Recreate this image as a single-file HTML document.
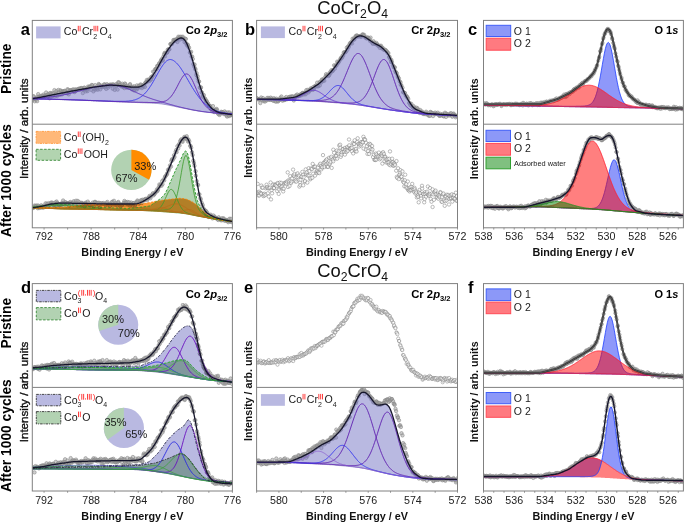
<!DOCTYPE html><html><head><meta charset="utf-8"><style>html,body{margin:0;padding:0;background:#fff;} svg{display:block;will-change:transform;} text{font-family:"Liberation Sans", sans-serif;}</style></head><body>
<svg width="685" height="522" viewBox="0 0 685 522">
<rect width="685" height="522" fill="#fff"/>
<defs>
<clipPath id="c00t"><rect x="32.3" y="20.4" width="200.10" height="103.80"/></clipPath>
<clipPath id="c00b"><rect x="32.3" y="124.2" width="200.10" height="103.60"/></clipPath>
<clipPath id="c01t"><rect x="256.6" y="20.4" width="200.90" height="103.80"/></clipPath>
<clipPath id="c01b"><rect x="256.6" y="124.2" width="200.90" height="103.60"/></clipPath>
<clipPath id="c02t"><rect x="483.5" y="20.4" width="199.90" height="103.80"/></clipPath>
<clipPath id="c02b"><rect x="483.5" y="124.2" width="199.90" height="103.60"/></clipPath>
<clipPath id="c10t"><rect x="32.3" y="283.6" width="200.10" height="103.80"/></clipPath>
<clipPath id="c10b"><rect x="32.3" y="387.4" width="200.10" height="103.60"/></clipPath>
<clipPath id="c11t"><rect x="256.6" y="283.6" width="200.90" height="103.80"/></clipPath>
<clipPath id="c11b"><rect x="256.6" y="387.4" width="200.90" height="103.60"/></clipPath>
<clipPath id="c12t"><rect x="483.5" y="283.6" width="199.90" height="103.80"/></clipPath>
<clipPath id="c12b"><rect x="483.5" y="387.4" width="199.90" height="103.60"/></clipPath>
</defs>
<g clip-path="url(#c00t)">
<defs><marker id="m0" markerWidth="5.4" markerHeight="5.4" refX="2.7" refY="2.7" markerUnits="userSpaceOnUse" overflow="visible"><circle cx="2.7" cy="2.7" r="1.7" fill="#a0a0a0" fill-opacity="0.5" stroke="#8a8a8a" stroke-width="0.6" stroke-opacity="1.0"/></marker></defs>
<polyline points="32.4,100.3 33,96.4 33.8,96.3 34.5,99.1 34.7,101.3 35.5,98.8 36.3,99.8 36.8,98 37.1,101.2 37.6,96.7 38.2,94.1 39,96.6 39.5,97.1 40.1,97.5 40.8,96.1 41.3,97.2 41.8,95.7 42.3,97.3 43.4,94.6 43.6,95.9 44.7,97 44.9,95.8 45.7,95.3 46.1,92.5 46.9,95.4 47.4,94.7 48.1,96.8 48.5,94.1 48.8,95.8 49.6,98.3 50.1,93 50.9,94.4 51.4,93.3 52.2,95.7 52.6,93.4 52.9,96 53.5,93.4 54.4,90.1 54.9,95.3 55.8,95.9 56.3,91.1 56.6,93.3 57.3,95.9 57.9,93.2 58.4,89.9 58.8,92.5 59.8,94.9 60.4,90.3 61,91.2 61.4,92.9 61.8,94.5 62.4,91.4 63.2,91.3 63.7,92.8 64.4,91 64.9,90.9 65.3,92.5 66.2,93.2 66.9,92.9 67.5,89.2 67.8,93.2 68.2,89.8 68.8,94.4 69.5,91.8 70,90.4 70.6,90.3 71.2,90.3 71.9,90.9 72.7,89.6 73.2,91.2 73.5,89.5 74.2,91.8 74.7,92.1 75.4,89.3 76.2,90.4 76.4,90 77.1,90 78,89 78.6,88.8 79.4,89.4 79.9,88.5 80.4,89.4 80.8,88.2 81.5,88.7 81.8,88 82.8,93.1 83.1,89.9 84.1,87.8 84.5,87.7 84.7,89.4 85.8,91.4 86.4,89.1 86.8,89.9 87.6,91.1 88,86.6 88.4,88 88.9,87.2 89.5,86.4 90,87.1 90.9,86.5 91.3,89.9 91.7,85 92.4,85.2 93.4,91.4 93.7,87.7 94.6,89.4 95.2,85.1 95.7,89.6 96.1,88 96.9,86.6 97.1,88.4 97.7,89.7 98.7,84 99,84.7 99.6,85.6 100.3,89.4 101.1,86.9 101.5,85.6 101.8,86.7 102.8,86.1 103.4,86.6 103.9,84.6 104.6,84.3 104.8,87.2 105.3,85.3 106.2,88.9 107,84.2 107.5,85.7 108.1,87.7 108.3,85.5 108.9,85.6 109.5,84.9 110.6,84.5 110.7,85.6 111.3,85.2 112.3,84.5 112.6,88.7 113.1,84.6 113.7,84.6 114.5,85.4 114.7,89.9 115.5,85.7 116.2,84.1 116.5,85.9 117.6,89.6 117.7,84.7 118.3,82.2 119.1,82.6 119.8,85 120.3,84.6 120.8,85.8 121.3,86.5 122.3,83.7 122.7,86.7 123.5,85 123.7,87 124.3,88.1 124.9,83.5 125.5,84.3 126.2,85.9 126.6,87.7 127.1,86.7 128,87.3 128.6,87.1 129,87.3 129.9,85.1 130.1,84.1 130.6,87 131.7,88.4 132.3,89.6 132.8,86.8 133.2,87.9 134.1,86.3 134.2,90.5 135.2,88.6 135.8,87.5 136.4,89.7 136.9,85.4 137.5,87.8 137.7,88.6 138.7,86.3 138.9,85.8 140,87.3 140.3,84.6 141.1,84.7 141.4,86.6 141.9,88.1 142.6,85.8 143.3,86.5 143.6,85.4 144.2,84.3 144.9,86.9 145.5,82.5 145.9,82.3 146.8,80 147.3,81.8 148.1,80.9 148.5,79.4 149.1,80.2 149.7,80.9 150.5,79.5 151,77.2 151.2,79.3 152.3,76.9 152.4,76.2 153.1,71.6 153.9,74.6 154.5,71.5 155.2,69.2 155.8,69 156.5,68.8 156.6,68.9 157.2,65.9 157.7,66.3 158.6,65.3 159.1,63.3 159.5,64 160.6,61.6 161.1,60.3 161.7,59.1 162.3,60.8 162.9,60.2 163.3,56.7 164.1,54.3 164.7,52.8 165,56.4 165.4,53.3 166.4,52.8 167.1,52.6 167.3,52.1 167.7,49.7 168.7,49.8 168.8,49.1 169.4,49.3 170.4,44.1 170.7,44.1 171.4,43.9 172.1,43.9 172.5,42.6 173.4,40 174.1,40.1 174.6,40.9 175.2,39.6 175.5,40.1 176,40.7 176.9,39 177.4,42 178.2,38.3 178.3,36.7 179,38.4 179.7,36.9 180,39.6 180.9,36.7 181.4,38.4 182.3,37.4 182.8,36.7 183.2,38.7 183.7,39.2 184.5,42.1 185,38.5 185.9,39 186.1,43.1 186.9,45.2 187.2,44.3 188,45 188.3,46.8 189.1,47.8 189.9,52.5 190.4,52.7 191.1,51.8 191.5,56.6 192.2,56.6 192.8,59 193.3,64.2 194.1,66.4 194.6,64.5 195.2,68.5 195.5,69.7 196.3,75.1 196.6,73.1 197.6,76.3 197.7,78.6 198.6,81.4 199.1,81.5 199.8,87.5 200.6,88.2 201,87.3 201.6,92.2 201.9,92.6 202.5,96.7 203,95.7 203.8,95 204.5,98.2 205.1,98.7 205.7,101.3 206.3,100.5 206.6,101.3 207.6,103.1 208.2,103.7 208.8,106.1 209.3,105.8 210,106.1 210.4,106.3 211.1,109.3 211.7,109.2 211.9,110.6 213,106.1 213.4,110.9 213.9,109.8 214.2,112.1 214.8,110.1 215.8,109.5 216.1,110.6 216.7,108.9 217.2,110.2 217.7,113.1 218.4,114.2 219.4,113.3 219.6,115 220.5,113.4 221.2,111.8 221.7,112.1 221.9,112.8 222.6,112.5 223.3,112.6 223.7,114 224.6,111.4 224.9,114 225.8,112.6 226.5,115.6 227.1,116.6 227.6,114.7 227.9,112.4 228.8,115.5 229.1,116.1 229.5,112.4 230.6,115.3 231,114.5 231.3,113.8 232.1,115.1" fill="none" stroke="none" marker-start="url(#m0)" marker-mid="url(#m0)" marker-end="url(#m0)"/>
<path d="M32.3,98.7 33.3,98.6 34.3,98.4 35.3,98.2 36.3,98.1 37.3,97.9 38.3,97.7 39.3,97.5 40.3,97.3 41.3,97.1 42.3,96.9 43.3,96.7 44.3,96.5 45.3,96.3 46.3,96.1 47.3,95.9 48.3,95.7 49.3,95.5 50.3,95.3 51.3,95.1 52.3,94.9 53.3,94.7 54.3,94.5 55.3,94.3 56.3,94.1 57.3,93.9 58.3,93.7 59.3,93.6 60.3,93.4 61.3,93.2 62.3,93 63.3,92.8 64.3,92.6 65.3,92.4 66.3,92.2 67.3,92 68.3,91.8 69.3,91.6 70.3,91.4 71.3,91.2 72.3,91 73.3,90.8 74.3,90.6 75.3,90.5 76.3,90.3 77.3,90.1 78.3,89.9 79.3,89.7 80.3,89.6 81.3,89.4 82.3,89.2 83.3,89 84.3,88.8 85.3,88.6 86.3,88.5 87.3,88.3 88.3,88.1 89.3,87.9 90.3,87.7 91.3,87.6 92.3,87.4 93.3,87.2 94.3,87.1 95.3,86.9 96.3,86.8 97.3,86.7 98.3,86.6 99.3,86.4 100.3,86.3 101.3,86.2 102.3,86 103.3,85.9 104.3,85.8 105.3,85.7 106.3,85.5 107.3,85.4 108.3,85.3 109.3,85.2 110.3,85.2 111.3,85.2 112.3,85.2 113.3,85.3 114.3,85.3 115.3,85.4 116.3,85.4 117.3,85.5 118.3,85.5 119.3,85.6 120.3,85.7 121.3,85.8 122.3,85.9 123.3,86.1 124.3,86.2 125.3,86.3 126.3,86.5 127.3,86.6 128.3,86.8 129.3,86.9 130.3,87 131.3,87.1 132.4,87.1 133.4,87.2 134.4,87.2 135.4,87.2 136.4,87.2 137.4,87.1 138.4,87 139.4,86.8 140.4,86.5 141.4,86.1 142.4,85.6 143.4,85 144.4,84.3 145.4,83.6 146.4,82.7 147.4,81.7 148.4,80.7 149.4,79.7 150.4,78.6 151.4,77.3 152.4,76 153.4,74.5 154.4,73 155.4,71.5 156.4,69.8 157.4,68 158.4,66.2 159.4,64.3 160.4,62.5 161.4,60.7 162.4,58.9 163.4,57.2 164.4,55.5 165.4,53.8 166.4,52.1 167.4,50.6 168.4,49.1 169.4,47.8 170.4,46.5 171.4,45.2 172.4,43.9 173.4,42.7 174.4,41.7 175.4,40.8 176.4,40.1 177.4,39.4 178.4,38.8 179.4,38.3 180.4,38 181.4,38 182.4,38.2 183.4,38.8 184.4,39.7 185.4,41.1 186.4,42.8 187.4,44.9 188.4,47.4 189.4,50.2 190.4,53.1 191.4,56.2 192.4,59.6 193.4,63.1 194.4,66.7 195.4,70.3 196.4,73.8 197.4,77.4 198.4,80.9 199.4,84.2 200.4,87.4 201.4,90.3 202.4,93 203.4,95.7 204.4,98.1 205.4,100.2 206.4,101.8 207.4,103.2 208.4,104.5 209.4,105.7 210.4,106.9 211.4,108 212.4,109 213.4,109.7 214.4,110.2 215.4,110.8 216.4,111.3 217.4,111.8 218.4,112.2 219.4,112.6 220.4,112.8 221.4,113 222.4,113.1 223.4,113.3 224.4,113.4 225.4,113.6 226.4,113.7 227.4,113.9 228.4,114.1 229.4,114.2 230.4,114.3 231.4,114.5 232.4,114.6 232.4,114.4 231.4,114.3 230.4,114.3 229.4,114.2 228.4,114.2 227.4,114.1 226.4,114.1 225.4,114 224.4,113.9 223.4,113.9 222.4,113.8 221.4,113.7 220.4,113.6 219.4,113.5 218.4,113.4 217.4,113.4 216.4,113.3 215.4,113.2 214.4,113.1 213.4,113 212.4,112.9 211.4,112.7 210.4,112.6 209.4,112.5 208.4,112.4 207.4,112.3 206.4,112.2 205.4,112 204.4,111.9 203.4,111.8 202.4,111.7 201.4,111.5 200.4,111.4 199.4,111.2 198.4,111.1 197.4,110.9 196.4,110.7 195.4,110.5 194.4,110.4 193.4,110.2 192.4,110 191.4,109.8 190.4,109.6 189.4,109.4 188.4,109.2 187.4,109 186.4,108.8 185.4,108.6 184.4,108.4 183.4,108.2 182.4,108 181.4,107.8 180.4,107.6 179.4,107.4 178.4,107.2 177.4,107 176.4,106.8 175.4,106.5 174.4,106.3 173.4,106.1 172.4,105.9 171.4,105.7 170.4,105.5 169.4,105.3 168.4,105.1 167.4,104.9 166.4,104.7 165.4,104.5 164.4,104.4 163.4,104.2 162.4,104.1 161.4,103.9 160.4,103.8 159.4,103.7 158.4,103.6 157.4,103.5 156.4,103.4 155.4,103.4 154.4,103.3 153.4,103.2 152.4,103.2 151.4,103.1 150.4,103.1 149.4,103 148.4,103 147.4,103 146.4,102.9 145.4,102.9 144.4,102.8 143.4,102.8 142.4,102.8 141.4,102.7 140.4,102.7 139.4,102.6 138.4,102.6 137.4,102.6 136.4,102.5 135.4,102.5 134.4,102.4 133.4,102.4 132.4,102.4 131.3,102.3 130.3,102.3 129.3,102.3 128.3,102.2 127.3,102.2 126.3,102.1 125.3,102.1 124.3,102.1 123.3,102 122.3,102 121.3,101.9 120.3,101.9 119.3,101.9 118.3,101.8 117.3,101.8 116.3,101.7 115.3,101.7 114.3,101.7 113.3,101.6 112.3,101.6 111.3,101.5 110.3,101.5 109.3,101.4 108.3,101.4 107.3,101.4 106.3,101.3 105.3,101.3 104.3,101.2 103.3,101.2 102.3,101.1 101.3,101.1 100.3,101.1 99.3,101 98.3,101 97.3,100.9 96.3,100.9 95.3,100.8 94.3,100.8 93.3,100.8 92.3,100.7 91.3,100.7 90.3,100.6 89.3,100.6 88.3,100.6 87.3,100.5 86.3,100.5 85.3,100.4 84.3,100.4 83.3,100.3 82.3,100.3 81.3,100.3 80.3,100.2 79.3,100.2 78.3,100.1 77.3,100.1 76.3,100.1 75.3,100 74.3,100 73.3,100 72.3,99.9 71.3,99.9 70.3,99.8 69.3,99.8 68.3,99.8 67.3,99.8 66.3,99.7 65.3,99.7 64.3,99.7 63.3,99.6 62.3,99.6 61.3,99.6 60.3,99.6 59.3,99.5 58.3,99.5 57.3,99.5 56.3,99.5 55.3,99.4 54.3,99.4 53.3,99.4 52.3,99.3 51.3,99.3 50.3,99.3 49.3,99.3 48.3,99.2 47.3,99.2 46.3,99.2 45.3,99.2 44.3,99.1 43.3,99.1 42.3,99.1 41.3,99 40.3,99 39.3,99 38.3,99 37.3,99 36.3,98.9 35.3,98.9 34.3,98.9 33.3,98.9 32.3,98.9Z" fill="#7373c3" fill-opacity="0.5" stroke="none"/>
<path d="M32.3,98.9 33.3,98.9 34.3,98.9 35.3,98.9 36.3,98.9 37.3,99 38.3,99 39.3,99 40.3,99 41.3,99 42.3,99.1 43.3,99.1 44.3,99.1 45.3,99.2 46.3,99.2 47.3,99.2 48.3,99.2 49.3,99.3 50.3,99.3 51.3,99.3 52.3,99.3 53.3,99.4 54.3,99.4 55.3,99.4 56.3,99.5 57.3,99.5 58.3,99.5 59.3,99.5 60.3,99.6 61.3,99.6 62.3,99.6 63.3,99.6 64.3,99.7 65.3,99.7 66.3,99.7 67.3,99.8 68.3,99.8 69.3,99.8 70.3,99.8 71.3,99.9 72.3,99.9 73.3,100 74.3,100 75.3,100 76.3,100.1 77.3,100.1 78.3,100.1 79.3,100.2 80.3,100.2 81.3,100.3 82.3,100.3 83.3,100.3 84.3,100.4 85.3,100.4 86.3,100.5 87.3,100.5 88.3,100.6 89.3,100.6 90.3,100.6 91.3,100.7 92.3,100.7 93.3,100.8 94.3,100.8 95.3,100.8 96.3,100.9 97.3,100.9 98.3,101 99.3,101 100.3,101.1 101.3,101.1 102.3,101.1 103.3,101.2 104.3,101.2 105.3,101.3 106.3,101.3 107.3,101.4 108.3,101.4 109.3,101.4 110.3,101.5 111.3,101.5 112.3,101.6 113.3,101.6 114.3,101.7 115.3,101.7 116.3,101.7 117.3,101.8 118.3,101.8 119.3,101.9 120.3,101.9 121.3,101.9 122.3,102 123.3,102 124.3,102.1 125.3,102.1 126.3,102.1 127.3,102.2 128.3,102.2 129.3,102.3 130.3,102.3 131.3,102.3 132.4,102.4 133.4,102.4 134.4,102.4 135.4,102.5 136.4,102.5 137.4,102.6 138.4,102.6 139.4,102.6 140.4,102.7 141.4,102.7 142.4,102.8 143.4,102.8 144.4,102.8 145.4,102.9 146.4,102.9 147.4,103 148.4,103 149.4,103 150.4,103.1 151.4,103.1 152.4,103.2 153.4,103.2 154.4,103.3 155.4,103.4 156.4,103.4 157.4,103.5 158.4,103.6 159.4,103.7 160.4,103.8 161.4,103.9 162.4,104.1 163.4,104.2 164.4,104.4 165.4,104.5 166.4,104.7 167.4,104.9 168.4,105.1 169.4,105.3 170.4,105.5 171.4,105.7 172.4,105.9 173.4,106.1 174.4,106.3 175.4,106.5 176.4,106.8 177.4,107 178.4,107.2 179.4,107.4 180.4,107.6 181.4,107.8 182.4,108 183.4,108.2 184.4,108.4 185.4,108.6 186.4,108.8 187.4,109 188.4,109.2 189.4,109.4 190.4,109.6 191.4,109.8 192.4,110 193.4,110.2 194.4,110.4 195.4,110.5 196.4,110.7 197.4,110.9 198.4,111.1 199.4,111.2 200.4,111.4 201.4,111.5 202.4,111.7 203.4,111.8 204.4,111.9 205.4,112 206.4,112.2 207.4,112.3 208.4,112.4 209.4,112.5 210.4,112.6 211.4,112.7 212.4,112.9 213.4,113 214.4,113.1 215.4,113.2 216.4,113.3 217.4,113.4 218.4,113.4 219.4,113.5 220.4,113.6 221.4,113.7 222.4,113.8 223.4,113.9 224.4,113.9 225.4,114 226.4,114.1 227.4,114.1 228.4,114.2 229.4,114.2 230.4,114.3 231.4,114.3 232.4,114.4" fill="none" stroke="#6a5ab0" stroke-width="0.6" stroke-opacity="1.0" stroke-linejoin="round"/>
<path d="M32.3,98.1 33.3,98 34.3,98 35.3,98 36.3,97.9 37.3,97.9 38.3,97.8 39.3,97.8 40.3,97.7 41.3,97.7 42.3,97.6 43.3,97.6 44.3,97.5 45.3,97.4 46.3,97.3 47.3,97.2 48.3,97.2 49.3,97.1 50.3,96.9 51.3,96.8 52.3,96.7 53.3,96.6 54.3,96.5 55.3,96.3 56.3,96.2 57.3,96 58.3,95.9 59.3,95.7 60.3,95.5 61.3,95.3 62.3,95.1 63.3,95 64.3,94.7 65.3,94.5 66.3,94.3 67.3,94.1 68.3,93.9 69.3,93.6 70.3,93.4 71.3,93.2 72.3,92.9 73.3,92.6 74.3,92.4 75.3,92.1 76.3,91.9 77.3,91.6 78.3,91.3 79.3,91.1 80.3,90.8 81.3,90.5 82.3,90.2 83.3,90 84.3,89.7 85.3,89.4 86.3,89.1 87.3,88.9 88.3,88.6 89.3,88.3 90.3,88.1 91.3,87.8 92.3,87.6 93.3,87.3 94.3,87.1 95.3,86.9 96.3,86.7 97.3,86.5 98.3,86.3 99.3,86.1 100.3,85.9 101.3,85.8 102.3,85.6 103.3,85.5 104.3,85.4 105.3,85.3 106.3,85.2 107.3,85.1 108.3,85.1 109.3,85.1 110.3,85 111.3,85 112.3,85.1 113.3,85.1 114.3,85.2 115.3,85.3 116.3,85.4 117.3,85.6 118.3,85.8 119.3,86 120.3,86.2 121.3,86.5 122.3,86.8 123.3,87.1 124.3,87.4 125.3,87.8 126.3,88.2 127.3,88.6 128.3,89 129.3,89.4 130.3,89.8 131.3,90.3 132.4,90.7 133.4,91.2 134.4,91.6 135.4,92.1 136.4,92.6 137.4,93 138.4,93.5 139.4,93.9 140.4,94.4 141.4,94.8 142.4,95.2 143.4,95.7 144.4,96.1 145.4,96.5 146.4,96.9 147.4,97.3 148.4,97.7 149.4,98 150.4,98.4 151.4,98.7 152.4,99.1 153.4,99.4 154.4,99.7 155.4,100 156.4,100.3 157.4,100.6 158.4,100.9 159.4,101.2 160.4,101.5 161.4,101.8 162.4,102.1 163.4,102.4 164.4,102.7 165.4,103 166.4,103.3 167.4,103.6 168.4,103.9 169.4,104.2 170.4,104.5 171.4,104.7 172.4,105 173.4,105.3 174.4,105.6 175.4,105.9 176.4,106.1 177.4,106.4 178.4,106.6 179.4,106.9 180.4,107.1 181.4,107.4 182.4,107.6 183.4,107.8 184.4,108.1 185.4,108.3 186.4,108.5 187.4,108.7 188.4,109 189.4,109.2 190.4,109.4 191.4,109.6 192.4,109.8 193.4,110 194.4,110.2 195.4,110.3 196.4,110.5 197.4,110.7 198.4,110.9 199.4,111 200.4,111.2 201.4,111.4 202.4,111.5 203.4,111.6 204.4,111.8 205.4,111.9 206.4,112 207.4,112.2 208.4,112.3 209.4,112.4 210.4,112.5 211.4,112.6 212.4,112.7 213.4,112.8 214.4,112.9 215.4,113.1 216.4,113.2 217.4,113.2 218.4,113.3 219.4,113.4 220.4,113.5 221.4,113.6 222.4,113.7 223.4,113.8 224.4,113.8 225.4,113.9 226.4,114 227.4,114 228.4,114.1 229.4,114.2 230.4,114.2 231.4,114.3 232.4,114.3" fill="none" stroke="#5a2ab8" stroke-width="0.9" stroke-opacity="1.0" stroke-linejoin="round"/>
<path d="M32.3,98.8 33.3,98.8 34.3,98.8 35.3,98.8 36.3,98.9 37.3,98.9 38.3,98.9 39.3,98.9 40.3,98.9 41.3,99 42.3,99 43.3,99 44.3,99 45.3,99.1 46.3,99.1 47.3,99.1 48.3,99.1 49.3,99.2 50.3,99.2 51.3,99.2 52.3,99.2 53.3,99.3 54.3,99.3 55.3,99.3 56.3,99.4 57.3,99.4 58.3,99.4 59.3,99.4 60.3,99.5 61.3,99.5 62.3,99.5 63.3,99.5 64.3,99.6 65.3,99.6 66.3,99.6 67.3,99.6 68.3,99.7 69.3,99.7 70.3,99.7 71.3,99.8 72.3,99.8 73.3,99.8 74.3,99.8 75.3,99.9 76.3,99.9 77.3,100 78.3,100 79.3,100 80.3,100.1 81.3,100.1 82.3,100.1 83.3,100.2 84.3,100.2 85.3,100.3 86.3,100.3 87.3,100.3 88.3,100.4 89.3,100.4 90.3,100.4 91.3,100.5 92.3,100.5 93.3,100.6 94.3,100.6 95.3,100.6 96.3,100.7 97.3,100.7 98.3,100.7 99.3,100.8 100.3,100.8 101.3,100.8 102.3,100.9 103.3,100.9 104.3,100.9 105.3,101 106.3,101 107.3,101 108.3,101.1 109.3,101.1 110.3,101.1 111.3,101.2 112.3,101.2 113.3,101.2 114.3,101.3 115.3,101.3 116.3,101.3 117.3,101.3 118.3,101.3 119.3,101.3 120.3,101.3 121.3,101.3 122.3,101.3 123.3,101.3 124.3,101.3 125.3,101.3 126.3,101.2 127.3,101.1 128.3,101.1 129.3,100.9 130.3,100.8 131.3,100.7 132.4,100.5 133.4,100.2 134.4,100 135.4,99.7 136.4,99.3 137.4,98.9 138.4,98.4 139.4,97.9 140.4,97.2 141.4,96.6 142.4,95.8 143.4,94.9 144.4,94 145.4,92.9 146.4,91.8 147.4,90.6 148.4,89.2 149.4,87.8 150.4,86.3 151.4,84.8 152.4,83.1 153.4,81.4 154.4,79.6 155.4,77.8 156.4,76 157.4,74.2 158.4,72.4 159.4,70.7 160.4,68.9 161.4,67.3 162.4,65.8 163.4,64.4 164.4,63.1 165.4,62 166.4,61.1 167.4,60.4 168.4,59.9 169.4,59.6 170.4,59.5 171.4,59.7 172.4,60 173.4,60.5 174.4,61.2 175.4,62 176.4,62.9 177.4,63.9 178.4,65.1 179.4,66.3 180.4,67.7 181.4,69.2 182.4,70.7 183.4,72.3 184.4,73.9 185.4,75.6 186.4,77.3 187.4,79 188.4,80.7 189.4,82.5 190.4,84.2 191.4,85.9 192.4,87.6 193.4,89.2 194.4,90.8 195.4,92.3 196.4,93.8 197.4,95.2 198.4,96.6 199.4,97.9 200.4,99.2 201.4,100.3 202.4,101.4 203.4,102.5 204.4,103.4 205.4,104.3 206.4,105.2 207.4,106 208.4,106.7 209.4,107.4 210.4,108 211.4,108.6 212.4,109.1 213.4,109.6 214.4,110 215.4,110.5 216.4,110.8 217.4,111.2 218.4,111.5 219.4,111.8 220.4,112 221.4,112.3 222.4,112.5 223.4,112.7 224.4,112.8 225.4,113 226.4,113.2 227.4,113.3 228.4,113.4 229.4,113.5 230.4,113.6 231.4,113.7 232.4,113.8" fill="none" stroke="#3535ee" stroke-width="0.9" stroke-opacity="1.0" stroke-linejoin="round"/>
<path d="M32.3,98.8 33.3,98.8 34.3,98.9 35.3,98.9 36.3,98.9 37.3,98.9 38.3,98.9 39.3,99 40.3,99 41.3,99 42.3,99 43.3,99.1 44.3,99.1 45.3,99.1 46.3,99.1 47.3,99.2 48.3,99.2 49.3,99.2 50.3,99.2 51.3,99.3 52.3,99.3 53.3,99.3 54.3,99.3 55.3,99.4 56.3,99.4 57.3,99.4 58.3,99.5 59.3,99.5 60.3,99.5 61.3,99.5 62.3,99.6 63.3,99.6 64.3,99.6 65.3,99.6 66.3,99.7 67.3,99.7 68.3,99.7 69.3,99.8 70.3,99.8 71.3,99.8 72.3,99.9 73.3,99.9 74.3,99.9 75.3,100 76.3,100 77.3,100 78.3,100.1 79.3,100.1 80.3,100.1 81.3,100.2 82.3,100.2 83.3,100.3 84.3,100.3 85.3,100.3 86.3,100.4 87.3,100.4 88.3,100.5 89.3,100.5 90.3,100.5 91.3,100.6 92.3,100.6 93.3,100.7 94.3,100.7 95.3,100.7 96.3,100.8 97.3,100.8 98.3,100.9 99.3,100.9 100.3,100.9 101.3,101 102.3,101 103.3,101.1 104.3,101.1 105.3,101.1 106.3,101.2 107.3,101.2 108.3,101.3 109.3,101.3 110.3,101.3 111.3,101.4 112.3,101.4 113.3,101.5 114.3,101.5 115.3,101.5 116.3,101.6 117.3,101.6 118.3,101.6 119.3,101.7 120.3,101.7 121.3,101.7 122.3,101.8 123.3,101.8 124.3,101.8 125.3,101.9 126.3,101.9 127.3,101.9 128.3,102 129.3,102 130.3,102 131.3,102.1 132.4,102.1 133.4,102.1 134.4,102.1 135.4,102.2 136.4,102.2 137.4,102.2 138.4,102.3 139.4,102.3 140.4,102.3 141.4,102.3 142.4,102.3 143.4,102.4 144.4,102.4 145.4,102.4 146.4,102.4 147.4,102.4 148.4,102.5 149.4,102.5 150.4,102.5 151.4,102.5 152.4,102.5 153.4,102.5 154.4,102.5 155.4,102.5 156.4,102.5 157.4,102.4 158.4,102.4 159.4,102.3 160.4,102.2 161.4,102.1 162.4,101.9 163.4,101.7 164.4,101.3 165.4,101 166.4,100.5 167.4,99.9 168.4,99.1 169.4,98.3 170.4,97.2 171.4,96.1 172.4,94.7 173.4,93.3 174.4,91.6 175.4,89.9 176.4,88.1 177.4,86.2 178.4,84.2 179.4,82.3 180.4,80.4 181.4,78.7 182.4,77.2 183.4,75.8 184.4,74.8 185.4,74.2 186.4,73.9 187.4,74.1 188.4,74.6 189.4,75.6 190.4,76.9 191.4,78.6 192.4,80.4 193.4,82.5 194.4,84.8 195.4,87.1 196.4,89.4 197.4,91.7 198.4,93.9 199.4,96.1 200.4,98.1 201.4,99.9 202.4,101.7 203.4,103.2 204.4,104.6 205.4,105.8 206.4,106.9 207.4,107.9 208.4,108.7 209.4,109.4 210.4,110 211.4,110.5 212.4,110.9 213.4,111.3 214.4,111.6 215.4,111.9 216.4,112.1 217.4,112.3 218.4,112.5 219.4,112.7 220.4,112.9 221.4,113 222.4,113.1 223.4,113.2 224.4,113.3 225.4,113.4 226.4,113.5 227.4,113.6 228.4,113.7 229.4,113.8 230.4,113.9 231.4,113.9 232.4,114" fill="none" stroke="#6020b0" stroke-width="0.9" stroke-opacity="1.0" stroke-linejoin="round"/>
<path d="M32.3,98.7 33.3,98.6 34.3,98.4 35.3,98.2 36.3,98.1 37.3,97.9 38.3,97.7 39.3,97.5 40.3,97.3 41.3,97.1 42.3,96.9 43.3,96.7 44.3,96.5 45.3,96.3 46.3,96.1 47.3,95.9 48.3,95.7 49.3,95.5 50.3,95.3 51.3,95.1 52.3,94.9 53.3,94.7 54.3,94.5 55.3,94.3 56.3,94.1 57.3,93.9 58.3,93.7 59.3,93.6 60.3,93.4 61.3,93.2 62.3,93 63.3,92.8 64.3,92.6 65.3,92.4 66.3,92.2 67.3,92 68.3,91.8 69.3,91.6 70.3,91.4 71.3,91.2 72.3,91 73.3,90.8 74.3,90.6 75.3,90.5 76.3,90.3 77.3,90.1 78.3,89.9 79.3,89.7 80.3,89.6 81.3,89.4 82.3,89.2 83.3,89 84.3,88.8 85.3,88.6 86.3,88.5 87.3,88.3 88.3,88.1 89.3,87.9 90.3,87.7 91.3,87.6 92.3,87.4 93.3,87.2 94.3,87.1 95.3,86.9 96.3,86.8 97.3,86.7 98.3,86.6 99.3,86.4 100.3,86.3 101.3,86.2 102.3,86 103.3,85.9 104.3,85.8 105.3,85.7 106.3,85.5 107.3,85.4 108.3,85.3 109.3,85.2 110.3,85.2 111.3,85.2 112.3,85.2 113.3,85.3 114.3,85.3 115.3,85.4 116.3,85.4 117.3,85.5 118.3,85.5 119.3,85.6 120.3,85.7 121.3,85.8 122.3,85.9 123.3,86.1 124.3,86.2 125.3,86.3 126.3,86.5 127.3,86.6 128.3,86.8 129.3,86.9 130.3,87 131.3,87.1 132.4,87.1 133.4,87.2 134.4,87.2 135.4,87.2 136.4,87.2 137.4,87.1 138.4,87 139.4,86.8 140.4,86.5 141.4,86.1 142.4,85.6 143.4,85 144.4,84.3 145.4,83.6 146.4,82.7 147.4,81.7 148.4,80.7 149.4,79.7 150.4,78.6 151.4,77.3 152.4,76 153.4,74.5 154.4,73 155.4,71.5 156.4,69.8 157.4,68 158.4,66.2 159.4,64.3 160.4,62.5 161.4,60.7 162.4,58.9 163.4,57.2 164.4,55.5 165.4,53.8 166.4,52.1 167.4,50.6 168.4,49.1 169.4,47.8 170.4,46.5 171.4,45.2 172.4,43.9 173.4,42.7 174.4,41.7 175.4,40.8 176.4,40.1 177.4,39.4 178.4,38.8 179.4,38.3 180.4,38 181.4,38 182.4,38.2 183.4,38.8 184.4,39.7 185.4,41.1 186.4,42.8 187.4,44.9 188.4,47.4 189.4,50.2 190.4,53.1 191.4,56.2 192.4,59.6 193.4,63.1 194.4,66.7 195.4,70.3 196.4,73.8 197.4,77.4 198.4,80.9 199.4,84.2 200.4,87.4 201.4,90.3 202.4,93 203.4,95.7 204.4,98.1 205.4,100.2 206.4,101.8 207.4,103.2 208.4,104.5 209.4,105.7 210.4,106.9 211.4,108 212.4,109 213.4,109.7 214.4,110.2 215.4,110.8 216.4,111.3 217.4,111.8 218.4,112.2 219.4,112.6 220.4,112.8 221.4,113 222.4,113.1 223.4,113.3 224.4,113.4 225.4,113.6 226.4,113.7 227.4,113.9 228.4,114.1 229.4,114.2 230.4,114.3 231.4,114.5 232.4,114.6" fill="none" stroke="#15152a" stroke-width="1.3" stroke-opacity="1.0" stroke-linejoin="round"/>
</g>
<rect x="36.1" y="26.4" width="24.5" height="12" fill="#7373c3" fill-opacity="0.5"/>
<text x="63.80" y="35.10" font-size="10.6" fill="#1a1a1a">Co</text>
<rect x="77.80" y="25.80" width="0.9" height="5.50" fill="#ff2a2a"/>
<rect x="79.65" y="25.80" width="0.9" height="5.50" fill="#ff2a2a"/>
<text x="81.95" y="35.10" font-size="10.6" fill="#1a1a1a">Cr</text>
<text x="93.14" y="38.90" font-size="7" fill="#1a1a1a">2</text>
<rect x="93.59" y="25.80" width="0.9" height="5.50" fill="#ff2a2a"/>
<rect x="95.44" y="25.80" width="0.9" height="5.50" fill="#ff2a2a"/>
<rect x="97.29" y="25.80" width="0.9" height="5.50" fill="#ff2a2a"/>
<text x="99.59" y="35.10" font-size="10.6" fill="#1a1a1a">O</text>
<text x="107.83" y="38.90" font-size="7" fill="#1a1a1a">4</text>
<g clip-path="url(#c00b)">
<polyline points="32.9,208.1 33.1,207.5 34.2,207.3 34.5,205.5 35.4,206 35.8,206.2 36.6,205.5 37.6,208.2 38.2,205.5 38.5,206.4 39,208.1 39.9,206.8 40.6,207.7 41.3,205.3 41.8,207.3 42.4,206.2 43.3,207.8 43.8,205.7 44.9,206.1 45.6,203.3 46.1,205.5 46.9,203.8 47.6,206 48.1,206.6 48.6,203.1 49.6,204.1 50,204.9 50.9,203 51.5,202.4 52.2,204.3 52.8,202.9 53.2,203.9 54.1,205.1 54.5,206.1 55.6,202.3 56.1,206.5 56.6,201.5 57.4,203.1 57.9,203.7 58.9,204.7 59.4,205.3 60.1,204.2 60.9,203.8 61,205.1 62.1,202.9 62.9,204 63.1,200.5 63.8,202.7 64.5,204.1 65.4,202.2 65.7,202.6 66.8,203.7 67.1,203.4 68.1,203.1 68.4,203.1 69.1,205.6 69.8,202.7 70.4,202 71.6,203.4 71.9,203.5 72.7,203.2 73.2,202.6 73.7,201.2 74.8,204 75.6,203.4 76.1,200.7 76.6,203.6 77.2,205.2 77.8,200.9 78.4,204.2 79.4,202.2 79.8,204.4 80.9,203.3 81.3,205.2 81.7,202.8 82.4,203.2 83,203.8 84.1,204 84.7,206.5 85.6,203.2 85.8,202.6 86.7,203.9 87.4,204.2 87.8,201.6 88.6,203.5 89,203.6 89.9,205.2 90.5,205 91.1,204 91.8,204.5 92.7,202.6 93.4,203.9 93.8,206.5 94.8,201.9 95.3,202 95.7,203.6 96.6,203 97.1,203.6 98.2,202.7 98.9,205 99.4,202.9 99.9,207.4 100.4,203.6 101.2,203.3 102.2,203.8 102.6,203.7 103.3,203 104.1,204 104.4,203.7 105.6,205.2 105.7,204 106.7,203.1 107.3,201.9 107.9,204.5 108.4,204.4 109.5,204.4 110.1,205.9 110.4,203.5 111.4,204.4 112,201.9 112.6,201.8 113.2,204.6 114,200.8 114.9,204.5 115.6,204.6 115.8,203.1 116.7,203.9 117.4,205.4 118.3,201.9 118.4,202.8 119.3,204.7 120,204 120.4,206.4 121.6,205.4 122.1,204.8 122.5,204.8 123.4,203.4 124,202.7 124.4,200.9 125.5,203.2 125.8,202 126.5,203.8 127.6,202 128,204.5 129,204.3 129.1,202.3 130,205.7 130.9,204.3 131.2,202.5 132,203.9 132.8,205.9 133.3,203.2 134.3,202.9 134.8,205.8 135.5,204.5 136.1,203.1 136.6,202 137.4,200.5 137.7,201.5 138.9,203.6 139.4,203.1 140.3,202.5 140.8,200.3 141.6,200.4 141.8,202.9 142.5,199.7 143.5,200.4 144.2,200.3 144.5,199.5 145.2,199.2 146.1,198.7 147,199.2 147.1,200.4 148.2,198.2 148.8,197.9 149.5,195.9 149.9,196.9 150.4,198.3 151.1,196.2 152.2,194.6 152.9,193.3 153.5,195.4 154.2,194.2 154.6,193.9 155.3,192.5 156.1,191.8 157,189.4 157.3,191.2 158,189.8 158.8,187.2 159.4,184.4 159.8,185.9 160.9,184.4 161.5,185.8 162.1,181.2 162.5,184.2 163.4,179.7 164.2,180.4 164.9,177.2 165.2,176.5 166,175.6 167,174.3 167.1,173.4 168,169.8 168.6,170.7 169.2,168.8 170,165.4 171,166.6 171.3,161.1 171.9,159.3 172.5,160.3 173.5,158.6 174,155.2 174.5,157 175.6,151.8 176.2,150 176.6,152.2 177.4,146.2 178.2,148.5 178.9,144.2 179.6,145.5 180.3,141.3 180.6,140.4 181.3,139.3 182,141.2 182.6,141.8 183.4,138.8 184.3,136.9 184.5,138.5 185.3,137.4 186.3,139.1 186.7,136.2 187.4,138.6 188,141.6 188.6,139.8 189.3,141.4 190.3,145.6 190.5,146.3 191.2,147.7 192,152.2 192.6,155 193.3,160.7 194,163 194.5,165.8 195.6,171.2 195.8,175.7 196.7,181.1 197.5,184.4 198.1,185.1 198.7,194.3 199.4,194.3 200.3,198.1 200.8,199.4 201.7,202.7 202.3,206.1 202.7,204.9 203.4,208.3 204.3,209.8 204.5,211.7 205.6,210.8 205.8,210.9 206.4,214.6 207.2,212.5 207.8,214.1 208.8,217 209.5,216.4 209.8,215.5 210.7,214.7 211.4,216.7 211.8,217 212.5,218.4 213.4,215.5 214.2,217.5 214.7,216.7 215.2,217.9 215.9,218.1 216.5,218.1 217.5,219.3 218.3,220 218.7,217.3 219.6,219 220.3,219.4 220.8,219.4 221.3,220.4 222,218.2 222.9,220.1 223.6,218.3 223.9,219.2 224.9,220.9 225.5,220 226.2,220 226.8,220.1 227.2,221 228.2,222.2 228.8,220.7 229.4,218.8 229.8,221.3 230.9,218.8 231.5,222.1 231.8,221.6" fill="none" stroke="none" marker-start="url(#m0)" marker-mid="url(#m0)" marker-end="url(#m0)"/>
<path d="M32.3,208 33.3,208 34.3,208 35.3,208 36.3,208 37.3,207.9 38.3,207.9 39.3,207.9 40.3,207.9 41.3,207.9 42.3,207.9 43.3,207.9 44.3,207.9 45.3,207.9 46.3,207.8 47.3,207.8 48.3,207.8 49.3,207.8 50.3,207.8 51.3,207.7 52.3,207.7 53.3,207.7 54.3,207.6 55.3,207.6 56.3,207.5 57.3,207.5 58.3,207.5 59.3,207.4 60.3,207.4 61.3,207.3 62.3,207.3 63.3,207.2 64.3,207.2 65.3,207.1 66.3,207 67.3,206.9 68.3,206.8 69.3,206.7 70.3,206.6 71.3,206.4 72.3,206.3 73.3,206.2 74.3,206.1 75.3,205.9 76.3,205.8 77.3,205.7 78.3,205.5 79.3,205.4 80.3,205.3 81.3,205.1 82.3,205 83.3,204.9 84.3,204.8 85.3,204.7 86.3,204.6 87.3,204.6 88.3,204.6 89.3,204.6 90.3,204.6 91.3,204.6 92.3,204.6 93.3,204.6 94.3,204.6 95.3,204.6 96.3,204.6 97.3,204.6 98.3,204.6 99.3,204.6 100.3,204.6 101.3,204.6 102.3,204.6 103.3,204.6 104.3,204.6 105.3,204.6 106.3,204.6 107.3,204.6 108.3,204.6 109.3,204.6 110.3,204.6 111.3,204.6 112.3,204.5 113.3,204.5 114.3,204.5 115.3,204.5 116.3,204.5 117.3,204.5 118.3,204.5 119.3,204.5 120.3,204.5 121.3,204.5 122.3,204.5 123.3,204.5 124.3,204.5 125.3,204.5 126.3,204.5 127.3,204.5 128.3,204.5 129.3,204.5 130.3,204.5 131.3,204.5 132.4,204.5 133.4,204.5 134.4,204.5 135.4,204.5 136.4,204.5 137.4,204.4 138.4,204.3 139.4,204.2 140.4,204.1 141.4,203.9 142.4,203.8 143.4,203.6 144.4,203.4 145.4,203.3 146.4,203.1 147.4,202.9 148.4,202.8 149.4,202.6 150.4,202.4 151.4,202.2 152.4,202 153.4,201.8 154.4,201.6 155.4,201.4 156.4,201.2 157.4,201 158.4,200.8 159.4,200.7 160.4,200.5 161.4,200.4 162.4,200.2 163.4,200.1 164.4,200 165.4,199.8 166.4,199.7 167.4,199.6 168.4,199.5 169.4,199.3 170.4,199.2 171.4,199.1 172.4,199 173.4,198.9 174.4,198.8 175.4,198.7 176.4,198.6 177.4,198.5 178.4,198.4 179.4,198.3 180.4,198.3 181.4,198.4 182.4,198.5 183.4,198.6 184.4,198.8 185.4,199 186.4,199.3 187.4,199.6 188.4,199.9 189.4,200.4 190.4,200.9 191.4,201.5 192.4,202 193.4,202.7 194.4,203.3 195.4,204 196.4,204.8 197.4,205.7 198.4,206.6 199.4,207.5 200.4,208.4 201.4,209.4 202.4,210.4 203.4,211.3 204.4,212.2 205.4,213.1 206.4,213.9 207.4,214.6 208.4,215.3 209.4,215.9 210.4,216.4 211.4,216.9 212.4,217.2 213.4,217.6 214.4,217.9 215.4,218.3 216.4,218.6 217.4,218.9 218.4,219.2 219.4,219.5 220.4,219.8 221.4,220 222.4,220.2 223.4,220.3 224.4,220.5 225.4,220.6 226.4,220.8 227.4,221 228.4,221.1 229.4,221.3 230.4,221.4 231.4,221.6 232.4,221.7 232.4,221.5 231.4,221.4 230.4,221.3 229.4,221.2 228.4,221.1 227.4,220.9 226.4,220.8 225.4,220.6 224.4,220.5 223.4,220.3 222.4,220.2 221.4,220 220.4,219.9 219.4,219.7 218.4,219.6 217.4,219.4 216.4,219.3 215.4,219.1 214.4,219 213.4,218.8 212.4,218.7 211.4,218.5 210.4,218.3 209.4,218.2 208.4,218 207.4,217.8 206.4,217.7 205.4,217.5 204.4,217.3 203.4,217.1 202.4,217 201.4,216.8 200.4,216.6 199.4,216.4 198.4,216.2 197.4,216 196.4,215.8 195.4,215.6 194.4,215.4 193.4,215.2 192.4,215 191.4,214.8 190.4,214.6 189.4,214.4 188.4,214.3 187.4,214.1 186.4,213.9 185.4,213.8 184.4,213.6 183.4,213.5 182.4,213.4 181.4,213.2 180.4,213.1 179.4,213.1 178.4,213 177.4,212.9 176.4,212.8 175.4,212.7 174.4,212.6 173.4,212.5 172.4,212.5 171.4,212.4 170.4,212.3 169.4,212.2 168.4,212.1 167.4,212 166.4,212 165.4,211.9 164.4,211.8 163.4,211.7 162.4,211.7 161.4,211.6 160.4,211.5 159.4,211.5 158.4,211.4 157.4,211.4 156.4,211.3 155.4,211.2 154.4,211.2 153.4,211.1 152.4,211.1 151.4,211 150.4,211 149.4,210.9 148.4,210.9 147.4,210.8 146.4,210.7 145.4,210.7 144.4,210.6 143.4,210.6 142.4,210.6 141.4,210.5 140.4,210.5 139.4,210.4 138.4,210.4 137.4,210.4 136.4,210.3 135.4,210.3 134.4,210.3 133.4,210.3 132.4,210.2 131.3,210.2 130.3,210.2 129.3,210.2 128.3,210.2 127.3,210.1 126.3,210.1 125.3,210.1 124.3,210.1 123.3,210.1 122.3,210 121.3,210 120.3,210 119.3,210 118.3,210 117.3,209.9 116.3,209.9 115.3,209.9 114.3,209.9 113.3,209.9 112.3,209.8 111.3,209.8 110.3,209.8 109.3,209.8 108.3,209.8 107.3,209.7 106.3,209.7 105.3,209.7 104.3,209.7 103.3,209.7 102.3,209.6 101.3,209.6 100.3,209.6 99.3,209.6 98.3,209.6 97.3,209.5 96.3,209.5 95.3,209.5 94.3,209.5 93.3,209.5 92.3,209.4 91.3,209.4 90.3,209.4 89.3,209.4 88.3,209.4 87.3,209.3 86.3,209.3 85.3,209.3 84.3,209.3 83.3,209.3 82.3,209.2 81.3,209.2 80.3,209.2 79.3,209.2 78.3,209.2 77.3,209.1 76.3,209.1 75.3,209.1 74.3,209.1 73.3,209.1 72.3,209 71.3,209 70.3,209 69.3,209 68.3,209 67.3,208.9 66.3,208.9 65.3,208.9 64.3,208.9 63.3,208.9 62.3,208.8 61.3,208.8 60.3,208.8 59.3,208.8 58.3,208.7 57.3,208.7 56.3,208.7 55.3,208.6 54.3,208.6 53.3,208.6 52.3,208.5 51.3,208.5 50.3,208.5 49.3,208.4 48.3,208.4 47.3,208.3 46.3,208.3 45.3,208.3 44.3,208.2 43.3,208.2 42.3,208.2 41.3,208.1 40.3,208.1 39.3,208.1 38.3,208 37.3,208 36.3,208 35.3,207.9 34.3,207.9 33.3,207.9 32.3,207.9Z" fill="#ff9a38" style="mix-blend-mode:multiply"/>
<path d="M32.3,207.9 33.3,207.7 34.3,207.6 35.3,207.4 36.3,207.2 37.3,207 38.3,206.8 39.3,206.6 40.3,206.4 41.3,206.2 42.3,206 43.3,205.8 44.3,205.6 45.3,205.4 46.3,205.2 47.3,205 48.3,204.8 49.3,204.6 50.3,204.5 51.3,204.4 52.3,204.3 53.3,204.3 54.3,204.3 55.3,204.3 56.3,204.3 57.3,204.3 58.3,204.2 59.3,204.2 60.3,204.2 61.3,204.2 62.3,204.2 63.3,204.2 64.3,204.2 65.3,204.3 66.3,204.3 67.3,204.4 68.3,204.5 69.3,204.6 70.3,204.7 71.3,204.8 72.3,204.9 73.3,205 74.3,205 75.3,205.1 76.3,205.2 77.3,205.3 78.3,205.4 79.3,205.5 80.3,205.6 81.3,205.7 82.3,205.8 83.3,205.9 84.3,206 85.3,206.1 86.3,206.2 87.3,206.3 88.3,206.4 89.3,206.5 90.3,206.6 91.3,206.7 92.3,206.8 93.3,206.9 94.3,206.9 95.3,207 96.3,207.1 97.3,207.2 98.3,207.3 99.3,207.4 100.3,207.5 101.3,207.5 102.3,207.6 103.3,207.6 104.3,207.6 105.3,207.7 106.3,207.7 107.3,207.7 108.3,207.8 109.3,207.8 110.3,207.8 111.3,207.9 112.3,207.9 113.3,207.9 114.3,208 115.3,208 116.3,208 117.3,208.1 118.3,208.1 119.3,208.1 120.3,208.2 121.3,208.2 122.3,208.2 123.3,208.3 124.3,208.3 125.3,208.3 126.3,208.4 127.3,208.4 128.3,208.4 129.3,208.4 130.3,208.4 131.3,208.3 132.4,208.2 133.4,208.1 134.4,208 135.4,207.8 136.4,207.7 137.4,207.6 138.4,207.5 139.4,207.3 140.4,207.2 141.4,207.1 142.4,207 143.4,206.8 144.4,206.7 145.4,206.6 146.4,206.5 147.4,206.3 148.4,206.2 149.4,206 150.4,205.6 151.4,205 152.4,204.3 153.4,203.6 154.4,202.9 155.4,202.2 156.4,201.5 157.4,200.8 158.4,200.1 159.4,199.4 160.4,198.6 161.4,197.6 162.4,196.7 163.4,195.7 164.4,194.5 165.4,193 166.4,191.1 167.4,189 168.4,186.7 169.4,184.3 170.4,182 171.4,179.7 172.4,177.4 173.4,175.1 174.4,172.8 175.4,170.6 176.4,168.4 177.4,166.4 178.4,164.4 179.4,162.3 180.4,160.2 181.4,157.9 182.4,155.6 183.4,153.4 184.4,151.9 185.4,151.1 186.4,151.5 187.4,153.2 188.4,156.2 189.4,160.5 190.4,165.7 191.4,171.4 192.4,177.3 193.4,182.9 194.4,188.1 195.4,192.9 196.4,197.1 197.4,200.4 198.4,203 199.4,205.4 200.4,207.6 201.4,209.5 202.4,211.1 203.4,212.3 204.4,213.3 205.4,214.3 206.4,215.2 207.4,215.9 208.4,216.5 209.4,216.9 210.4,217.3 211.4,217.6 212.4,218 213.4,218.4 214.4,218.7 215.4,219 216.4,219.2 217.4,219.4 218.4,219.5 219.4,219.7 220.4,219.9 221.4,220 222.4,220.2 223.4,220.3 224.4,220.5 225.4,220.6 226.4,220.8 227.4,221 228.4,221.1 229.4,221.3 230.4,221.4 231.4,221.6 232.4,221.7 232.4,221.5 231.4,221.4 230.4,221.3 229.4,221.2 228.4,221.1 227.4,220.9 226.4,220.8 225.4,220.6 224.4,220.5 223.4,220.3 222.4,220.2 221.4,220 220.4,219.9 219.4,219.7 218.4,219.6 217.4,219.4 216.4,219.3 215.4,219.1 214.4,219 213.4,218.8 212.4,218.7 211.4,218.5 210.4,218.3 209.4,218.2 208.4,218 207.4,217.8 206.4,217.7 205.4,217.5 204.4,217.3 203.4,217.1 202.4,217 201.4,216.8 200.4,216.6 199.4,216.4 198.4,216.2 197.4,216 196.4,215.8 195.4,215.6 194.4,215.4 193.4,215.2 192.4,215 191.4,214.8 190.4,214.6 189.4,214.4 188.4,214.3 187.4,214.1 186.4,213.9 185.4,213.8 184.4,213.6 183.4,213.5 182.4,213.4 181.4,213.2 180.4,213.1 179.4,213.1 178.4,213 177.4,212.9 176.4,212.8 175.4,212.7 174.4,212.6 173.4,212.5 172.4,212.5 171.4,212.4 170.4,212.3 169.4,212.2 168.4,212.1 167.4,212 166.4,212 165.4,211.9 164.4,211.8 163.4,211.7 162.4,211.7 161.4,211.6 160.4,211.5 159.4,211.5 158.4,211.4 157.4,211.4 156.4,211.3 155.4,211.2 154.4,211.2 153.4,211.1 152.4,211.1 151.4,211 150.4,211 149.4,210.9 148.4,210.9 147.4,210.8 146.4,210.7 145.4,210.7 144.4,210.6 143.4,210.6 142.4,210.6 141.4,210.5 140.4,210.5 139.4,210.4 138.4,210.4 137.4,210.4 136.4,210.3 135.4,210.3 134.4,210.3 133.4,210.3 132.4,210.2 131.3,210.2 130.3,210.2 129.3,210.2 128.3,210.2 127.3,210.1 126.3,210.1 125.3,210.1 124.3,210.1 123.3,210.1 122.3,210 121.3,210 120.3,210 119.3,210 118.3,210 117.3,209.9 116.3,209.9 115.3,209.9 114.3,209.9 113.3,209.9 112.3,209.8 111.3,209.8 110.3,209.8 109.3,209.8 108.3,209.8 107.3,209.7 106.3,209.7 105.3,209.7 104.3,209.7 103.3,209.7 102.3,209.6 101.3,209.6 100.3,209.6 99.3,209.6 98.3,209.6 97.3,209.5 96.3,209.5 95.3,209.5 94.3,209.5 93.3,209.5 92.3,209.4 91.3,209.4 90.3,209.4 89.3,209.4 88.3,209.4 87.3,209.3 86.3,209.3 85.3,209.3 84.3,209.3 83.3,209.3 82.3,209.2 81.3,209.2 80.3,209.2 79.3,209.2 78.3,209.2 77.3,209.1 76.3,209.1 75.3,209.1 74.3,209.1 73.3,209.1 72.3,209 71.3,209 70.3,209 69.3,209 68.3,209 67.3,208.9 66.3,208.9 65.3,208.9 64.3,208.9 63.3,208.9 62.3,208.8 61.3,208.8 60.3,208.8 59.3,208.8 58.3,208.7 57.3,208.7 56.3,208.7 55.3,208.6 54.3,208.6 53.3,208.6 52.3,208.5 51.3,208.5 50.3,208.5 49.3,208.4 48.3,208.4 47.3,208.3 46.3,208.3 45.3,208.3 44.3,208.2 43.3,208.2 42.3,208.2 41.3,208.1 40.3,208.1 39.3,208.1 38.3,208 37.3,208 36.3,208 35.3,207.9 34.3,207.9 33.3,207.9 32.3,207.9Z" fill="#b2d2b2" style="mix-blend-mode:multiply"/>
<path d="M32.3,207.8 33.3,207.8 34.3,207.9 35.3,207.9 36.3,207.9 37.3,207.9 38.3,208 39.3,208 40.3,208 41.3,208.1 42.3,208.1 43.3,208.2 44.3,208.2 45.3,208.2 46.3,208.3 47.3,208.3 48.3,208.3 49.3,208.4 50.3,208.4 51.3,208.4 52.3,208.5 53.3,208.5 54.3,208.5 55.3,208.6 56.3,208.6 57.3,208.6 58.3,208.7 59.3,208.7 60.3,208.7 61.3,208.8 62.3,208.8 63.3,208.8 64.3,208.8 65.3,208.8 66.3,208.9 67.3,208.9 68.3,208.9 69.3,208.9 70.3,208.9 71.3,209 72.3,209 73.3,209 74.3,209 75.3,209 76.3,209.1 77.3,209.1 78.3,209.1 79.3,209.1 80.3,209.1 81.3,209.1 82.3,209.2 83.3,209.2 84.3,209.2 85.3,209.2 86.3,209.2 87.3,209.3 88.3,209.3 89.3,209.3 90.3,209.3 91.3,209.3 92.3,209.3 93.3,209.4 94.3,209.4 95.3,209.4 96.3,209.4 97.3,209.4 98.3,209.5 99.3,209.5 100.3,209.5 101.3,209.5 102.3,209.5 103.3,209.5 104.3,209.6 105.3,209.6 106.3,209.6 107.3,209.6 108.3,209.6 109.3,209.6 110.3,209.7 111.3,209.7 112.3,209.7 113.3,209.7 114.3,209.7 115.3,209.7 116.3,209.7 117.3,209.8 118.3,209.8 119.3,209.8 120.3,209.8 121.3,209.8 122.3,209.8 123.3,209.8 124.3,209.9 125.3,209.9 126.3,209.9 127.3,209.9 128.3,209.9 129.3,209.9 130.3,209.9 131.3,209.9 132.4,209.9 133.4,210 134.4,210 135.4,210 136.4,210 137.4,210 138.4,210 139.4,210 140.4,210 141.4,210.1 142.4,210.1 143.4,210.1 144.4,210.1 145.4,210.2 146.4,210.2 147.4,210.2 148.4,210.2 149.4,210.3 150.4,210.3 151.4,210.3 152.4,210.3 153.4,210.3 154.4,210.3 155.4,210.3 156.4,210.3 157.4,210.3 158.4,210.3 159.4,210.3 160.4,210.3 161.4,210.2 162.4,210.2 163.4,210.1 164.4,210 165.4,209.9 166.4,209.8 167.4,209.6 168.4,209.3 169.4,209 170.4,208.4 171.4,207.7 172.4,206.6 173.4,205.1 174.4,203.2 175.4,200.7 176.4,197.5 177.4,193.7 178.4,189.1 179.4,183.9 180.4,178.3 181.4,172.5 182.4,166.8 183.4,161.7 184.4,157.8 185.4,155.7 186.4,155.6 187.4,157.6 188.4,161.4 189.4,166.5 190.4,172.4 191.4,178.5 192.4,184.6 193.4,190.2 194.4,195.2 195.4,199.5 196.4,203.1 197.4,206 198.4,208.4 199.4,210.2 200.4,211.6 201.4,212.7 202.4,213.6 203.4,214.2 204.4,214.8 205.4,215.3 206.4,215.7 207.4,216 208.4,216.3 209.4,216.6 210.4,216.9 211.4,217.2 212.4,217.5 213.4,217.7 214.4,217.9 215.4,218.2 216.4,218.4 217.4,218.6 218.4,218.8 219.4,219 220.4,219.2 221.4,219.4 222.4,219.5 223.4,219.7 224.4,219.9 225.4,220.1 226.4,220.2 227.4,220.4 228.4,220.6 229.4,220.7 230.4,220.9 231.4,221 232.4,221.1" fill="none" stroke="#3a9a2a" stroke-width="0.8" stroke-opacity="1.0" stroke-linejoin="round"/>
<path d="M32.3,207.8 33.3,207.9 34.3,207.9 35.3,207.9 36.3,207.9 37.3,208 38.3,208 39.3,208 40.3,208.1 41.3,208.1 42.3,208.1 43.3,208.2 44.3,208.2 45.3,208.3 46.3,208.3 47.3,208.3 48.3,208.4 49.3,208.4 50.3,208.4 51.3,208.5 52.3,208.5 53.3,208.5 54.3,208.6 55.3,208.6 56.3,208.6 57.3,208.7 58.3,208.7 59.3,208.7 60.3,208.8 61.3,208.8 62.3,208.8 63.3,208.8 64.3,208.9 65.3,208.9 66.3,208.9 67.3,208.9 68.3,208.9 69.3,209 70.3,209 71.3,209 72.3,209 73.3,209 74.3,209.1 75.3,209.1 76.3,209.1 77.3,209.1 78.3,209.1 79.3,209.2 80.3,209.2 81.3,209.2 82.3,209.2 83.3,209.2 84.3,209.3 85.3,209.3 86.3,209.3 87.3,209.3 88.3,209.3 89.3,209.4 90.3,209.4 91.3,209.4 92.3,209.4 93.3,209.4 94.3,209.5 95.3,209.5 96.3,209.5 97.3,209.5 98.3,209.5 99.3,209.5 100.3,209.6 101.3,209.6 102.3,209.6 103.3,209.6 104.3,209.6 105.3,209.7 106.3,209.7 107.3,209.7 108.3,209.7 109.3,209.7 110.3,209.8 111.3,209.8 112.3,209.8 113.3,209.8 114.3,209.8 115.3,209.8 116.3,209.9 117.3,209.9 118.3,209.9 119.3,209.9 120.3,209.9 121.3,209.9 122.3,210 123.3,210 124.3,210 125.3,210 126.3,210 127.3,210 128.3,210.1 129.3,210.1 130.3,210.1 131.3,210.1 132.4,210.1 133.4,210.1 134.4,210.1 135.4,210.2 136.4,210.2 137.4,210.2 138.4,210.2 139.4,210.2 140.4,210.3 141.4,210.3 142.4,210.3 143.4,210.3 144.4,210.4 145.4,210.4 146.4,210.4 147.4,210.5 148.4,210.5 149.4,210.5 150.4,210.5 151.4,210.5 152.4,210.5 153.4,210.4 154.4,210.3 155.4,210.2 156.4,209.9 157.4,209.5 158.4,209 159.4,208.3 160.4,207.3 161.4,206.1 162.4,204.5 163.4,202.7 164.4,200.7 165.4,198.5 166.4,196.3 167.4,194.1 168.4,192.1 169.4,190.6 170.4,189.6 171.4,189.4 172.4,189.9 173.4,191.1 174.4,192.9 175.4,195 176.4,197.4 177.4,199.8 178.4,202.2 179.4,204.3 180.4,206.3 181.4,207.9 182.4,209.3 183.4,210.4 184.4,211.3 185.4,212 186.4,212.6 187.4,213 188.4,213.4 189.4,213.8 190.4,214.1 191.4,214.3 192.4,214.6 193.4,214.8 194.4,215.1 195.4,215.3 196.4,215.5 197.4,215.7 198.4,215.9 199.4,216.2 200.4,216.4 201.4,216.6 202.4,216.7 203.4,216.9 204.4,217.1 205.4,217.3 206.4,217.5 207.4,217.7 208.4,217.8 209.4,218 210.4,218.2 211.4,218.4 212.4,218.5 213.4,218.7 214.4,218.9 215.4,219 216.4,219.2 217.4,219.3 218.4,219.5 219.4,219.7 220.4,219.8 221.4,220 222.4,220.1 223.4,220.3 224.4,220.4 225.4,220.6 226.4,220.7 227.4,220.8 228.4,221 229.4,221.1 230.4,221.3 231.4,221.4 232.4,221.5" fill="none" stroke="#3a9a2a" stroke-width="0.8" stroke-opacity="1.0" stroke-linejoin="round"/>
<path d="M32.3,206.6 33.3,206.5 34.3,206.5 35.3,206.4 36.3,206.3 37.3,206.3 38.3,206.2 39.3,206.1 40.3,206.1 41.3,206 42.3,205.9 43.3,205.8 44.3,205.8 45.3,205.7 46.3,205.6 47.3,205.6 48.3,205.5 49.3,205.5 50.3,205.4 51.3,205.4 52.3,205.3 53.3,205.3 54.3,205.3 55.3,205.2 56.3,205.2 57.3,205.2 58.3,205.2 59.3,205.3 60.3,205.3 61.3,205.3 62.3,205.4 63.3,205.4 64.3,205.5 65.3,205.6 66.3,205.6 67.3,205.7 68.3,205.8 69.3,205.9 70.3,206 71.3,206.1 72.3,206.2 73.3,206.4 74.3,206.5 75.3,206.6 76.3,206.7 77.3,206.9 78.3,207 79.3,207.1 80.3,207.2 81.3,207.4 82.3,207.5 83.3,207.6 84.3,207.7 85.3,207.8 86.3,207.9 87.3,208 88.3,208.1 89.3,208.2 90.3,208.3 91.3,208.4 92.3,208.5 93.3,208.6 94.3,208.7 95.3,208.8 96.3,208.8 97.3,208.9 98.3,209 99.3,209 100.3,209.1 101.3,209.2 102.3,209.2 103.3,209.3 104.3,209.3 105.3,209.4 106.3,209.4 107.3,209.4 108.3,209.5 109.3,209.5 110.3,209.6 111.3,209.6 112.3,209.6 113.3,209.7 114.3,209.7 115.3,209.7 116.3,209.8 117.3,209.8 118.3,209.8 119.3,209.8 120.3,209.9 121.3,209.9 122.3,209.9 123.3,209.9 124.3,210 125.3,210 126.3,210 127.3,210 128.3,210.1 129.3,210.1 130.3,210.1 131.3,210.1 132.4,210.2 133.4,210.2 134.4,210.2 135.4,210.2 136.4,210.3 137.4,210.3 138.4,210.3 139.4,210.4 140.4,210.4 141.4,210.4 142.4,210.5 143.4,210.5 144.4,210.6 145.4,210.6 146.4,210.7 147.4,210.7 148.4,210.8 149.4,210.8 150.4,210.9 151.4,211 152.4,211 153.4,211.1 154.4,211.1 155.4,211.2 156.4,211.2 157.4,211.3 158.4,211.4 159.4,211.4 160.4,211.5 161.4,211.6 162.4,211.6 163.4,211.7 164.4,211.8 165.4,211.8 166.4,211.9 167.4,212 168.4,212.1 169.4,212.2 170.4,212.3 171.4,212.3 172.4,212.4 173.4,212.5 174.4,212.6 175.4,212.7 176.4,212.8 177.4,212.8 178.4,212.9 179.4,213 180.4,213.1 181.4,213.2 182.4,213.3 183.4,213.4 184.4,213.6 185.4,213.7 186.4,213.9 187.4,214 188.4,214.2 189.4,214.4 190.4,214.6 191.4,214.8 192.4,215 193.4,215.2 194.4,215.4 195.4,215.6 196.4,215.8 197.4,216 198.4,216.2 199.4,216.4 200.4,216.6 201.4,216.7 202.4,216.9 203.4,217.1 204.4,217.3 205.4,217.5 206.4,217.6 207.4,217.8 208.4,218 209.4,218.1 210.4,218.3 211.4,218.5 212.4,218.6 213.4,218.8 214.4,219 215.4,219.1 216.4,219.3 217.4,219.4 218.4,219.6 219.4,219.7 220.4,219.9 221.4,220 222.4,220.2 223.4,220.3 224.4,220.5 225.4,220.6 226.4,220.8 227.4,220.9 228.4,221 229.4,221.2 230.4,221.3 231.4,221.4 232.4,221.5" fill="none" stroke="#3a9a2a" stroke-width="0.8" stroke-opacity="1.0" stroke-linejoin="round"/>
<path d="M32.3,207.8 33.3,207.9 34.3,207.9 35.3,207.9 36.3,207.9 37.3,208 38.3,208 39.3,208 40.3,208.1 41.3,208.1 42.3,208.1 43.3,208.2 44.3,208.2 45.3,208.3 46.3,208.3 47.3,208.3 48.3,208.4 49.3,208.4 50.3,208.4 51.3,208.5 52.3,208.5 53.3,208.5 54.3,208.6 55.3,208.6 56.3,208.6 57.3,208.7 58.3,208.7 59.3,208.7 60.3,208.8 61.3,208.8 62.3,208.8 63.3,208.8 64.3,208.9 65.3,208.9 66.3,208.9 67.3,208.9 68.3,208.9 69.3,209 70.3,209 71.3,209 72.3,209 73.3,209 74.3,209.1 75.3,209.1 76.3,209.1 77.3,209.1 78.3,209.1 79.3,209.2 80.3,209.2 81.3,209.2 82.3,209.2 83.3,209.2 84.3,209.3 85.3,209.3 86.3,209.3 87.3,209.3 88.3,209.3 89.3,209.4 90.3,209.4 91.3,209.4 92.3,209.4 93.3,209.4 94.3,209.4 95.3,209.5 96.3,209.5 97.3,209.5 98.3,209.5 99.3,209.5 100.3,209.6 101.3,209.6 102.3,209.6 103.3,209.6 104.3,209.6 105.3,209.7 106.3,209.7 107.3,209.7 108.3,209.7 109.3,209.7 110.3,209.8 111.3,209.8 112.3,209.8 113.3,209.8 114.3,209.8 115.3,209.8 116.3,209.9 117.3,209.9 118.3,209.9 119.3,209.9 120.3,209.9 121.3,209.9 122.3,210 123.3,210 124.3,210 125.3,210 126.3,210 127.3,210 128.3,210.1 129.3,210.1 130.3,210.1 131.3,210.1 132.4,210.1 133.4,210.1 134.4,210.2 135.4,210.2 136.4,210.2 137.4,210.2 138.4,210.2 139.4,210.3 140.4,210.3 141.4,210.3 142.4,210.3 143.4,210.4 144.4,210.4 145.4,210.4 146.4,210.4 147.4,210.4 148.4,210.4 149.4,210.4 150.4,210.4 151.4,210.4 152.4,210.3 153.4,210.3 154.4,210.2 155.4,210.1 156.4,209.9 157.4,209.7 158.4,209.5 159.4,209.3 160.4,209 161.4,208.7 162.4,208.4 163.4,208 164.4,207.6 165.4,207.2 166.4,206.8 167.4,206.3 168.4,205.9 169.4,205.5 170.4,205.1 171.4,204.7 172.4,204.4 173.4,204.1 174.4,203.9 175.4,203.8 176.4,203.8 177.4,203.9 178.4,204.1 179.4,204.3 180.4,204.7 181.4,205.1 182.4,205.6 183.4,206.2 184.4,206.8 185.4,207.4 186.4,208.1 187.4,208.8 188.4,209.4 189.4,210.1 190.4,210.8 191.4,211.4 192.4,212 193.4,212.6 194.4,213.2 195.4,213.7 196.4,214.2 197.4,214.6 198.4,215 199.4,215.4 200.4,215.7 201.4,216 202.4,216.3 203.4,216.6 204.4,216.8 205.4,217.1 206.4,217.3 207.4,217.5 208.4,217.7 209.4,217.9 210.4,218.1 211.4,218.3 212.4,218.5 213.4,218.6 214.4,218.8 215.4,219 216.4,219.1 217.4,219.3 218.4,219.5 219.4,219.6 220.4,219.8 221.4,219.9 222.4,220.1 223.4,220.2 224.4,220.4 225.4,220.5 226.4,220.7 227.4,220.8 228.4,221 229.4,221.1 230.4,221.2 231.4,221.3 232.4,221.4" fill="none" stroke="#b86a18" stroke-width="0.7" stroke-opacity="1.0" stroke-linejoin="round"/>
<path d="M32.3,207.9 33.3,207.9 34.3,207.9 35.3,207.9 36.3,208 37.3,208 38.3,208 39.3,208.1 40.3,208.1 41.3,208.1 42.3,208.2 43.3,208.2 44.3,208.2 45.3,208.3 46.3,208.3 47.3,208.3 48.3,208.4 49.3,208.4 50.3,208.4 51.3,208.5 52.3,208.5 53.3,208.6 54.3,208.6 55.3,208.6 56.3,208.7 57.3,208.7 58.3,208.7 59.3,208.8 60.3,208.8 61.3,208.8 62.3,208.8 63.3,208.9 64.3,208.9 65.3,208.9 66.3,208.9 67.3,208.9 68.3,209 69.3,209 70.3,209 71.3,209 72.3,209 73.3,209.1 74.3,209.1 75.3,209.1 76.3,209.1 77.3,209.1 78.3,209.2 79.3,209.2 80.3,209.2 81.3,209.2 82.3,209.2 83.3,209.3 84.3,209.3 85.3,209.3 86.3,209.3 87.3,209.3 88.3,209.4 89.3,209.4 90.3,209.4 91.3,209.4 92.3,209.4 93.3,209.5 94.3,209.5 95.3,209.5 96.3,209.5 97.3,209.5 98.3,209.6 99.3,209.6 100.3,209.6 101.3,209.6 102.3,209.6 103.3,209.7 104.3,209.7 105.3,209.7 106.3,209.7 107.3,209.7 108.3,209.8 109.3,209.8 110.3,209.8 111.3,209.8 112.3,209.8 113.3,209.9 114.3,209.9 115.3,209.9 116.3,209.9 117.3,209.9 118.3,210 119.3,210 120.3,210 121.3,210 122.3,210 123.3,210.1 124.3,210.1 125.3,210.1 126.3,210.1 127.3,210.1 128.3,210.2 129.3,210.2 130.3,210.2 131.3,210.2 132.4,210.2 133.4,210.3 134.4,210.3 135.4,210.3 136.4,210.3 137.4,210.4 138.4,210.4 139.4,210.4 140.4,210.4 141.4,210.5 142.4,210.5 143.4,210.6 144.4,210.6 145.4,210.7 146.4,210.7 147.4,210.8 148.4,210.8 149.4,210.9 150.4,210.9 151.4,211 152.4,211 153.4,211.1 154.4,211.1 155.4,211.2 156.4,211.3 157.4,211.3 158.4,211.4 159.4,211.4 160.4,211.5 161.4,211.5 162.4,211.6 163.4,211.7 164.4,211.7 165.4,211.8 166.4,211.9 167.4,212 168.4,212 169.4,212.1 170.4,212.2 171.4,212.2 172.4,212.3 173.4,212.3 174.4,212.3 175.4,212.3 176.4,212.3 177.4,212.2 178.4,212.1 179.4,211.9 180.4,211.7 181.4,211.5 182.4,211.1 183.4,210.8 184.4,210.4 185.4,210.1 186.4,209.8 187.4,209.6 188.4,209.5 189.4,209.5 190.4,209.6 191.4,210 192.4,210.4 193.4,211 194.4,211.7 195.4,212.4 196.4,213 197.4,213.7 198.4,214.3 199.4,214.9 200.4,215.4 201.4,215.9 202.4,216.3 203.4,216.6 204.4,216.9 205.4,217.2 206.4,217.4 207.4,217.6 208.4,217.8 209.4,218 210.4,218.2 211.4,218.4 212.4,218.6 213.4,218.7 214.4,218.9 215.4,219.1 216.4,219.2 217.4,219.4 218.4,219.5 219.4,219.7 220.4,219.8 221.4,220 222.4,220.1 223.4,220.3 224.4,220.4 225.4,220.6 226.4,220.7 227.4,220.9 228.4,221 229.4,221.2 230.4,221.3 231.4,221.4 232.4,221.5" fill="none" stroke="#b86a18" stroke-width="0.7" stroke-opacity="1.0" stroke-linejoin="round"/>
<path d="M32.3,207.9 33.3,207.9 34.3,207.9 35.3,207.9 36.3,208 37.3,208 38.3,208 39.3,208.1 40.3,208.1 41.3,208.1 42.3,208.2 43.3,208.2 44.3,208.2 45.3,208.3 46.3,208.3 47.3,208.3 48.3,208.4 49.3,208.4 50.3,208.4 51.3,208.5 52.3,208.5 53.3,208.6 54.3,208.6 55.3,208.6 56.3,208.7 57.3,208.7 58.3,208.7 59.3,208.7 60.3,208.8 61.3,208.8 62.3,208.8 63.3,208.9 64.3,208.9 65.3,208.9 66.3,208.9 67.3,208.9 68.3,209 69.3,209 70.3,209 71.3,209 72.3,209 73.3,209.1 74.3,209.1 75.3,209.1 76.3,209.1 77.3,209.1 78.3,209.2 79.3,209.2 80.3,209.2 81.3,209.2 82.3,209.2 83.3,209.3 84.3,209.3 85.3,209.3 86.3,209.3 87.3,209.3 88.3,209.4 89.3,209.4 90.3,209.4 91.3,209.4 92.3,209.4 93.3,209.5 94.3,209.5 95.3,209.5 96.3,209.5 97.3,209.5 98.3,209.6 99.3,209.6 100.3,209.6 101.3,209.6 102.3,209.6 103.3,209.6 104.3,209.7 105.3,209.7 106.3,209.7 107.3,209.7 108.3,209.7 109.3,209.8 110.3,209.8 111.3,209.8 112.3,209.8 113.3,209.8 114.3,209.9 115.3,209.9 116.3,209.9 117.3,209.9 118.3,209.9 119.3,210 120.3,210 121.3,210 122.3,210 123.3,210 124.3,210 125.3,210.1 126.3,210.1 127.3,210.1 128.3,210.1 129.3,210.1 130.3,210.1 131.3,210.2 132.4,210.2 133.4,210.2 134.4,210.2 135.4,210.2 136.4,210.2 137.4,210.3 138.4,210.3 139.4,210.3 140.4,210.3 141.4,210.3 142.4,210.3 143.4,210.3 144.4,210.3 145.4,210.2 146.4,210.2 147.4,210.1 148.4,210 149.4,209.8 150.4,209.7 151.4,209.5 152.4,209.3 153.4,209 154.4,208.8 155.4,208.5 156.4,208.3 157.4,208.1 158.4,207.9 159.4,207.7 160.4,207.6 161.4,207.6 162.4,207.7 163.4,207.8 164.4,208 165.4,208.3 166.4,208.6 167.4,209 168.4,209.3 169.4,209.7 170.4,210.1 171.4,210.5 172.4,210.8 173.4,211.2 174.4,211.5 175.4,211.8 176.4,212 177.4,212.2 178.4,212.5 179.4,212.6 180.4,212.8 181.4,213 182.4,213.1 183.4,213.3 184.4,213.5 185.4,213.6 186.4,213.8 187.4,214 188.4,214.2 189.4,214.4 190.4,214.6 191.4,214.8 192.4,215 193.4,215.2 194.4,215.4 195.4,215.6 196.4,215.8 197.4,216 198.4,216.2 199.4,216.4 200.4,216.5 201.4,216.7 202.4,216.9 203.4,217.1 204.4,217.3 205.4,217.4 206.4,217.6 207.4,217.8 208.4,218 209.4,218.1 210.4,218.3 211.4,218.5 212.4,218.6 213.4,218.8 214.4,219 215.4,219.1 216.4,219.3 217.4,219.4 218.4,219.6 219.4,219.7 220.4,219.9 221.4,220 222.4,220.2 223.4,220.3 224.4,220.5 225.4,220.6 226.4,220.8 227.4,220.9 228.4,221 229.4,221.2 230.4,221.3 231.4,221.4 232.4,221.5" fill="none" stroke="#b86a18" stroke-width="0.7" stroke-opacity="1.0" stroke-linejoin="round"/>
<path d="M32.3,207.4 33.3,207.4 34.3,207.4 35.3,207.4 36.3,207.4 37.3,207.4 38.3,207.5 39.3,207.5 40.3,207.5 41.3,207.5 42.3,207.5 43.3,207.5 44.3,207.5 45.3,207.5 46.3,207.5 47.3,207.5 48.3,207.5 49.3,207.5 50.3,207.5 51.3,207.5 52.3,207.5 53.3,207.5 54.3,207.4 55.3,207.4 56.3,207.4 57.3,207.4 58.3,207.4 59.3,207.3 60.3,207.3 61.3,207.3 62.3,207.2 63.3,207.2 64.3,207.2 65.3,207.1 66.3,207.1 67.3,207 68.3,207 69.3,206.9 70.3,206.9 71.3,206.8 72.3,206.8 73.3,206.7 74.3,206.7 75.3,206.6 76.3,206.5 77.3,206.5 78.3,206.4 79.3,206.4 80.3,206.3 81.3,206.3 82.3,206.2 83.3,206.1 84.3,206.1 85.3,206 86.3,206 87.3,205.9 88.3,205.9 89.3,205.8 90.3,205.8 91.3,205.7 92.3,205.7 93.3,205.6 94.3,205.6 95.3,205.6 96.3,205.5 97.3,205.5 98.3,205.5 99.3,205.5 100.3,205.4 101.3,205.4 102.3,205.4 103.3,205.4 104.3,205.4 105.3,205.4 106.3,205.4 107.3,205.4 108.3,205.5 109.3,205.5 110.3,205.5 111.3,205.6 112.3,205.6 113.3,205.6 114.3,205.7 115.3,205.7 116.3,205.8 117.3,205.8 118.3,205.9 119.3,206 120.3,206.1 121.3,206.1 122.3,206.2 123.3,206.3 124.3,206.4 125.3,206.4 126.3,206.5 127.3,206.6 128.3,206.7 129.3,206.8 130.3,206.9 131.3,207 132.4,207.1 133.4,207.2 134.4,207.3 135.4,207.4 136.4,207.5 137.4,207.6 138.4,207.7 139.4,207.8 140.4,207.9 141.4,208 142.4,208.2 143.4,208.3 144.4,208.4 145.4,208.5 146.4,208.7 147.4,208.8 148.4,208.9 149.4,209 150.4,209.2 151.4,209.3 152.4,209.4 153.4,209.5 154.4,209.6 155.4,209.7 156.4,209.9 157.4,210 158.4,210.1 159.4,210.2 160.4,210.3 161.4,210.4 162.4,210.6 163.4,210.7 164.4,210.8 165.4,210.9 166.4,211 167.4,211.2 168.4,211.3 169.4,211.4 170.4,211.5 171.4,211.6 172.4,211.7 173.4,211.9 174.4,212 175.4,212.1 176.4,212.2 177.4,212.3 178.4,212.4 179.4,212.5 180.4,212.6 181.4,212.8 182.4,212.9 183.4,213 184.4,213.2 185.4,213.4 186.4,213.5 187.4,213.7 188.4,213.9 189.4,214.1 190.4,214.3 191.4,214.5 192.4,214.7 193.4,214.9 194.4,215.2 195.4,215.4 196.4,215.6 197.4,215.8 198.4,216 199.4,216.2 200.4,216.4 201.4,216.6 202.4,216.7 203.4,216.9 204.4,217.1 205.4,217.3 206.4,217.5 207.4,217.6 208.4,217.8 209.4,218 210.4,218.2 211.4,218.3 212.4,218.5 213.4,218.7 214.4,218.8 215.4,219 216.4,219.1 217.4,219.3 218.4,219.5 219.4,219.6 220.4,219.8 221.4,219.9 222.4,220.1 223.4,220.2 224.4,220.4 225.4,220.5 226.4,220.7 227.4,220.8 228.4,220.9 229.4,221.1 230.4,221.2 231.4,221.3 232.4,221.4" fill="none" stroke="#b86a18" stroke-width="0.7" stroke-opacity="1.0" stroke-linejoin="round"/>
<path d="M32.3,208 33.3,208 34.3,208 35.3,208 36.3,208 37.3,207.9 38.3,207.9 39.3,207.9 40.3,207.9 41.3,207.9 42.3,207.9 43.3,207.9 44.3,207.9 45.3,207.9 46.3,207.8 47.3,207.8 48.3,207.8 49.3,207.8 50.3,207.8 51.3,207.7 52.3,207.7 53.3,207.7 54.3,207.6 55.3,207.6 56.3,207.5 57.3,207.5 58.3,207.5 59.3,207.4 60.3,207.4 61.3,207.3 62.3,207.3 63.3,207.2 64.3,207.2 65.3,207.1 66.3,207 67.3,206.9 68.3,206.8 69.3,206.7 70.3,206.6 71.3,206.4 72.3,206.3 73.3,206.2 74.3,206.1 75.3,205.9 76.3,205.8 77.3,205.7 78.3,205.5 79.3,205.4 80.3,205.3 81.3,205.1 82.3,205 83.3,204.9 84.3,204.8 85.3,204.7 86.3,204.6 87.3,204.6 88.3,204.6 89.3,204.6 90.3,204.6 91.3,204.6 92.3,204.6 93.3,204.6 94.3,204.6 95.3,204.6 96.3,204.6 97.3,204.6 98.3,204.6 99.3,204.6 100.3,204.6 101.3,204.6 102.3,204.6 103.3,204.6 104.3,204.6 105.3,204.6 106.3,204.6 107.3,204.6 108.3,204.6 109.3,204.6 110.3,204.6 111.3,204.6 112.3,204.5 113.3,204.5 114.3,204.5 115.3,204.5 116.3,204.5 117.3,204.5 118.3,204.5 119.3,204.5 120.3,204.5 121.3,204.5 122.3,204.5 123.3,204.5 124.3,204.5 125.3,204.5 126.3,204.5 127.3,204.5 128.3,204.5 129.3,204.5 130.3,204.5 131.3,204.5 132.4,204.5 133.4,204.5 134.4,204.5 135.4,204.5 136.4,204.5 137.4,204.4 138.4,204.3 139.4,204.2 140.4,204.1 141.4,203.9 142.4,203.8 143.4,203.6 144.4,203.4 145.4,203.3 146.4,203.1 147.4,202.9 148.4,202.8 149.4,202.6 150.4,202.4 151.4,202.2 152.4,202 153.4,201.8 154.4,201.6 155.4,201.4 156.4,201.2 157.4,201 158.4,200.8 159.4,200.7 160.4,200.5 161.4,200.4 162.4,200.2 163.4,200.1 164.4,200 165.4,199.8 166.4,199.7 167.4,199.6 168.4,199.5 169.4,199.3 170.4,199.2 171.4,199.1 172.4,199 173.4,198.9 174.4,198.8 175.4,198.7 176.4,198.6 177.4,198.5 178.4,198.4 179.4,198.3 180.4,198.3 181.4,198.4 182.4,198.5 183.4,198.6 184.4,198.8 185.4,199 186.4,199.3 187.4,199.6 188.4,199.9 189.4,200.4 190.4,200.9 191.4,201.5 192.4,202 193.4,202.7 194.4,203.3 195.4,204 196.4,204.8 197.4,205.7 198.4,206.6 199.4,207.5 200.4,208.4 201.4,209.4 202.4,210.4 203.4,211.3 204.4,212.2 205.4,213.1 206.4,213.9 207.4,214.6 208.4,215.3 209.4,215.9 210.4,216.4 211.4,216.9 212.4,217.2 213.4,217.6 214.4,217.9 215.4,218.3 216.4,218.6 217.4,218.9 218.4,219.2 219.4,219.5 220.4,219.8 221.4,220 222.4,220.2 223.4,220.3 224.4,220.5 225.4,220.6 226.4,220.8 227.4,221 228.4,221.1 229.4,221.3 230.4,221.4 231.4,221.6 232.4,221.7" fill="none" stroke="#ff8000" stroke-width="0.9" stroke-opacity="1.0" stroke-dasharray="2,1.5" stroke-linejoin="round"/>
<path d="M32.3,207.9 33.3,207.7 34.3,207.6 35.3,207.4 36.3,207.2 37.3,207 38.3,206.8 39.3,206.6 40.3,206.4 41.3,206.2 42.3,206 43.3,205.8 44.3,205.6 45.3,205.4 46.3,205.2 47.3,205 48.3,204.8 49.3,204.6 50.3,204.5 51.3,204.4 52.3,204.3 53.3,204.3 54.3,204.3 55.3,204.3 56.3,204.3 57.3,204.3 58.3,204.2 59.3,204.2 60.3,204.2 61.3,204.2 62.3,204.2 63.3,204.2 64.3,204.2 65.3,204.3 66.3,204.3 67.3,204.4 68.3,204.5 69.3,204.6 70.3,204.7 71.3,204.8 72.3,204.9 73.3,205 74.3,205 75.3,205.1 76.3,205.2 77.3,205.3 78.3,205.4 79.3,205.5 80.3,205.6 81.3,205.7 82.3,205.8 83.3,205.9 84.3,206 85.3,206.1 86.3,206.2 87.3,206.3 88.3,206.4 89.3,206.5 90.3,206.6 91.3,206.7 92.3,206.8 93.3,206.9 94.3,206.9 95.3,207 96.3,207.1 97.3,207.2 98.3,207.3 99.3,207.4 100.3,207.5 101.3,207.5 102.3,207.6 103.3,207.6 104.3,207.6 105.3,207.7 106.3,207.7 107.3,207.7 108.3,207.8 109.3,207.8 110.3,207.8 111.3,207.9 112.3,207.9 113.3,207.9 114.3,208 115.3,208 116.3,208 117.3,208.1 118.3,208.1 119.3,208.1 120.3,208.2 121.3,208.2 122.3,208.2 123.3,208.3 124.3,208.3 125.3,208.3 126.3,208.4 127.3,208.4 128.3,208.4 129.3,208.4 130.3,208.4 131.3,208.3 132.4,208.2 133.4,208.1 134.4,208 135.4,207.8 136.4,207.7 137.4,207.6 138.4,207.5 139.4,207.3 140.4,207.2 141.4,207.1 142.4,207 143.4,206.8 144.4,206.7 145.4,206.6 146.4,206.5 147.4,206.3 148.4,206.2 149.4,206 150.4,205.6 151.4,205 152.4,204.3 153.4,203.6 154.4,202.9 155.4,202.2 156.4,201.5 157.4,200.8 158.4,200.1 159.4,199.4 160.4,198.6 161.4,197.6 162.4,196.7 163.4,195.7 164.4,194.5 165.4,193 166.4,191.1 167.4,189 168.4,186.7 169.4,184.3 170.4,182 171.4,179.7 172.4,177.4 173.4,175.1 174.4,172.8 175.4,170.6 176.4,168.4 177.4,166.4 178.4,164.4 179.4,162.3 180.4,160.2 181.4,157.9 182.4,155.6 183.4,153.4 184.4,151.9 185.4,151.1 186.4,151.5 187.4,153.2 188.4,156.2 189.4,160.5 190.4,165.7 191.4,171.4 192.4,177.3 193.4,182.9 194.4,188.1 195.4,192.9 196.4,197.1 197.4,200.4 198.4,203 199.4,205.4 200.4,207.6 201.4,209.5 202.4,211.1 203.4,212.3 204.4,213.3 205.4,214.3 206.4,215.2 207.4,215.9 208.4,216.5 209.4,216.9 210.4,217.3 211.4,217.6 212.4,218 213.4,218.4 214.4,218.7 215.4,219 216.4,219.2 217.4,219.4 218.4,219.5 219.4,219.7 220.4,219.9 221.4,220 222.4,220.2 223.4,220.3 224.4,220.5 225.4,220.6 226.4,220.8 227.4,221 228.4,221.1 229.4,221.3 230.4,221.4 231.4,221.6 232.4,221.7" fill="none" stroke="#2a9a2a" stroke-width="1.0" stroke-opacity="1.0" stroke-dasharray="2.5,1.5" stroke-linejoin="round"/>
<path d="M32.3,207.7 33.3,207.6 34.3,207.5 35.3,207.3 36.3,207.1 37.3,207 38.3,206.8 39.3,206.7 40.3,206.5 41.3,206.3 42.3,206.1 43.3,205.9 44.3,205.6 45.3,205.4 46.3,205.1 47.3,204.9 48.3,204.7 49.3,204.4 50.3,204.2 51.3,204 52.3,203.9 53.3,203.8 54.3,203.7 55.3,203.5 56.3,203.4 57.3,203.3 58.3,203.2 59.3,203.2 60.3,203.1 61.3,203.1 62.3,203.1 63.3,203.1 64.3,203.1 65.3,203.1 66.3,203.1 67.3,203.1 68.3,203.2 69.3,203.2 70.3,203.2 71.3,203.2 72.3,203.3 73.3,203.3 74.3,203.3 75.3,203.3 76.3,203.3 77.3,203.4 78.3,203.4 79.3,203.4 80.3,203.4 81.3,203.4 82.3,203.5 83.3,203.5 84.3,203.5 85.3,203.5 86.3,203.5 87.3,203.6 88.3,203.6 89.3,203.6 90.3,203.6 91.3,203.7 92.3,203.7 93.3,203.7 94.3,203.7 95.3,203.7 96.3,203.8 97.3,203.8 98.3,203.8 99.3,203.8 100.3,203.8 101.3,203.9 102.3,203.9 103.3,203.9 104.3,203.9 105.3,203.9 106.3,204 107.3,204 108.3,204 109.3,204 110.3,204 111.3,204 112.3,204 113.3,204 114.3,204 115.3,204 116.3,204 117.3,204 118.3,204 119.3,204 120.3,204 121.3,204 122.3,204 123.3,204 124.3,204 125.3,204 126.3,204 127.3,204 128.3,204 129.3,204 130.3,204 131.3,204 132.4,204 133.4,204 134.4,204 135.4,203.9 136.4,203.8 137.4,203.6 138.4,203.3 139.4,203 140.4,202.6 141.4,202.2 142.4,201.8 143.4,201.2 144.4,200.7 145.4,200 146.4,199.4 147.4,198.8 148.4,198.1 149.4,197.5 150.4,196.8 151.4,196 152.4,195.3 153.4,194.5 154.4,193.5 155.4,192.5 156.4,191.3 157.4,189.9 158.4,188.6 159.4,187.2 160.4,185.7 161.4,184.3 162.4,182.7 163.4,181 164.4,179.1 165.4,176.9 166.4,174.7 167.4,172.3 168.4,170 169.4,167.6 170.4,165.3 171.4,162.9 172.4,160.5 173.4,158.1 174.4,155.6 175.4,153.1 176.4,150.6 177.4,148.2 178.4,145.9 179.4,143.9 180.4,142.1 181.4,140.5 182.4,139.2 183.4,138.1 184.4,137.4 185.4,137.2 186.4,137.5 187.4,138.3 188.4,139.9 189.4,142.2 190.4,145.3 191.4,149.2 192.4,153.9 193.4,159.4 194.4,165.5 195.4,171.9 196.4,178.2 197.4,184.4 198.4,190.1 199.4,195.2 200.4,199.3 201.4,202.7 202.4,205.4 203.4,207.7 204.4,209.7 205.4,211.2 206.4,212.3 207.4,213.2 208.4,213.8 209.4,214.5 210.4,215.1 211.4,215.6 212.4,216.2 213.4,216.7 214.4,217.1 215.4,217.5 216.4,217.8 217.4,218.1 218.4,218.4 219.4,218.7 220.4,218.9 221.4,219.2 222.4,219.4 223.4,219.7 224.4,219.9 225.4,220.1 226.4,220.3 227.4,220.5 228.4,220.7 229.4,220.9 230.4,221.1 231.4,221.3 232.4,221.5" fill="none" stroke="#15152a" stroke-width="1.3" stroke-opacity="1.0" stroke-linejoin="round"/>
</g>
<rect x="36.1" y="131.4" width="24.5" height="12" fill="#ffb878" fill-opacity="1.0" stroke="#ff9a40" stroke-width="0.9" stroke-dasharray="2.5,1,1,1"/>
<rect x="36.1" y="149.3" width="24.5" height="11" fill="#b2d4b0" fill-opacity="1.0" stroke="#3a8a3a" stroke-width="0.9" stroke-dasharray="2.5,1.5"/>
<text x="63.80" y="140.80" font-size="10.6" fill="#1a1a1a">Co</text>
<rect x="77.80" y="131.50" width="0.9" height="5.50" fill="#ff2a2a"/>
<rect x="79.65" y="131.50" width="0.9" height="5.50" fill="#ff2a2a"/>
<text x="81.95" y="140.80" font-size="10.6" fill="#1a1a1a">(OH)</text>
<text x="104.91" y="144.60" font-size="7" fill="#1a1a1a">2</text>
<text x="63.80" y="157.70" font-size="10.6" fill="#1a1a1a">Co</text>
<rect x="77.80" y="148.40" width="0.9" height="5.50" fill="#ff2a2a"/>
<rect x="79.65" y="148.40" width="0.9" height="5.50" fill="#ff2a2a"/>
<rect x="81.50" y="148.40" width="0.9" height="5.50" fill="#ff2a2a"/>
<text x="83.80" y="157.70" font-size="10.6" fill="#1a1a1a">OOH</text>
<circle cx="131.35" cy="169.9" r="20.2" fill="#b2d2b2"/>
<path d="M131.35,169.9 L131.35,149.70000000000002 A20.2,20.2 0 0,1 149.05,179.63 Z" fill="#ff8c00"/>
<text x="134.2" y="169.7" font-size="11" fill="#1a1a1a">33%</text>
<text x="115.5" y="181.7" font-size="11" fill="#1a1a1a">67%</text>
<g clip-path="url(#c01t)">
<polyline points="256.8,98.1 257.7,98.9 258.3,99.4 259.1,99.3 259.5,99.6 260.3,103.1 261.2,97.5 261.4,99.5 262.4,100.2 263.1,98.1 263.7,101.1 264.4,100 264.9,101.6 265.6,99.7 266.4,100.6 267.2,97.9 267.6,99.6 268.6,98 269.2,99.7 269.5,99.6 270.6,97.6 270.9,99.9 271.7,98.4 272.4,99.9 273.1,100.7 273.9,98.2 274.6,101 274.8,99.1 275.9,101.7 276.4,98.6 277.2,99.7 277.7,101.4 278.2,101.3 279.3,100 279.5,99.5 280.2,97.9 280.9,99.3 281.4,96.5 282.5,100.7 283,99.3 284,100.1 284.7,98.4 284.9,100 285.4,99.2 286.2,97 286.9,99.2 287.5,98.9 288.7,97.3 289.3,97 289.8,98.8 290.5,96.6 291.2,96.9 292,96.4 292.6,97.5 292.9,96.5 293.8,100.5 294.5,98.4 295.2,97.1 295.5,95.7 296.2,95.6 297.2,94.5 297.7,96.5 298.6,95.7 298.9,95.3 299.9,95.9 300.4,94.6 301.2,93.9 301.7,95.2 302.4,93 303.1,92.9 304,94.5 304.6,92.9 305,92.8 305.7,94.3 306.3,90.1 306.9,92.2 307.7,89.9 308.5,92.5 309.4,90.5 309.9,90.6 310.7,88.3 311,89.3 311.9,89.2 312.7,89.9 313,87.3 313.9,89.2 314.7,86.2 315.1,86.8 316,85.5 316.5,86.4 317.2,82.6 317.7,86 318.2,86.4 319.5,82.3 319.8,85.5 320.4,81.6 321.4,82.4 321.9,79.5 322.4,80 323,80.7 324,78.5 324.3,80.8 325.5,76.5 326.1,74.2 326.8,76 327.4,75.4 327.7,74.7 328.6,76 329.2,75.2 329.8,72.4 330.4,73.3 331.4,70.2 331.8,71.3 332.8,71 333.1,70 334.1,65.3 334.8,68.7 335.5,66.1 335.7,65.7 336.6,65.4 337.2,61.6 337.7,63.4 338.4,62.5 339,61.6 340.3,59.7 340.6,58.5 341.2,57.6 342.1,57.8 342.7,55.3 343.2,55.6 343.8,52.4 344.6,52.2 345.1,52.6 346.1,51.6 346.8,47.7 347.4,49.8 348,46.5 348.8,47.1 349.3,44.9 349.9,43.2 350.7,43 351.3,41.9 352,43.5 352.6,38.7 353.6,39.8 354,38.3 354.5,39.4 355.6,36.1 356.2,36.3 356.8,35.3 357.1,36.6 357.8,36.3 358.9,36.5 359.2,36.1 360.3,36 360.9,36.1 361.2,36.9 362.3,34.6 363,34.4 363.1,35.3 364.2,34.9 364.5,36.7 365.6,37.8 366,37.5 366.8,38.6 367.2,37.7 367.9,37.5 368.7,38.2 369.4,39.1 370.1,41.1 370.5,37.6 371.4,41.4 372.3,42.9 372.9,43.9 373.6,41.3 374.2,42.9 375,43.8 375.6,44.2 376.4,42.9 376.9,44.3 377.3,44.6 378.2,45.9 378.7,45.6 379.8,47.9 380,45.9 381,45.7 381.5,47.2 381.9,48.4 382.8,47.9 383.4,49.5 384.1,49.7 385.1,50 385.5,49.9 386.4,51.2 387,51.5 387.7,53.1 388.4,53.1 389.1,57.1 389.5,56.7 390.3,59.2 391,62 391.4,60 392,62.1 393,65.3 393.8,67.2 394.4,67.6 394.8,67.3 395.3,71.2 396,72.5 396.8,73.2 397.6,76 398.1,77.3 398.9,78.4 399.6,81.2 400.5,82.2 400.7,84.7 401.4,85.4 402.5,87.7 403.2,92.2 403.5,92.3 404.4,92.8 405,93.1 405.7,95.7 406.4,95.9 407.2,97.6 407.4,97.2 408.3,99 409.1,102.9 409.7,103.1 410.4,105.1 410.8,105.5 411.4,103.9 412.6,107.3 413.1,108 413.7,106.2 414.3,107.7 414.9,108.9 415.8,109.7 416.5,107.7 416.9,109.3 417.5,108.3 418,112 419,110.8 419.6,113 420.2,110 421.2,112.5 421.6,112.1 422.2,111.6 422.8,113.8 423.8,114 424.2,113.2 425.2,114.2 425.9,113.2 426.1,111.7 427,113.9 427.7,114.9 428.2,113.5 428.8,115.7 429.9,115.9 430.3,111.9 431.1,112.3 432,113 432.5,113.1 433,116.1 433.8,113.9 434.6,113.9 435.2,112.6 435.7,114.1 436.2,113.8 437.1,114.1 437.8,112.7 438.7,114.8 439.3,115.7 439.8,115.9 440.2,113.8 440.8,115.1 441.8,115.4 442.7,114 443.2,116.1 443.8,116.3 444.7,114.2 445,112.7 446,116.9 446.4,113.7 447.3,114.2 447.5,114.9 448.2,115.1 449.1,115.6 449.9,113.7 450.6,114.7 451,113.1 451.7,115.5 452.3,116.7 453.1,114 453.7,113.6 454.3,114.9 454.9,115.8 455.6,117.3 456.5,115.7 457,116.2" fill="none" stroke="none" marker-start="url(#m0)" marker-mid="url(#m0)" marker-end="url(#m0)"/>
<path d="M256.6,99.2 257.6,99.2 258.6,99.2 259.6,99.2 260.6,99.2 261.6,99.2 262.6,99.2 263.6,99.2 264.6,99.2 265.6,99.2 266.6,99.2 267.6,99.2 268.6,99.2 269.6,99.2 270.6,99.2 271.6,99.2 272.6,99.2 273.6,99.2 274.6,99.2 275.6,99.2 276.6,99.2 277.6,99.2 278.6,99.1 279.6,99.1 280.6,99 281.6,98.9 282.6,98.8 283.6,98.7 284.6,98.6 285.6,98.4 286.6,98.3 287.6,98.2 288.6,98.1 289.6,97.9 290.6,97.8 291.6,97.7 292.6,97.6 293.6,97.4 294.6,97.2 295.6,96.9 296.6,96.6 297.6,96.1 298.6,95.7 299.6,95.2 300.6,94.7 301.6,94.2 302.6,93.7 303.6,93.2 304.6,92.7 305.6,92.2 306.6,91.7 307.6,91.1 308.6,90.5 309.6,89.9 310.6,89.2 311.6,88.6 312.6,87.9 313.6,87.3 314.6,86.6 315.6,85.9 316.6,85.3 317.6,84.6 318.6,83.9 319.6,83.1 320.6,82.2 321.6,81.3 322.6,80.4 323.6,79.4 324.6,78.4 325.6,77.4 326.6,76.4 327.6,75.4 328.6,74.4 329.6,73.3 330.6,72.3 331.6,71.1 332.6,69.9 333.6,68.7 334.6,67.3 335.6,66 336.6,64.6 337.6,63.2 338.6,61.8 339.6,60.4 340.6,59 341.6,57.5 342.6,56 343.6,54.5 344.6,52.9 345.6,51.3 346.6,49.7 347.6,48.1 348.6,46.5 349.6,44.9 350.6,43.4 351.6,42 352.6,40.7 353.6,39.6 354.6,38.7 355.6,37.8 356.6,37.1 357.5,36.5 358.5,36.1 359.5,35.9 360.5,35.9 361.5,36 362.5,36.2 363.5,36.5 364.5,36.9 365.5,37.4 366.5,38 367.5,38.7 368.5,39.4 369.5,40.1 370.5,40.8 371.5,41.5 372.5,42.1 373.5,42.7 374.5,43.3 375.5,43.8 376.5,44.3 377.5,44.8 378.5,45.3 379.5,45.9 380.5,46.5 381.5,47.3 382.5,48.2 383.5,49.1 384.5,50.1 385.5,51.1 386.5,52.2 387.5,53.4 388.5,54.9 389.5,56.7 390.5,58.7 391.5,61 392.5,63.4 393.5,65.9 394.5,68.4 395.5,70.9 396.5,73.4 397.5,75.9 398.5,78.4 399.5,80.9 400.5,83.4 401.5,85.9 402.5,88.3 403.5,90.7 404.5,93 405.5,95.1 406.5,97 407.5,98.8 408.5,100.5 409.5,102.2 410.5,103.7 411.5,105.2 412.5,106.5 413.5,107.6 414.5,108.5 415.5,109.1 416.5,109.7 417.5,110.1 418.5,110.5 419.5,110.9 420.5,111.4 421.5,111.8 422.5,112.2 423.5,112.5 424.5,112.9 425.5,113.1 426.5,113.3 427.5,113.5 428.5,113.6 429.5,113.7 430.5,113.7 431.5,113.8 432.5,113.8 433.5,113.9 434.5,114 435.5,114 436.5,114.1 437.5,114.2 438.5,114.2 439.5,114.3 440.5,114.4 441.5,114.4 442.5,114.5 443.5,114.5 444.5,114.6 445.5,114.7 446.5,114.7 447.5,114.8 448.5,114.9 449.5,114.9 450.5,115 451.5,115.1 452.5,115.1 453.5,115.2 454.5,115.2 455.5,115.3 456.5,115.4 457.5,115.4 457.5,115.8 456.5,115.7 455.5,115.7 454.5,115.7 453.5,115.6 452.5,115.6 451.5,115.5 450.5,115.5 449.5,115.4 448.5,115.3 447.5,115.3 446.5,115.2 445.5,115.2 444.5,115.1 443.5,115.1 442.5,115 441.5,115 440.5,114.9 439.5,114.8 438.5,114.8 437.5,114.7 436.5,114.7 435.5,114.6 434.5,114.6 433.5,114.5 432.5,114.5 431.5,114.4 430.5,114.3 429.5,114.3 428.5,114.2 427.5,114.2 426.5,114.1 425.5,114 424.5,114 423.5,113.9 422.5,113.8 421.5,113.8 420.5,113.7 419.5,113.6 418.5,113.5 417.5,113.4 416.5,113.3 415.5,113.2 414.5,113.1 413.5,113 412.5,112.9 411.5,112.8 410.5,112.7 409.5,112.5 408.5,112.4 407.5,112.3 406.5,112.2 405.5,112 404.5,111.9 403.5,111.8 402.5,111.6 401.5,111.5 400.5,111.4 399.5,111.2 398.5,111.1 397.5,111 396.5,110.8 395.5,110.7 394.5,110.6 393.5,110.4 392.5,110.3 391.5,110.1 390.5,110 389.5,109.9 388.5,109.7 387.5,109.6 386.5,109.4 385.5,109.2 384.5,109.1 383.5,108.9 382.5,108.8 381.5,108.6 380.5,108.4 379.5,108.3 378.5,108.1 377.5,108 376.5,107.8 375.5,107.6 374.5,107.5 373.5,107.3 372.5,107.1 371.5,107 370.5,106.8 369.5,106.6 368.5,106.5 367.5,106.3 366.5,106.2 365.5,106 364.5,105.8 363.5,105.7 362.5,105.5 361.5,105.4 360.5,105.2 359.5,105.1 358.5,105 357.5,104.8 356.6,104.7 355.6,104.6 354.6,104.5 353.6,104.4 352.6,104.2 351.6,104.1 350.6,104.1 349.6,104 348.6,103.9 347.6,103.8 346.6,103.7 345.6,103.6 344.6,103.5 343.6,103.4 342.6,103.4 341.6,103.3 340.6,103.2 339.6,103.1 338.6,103 337.6,102.9 336.6,102.9 335.6,102.8 334.6,102.7 333.6,102.6 332.6,102.5 331.6,102.5 330.6,102.4 329.6,102.3 328.6,102.2 327.6,102.1 326.6,102.1 325.6,102 324.6,101.9 323.6,101.8 322.6,101.8 321.6,101.7 320.6,101.6 319.6,101.6 318.6,101.5 317.6,101.5 316.6,101.4 315.6,101.3 314.6,101.3 313.6,101.2 312.6,101.2 311.6,101.1 310.6,101.1 309.6,101.1 308.6,101 307.6,101 306.6,100.9 305.6,100.9 304.6,100.8 303.6,100.8 302.6,100.8 301.6,100.7 300.6,100.7 299.6,100.6 298.6,100.6 297.6,100.5 296.6,100.5 295.6,100.5 294.6,100.4 293.6,100.4 292.6,100.3 291.6,100.3 290.6,100.3 289.6,100.2 288.6,100.2 287.6,100.1 286.6,100.1 285.6,100.1 284.6,100 283.6,100 282.6,100 281.6,99.9 280.6,99.9 279.6,99.9 278.6,99.8 277.6,99.8 276.6,99.8 275.6,99.8 274.6,99.8 273.6,99.7 272.6,99.7 271.6,99.7 270.6,99.7 269.6,99.7 268.6,99.7 267.6,99.7 266.6,99.6 265.6,99.6 264.6,99.6 263.6,99.6 262.6,99.6 261.6,99.6 260.6,99.6 259.6,99.6 258.6,99.6 257.6,99.6 256.6,99.5Z" fill="#7373c3" fill-opacity="0.5" stroke="none"/>
<path d="M256.6,99.5 257.6,99.6 258.6,99.6 259.6,99.6 260.6,99.6 261.6,99.6 262.6,99.6 263.6,99.6 264.6,99.6 265.6,99.6 266.6,99.6 267.6,99.7 268.6,99.7 269.6,99.7 270.6,99.7 271.6,99.7 272.6,99.7 273.6,99.7 274.6,99.8 275.6,99.8 276.6,99.8 277.6,99.8 278.6,99.8 279.6,99.9 280.6,99.9 281.6,99.9 282.6,100 283.6,100 284.6,100 285.6,100.1 286.6,100.1 287.6,100.1 288.6,100.2 289.6,100.2 290.6,100.3 291.6,100.3 292.6,100.3 293.6,100.4 294.6,100.4 295.6,100.5 296.6,100.5 297.6,100.5 298.6,100.6 299.6,100.6 300.6,100.7 301.6,100.7 302.6,100.8 303.6,100.8 304.6,100.8 305.6,100.9 306.6,100.9 307.6,101 308.6,101 309.6,101.1 310.6,101.1 311.6,101.1 312.6,101.2 313.6,101.2 314.6,101.3 315.6,101.3 316.6,101.4 317.6,101.5 318.6,101.5 319.6,101.6 320.6,101.6 321.6,101.7 322.6,101.8 323.6,101.8 324.6,101.9 325.6,102 326.6,102.1 327.6,102.1 328.6,102.2 329.6,102.3 330.6,102.4 331.6,102.5 332.6,102.5 333.6,102.6 334.6,102.7 335.6,102.8 336.6,102.9 337.6,102.9 338.6,103 339.6,103.1 340.6,103.2 341.6,103.3 342.6,103.4 343.6,103.4 344.6,103.5 345.6,103.6 346.6,103.7 347.6,103.8 348.6,103.9 349.6,104 350.6,104.1 351.6,104.1 352.6,104.2 353.6,104.4 354.6,104.5 355.6,104.6 356.6,104.7 357.5,104.8 358.5,105 359.5,105.1 360.5,105.2 361.5,105.4 362.5,105.5 363.5,105.7 364.5,105.8 365.5,106 366.5,106.2 367.5,106.3 368.5,106.5 369.5,106.6 370.5,106.8 371.5,107 372.5,107.1 373.5,107.3 374.5,107.5 375.5,107.6 376.5,107.8 377.5,108 378.5,108.1 379.5,108.3 380.5,108.4 381.5,108.6 382.5,108.8 383.5,108.9 384.5,109.1 385.5,109.2 386.5,109.4 387.5,109.6 388.5,109.7 389.5,109.9 390.5,110 391.5,110.1 392.5,110.3 393.5,110.4 394.5,110.6 395.5,110.7 396.5,110.8 397.5,111 398.5,111.1 399.5,111.2 400.5,111.4 401.5,111.5 402.5,111.6 403.5,111.8 404.5,111.9 405.5,112 406.5,112.2 407.5,112.3 408.5,112.4 409.5,112.5 410.5,112.7 411.5,112.8 412.5,112.9 413.5,113 414.5,113.1 415.5,113.2 416.5,113.3 417.5,113.4 418.5,113.5 419.5,113.6 420.5,113.7 421.5,113.8 422.5,113.8 423.5,113.9 424.5,114 425.5,114 426.5,114.1 427.5,114.2 428.5,114.2 429.5,114.3 430.5,114.3 431.5,114.4 432.5,114.5 433.5,114.5 434.5,114.6 435.5,114.6 436.5,114.7 437.5,114.7 438.5,114.8 439.5,114.8 440.5,114.9 441.5,115 442.5,115 443.5,115.1 444.5,115.1 445.5,115.2 446.5,115.2 447.5,115.3 448.5,115.3 449.5,115.4 450.5,115.5 451.5,115.5 452.5,115.6 453.5,115.6 454.5,115.7 455.5,115.7 456.5,115.7 457.5,115.8" fill="none" stroke="#6a5ab0" stroke-width="0.6" stroke-opacity="1.0" stroke-linejoin="round"/>
<path d="M256.6,99.4 257.6,99.4 258.6,99.4 259.6,99.4 260.6,99.4 261.6,99.4 262.6,99.4 263.6,99.4 264.6,99.5 265.6,99.5 266.6,99.5 267.6,99.5 268.6,99.5 269.6,99.5 270.6,99.5 271.6,99.5 272.6,99.5 273.6,99.5 274.6,99.5 275.6,99.6 276.6,99.6 277.6,99.6 278.6,99.6 279.6,99.6 280.6,99.6 281.6,99.7 282.6,99.7 283.6,99.7 284.6,99.8 285.6,99.8 286.6,99.8 287.6,99.8 288.6,99.9 289.6,99.9 290.6,99.9 291.6,100 292.6,100 293.6,100 294.6,100.1 295.6,100.1 296.6,100.1 297.6,100.2 298.6,100.2 299.6,100.2 300.6,100.2 301.6,100.3 302.6,100.3 303.6,100.3 304.6,100.4 305.6,100.4 306.6,100.4 307.6,100.4 308.6,100.4 309.6,100.5 310.6,100.5 311.6,100.5 312.6,100.5 313.6,100.5 314.6,100.5 315.6,100.5 316.6,100.5 317.6,100.5 318.6,100.5 319.6,100.5 320.6,100.4 321.6,100.4 322.6,100.3 323.6,100.2 324.6,100 325.6,99.9 326.6,99.6 327.6,99.3 328.6,99 329.6,98.6 330.6,98.1 331.6,97.4 332.6,96.7 333.6,95.9 334.6,95 335.6,93.9 336.6,92.6 337.6,91.3 338.6,89.7 339.6,88.1 340.6,86.2 341.6,84.3 342.6,82.2 343.6,80 344.6,77.6 345.6,75.2 346.6,72.8 347.6,70.3 348.6,67.9 349.6,65.5 350.6,63.2 351.6,61 352.6,59.1 353.6,57.3 354.6,55.9 355.6,54.7 356.6,53.9 357.5,53.5 358.5,53.5 359.5,53.8 360.5,54.5 361.5,55.6 362.5,57.1 363.5,58.8 364.5,60.9 365.5,63.1 366.5,65.5 367.5,68.1 368.5,70.7 369.5,73.4 370.5,76.2 371.5,78.8 372.5,81.5 373.5,84 374.5,86.5 375.5,88.8 376.5,91 377.5,93.1 378.5,95 379.5,96.8 380.5,98.4 381.5,99.8 382.5,101.1 383.5,102.3 384.5,103.4 385.5,104.3 386.5,105.1 387.5,105.9 388.5,106.5 389.5,107.1 390.5,107.6 391.5,108 392.5,108.4 393.5,108.8 394.5,109.1 395.5,109.4 396.5,109.7 397.5,109.9 398.5,110.1 399.5,110.3 400.5,110.5 401.5,110.7 402.5,110.9 403.5,111.1 404.5,111.2 405.5,111.4 406.5,111.5 407.5,111.7 408.5,111.9 409.5,112 410.5,112.1 411.5,112.3 412.5,112.4 413.5,112.6 414.5,112.7 415.5,112.8 416.5,112.9 417.5,113 418.5,113.1 419.5,113.2 420.5,113.3 421.5,113.4 422.5,113.5 423.5,113.6 424.5,113.6 425.5,113.7 426.5,113.8 427.5,113.9 428.5,113.9 429.5,114 430.5,114.1 431.5,114.1 432.5,114.2 433.5,114.2 434.5,114.3 435.5,114.4 436.5,114.4 437.5,114.5 438.5,114.6 439.5,114.6 440.5,114.7 441.5,114.7 442.5,114.8 443.5,114.9 444.5,114.9 445.5,115 446.5,115 447.5,115.1 448.5,115.2 449.5,115.2 450.5,115.3 451.5,115.3 452.5,115.4 453.5,115.4 454.5,115.5 455.5,115.5 456.5,115.6 457.5,115.6" fill="none" stroke="#6020b0" stroke-width="0.9" stroke-opacity="1.0" stroke-linejoin="round"/>
<path d="M256.6,99.5 257.6,99.5 258.6,99.5 259.6,99.5 260.6,99.5 261.6,99.5 262.6,99.5 263.6,99.5 264.6,99.5 265.6,99.6 266.6,99.6 267.6,99.6 268.6,99.6 269.6,99.6 270.6,99.6 271.6,99.6 272.6,99.6 273.6,99.7 274.6,99.7 275.6,99.7 276.6,99.7 277.6,99.7 278.6,99.7 279.6,99.8 280.6,99.8 281.6,99.8 282.6,99.8 283.6,99.9 284.6,99.9 285.6,99.9 286.6,100 287.6,100 288.6,100.1 289.6,100.1 290.6,100.1 291.6,100.2 292.6,100.2 293.6,100.2 294.6,100.3 295.6,100.3 296.6,100.4 297.6,100.4 298.6,100.4 299.6,100.5 300.6,100.5 301.6,100.6 302.6,100.6 303.6,100.6 304.6,100.7 305.6,100.7 306.6,100.8 307.6,100.8 308.6,100.8 309.6,100.9 310.6,100.9 311.6,101 312.6,101 313.6,101 314.6,101.1 315.6,101.1 316.6,101.2 317.6,101.2 318.6,101.3 319.6,101.3 320.6,101.4 321.6,101.4 322.6,101.5 323.6,101.6 324.6,101.6 325.6,101.7 326.6,101.7 327.6,101.8 328.6,101.9 329.6,101.9 330.6,102 331.6,102.1 332.6,102.2 333.6,102.2 334.6,102.3 335.6,102.4 336.6,102.4 337.6,102.5 338.6,102.5 339.6,102.6 340.6,102.7 341.6,102.7 342.6,102.8 343.6,102.8 344.6,102.9 345.6,102.9 346.6,103 347.6,103 348.6,103 349.6,103 350.6,103 351.6,103 352.6,103 353.6,102.9 354.6,102.8 355.6,102.6 356.6,102.4 357.5,102.2 358.5,101.8 359.5,101.4 360.5,100.8 361.5,100.1 362.5,99.3 363.5,98.3 364.5,97.1 365.5,95.8 366.5,94.2 367.5,92.5 368.5,90.6 369.5,88.5 370.5,86.2 371.5,83.7 372.5,81.2 373.5,78.5 374.5,75.8 375.5,73.1 376.5,70.5 377.5,68 378.5,65.7 379.5,63.7 380.5,62 381.5,60.7 382.5,59.9 383.5,59.5 384.5,59.6 385.5,60.3 386.5,61.4 387.5,62.9 388.5,64.9 389.5,67.2 390.5,69.8 391.5,72.5 392.5,75.4 393.5,78.4 394.5,81.4 395.5,84.4 396.5,87.3 397.5,90 398.5,92.6 399.5,95.1 400.5,97.3 401.5,99.4 402.5,101.2 403.5,102.9 404.5,104.4 405.5,105.6 406.5,106.8 407.5,107.8 408.5,108.6 409.5,109.3 410.5,109.9 411.5,110.5 412.5,110.9 413.5,111.3 414.5,111.6 415.5,111.9 416.5,112.2 417.5,112.4 418.5,112.6 419.5,112.7 420.5,112.9 421.5,113 422.5,113.1 423.5,113.3 424.5,113.4 425.5,113.5 426.5,113.5 427.5,113.6 428.5,113.7 429.5,113.8 430.5,113.9 431.5,113.9 432.5,114 433.5,114.1 434.5,114.2 435.5,114.2 436.5,114.3 437.5,114.4 438.5,114.4 439.5,114.5 440.5,114.6 441.5,114.6 442.5,114.7 443.5,114.8 444.5,114.8 445.5,114.9 446.5,115 447.5,115 448.5,115.1 449.5,115.2 450.5,115.2 451.5,115.3 452.5,115.3 453.5,115.4 454.5,115.4 455.5,115.5 456.5,115.5 457.5,115.6" fill="none" stroke="#6020b0" stroke-width="0.9" stroke-opacity="1.0" stroke-linejoin="round"/>
<path d="M256.6,99.5 257.6,99.5 258.6,99.5 259.6,99.5 260.6,99.5 261.6,99.5 262.6,99.6 263.6,99.6 264.6,99.6 265.6,99.6 266.6,99.6 267.6,99.6 268.6,99.6 269.6,99.6 270.6,99.6 271.6,99.6 272.6,99.7 273.6,99.7 274.6,99.7 275.6,99.7 276.6,99.7 277.6,99.7 278.6,99.8 279.6,99.8 280.6,99.8 281.6,99.8 282.6,99.9 283.6,99.9 284.6,99.9 285.6,100 286.6,100 287.6,100 288.6,100.1 289.6,100.1 290.6,100.1 291.6,100.2 292.6,100.2 293.6,100.2 294.6,100.3 295.6,100.3 296.6,100.3 297.6,100.4 298.6,100.4 299.6,100.5 300.6,100.5 301.6,100.5 302.6,100.5 303.6,100.6 304.6,100.6 305.6,100.6 306.6,100.6 307.6,100.7 308.6,100.7 309.6,100.7 310.6,100.7 311.6,100.6 312.6,100.6 313.6,100.5 314.6,100.4 315.6,100.3 316.6,100.1 317.6,99.9 318.6,99.6 319.6,99.3 320.6,98.8 321.6,98.3 322.6,97.7 323.6,97.1 324.6,96.3 325.6,95.5 326.6,94.5 327.6,93.5 328.6,92.5 329.6,91.4 330.6,90.3 331.6,89.3 332.6,88.3 333.6,87.4 334.6,86.7 335.6,86.1 336.6,85.7 337.6,85.5 338.6,85.5 339.6,85.8 340.6,86.3 341.6,87 342.6,87.9 343.6,88.9 344.6,90.1 345.6,91.3 346.6,92.5 347.6,93.7 348.6,95 349.6,96.1 350.6,97.3 351.6,98.3 352.6,99.3 353.6,100.1 354.6,100.9 355.6,101.6 356.6,102.3 357.5,102.8 358.5,103.3 359.5,103.7 360.5,104.1 361.5,104.5 362.5,104.8 363.5,105 364.5,105.3 365.5,105.5 366.5,105.7 367.5,106 368.5,106.2 369.5,106.3 370.5,106.5 371.5,106.7 372.5,106.9 373.5,107.1 374.5,107.3 375.5,107.4 376.5,107.6 377.5,107.8 378.5,107.9 379.5,108.1 380.5,108.3 381.5,108.5 382.5,108.6 383.5,108.8 384.5,109 385.5,109.1 386.5,109.3 387.5,109.4 388.5,109.6 389.5,109.7 390.5,109.9 391.5,110 392.5,110.2 393.5,110.3 394.5,110.5 395.5,110.6 396.5,110.8 397.5,110.9 398.5,111 399.5,111.2 400.5,111.3 401.5,111.4 402.5,111.6 403.5,111.7 404.5,111.8 405.5,112 406.5,112.1 407.5,112.2 408.5,112.4 409.5,112.5 410.5,112.6 411.5,112.7 412.5,112.9 413.5,113 414.5,113.1 415.5,113.2 416.5,113.3 417.5,113.4 418.5,113.5 419.5,113.6 420.5,113.6 421.5,113.7 422.5,113.8 423.5,113.9 424.5,113.9 425.5,114 426.5,114.1 427.5,114.1 428.5,114.2 429.5,114.2 430.5,114.3 431.5,114.4 432.5,114.4 433.5,114.5 434.5,114.5 435.5,114.6 436.5,114.6 437.5,114.7 438.5,114.8 439.5,114.8 440.5,114.9 441.5,114.9 442.5,115 443.5,115 444.5,115.1 445.5,115.2 446.5,115.2 447.5,115.3 448.5,115.3 449.5,115.4 450.5,115.4 451.5,115.5 452.5,115.5 453.5,115.6 454.5,115.6 455.5,115.7 456.5,115.7 457.5,115.8" fill="none" stroke="#3535ee" stroke-width="0.9" stroke-opacity="1.0" stroke-linejoin="round"/>
<path d="M256.6,99.5 257.6,99.5 258.6,99.5 259.6,99.5 260.6,99.5 261.6,99.5 262.6,99.5 263.6,99.5 264.6,99.5 265.6,99.5 266.6,99.5 267.6,99.6 268.6,99.6 269.6,99.6 270.6,99.6 271.6,99.6 272.6,99.6 273.6,99.6 274.6,99.6 275.6,99.6 276.6,99.6 277.6,99.6 278.6,99.6 279.6,99.7 280.6,99.7 281.6,99.7 282.6,99.7 283.6,99.6 284.6,99.6 285.6,99.6 286.6,99.6 287.6,99.5 288.6,99.4 289.6,99.3 290.6,99.2 291.6,99.1 292.6,98.9 293.6,98.7 294.6,98.4 295.6,98.1 296.6,97.8 297.6,97.4 298.6,96.9 299.6,96.5 300.6,96 301.6,95.4 302.6,94.8 303.6,94.3 304.6,93.7 305.6,93.1 306.6,92.5 307.6,92 308.6,91.5 309.6,91.1 310.6,90.7 311.6,90.5 312.6,90.3 313.6,90.2 314.6,90.3 315.6,90.5 316.6,90.8 317.6,91.2 318.6,91.7 319.6,92.2 320.6,92.8 321.6,93.5 322.6,94.2 323.6,94.9 324.6,95.6 325.6,96.3 326.6,97 327.6,97.6 328.6,98.2 329.6,98.8 330.6,99.4 331.6,99.8 332.6,100.3 333.6,100.7 334.6,101.1 335.6,101.4 336.6,101.7 337.6,102 338.6,102.2 339.6,102.4 340.6,102.6 341.6,102.8 342.6,102.9 343.6,103.1 344.6,103.2 345.6,103.3 346.6,103.4 347.6,103.6 348.6,103.7 349.6,103.8 350.6,103.9 351.6,104 352.6,104.1 353.6,104.2 354.6,104.3 355.6,104.5 356.6,104.6 357.5,104.7 358.5,104.8 359.5,105 360.5,105.1 361.5,105.3 362.5,105.4 363.5,105.6 364.5,105.8 365.5,105.9 366.5,106.1 367.5,106.2 368.5,106.4 369.5,106.6 370.5,106.7 371.5,106.9 372.5,107.1 373.5,107.2 374.5,107.4 375.5,107.6 376.5,107.7 377.5,107.9 378.5,108.1 379.5,108.2 380.5,108.4 381.5,108.6 382.5,108.7 383.5,108.9 384.5,109 385.5,109.2 386.5,109.4 387.5,109.5 388.5,109.7 389.5,109.8 390.5,110 391.5,110.1 392.5,110.3 393.5,110.4 394.5,110.5 395.5,110.7 396.5,110.8 397.5,110.9 398.5,111.1 399.5,111.2 400.5,111.3 401.5,111.5 402.5,111.6 403.5,111.7 404.5,111.9 405.5,112 406.5,112.1 407.5,112.3 408.5,112.4 409.5,112.5 410.5,112.6 411.5,112.8 412.5,112.9 413.5,113 414.5,113.1 415.5,113.2 416.5,113.3 417.5,113.4 418.5,113.5 419.5,113.6 420.5,113.7 421.5,113.7 422.5,113.8 423.5,113.9 424.5,114 425.5,114 426.5,114.1 427.5,114.1 428.5,114.2 429.5,114.3 430.5,114.3 431.5,114.4 432.5,114.4 433.5,114.5 434.5,114.5 435.5,114.6 436.5,114.7 437.5,114.7 438.5,114.8 439.5,114.8 440.5,114.9 441.5,114.9 442.5,115 443.5,115.1 444.5,115.1 445.5,115.2 446.5,115.2 447.5,115.3 448.5,115.3 449.5,115.4 450.5,115.4 451.5,115.5 452.5,115.5 453.5,115.6 454.5,115.6 455.5,115.7 456.5,115.7 457.5,115.8" fill="none" stroke="#6a3ad0" stroke-width="0.9" stroke-opacity="1.0" stroke-linejoin="round"/>
<path d="M256.6,99.2 257.6,99.2 258.6,99.2 259.6,99.2 260.6,99.2 261.6,99.2 262.6,99.2 263.6,99.2 264.6,99.2 265.6,99.2 266.6,99.2 267.6,99.2 268.6,99.2 269.6,99.2 270.6,99.2 271.6,99.2 272.6,99.2 273.6,99.2 274.6,99.2 275.6,99.2 276.6,99.2 277.6,99.2 278.6,99.1 279.6,99.1 280.6,99 281.6,98.9 282.6,98.8 283.6,98.7 284.6,98.6 285.6,98.4 286.6,98.3 287.6,98.2 288.6,98.1 289.6,97.9 290.6,97.8 291.6,97.7 292.6,97.6 293.6,97.4 294.6,97.2 295.6,96.9 296.6,96.6 297.6,96.1 298.6,95.7 299.6,95.2 300.6,94.7 301.6,94.2 302.6,93.7 303.6,93.2 304.6,92.7 305.6,92.2 306.6,91.7 307.6,91.1 308.6,90.5 309.6,89.9 310.6,89.2 311.6,88.6 312.6,87.9 313.6,87.3 314.6,86.6 315.6,85.9 316.6,85.3 317.6,84.6 318.6,83.9 319.6,83.1 320.6,82.2 321.6,81.3 322.6,80.4 323.6,79.4 324.6,78.4 325.6,77.4 326.6,76.4 327.6,75.4 328.6,74.4 329.6,73.3 330.6,72.3 331.6,71.1 332.6,69.9 333.6,68.7 334.6,67.3 335.6,66 336.6,64.6 337.6,63.2 338.6,61.8 339.6,60.4 340.6,59 341.6,57.5 342.6,56 343.6,54.5 344.6,52.9 345.6,51.3 346.6,49.7 347.6,48.1 348.6,46.5 349.6,44.9 350.6,43.4 351.6,42 352.6,40.7 353.6,39.6 354.6,38.7 355.6,37.8 356.6,37.1 357.5,36.5 358.5,36.1 359.5,35.9 360.5,35.9 361.5,36 362.5,36.2 363.5,36.5 364.5,36.9 365.5,37.4 366.5,38 367.5,38.7 368.5,39.4 369.5,40.1 370.5,40.8 371.5,41.5 372.5,42.1 373.5,42.7 374.5,43.3 375.5,43.8 376.5,44.3 377.5,44.8 378.5,45.3 379.5,45.9 380.5,46.5 381.5,47.3 382.5,48.2 383.5,49.1 384.5,50.1 385.5,51.1 386.5,52.2 387.5,53.4 388.5,54.9 389.5,56.7 390.5,58.7 391.5,61 392.5,63.4 393.5,65.9 394.5,68.4 395.5,70.9 396.5,73.4 397.5,75.9 398.5,78.4 399.5,80.9 400.5,83.4 401.5,85.9 402.5,88.3 403.5,90.7 404.5,93 405.5,95.1 406.5,97 407.5,98.8 408.5,100.5 409.5,102.2 410.5,103.7 411.5,105.2 412.5,106.5 413.5,107.6 414.5,108.5 415.5,109.1 416.5,109.7 417.5,110.1 418.5,110.5 419.5,110.9 420.5,111.4 421.5,111.8 422.5,112.2 423.5,112.5 424.5,112.9 425.5,113.1 426.5,113.3 427.5,113.5 428.5,113.6 429.5,113.7 430.5,113.7 431.5,113.8 432.5,113.8 433.5,113.9 434.5,114 435.5,114 436.5,114.1 437.5,114.2 438.5,114.2 439.5,114.3 440.5,114.4 441.5,114.4 442.5,114.5 443.5,114.5 444.5,114.6 445.5,114.7 446.5,114.7 447.5,114.8 448.5,114.9 449.5,114.9 450.5,115 451.5,115.1 452.5,115.1 453.5,115.2 454.5,115.2 455.5,115.3 456.5,115.4 457.5,115.4" fill="none" stroke="#15152a" stroke-width="1.3" stroke-opacity="1.0" stroke-linejoin="round"/>
</g>
<rect x="260.9" y="26.4" width="24" height="11.7" fill="#7373c3" fill-opacity="0.5"/>
<text x="288.60" y="35.10" font-size="10.6" fill="#1a1a1a">Co</text>
<rect x="302.60" y="25.80" width="0.9" height="5.50" fill="#ff2a2a"/>
<rect x="304.45" y="25.80" width="0.9" height="5.50" fill="#ff2a2a"/>
<text x="306.75" y="35.10" font-size="10.6" fill="#1a1a1a">Cr</text>
<text x="317.94" y="38.90" font-size="7" fill="#1a1a1a">2</text>
<rect x="318.39" y="25.80" width="0.9" height="5.50" fill="#ff2a2a"/>
<rect x="320.24" y="25.80" width="0.9" height="5.50" fill="#ff2a2a"/>
<rect x="322.09" y="25.80" width="0.9" height="5.50" fill="#ff2a2a"/>
<text x="324.39" y="35.10" font-size="10.6" fill="#1a1a1a">O</text>
<text x="332.63" y="38.90" font-size="7" fill="#1a1a1a">4</text>
<g clip-path="url(#c01b)">
<defs><marker id="m1" markerWidth="5.4" markerHeight="5.4" refX="2.7" refY="2.7" markerUnits="userSpaceOnUse" overflow="visible"><circle cx="2.7" cy="2.7" r="1.7" fill="#ffffff" fill-opacity="0.6" stroke="#787878" stroke-width="0.5" stroke-opacity="1.0"/></marker></defs>
<polyline points="256.7,193 257.2,192.5 257.7,183.9 258.6,195.5 259.1,191.7 259.4,195.4 259.8,193.2 260.8,193 261.3,193.9 261.4,185.6 262,187.7 262.9,187.7 263.4,196.1 263.8,194.5 264.3,193.7 264.5,195.6 265.6,194.7 265.7,188.3 266.6,184.7 267.1,187.9 267.4,186.9 267.9,193.3 268.3,188.4 268.8,196.6 269.3,188.1 270.1,187.5 270.6,182.5 271,199.4 271.6,190.2 272.1,193.3 272.6,188 273.3,184.5 274,188.2 274.1,187.9 275,184.6 275.3,184.7 275.7,185.2 276.5,186.1 277.2,191.1 277.8,183.6 277.7,183 278.7,193.9 279,189.4 279.8,182.6 280,185.7 280.4,187.7 281.1,187 281.4,182.9 282,186.5 282.7,188.7 283.2,191.4 283.8,188.7 284.2,183.8 284.7,182.9 285.5,182.8 285.9,182.9 286.3,183.7 287,181.6 287.7,172.4 288,187 288.4,180.3 289.1,181.5 289.5,186 290.2,176.2 290.4,180.4 291.1,183 291.6,181.5 292,178.5 293.1,169.6 293.3,175.2 294.1,175.8 294.5,174 294.9,181.2 295.7,180.3 296.2,181.7 296.6,177.2 297.2,174.4 297.6,173.3 298.2,177.2 298.9,175.6 299.4,186.6 300,182.2 300.3,185.2 300.5,179.9 301.6,176.9 301.6,176.4 302.4,171.9 303.1,174.7 303.2,185.3 303.6,177.2 304.7,181.7 305.1,181 305.7,169.4 305.9,174.1 306.7,172.5 307.3,182.6 307.6,175 307.9,175.6 308.7,168.2 309.3,175.6 309.5,171 310.3,179.3 310.5,178.1 311.1,168.5 311.9,169.1 312.3,177.8 312.7,163.9 313.2,173.7 313.7,167.1 314.5,166.9 315,175.6 315.3,166.6 316.3,171.7 316.8,173.2 317.1,170.8 317.9,167.5 318,171.9 318.6,172.4 319.3,173.1 319.5,165.1 320.2,163.8 321,166 321.4,169.3 322.1,167.5 322.3,167.2 323,155.1 323.6,162.7 324.3,162.7 324.5,167 325.3,162.2 325.8,160.5 325.9,160.9 326.8,159.3 327,166.6 327.5,166.3 328,167 329,157.8 329.2,164.4 329.9,163.5 330.6,162 330.7,158.1 331.3,156.8 331.7,167.9 332.7,159.6 333.2,161.3 333.3,149.7 334.1,152.8 334.8,157.1 335.3,158.4 335.7,156 336.3,155.8 336.9,150.5 337.1,158.7 337.8,153.3 338.5,153.5 338.6,151.4 339.2,145.5 340.1,144.7 340.3,147.8 340.8,156.8 341.4,154.8 342,152.3 342.6,149.1 343.3,149 343.6,151.8 344.4,151.7 344.9,154.6 345,147.9 345.4,149.9 346.5,152 347,149.5 347.1,147.1 347.7,150.9 348.5,147.7 349,139.5 349.2,145.4 349.9,148.6 350.2,149 350.9,148.3 351.8,147.8 351.9,151.2 352.7,143 353.2,153.4 353.7,144 354.2,144 354.7,140.3 355.2,149.5 355.7,151.1 356,148.9 356.6,151.5 357.2,142 357.7,138.3 358.3,143.9 359.1,144.9 359.1,146.5 359.8,143.9 360.7,145.5 361,142 361.5,143.9 362.3,142.1 362.9,142.3 363.4,136.8 363.6,148.6 364.2,139.3 364.5,139.2 365.1,139.9 365.9,149.6 366,142.8 366.9,146.1 367.5,153.9 367.8,151 368.3,144.3 369.1,154 369.7,143.8 370.1,147.4 370.5,144.6 371.4,149.1 371.7,151.5 372.1,146 372.5,149.6 373,157 373.9,154.8 374.4,159.8 375,159.5 375.3,160 375.9,153.5 376.4,159.6 376.6,154.6 377.4,156.5 378.2,157.6 378.6,156.4 378.9,152.6 379.6,159.3 380.3,156.9 380.7,158.3 381.2,154.3 381.8,155.9 382,153.3 382.4,163.6 383.1,152.2 383.9,153.9 384.5,161.2 384.7,156.6 385.3,157.1 385.6,158.9 386.6,162.7 386.7,159.9 387.7,158.9 387.8,162.5 388.8,162.5 389.1,164.6 389.3,158.8 390,151.4 390.4,165.3 391,163.7 392,162 392.1,158.7 393,162.2 393,165.7 393.9,163.4 394,165.6 394.7,163.8 395.1,165.1 396.2,170.7 396.5,161.1 396.8,176.9 397.3,178 398.1,168.3 398.8,179.1 399.2,175.2 399.7,174.3 400,172.4 400.4,170.2 401.2,176.7 401.6,176.6 402.4,171.4 402.5,179.9 403.2,181.7 403.9,182.6 404.3,186.3 404.8,180.2 405.2,174.7 405.9,186.5 406.2,184.2 406.8,188.1 407.8,181.5 408.1,190 408.7,188.5 409.1,190.4 409.6,191.4 410.1,187.3 410.4,190.1 411.4,190 411.5,186.8 412.2,183.9 412.8,188.7 413.6,189.8 414,191.8 414.5,187.8 414.7,189.3 415.4,193.6 415.7,191.3 416.3,192.6 416.9,197.4 417.7,195.5 418.2,196.9 418.7,202.3 419,192 419.6,189.9 420.1,193.4 421,195.9 421.1,198.4 422,185.8 422.1,188.6 423,193.8 423.6,194.1 424.2,202.3 424.6,199 425,192.2 425.2,194.1 426,196.6 426.6,193.1 427,191.7 427.9,186.5 428,194.8 428.7,195.2 429.4,195.9 429.7,194 430,188.1 430.7,198.9 431.5,201.7 431.7,193.5 432.6,207 432.6,189.4 433.1,194.4 433.9,199.8 434.3,192.3 435.1,191.7 435.6,190.6 435.8,194.2 436.6,197.1 437.3,197.4 437.6,194.6 438.3,198.7 438.5,195.4 439.5,195.4 439.6,197 440.3,192.1 440.7,192.8 441.4,201.5 441.9,197 442.2,202 443,194.4 443.5,193.5 444.1,200.4 444.7,205.8 445.2,201.2 445.5,196.3 446,196.3 446.6,200.4 447,194.7 447.6,198 448.3,195 449,204.5 449.2,199 449.6,196 450.7,198.4 451.1,198.1 451.1,195.5 451.8,194.3 452.3,201.6 452.9,197.4 453.5,197.8 453.8,195.1 454.8,199.1 454.8,198.8 455.9,192.7 456.2,200.5 457,196.2 457.3,200.9" fill="none" stroke="none" marker-start="url(#m1)" marker-mid="url(#m1)" marker-end="url(#m1)"/>
</g>
<g clip-path="url(#c02t)">
<defs><marker id="m2" markerWidth="5.2" markerHeight="5.2" refX="2.6" refY="2.6" markerUnits="userSpaceOnUse" overflow="visible"><circle cx="2.6" cy="2.6" r="1.6" fill="#a0a0a0" fill-opacity="0.5" stroke="#8a8a8a" stroke-width="0.6" stroke-opacity="1.0"/></marker></defs>
<polyline points="483.9,104.3 484.7,103.2 485.2,104.5 485.7,104.3 486.6,103.5 486.7,103.2 487.5,104.4 488.2,105.3 488.5,104.5 489.7,104.9 490.2,105.1 490.5,105.4 491.4,104.4 492.2,104.4 492.4,104.8 493.4,106.3 493.7,105.2 494.5,104.2 494.9,105.4 496,104 496.5,104.2 496.7,105 497.3,104.9 498.2,104.6 498.5,104.1 499.3,103.8 500.2,103.8 500.7,104.4 501.4,106.1 501.6,105 502.7,104.4 503.4,104.3 503.7,104.3 504.2,104.3 504.9,104.8 505.8,104.2 506.6,105 506.8,104.1 507.6,104.4 508.3,104 509,104.5 509.7,104.2 509.8,103.8 510.9,105.2 511.2,105.1 511.8,103.9 512.4,104.5 513,104.6 513.9,104.8 514.2,104.3 515.3,103.6 515.5,104.2 516.4,104.7 516.9,103.7 517.3,104.5 518.2,104.2 519,105.1 519.7,105.2 520.1,104.4 520.6,104 521.1,104.7 521.9,103.8 522.8,105.5 523.1,102.8 523.8,104.2 524.3,103.5 525,104.7 526,104.9 526.6,103.7 526.8,103.7 527.3,104.2 528.4,105.5 528.7,104.6 529.5,103.1 530.1,104.4 530.8,103.7 531.2,103.1 532,104.4 532.4,105.3 533.2,104 533.5,103.8 534.5,104.2 535,104.7 535.8,103.4 536.2,103.6 537.1,103.4 537.4,105.1 538.3,103.1 539.1,105.1 539.4,104 539.8,105 540.6,102.6 541.4,103.6 541.7,102.7 542.7,102.6 543.1,102.9 543.9,103.3 544.5,102 544.7,103.3 545.7,103.2 546.1,102.1 546.6,101.4 547.5,102.1 547.9,102.2 548.7,101.9 549.1,102 550,100.6 550.7,101.8 551.1,101 551.8,100.8 552.4,100.3 553.4,100.5 553.7,101.2 554.2,100.3 555.1,99.3 555.9,100.3 556.5,98.3 557,99.8 557.4,99.6 558.2,99.4 559,99.3 559.3,98 560.3,98.1 560.7,97.5 561.3,97.8 562.1,97.6 562.4,96.2 563,96.6 564.1,94.5 564.6,96.8 565.1,95.2 565.6,97 566.2,93.9 566.9,96.3 567.4,93.8 568.2,93.8 568.7,93.2 569.6,94.2 569.7,92.4 570.9,92.1 571.4,91.8 571.7,92.2 572.8,90.6 573.1,91.5 573.9,89.2 574.2,89.2 575.2,88.9 575.5,89.7 576.1,87.7 576.8,87.8 577.7,87.2 578,87 578.7,87.8 579.4,85.3 579.7,86 580.7,84.4 581.4,84.1 582.1,83.4 582.4,82.7 583,84.2 583.6,82.8 584.6,81.6 585.1,80.9 585.8,81 586.5,80.7 586.9,80.4 587.5,79.1 588.2,79 588.9,78.4 589.6,77.6 590.2,76.7 590.8,76 591.5,76.3 591.6,75.1 592.7,73.9 593.4,73.8 593.9,72.6 594.6,71.4 594.8,70.2 595.4,69 596.3,67.5 596.8,65.8 597.2,65.1 598.3,60.7 599,58 599.3,56.9 600.1,51.3 600.6,50.9 601,48.8 602,44.2 602.5,42.9 603.2,38.8 603.6,37.2 604.5,34.4 605,33.5 605.5,32.3 606.4,30.8 607,30.5 607.3,29.2 607.9,28.8 608.8,29.5 609.4,31.4 609.9,30.8 610.8,32.4 611,34.1 612,37.8 612.3,39.2 613.2,42.9 613.9,45.5 614.3,47.3 614.8,48.8 615.5,53.5 616.2,56.7 617,60.6 617.7,61.7 618.1,65.6 618.8,67 619.3,69.8 619.8,72.6 620.3,74.6 621.5,77.5 621.6,79.1 622.5,82.5 623.1,82.9 623.7,85.5 624.2,86.5 624.9,86.8 625.4,89.8 626.1,90.1 626.7,91.7 627.3,92.1 628.4,93.9 628.7,95.3 629.5,94.9 630,96.2 630.7,96.5 631.1,96.5 631.7,96.5 632.3,98.5 632.9,98.5 633.7,99.7 634.2,99.4 635,99.9 635.7,101.8 636,101 637.1,102.8 637.6,100.3 637.8,103 638.5,102.7 639.1,102.1 640,104.1 640.5,103.3 641,104.9 641.9,104.5 642.7,104.6 642.8,104.4 643.7,105 644.3,104.9 644.9,105 645.9,105.3 646,104.5 646.9,105.5 647.2,105.5 648.1,106.2 649,105 649.2,105.3 649.7,105.5 650.6,106.2 651.2,105.7 652.1,105.8 652.4,105.4 652.9,107.2 653.5,106.7 654.5,107.3 655.2,106.9 655.4,107.4 656.1,107.9 656.9,107.7 657.3,108.4 657.8,107.9 658.5,107.4 659.1,108.3 659.9,107.3 660.6,108.9 661.5,107.2 661.9,106.9 662.4,108.3 663.4,107 663.9,107.8 664.5,107.4 664.9,108.1 665.4,108.2 666.1,107.7 666.6,107.5 667.6,107.9 667.8,108 668.5,107.2 669.6,109.2 670,108.2 670.5,108.9 671.1,109.1 672,108.2 672.6,108.9 672.9,108.7 673.8,106.7 674.5,108.8 674.7,107.6 675.6,109.7 676.2,107.2 677.1,108.8 677.5,109.3 677.9,108.2 678.9,108.2 679.6,108.5 679.7,107.7 680.8,108.1 681.1,108.6 681.7,109 682.5,107.8 682.9,109.4" fill="none" stroke="none" marker-start="url(#m2)" marker-mid="url(#m2)" marker-end="url(#m2)"/>
<path d="M483.5,105 484.5,105 485.5,105.1 486.5,105.1 487.5,105.1 488.5,105.1 489.5,105.1 490.5,105.2 491.5,105.2 492.5,105.2 493.5,105.2 494.5,105.2 495.5,105.2 496.5,105.3 497.5,105.3 498.5,105.3 499.5,105.3 500.5,105.3 501.5,105.3 502.5,105.4 503.5,105.4 504.5,105.4 505.5,105.4 506.5,105.4 507.5,105.5 508.5,105.5 509.5,105.5 510.5,105.5 511.5,105.5 512.5,105.5 513.5,105.6 514.5,105.6 515.5,105.6 516.5,105.6 517.5,105.6 518.5,105.6 519.5,105.7 520.5,105.7 521.5,105.7 522.5,105.7 523.5,105.7 524.5,105.7 525.5,105.8 526.5,105.8 527.5,105.8 528.5,105.8 529.5,105.8 530.5,105.8 531.5,105.9 532.5,105.9 533.5,105.9 534.5,105.9 535.5,105.9 536.5,105.9 537.5,105.9 538.5,106 539.5,106 540.5,106 541.5,106 542.5,106 543.5,106 544.5,106.1 545.5,106.1 546.5,106.1 547.5,106.1 548.5,106.1 549.5,106.1 550.5,106.1 551.5,106.1 552.5,106.2 553.5,106.2 554.5,106.2 555.5,106.2 556.5,106.2 557.5,106.2 558.5,106.2 559.5,106.2 560.5,106.2 561.5,106.2 562.5,106.3 563.5,106.3 564.5,106.3 565.5,106.3 566.5,106.3 567.5,106.3 568.5,106.3 569.5,106.3 570.5,106.3 571.5,106.3 572.5,106.3 573.5,106.3 574.5,106.3 575.5,106.3 576.5,106.2 577.5,106.2 578.5,106.2 579.5,106.2 580.5,106.2 581.5,106.1 582.5,106.1 583.5,106 584.4,106 585.4,105.8 586.4,105.7 587.4,105.5 588.4,105.2 589.4,104.8 590.4,104.3 591.4,103.5 592.4,102.4 593.4,101 594.4,99.1 595.4,96.8 596.4,93.8 597.4,90.3 598.4,86 599.4,81.2 600.4,75.9 601.4,70.2 602.4,64.3 603.4,58.6 604.4,53.2 605.4,48.6 606.4,45.1 607.4,43 608.4,42.4 609.4,43.4 610.4,46 611.4,49.9 612.4,54.8 613.4,60.3 614.4,66.2 615.4,72 616.4,77.7 617.4,82.9 618.4,87.6 619.4,91.7 620.4,95.1 621.4,98 622.4,100.2 623.4,102 624.4,103.3 625.4,104.4 626.4,105.1 627.4,105.7 628.4,106.1 629.4,106.3 630.4,106.6 631.4,106.7 632.4,106.9 633.4,107 634.4,107.1 635.4,107.1 636.4,107.2 637.4,107.3 638.4,107.3 639.4,107.4 640.4,107.4 641.4,107.5 642.4,107.5 643.4,107.6 644.4,107.6 645.4,107.7 646.4,107.7 647.4,107.7 648.4,107.8 649.4,107.8 650.4,107.8 651.4,107.9 652.4,107.9 653.4,107.9 654.4,108 655.4,108 656.4,108 657.4,108 658.4,108.1 659.4,108.1 660.4,108.1 661.4,108.1 662.4,108.2 663.4,108.2 664.4,108.2 665.4,108.2 666.4,108.3 667.4,108.3 668.4,108.3 669.4,108.3 670.4,108.4 671.4,108.4 672.4,108.4 673.4,108.4 674.4,108.5 675.4,108.5 676.4,108.5 677.4,108.5 678.4,108.5 679.4,108.6 680.4,108.6 681.4,108.6 682.4,108.6 683.4,108.7 683.4,108.8 682.4,108.7 681.4,108.7 680.4,108.7 679.4,108.7 678.4,108.7 677.4,108.6 676.4,108.6 675.4,108.6 674.4,108.6 673.4,108.6 672.4,108.5 671.4,108.5 670.4,108.5 669.4,108.5 668.4,108.5 667.4,108.5 666.4,108.4 665.4,108.4 664.4,108.4 663.4,108.4 662.4,108.4 661.4,108.3 660.4,108.3 659.4,108.3 658.4,108.3 657.4,108.3 656.4,108.3 655.4,108.2 654.4,108.2 653.4,108.2 652.4,108.2 651.4,108.2 650.4,108.1 649.4,108.1 648.4,108.1 647.4,108.1 646.4,108.1 645.4,108.1 644.4,108 643.4,108 642.4,108 641.4,108 640.4,108 639.4,107.9 638.4,107.9 637.4,107.9 636.4,107.9 635.4,107.9 634.4,107.8 633.4,107.8 632.4,107.8 631.4,107.8 630.4,107.8 629.4,107.8 628.4,107.7 627.4,107.7 626.4,107.7 625.4,107.7 624.4,107.7 623.4,107.6 622.4,107.6 621.4,107.6 620.4,107.6 619.4,107.6 618.4,107.6 617.4,107.5 616.4,107.5 615.4,107.5 614.4,107.5 613.4,107.5 612.4,107.4 611.4,107.4 610.4,107.4 609.4,107.4 608.4,107.4 607.4,107.4 606.4,107.3 605.4,107.3 604.4,107.3 603.4,107.3 602.4,107.3 601.4,107.2 600.4,107.2 599.4,107.2 598.4,107.2 597.4,107.2 596.4,107.1 595.4,107.1 594.4,107.1 593.4,107.1 592.4,107.1 591.4,107.1 590.4,107 589.4,107 588.4,107 587.4,107 586.4,107 585.4,106.9 584.4,106.9 583.5,106.9 582.5,106.9 581.5,106.9 580.5,106.9 579.5,106.8 578.5,106.8 577.5,106.8 576.5,106.8 575.5,106.8 574.5,106.7 573.5,106.7 572.5,106.7 571.5,106.7 570.5,106.7 569.5,106.7 568.5,106.6 567.5,106.6 566.5,106.6 565.5,106.6 564.5,106.6 563.5,106.5 562.5,106.5 561.5,106.5 560.5,106.5 559.5,106.5 558.5,106.4 557.5,106.4 556.5,106.4 555.5,106.4 554.5,106.4 553.5,106.4 552.5,106.3 551.5,106.3 550.5,106.3 549.5,106.3 548.5,106.3 547.5,106.2 546.5,106.2 545.5,106.2 544.5,106.2 543.5,106.2 542.5,106.2 541.5,106.1 540.5,106.1 539.5,106.1 538.5,106.1 537.5,106.1 536.5,106 535.5,106 534.5,106 533.5,106 532.5,106 531.5,105.9 530.5,105.9 529.5,105.9 528.5,105.9 527.5,105.9 526.5,105.9 525.5,105.8 524.5,105.8 523.5,105.8 522.5,105.8 521.5,105.8 520.5,105.7 519.5,105.7 518.5,105.7 517.5,105.7 516.5,105.7 515.5,105.7 514.5,105.6 513.5,105.6 512.5,105.6 511.5,105.6 510.5,105.6 509.5,105.5 508.5,105.5 507.5,105.5 506.5,105.5 505.5,105.5 504.5,105.5 503.5,105.4 502.5,105.4 501.5,105.4 500.5,105.4 499.5,105.4 498.5,105.3 497.5,105.3 496.5,105.3 495.5,105.3 494.5,105.3 493.5,105.2 492.5,105.2 491.5,105.2 490.5,105.2 489.5,105.2 488.5,105.2 487.5,105.1 486.5,105.1 485.5,105.1 484.5,105.1 483.5,105.1Z" fill="#1e32f5" fill-opacity="0.5" stroke="#2040ff" stroke-width="0.8"/>
<path d="M483.5,105 484.5,105 485.5,105 486.5,105 487.5,105 488.5,105.1 489.5,105.1 490.5,105.1 491.5,105.1 492.5,105.1 493.5,105.1 494.5,105.2 495.5,105.2 496.5,105.2 497.5,105.2 498.5,105.2 499.5,105.2 500.5,105.3 501.5,105.3 502.5,105.3 503.5,105.3 504.5,105.3 505.5,105.3 506.5,105.3 507.5,105.4 508.5,105.4 509.5,105.4 510.5,105.4 511.5,105.4 512.5,105.4 513.5,105.4 514.5,105.5 515.5,105.5 516.5,105.5 517.5,105.5 518.5,105.5 519.5,105.5 520.5,105.5 521.5,105.5 522.5,105.5 523.5,105.5 524.5,105.5 525.5,105.5 526.5,105.5 527.5,105.5 528.5,105.5 529.5,105.5 530.5,105.5 531.5,105.5 532.5,105.5 533.5,105.5 534.5,105.4 535.5,105.4 536.5,105.3 537.5,105.3 538.5,105.2 539.5,105.2 540.5,105.1 541.5,105 542.5,104.9 543.5,104.8 544.5,104.6 545.5,104.5 546.5,104.3 547.5,104.1 548.5,103.9 549.5,103.7 550.5,103.5 551.5,103.2 552.5,102.9 553.5,102.6 554.5,102.2 555.5,101.9 556.5,101.5 557.5,101 558.5,100.6 559.5,100.1 560.5,99.6 561.5,99.1 562.5,98.5 563.5,98 564.5,97.4 565.5,96.8 566.5,96.1 567.5,95.5 568.5,94.8 569.5,94.1 570.5,93.5 571.5,92.8 572.5,92.1 573.5,91.5 574.5,90.8 575.5,90.2 576.5,89.5 577.5,88.9 578.5,88.4 579.5,87.8 580.5,87.3 581.5,86.9 582.5,86.5 583.5,86.1 584.4,85.8 585.4,85.6 586.4,85.4 587.4,85.3 588.4,85.2 589.4,85.2 590.4,85.3 591.4,85.4 592.4,85.6 593.4,85.9 594.4,86.2 595.4,86.6 596.4,87 597.4,87.5 598.4,88 599.4,88.6 600.4,89.2 601.4,89.8 602.4,90.5 603.4,91.1 604.4,91.8 605.4,92.5 606.4,93.2 607.4,93.9 608.4,94.7 609.4,95.4 610.4,96.1 611.4,96.7 612.4,97.4 613.4,98.1 614.4,98.7 615.4,99.3 616.4,99.9 617.4,100.5 618.4,101 619.4,101.6 620.4,102.1 621.4,102.5 622.4,103 623.4,103.4 624.4,103.8 625.4,104.1 626.4,104.5 627.4,104.8 628.4,105.1 629.4,105.3 630.4,105.6 631.4,105.8 632.4,106 633.4,106.2 634.4,106.4 635.4,106.6 636.4,106.7 637.4,106.8 638.4,107 639.4,107.1 640.4,107.2 641.4,107.3 642.4,107.3 643.4,107.4 644.4,107.5 645.4,107.6 646.4,107.6 647.4,107.7 648.4,107.7 649.4,107.8 650.4,107.8 651.4,107.8 652.4,107.9 653.4,107.9 654.4,108 655.4,108 656.4,108 657.4,108 658.4,108.1 659.4,108.1 660.4,108.1 661.4,108.2 662.4,108.2 663.4,108.2 664.4,108.2 665.4,108.2 666.4,108.3 667.4,108.3 668.4,108.3 669.4,108.3 670.4,108.4 671.4,108.4 672.4,108.4 673.4,108.4 674.4,108.4 675.4,108.5 676.4,108.5 677.4,108.5 678.4,108.5 679.4,108.6 680.4,108.6 681.4,108.6 682.4,108.6 683.4,108.6 683.4,108.8 682.4,108.7 681.4,108.7 680.4,108.7 679.4,108.7 678.4,108.7 677.4,108.6 676.4,108.6 675.4,108.6 674.4,108.6 673.4,108.6 672.4,108.5 671.4,108.5 670.4,108.5 669.4,108.5 668.4,108.5 667.4,108.5 666.4,108.4 665.4,108.4 664.4,108.4 663.4,108.4 662.4,108.4 661.4,108.3 660.4,108.3 659.4,108.3 658.4,108.3 657.4,108.3 656.4,108.3 655.4,108.2 654.4,108.2 653.4,108.2 652.4,108.2 651.4,108.2 650.4,108.1 649.4,108.1 648.4,108.1 647.4,108.1 646.4,108.1 645.4,108.1 644.4,108 643.4,108 642.4,108 641.4,108 640.4,108 639.4,107.9 638.4,107.9 637.4,107.9 636.4,107.9 635.4,107.9 634.4,107.8 633.4,107.8 632.4,107.8 631.4,107.8 630.4,107.8 629.4,107.8 628.4,107.7 627.4,107.7 626.4,107.7 625.4,107.7 624.4,107.7 623.4,107.6 622.4,107.6 621.4,107.6 620.4,107.6 619.4,107.6 618.4,107.6 617.4,107.5 616.4,107.5 615.4,107.5 614.4,107.5 613.4,107.5 612.4,107.4 611.4,107.4 610.4,107.4 609.4,107.4 608.4,107.4 607.4,107.4 606.4,107.3 605.4,107.3 604.4,107.3 603.4,107.3 602.4,107.3 601.4,107.2 600.4,107.2 599.4,107.2 598.4,107.2 597.4,107.2 596.4,107.1 595.4,107.1 594.4,107.1 593.4,107.1 592.4,107.1 591.4,107.1 590.4,107 589.4,107 588.4,107 587.4,107 586.4,107 585.4,106.9 584.4,106.9 583.5,106.9 582.5,106.9 581.5,106.9 580.5,106.9 579.5,106.8 578.5,106.8 577.5,106.8 576.5,106.8 575.5,106.8 574.5,106.7 573.5,106.7 572.5,106.7 571.5,106.7 570.5,106.7 569.5,106.7 568.5,106.6 567.5,106.6 566.5,106.6 565.5,106.6 564.5,106.6 563.5,106.5 562.5,106.5 561.5,106.5 560.5,106.5 559.5,106.5 558.5,106.4 557.5,106.4 556.5,106.4 555.5,106.4 554.5,106.4 553.5,106.4 552.5,106.3 551.5,106.3 550.5,106.3 549.5,106.3 548.5,106.3 547.5,106.2 546.5,106.2 545.5,106.2 544.5,106.2 543.5,106.2 542.5,106.2 541.5,106.1 540.5,106.1 539.5,106.1 538.5,106.1 537.5,106.1 536.5,106 535.5,106 534.5,106 533.5,106 532.5,106 531.5,105.9 530.5,105.9 529.5,105.9 528.5,105.9 527.5,105.9 526.5,105.9 525.5,105.8 524.5,105.8 523.5,105.8 522.5,105.8 521.5,105.8 520.5,105.7 519.5,105.7 518.5,105.7 517.5,105.7 516.5,105.7 515.5,105.7 514.5,105.6 513.5,105.6 512.5,105.6 511.5,105.6 510.5,105.6 509.5,105.5 508.5,105.5 507.5,105.5 506.5,105.5 505.5,105.5 504.5,105.5 503.5,105.4 502.5,105.4 501.5,105.4 500.5,105.4 499.5,105.4 498.5,105.3 497.5,105.3 496.5,105.3 495.5,105.3 494.5,105.3 493.5,105.2 492.5,105.2 491.5,105.2 490.5,105.2 489.5,105.2 488.5,105.2 487.5,105.1 486.5,105.1 485.5,105.1 484.5,105.1 483.5,105.1Z" fill="#ff0000" fill-opacity="0.5" stroke="#ff2030" stroke-width="0.8"/>
<path d="M483.5,104.4 484.5,104.4 485.5,104.4 486.5,104.4 487.5,104.4 488.5,104.4 489.5,104.4 490.5,104.4 491.5,104.4 492.5,104.4 493.5,104.4 494.5,104.4 495.5,104.4 496.5,104.4 497.5,104.4 498.5,104.4 499.5,104.4 500.5,104.4 501.5,104.4 502.5,104.4 503.5,104.4 504.5,104.4 505.5,104.4 506.5,104.4 507.5,104.4 508.5,104.4 509.5,104.4 510.5,104.4 511.5,104.4 512.5,104.3 513.5,104.3 514.5,104.3 515.5,104.3 516.5,104.3 517.5,104.3 518.5,104.3 519.5,104.3 520.5,104.3 521.5,104.3 522.5,104.3 523.5,104.3 524.5,104.3 525.5,104.3 526.5,104.3 527.5,104.3 528.5,104.3 529.5,104.3 530.5,104.3 531.5,104.3 532.5,104.3 533.5,104.3 534.5,104.3 535.5,104.3 536.5,104.3 537.5,104.3 538.5,104.3 539.5,104.2 540.5,104.1 541.5,103.8 542.5,103.6 543.5,103.3 544.5,103 545.5,102.7 546.5,102.4 547.5,102.1 548.5,101.8 549.5,101.5 550.5,101.2 551.5,100.9 552.5,100.6 553.5,100.3 554.5,100 555.5,99.7 556.5,99.4 557.5,99 558.5,98.6 559.5,98.1 560.5,97.6 561.5,97.1 562.5,96.6 563.5,96.1 564.5,95.6 565.5,95.2 566.5,94.7 567.5,94.2 568.5,93.6 569.5,93.1 570.5,92.5 571.5,91.8 572.5,91.1 573.5,90.4 574.5,89.6 575.5,88.9 576.5,88.2 577.5,87.5 578.5,86.8 579.5,86 580.5,85.3 581.5,84.5 582.5,83.7 583.5,82.9 584.4,82 585.4,81.1 586.4,80.2 587.4,79.3 588.4,78.4 589.4,77.5 590.4,76.5 591.4,75.3 592.4,74.1 593.4,72.8 594.4,71.3 595.4,69.5 596.4,66.9 597.4,63.6 598.4,59.7 599.4,55.6 600.4,51.3 601.4,46.9 602.4,42.4 603.4,38.3 604.4,34.8 605.4,32.1 606.4,30.2 607.4,29.2 608.4,29.2 609.4,30.1 610.4,31.8 611.4,34.5 612.4,38.2 613.4,42.6 614.4,47.3 615.4,52.2 616.4,57 617.4,61.8 618.4,66.4 619.4,70.8 620.4,74.9 621.4,78.5 622.4,81.6 623.4,84.5 624.4,86.9 625.4,88.9 626.4,90.7 627.4,92.4 628.4,93.9 629.4,95.3 630.4,96.4 631.4,97.3 632.4,98.1 633.4,98.9 634.4,99.7 635.4,100.5 636.4,101.2 637.4,101.9 638.4,102.5 639.4,103 640.4,103.4 641.4,103.7 642.4,104 643.4,104.4 644.4,104.7 645.4,105 646.4,105.4 647.4,105.7 648.4,106 649.4,106.2 650.4,106.4 651.4,106.5 652.4,106.7 653.4,106.8 654.4,107 655.4,107.1 656.4,107.3 657.4,107.4 658.4,107.6 659.4,107.7 660.4,107.8 661.4,107.8 662.4,107.9 663.4,107.9 664.4,107.9 665.4,108 666.4,108 667.4,108 668.4,108.1 669.4,108.1 670.4,108.1 671.4,108.2 672.4,108.2 673.4,108.2 674.4,108.2 675.4,108.3 676.4,108.3 677.4,108.3 678.4,108.4 679.4,108.4 680.4,108.4 681.4,108.5 682.4,108.5 683.4,108.5" fill="none" stroke="#2c2c2c" stroke-width="1.9" stroke-opacity="1.0" stroke-linejoin="round"/>
<path d="M483.5,104.4 484.5,104.4 485.5,104.4 486.5,104.4 487.5,104.4 488.5,104.4 489.5,104.4 490.5,104.4 491.5,104.4 492.5,104.4 493.5,104.4 494.5,104.4 495.5,104.4 496.5,104.4 497.5,104.4 498.5,104.4 499.5,104.4 500.5,104.4 501.5,104.4 502.5,104.4 503.5,104.4 504.5,104.4 505.5,104.4 506.5,104.4 507.5,104.4 508.5,104.4 509.5,104.4 510.5,104.4 511.5,104.4 512.5,104.3 513.5,104.3 514.5,104.3 515.5,104.3 516.5,104.3 517.5,104.3 518.5,104.3 519.5,104.3 520.5,104.3 521.5,104.3 522.5,104.3 523.5,104.3 524.5,104.3 525.5,104.3 526.5,104.3 527.5,104.3 528.5,104.3 529.5,104.3 530.5,104.3 531.5,104.3 532.5,104.3 533.5,104.3 534.5,104.3 535.5,104.3 536.5,104.3 537.5,104.3 538.5,104.3 539.5,104.2 540.5,104.1 541.5,103.8 542.5,103.6 543.5,103.3 544.5,103 545.5,102.7 546.5,102.4 547.5,102.1 548.5,101.8 549.5,101.5 550.5,101.2 551.5,100.9 552.5,100.6 553.5,100.3 554.5,100 555.5,99.7 556.5,99.4 557.5,99 558.5,98.6 559.5,98.1 560.5,97.6 561.5,97.1 562.5,96.6 563.5,96.1 564.5,95.6 565.5,95.2 566.5,94.7 567.5,94.2 568.5,93.6 569.5,93.1 570.5,92.5 571.5,91.8 572.5,91.1 573.5,90.4 574.5,89.6 575.5,88.9 576.5,88.2 577.5,87.5 578.5,86.8 579.5,86 580.5,85.3 581.5,84.5 582.5,83.7 583.5,82.9 584.4,82 585.4,81.1 586.4,80.2 587.4,79.3 588.4,78.4 589.4,77.5 590.4,76.5 591.4,75.3 592.4,74.1 593.4,72.8 594.4,71.3 595.4,69.5 596.4,66.9 597.4,63.6 598.4,59.7 599.4,55.6 600.4,51.3 601.4,46.9 602.4,42.4 603.4,38.3 604.4,34.8 605.4,32.1 606.4,30.2 607.4,29.2 608.4,29.2 609.4,30.1 610.4,31.8 611.4,34.5 612.4,38.2 613.4,42.6 614.4,47.3 615.4,52.2 616.4,57 617.4,61.8 618.4,66.4 619.4,70.8 620.4,74.9 621.4,78.5 622.4,81.6 623.4,84.5 624.4,86.9 625.4,88.9 626.4,90.7 627.4,92.4 628.4,93.9 629.4,95.3 630.4,96.4 631.4,97.3 632.4,98.1 633.4,98.9 634.4,99.7 635.4,100.5 636.4,101.2 637.4,101.9 638.4,102.5 639.4,103 640.4,103.4 641.4,103.7 642.4,104 643.4,104.4 644.4,104.7 645.4,105 646.4,105.4 647.4,105.7 648.4,106 649.4,106.2 650.4,106.4 651.4,106.5 652.4,106.7 653.4,106.8 654.4,107 655.4,107.1 656.4,107.3 657.4,107.4 658.4,107.6 659.4,107.7 660.4,107.8 661.4,107.8 662.4,107.9 663.4,107.9 664.4,107.9 665.4,108 666.4,108 667.4,108 668.4,108.1 669.4,108.1 670.4,108.1 671.4,108.2 672.4,108.2 673.4,108.2 674.4,108.2 675.4,108.3 676.4,108.3 677.4,108.3 678.4,108.4 679.4,108.4 680.4,108.4 681.4,108.5 682.4,108.5 683.4,108.5" fill="none" stroke="#8c8c8c" stroke-width="0.45" stroke-opacity="1.0" stroke-linejoin="round"/>
</g>
<rect x="486.2" y="25.3" width="24.5" height="11.2" fill="#8c98f8" fill-opacity="1.0" stroke="#4060f8" stroke-width="1.0"/>
<rect x="486.2" y="38.2" width="24.5" height="12" fill="#ff7a80" fill-opacity="1.0" stroke="#ff4a55" stroke-width="1.0"/>
<text x="513.8" y="34.7" font-size="10.5" fill="#1a1a1a">O 1</text>
<text x="513.8" y="47.2" font-size="10.5" fill="#1a1a1a">O 2</text>
<g clip-path="url(#c02b)">
<polyline points="484,207.7 484.3,206.5 484.8,206.8 485.8,206.5 486.2,207.4 487.1,206.6 487.7,206.4 488.3,207.8 488.6,205.9 489.3,206.8 490.2,206.7 490.6,205.8 491.1,207.7 491.9,205.9 492.3,207.6 493.1,208.3 494.1,206.8 494.5,207 495,208.8 495.7,206.5 496.4,206.8 497.2,205.9 497.3,206.5 498.1,208.1 498.9,208.6 499.4,208.1 499.8,206.9 500.5,206.6 501.3,207.6 502.1,207.6 502.7,208.6 502.9,207.3 503.7,208.1 504.3,206.6 505,206.9 506,207.5 506,206 506.9,207.8 507.8,207.2 508.4,209.4 508.9,207.8 509.6,206.6 510.2,206.3 510.8,207.1 511.2,208.3 511.8,207.8 512.5,207.3 512.9,206.7 513.6,206.5 514.3,206.7 515,207.7 515.6,206.9 516.5,206.7 516.9,206.7 517.5,207.6 518.1,207.7 519,206.6 519.7,208.2 520.3,206.3 520.6,207.9 521.2,205.7 522.2,207.2 522.4,208 522.9,207.1 523.5,207.1 524.5,206.6 525,208.4 525.4,206.3 526.1,207.8 526.9,206.2 527.7,206.7 528.1,205.4 528.5,205.8 529.5,206.2 530.1,206.4 530.4,206.5 531.1,204.9 532.2,204.5 532.6,204.9 533.4,204.5 533.5,203.5 534.7,203.3 535.3,203.2 535.8,204.6 536.1,205.8 536.9,203.3 537.7,203.1 538.3,203.8 538.5,204.2 539.3,201.2 540.3,204.4 540.5,203.8 541.6,201.1 541.6,203.5 542.3,203 543.2,201.3 543.5,202.6 544.1,202.8 545.3,202 545.8,199.7 546.2,202.7 546.7,202.1 547.6,200.3 547.9,201.4 548.5,200.8 549.4,200.7 549.8,200.6 550.7,200.9 551.2,200.3 551.9,200.6 552.8,199.3 553,199.9 553.6,198.2 554.4,198.6 554.8,198.7 555.6,199.5 556.2,199.6 557,198.3 557.7,197.2 558.1,196.8 558.9,198.2 559.5,197.4 560,197.5 560.8,197 561,196.7 561.8,195.9 562.2,194.7 563,195.1 563.8,195.5 564.4,194.1 565.2,194.2 565.7,193 566,194.9 566.6,194.1 567.8,191.5 568.3,189.6 568.9,189.8 569.2,190.2 570.2,187.9 570.5,185.8 571.3,185.6 572,185.7 572.8,182.3 573.3,180.3 573.5,180.8 574.3,178.7 574.8,177.7 575.9,174.1 576.5,170.9 576.6,172.6 577.3,170.3 577.8,168.3 579,165.9 579.3,164.6 579.8,162 580.9,159.3 581.2,157.4 582,155.4 582.5,154.4 583.4,152.4 583.6,150 584.4,149.5 585.3,147.2 585.4,145.7 586.3,142.8 586.9,143.3 587.6,141.9 588.3,139.5 589,140.4 589.6,140.1 590.2,137.8 590.4,138.6 591.2,138.2 591.6,137.1 592.4,138.6 593.3,138.2 594,138.3 594.2,138 595.3,138.2 595.9,137 596.3,138 596.8,137.1 597.8,139 598.4,137.7 598.8,138.9 599.2,138.7 599.8,138.2 600.4,138.6 601.3,140.3 602,140 602.3,140.2 602.9,138.5 603.7,138.8 604.6,138.5 604.8,137.7 605.8,137.6 606.4,135.8 606.9,136 607.5,136.1 608.3,134.6 609,134.2 609.2,134.1 609.7,135.6 610.9,135.8 611.2,136.8 612,137.5 612.4,137.7 613.3,139.6 613.7,140.9 614.5,142.6 615,144.7 615.6,147.6 616.4,151.8 616.6,152.2 617.8,158.7 618.1,158.9 618.5,161.9 619.5,167 620.3,170.2 620.5,169.9 621.3,173.5 622.1,178.3 622.5,180.2 622.8,180.4 623.9,184 624.1,184.3 625.2,188.5 625.4,190.3 626,192.7 626.7,194.8 627.3,197.7 628.2,199.9 629,201.6 629.4,203.7 629.7,203.7 630.4,203.9 631,205.9 631.8,206.2 632.5,206.7 632.9,208.8 633.7,207.9 634.4,209.1 634.8,208.6 635.6,208.8 636.3,211 636.7,210.3 637.8,210.9 638,212 639,209.9 639.2,211.1 639.9,211.3 640.7,211.4 641.2,212.5 641.8,212.5 642.5,212.8 642.8,213.1 643.6,212.5 644.4,213.7 645.2,212.9 645.5,211.9 646.2,213 646.7,211.6 647.2,214.3 648.3,213.8 648.5,213.7 649.6,212.4 650.2,214.7 650.4,214.5 651,212.9 651.6,214.3 652.3,214 652.9,214.2 653.4,214 654.3,214.6 655.1,213.3 655.5,213.4 656.3,214.3 656.6,214.6 657.6,214.6 658,214.7 658.8,213.7 659.4,213.5 659.8,215.5 660.5,213.7 661.2,214.1 661.9,214.3 662.7,213.9 662.9,215.2 664,214 664.5,215.1 664.9,215.3 665.6,214.2 666.1,213.9 666.6,214.2 667.7,215.3 668.2,215.7 668.7,214.4 669.6,215.6 669.7,215.7 670.6,214.2 671.3,214 672.1,213.8 672.5,214.5 673.3,215.6 673.7,216 674.1,215.5 674.9,214.4 675.6,214.2 676.4,213.5 677,213.9 677.3,215.3 678.4,214.5 678.8,214.8 679.5,215.5 679.9,216.8 680.3,215.5 680.9,216.5 681.9,215.6 682.5,216.3 682.9,215.1" fill="none" stroke="none" marker-start="url(#m2)" marker-mid="url(#m2)" marker-end="url(#m2)"/>
<path d="M483.5,207.5 484.5,207.5 485.5,207.5 486.5,207.5 487.5,207.5 488.5,207.5 489.5,207.5 490.5,207.4 491.5,207.4 492.5,207.4 493.5,207.4 494.5,207.4 495.5,207.4 496.5,207.4 497.5,207.3 498.5,207.3 499.5,207.3 500.5,207.3 501.5,207.3 502.5,207.3 503.5,207.3 504.5,207.2 505.5,207.2 506.5,207.2 507.5,207.2 508.5,207.2 509.5,207.2 510.5,207.2 511.5,207.2 512.5,207.1 513.5,207.1 514.5,207.1 515.5,207.1 516.5,207.1 517.5,207.1 518.5,207.1 519.5,207 520.5,207 521.5,207 522.5,207 523.5,207 524.5,207 525.5,207 526.5,206.9 527.5,206.9 528.5,206.9 529.5,206.9 530.5,206.9 531.5,206.9 532.5,206.9 533.5,206.9 534.5,206.9 535.5,206.9 536.5,206.9 537.5,206.9 538.5,206.9 539.5,206.9 540.5,206.9 541.5,206.9 542.5,206.9 543.5,207 544.5,207 545.5,207 546.5,207 547.5,207.1 548.5,207.1 549.5,207.2 550.5,207.2 551.5,207.2 552.5,207.3 553.5,207.3 554.5,207.4 555.5,207.4 556.5,207.5 557.5,207.5 558.5,207.5 559.5,207.6 560.5,207.6 561.5,207.7 562.5,207.7 563.5,207.7 564.5,207.8 565.5,207.8 566.5,207.9 567.5,207.9 568.5,207.9 569.5,208 570.5,208 571.5,208.1 572.5,208.1 573.5,208.1 574.5,208.2 575.5,208.2 576.5,208.2 577.5,208.3 578.5,208.3 579.5,208.3 580.5,208.4 581.5,208.4 582.5,208.4 583.5,208.4 584.4,208.5 585.4,208.5 586.4,208.5 587.4,208.5 588.4,208.5 589.4,208.5 590.4,208.5 591.4,208.5 592.4,208.4 593.4,208.3 594.4,208.1 595.4,207.8 596.4,207.4 597.4,206.7 598.4,205.9 599.4,204.7 600.4,203.2 601.4,201.3 602.4,198.9 603.4,196 604.4,192.7 605.4,188.8 606.4,184.6 607.4,180.2 608.4,175.7 609.4,171.3 610.4,167.3 611.4,164 612.4,161.5 613.4,160 614.4,159.8 615.4,160.8 616.4,162.9 617.4,166 618.4,169.9 619.4,174.2 620.4,178.9 621.4,183.5 622.4,188.1 623.4,192.3 624.4,196.1 625.4,199.4 626.4,202.2 627.4,204.5 628.4,206.4 629.4,207.9 630.4,209 631.4,209.9 632.4,210.6 633.4,211.1 634.4,211.4 635.4,211.7 636.4,212 637.4,212.1 638.4,212.3 639.4,212.4 640.4,212.5 641.4,212.6 642.4,212.7 643.4,212.8 644.4,212.9 645.4,213 646.4,213.1 647.4,213.2 648.4,213.3 649.4,213.3 650.4,213.4 651.4,213.5 652.4,213.6 653.4,213.6 654.4,213.7 655.4,213.8 656.4,213.8 657.4,213.9 658.4,214 659.4,214 660.4,214.1 661.4,214.2 662.4,214.2 663.4,214.3 664.4,214.4 665.4,214.4 666.4,214.5 667.4,214.6 668.4,214.6 669.4,214.7 670.4,214.8 671.4,214.8 672.4,214.9 673.4,214.9 674.4,215 675.4,215.1 676.4,215.1 677.4,215.2 678.4,215.2 679.4,215.3 680.4,215.4 681.4,215.4 682.4,215.5 683.4,215.5 683.4,215.6 682.4,215.5 681.4,215.5 680.4,215.4 679.4,215.4 678.4,215.3 677.4,215.3 676.4,215.2 675.4,215.2 674.4,215.1 673.4,215 672.4,215 671.4,214.9 670.4,214.9 669.4,214.8 668.4,214.7 667.4,214.7 666.4,214.6 665.4,214.5 664.4,214.5 663.4,214.4 662.4,214.4 661.4,214.3 660.4,214.2 659.4,214.2 658.4,214.1 657.4,214.1 656.4,214 655.4,213.9 654.4,213.9 653.4,213.8 652.4,213.8 651.4,213.7 650.4,213.6 649.4,213.6 648.4,213.5 647.4,213.4 646.4,213.4 645.4,213.3 644.4,213.2 643.4,213.2 642.4,213.1 641.4,213 640.4,213 639.4,212.9 638.4,212.8 637.4,212.7 636.4,212.7 635.4,212.6 634.4,212.5 633.4,212.4 632.4,212.3 631.4,212.2 630.4,212.2 629.4,212.1 628.4,212 627.4,211.9 626.4,211.8 625.4,211.7 624.4,211.6 623.4,211.6 622.4,211.5 621.4,211.4 620.4,211.3 619.4,211.2 618.4,211.1 617.4,211 616.4,210.9 615.4,210.9 614.4,210.8 613.4,210.7 612.4,210.6 611.4,210.5 610.4,210.4 609.4,210.3 608.4,210.2 607.4,210.2 606.4,210.1 605.4,210 604.4,209.9 603.4,209.8 602.4,209.8 601.4,209.7 600.4,209.6 599.4,209.6 598.4,209.5 597.4,209.4 596.4,209.4 595.4,209.3 594.4,209.3 593.4,209.2 592.4,209.2 591.4,209.1 590.4,209.1 589.4,209 588.4,209 587.4,208.9 586.4,208.9 585.4,208.8 584.4,208.8 583.5,208.8 582.5,208.7 581.5,208.7 580.5,208.6 579.5,208.6 578.5,208.5 577.5,208.5 576.5,208.4 575.5,208.4 574.5,208.4 573.5,208.3 572.5,208.3 571.5,208.2 570.5,208.2 569.5,208.1 568.5,208.1 567.5,208 566.5,208 565.5,207.9 564.5,207.9 563.5,207.9 562.5,207.8 561.5,207.8 560.5,207.7 559.5,207.7 558.5,207.6 557.5,207.6 556.5,207.5 555.5,207.5 554.5,207.5 553.5,207.4 552.5,207.4 551.5,207.3 550.5,207.3 549.5,207.2 548.5,207.2 547.5,207.2 546.5,207.1 545.5,207.1 544.5,207 543.5,207 542.5,207 541.5,207 540.5,206.9 539.5,206.9 538.5,206.9 537.5,206.9 536.5,206.9 535.5,206.9 534.5,206.9 533.5,206.9 532.5,206.9 531.5,206.9 530.5,206.9 529.5,206.9 528.5,207 527.5,207 526.5,207 525.5,207 524.5,207 523.5,207 522.5,207 521.5,207 520.5,207.1 519.5,207.1 518.5,207.1 517.5,207.1 516.5,207.1 515.5,207.1 514.5,207.1 513.5,207.2 512.5,207.2 511.5,207.2 510.5,207.2 509.5,207.2 508.5,207.2 507.5,207.2 506.5,207.2 505.5,207.3 504.5,207.3 503.5,207.3 502.5,207.3 501.5,207.3 500.5,207.3 499.5,207.3 498.5,207.4 497.5,207.4 496.5,207.4 495.5,207.4 494.5,207.4 493.5,207.4 492.5,207.4 491.5,207.4 490.5,207.5 489.5,207.5 488.5,207.5 487.5,207.5 486.5,207.5 485.5,207.5 484.5,207.5 483.5,207.5Z" fill="#1e32f5" fill-opacity="0.5" stroke="#2040ff" stroke-width="0.8"/>
<path d="M483.5,207.4 484.5,207.4 485.5,207.4 486.5,207.3 487.5,207.3 488.5,207.3 489.5,207.3 490.5,207.3 491.5,207.3 492.5,207.2 493.5,207.2 494.5,207.2 495.5,207.2 496.5,207.2 497.5,207.2 498.5,207.1 499.5,207.1 500.5,207.1 501.5,207.1 502.5,207.1 503.5,207.1 504.5,207 505.5,207 506.5,207 507.5,207 508.5,207 509.5,206.9 510.5,206.9 511.5,206.9 512.5,206.9 513.5,206.9 514.5,206.8 515.5,206.8 516.5,206.8 517.5,206.8 518.5,206.8 519.5,206.7 520.5,206.7 521.5,206.7 522.5,206.7 523.5,206.6 524.5,206.6 525.5,206.6 526.5,206.6 527.5,206.6 528.5,206.5 529.5,206.5 530.5,206.5 531.5,206.5 532.5,206.4 533.5,206.4 534.5,206.4 535.5,206.4 536.5,206.3 537.5,206.3 538.5,206.3 539.5,206.3 540.5,206.2 541.5,206.2 542.5,206.2 543.5,206.2 544.5,206.1 545.5,206.1 546.5,206 547.5,206 548.5,205.9 549.5,205.8 550.5,205.6 551.5,205.5 552.5,205.3 553.5,205 554.5,204.8 555.5,204.4 556.5,204 557.5,203.5 558.5,203 559.5,202.4 560.5,201.7 561.5,200.8 562.5,199.9 563.5,198.9 564.5,197.7 565.5,196.4 566.5,194.9 567.5,193.4 568.5,191.6 569.5,189.8 570.5,187.8 571.5,185.6 572.5,183.3 573.5,180.9 574.5,178.4 575.5,175.8 576.5,173 577.5,170.3 578.5,167.5 579.5,164.7 580.5,161.9 581.5,159.1 582.5,156.4 583.5,153.9 584.4,151.5 585.4,149.2 586.4,147.2 587.4,145.5 588.4,144 589.4,142.8 590.4,141.9 591.4,141.4 592.4,141.2 593.4,141.3 594.4,141.9 595.4,142.7 596.4,143.9 597.4,145.5 598.4,147.3 599.4,149.3 600.4,151.6 601.4,154.1 602.4,156.7 603.4,159.4 604.4,162.3 605.4,165.2 606.4,168.1 607.4,171.1 608.4,174 609.4,176.8 610.4,179.6 611.4,182.3 612.4,184.9 613.4,187.4 614.4,189.7 615.4,191.9 616.4,193.9 617.4,195.8 618.4,197.6 619.4,199.2 620.4,200.7 621.4,202 622.4,203.2 623.4,204.3 624.4,205.3 625.4,206.2 626.4,207 627.4,207.7 628.4,208.3 629.4,208.9 630.4,209.3 631.4,209.8 632.4,210.2 633.4,210.5 634.4,210.8 635.4,211.1 636.4,211.3 637.4,211.5 638.4,211.7 639.4,211.9 640.4,212 641.4,212.2 642.4,212.3 643.4,212.4 644.4,212.5 645.4,212.6 646.4,212.7 647.4,212.8 648.4,212.9 649.4,213 650.4,213.1 651.4,213.2 652.4,213.3 653.4,213.3 654.4,213.4 655.4,213.5 656.4,213.6 657.4,213.6 658.4,213.7 659.4,213.8 660.4,213.9 661.4,213.9 662.4,214 663.4,214.1 664.4,214.1 665.4,214.2 666.4,214.3 667.4,214.3 668.4,214.4 669.4,214.5 670.4,214.6 671.4,214.6 672.4,214.7 673.4,214.8 674.4,214.8 675.4,214.9 676.4,214.9 677.4,215 678.4,215.1 679.4,215.1 680.4,215.2 681.4,215.2 682.4,215.3 683.4,215.3 683.4,215.6 682.4,215.5 681.4,215.5 680.4,215.4 679.4,215.4 678.4,215.3 677.4,215.3 676.4,215.2 675.4,215.2 674.4,215.1 673.4,215 672.4,215 671.4,214.9 670.4,214.9 669.4,214.8 668.4,214.7 667.4,214.7 666.4,214.6 665.4,214.5 664.4,214.5 663.4,214.4 662.4,214.4 661.4,214.3 660.4,214.2 659.4,214.2 658.4,214.1 657.4,214.1 656.4,214 655.4,213.9 654.4,213.9 653.4,213.8 652.4,213.8 651.4,213.7 650.4,213.6 649.4,213.6 648.4,213.5 647.4,213.4 646.4,213.4 645.4,213.3 644.4,213.2 643.4,213.2 642.4,213.1 641.4,213 640.4,213 639.4,212.9 638.4,212.8 637.4,212.7 636.4,212.7 635.4,212.6 634.4,212.5 633.4,212.4 632.4,212.3 631.4,212.2 630.4,212.2 629.4,212.1 628.4,212 627.4,211.9 626.4,211.8 625.4,211.7 624.4,211.6 623.4,211.6 622.4,211.5 621.4,211.4 620.4,211.3 619.4,211.2 618.4,211.1 617.4,211 616.4,210.9 615.4,210.9 614.4,210.8 613.4,210.7 612.4,210.6 611.4,210.5 610.4,210.4 609.4,210.3 608.4,210.2 607.4,210.2 606.4,210.1 605.4,210 604.4,209.9 603.4,209.8 602.4,209.8 601.4,209.7 600.4,209.6 599.4,209.6 598.4,209.5 597.4,209.4 596.4,209.4 595.4,209.3 594.4,209.3 593.4,209.2 592.4,209.2 591.4,209.1 590.4,209.1 589.4,209 588.4,209 587.4,208.9 586.4,208.9 585.4,208.8 584.4,208.8 583.5,208.8 582.5,208.7 581.5,208.7 580.5,208.6 579.5,208.6 578.5,208.5 577.5,208.5 576.5,208.4 575.5,208.4 574.5,208.4 573.5,208.3 572.5,208.3 571.5,208.2 570.5,208.2 569.5,208.1 568.5,208.1 567.5,208 566.5,208 565.5,207.9 564.5,207.9 563.5,207.9 562.5,207.8 561.5,207.8 560.5,207.7 559.5,207.7 558.5,207.6 557.5,207.6 556.5,207.5 555.5,207.5 554.5,207.5 553.5,207.4 552.5,207.4 551.5,207.3 550.5,207.3 549.5,207.2 548.5,207.2 547.5,207.2 546.5,207.1 545.5,207.1 544.5,207 543.5,207 542.5,207 541.5,207 540.5,206.9 539.5,206.9 538.5,206.9 537.5,206.9 536.5,206.9 535.5,206.9 534.5,206.9 533.5,206.9 532.5,206.9 531.5,206.9 530.5,206.9 529.5,206.9 528.5,207 527.5,207 526.5,207 525.5,207 524.5,207 523.5,207 522.5,207 521.5,207 520.5,207.1 519.5,207.1 518.5,207.1 517.5,207.1 516.5,207.1 515.5,207.1 514.5,207.1 513.5,207.2 512.5,207.2 511.5,207.2 510.5,207.2 509.5,207.2 508.5,207.2 507.5,207.2 506.5,207.2 505.5,207.3 504.5,207.3 503.5,207.3 502.5,207.3 501.5,207.3 500.5,207.3 499.5,207.3 498.5,207.4 497.5,207.4 496.5,207.4 495.5,207.4 494.5,207.4 493.5,207.4 492.5,207.4 491.5,207.4 490.5,207.5 489.5,207.5 488.5,207.5 487.5,207.5 486.5,207.5 485.5,207.5 484.5,207.5 483.5,207.5Z" fill="#ff0000" fill-opacity="0.5" stroke="#ff2030" stroke-width="0.8"/>
<path d="M483.5,207.5 484.5,207.5 485.5,207.5 486.5,207.5 487.5,207.4 488.5,207.4 489.5,207.4 490.5,207.4 491.5,207.4 492.5,207.4 493.5,207.4 494.5,207.3 495.5,207.3 496.5,207.3 497.5,207.3 498.5,207.3 499.5,207.3 500.5,207.2 501.5,207.2 502.5,207.2 503.5,207.2 504.5,207.2 505.5,207.2 506.5,207.1 507.5,207.1 508.5,207.1 509.5,207.1 510.5,207.1 511.5,207 512.5,207 513.5,207 514.5,207 515.5,206.9 516.5,206.9 517.5,206.9 518.5,206.8 519.5,206.8 520.5,206.8 521.5,206.7 522.5,206.7 523.5,206.6 524.5,206.6 525.5,206.5 526.5,206.4 527.5,206.3 528.5,206.2 529.5,206.1 530.5,206 531.5,205.9 532.5,205.8 533.5,205.6 534.5,205.5 535.5,205.3 536.5,205.1 537.5,204.9 538.5,204.7 539.5,204.5 540.5,204.3 541.5,204.1 542.5,203.9 543.5,203.6 544.5,203.4 545.5,203.2 546.5,203 547.5,202.8 548.5,202.6 549.5,202.4 550.5,202.2 551.5,202 552.5,201.9 553.5,201.8 554.5,201.7 555.5,201.6 556.5,201.6 557.5,201.6 558.5,201.6 559.5,201.7 560.5,201.8 561.5,202 562.5,202.1 563.5,202.4 564.5,202.6 565.5,202.8 566.5,203.1 567.5,203.4 568.5,203.7 569.5,204 570.5,204.3 571.5,204.6 572.5,204.9 573.5,205.2 574.5,205.5 575.5,205.7 576.5,206 577.5,206.3 578.5,206.5 579.5,206.8 580.5,207 581.5,207.2 582.5,207.4 583.5,207.6 584.4,207.8 585.4,207.9 586.4,208.1 587.4,208.2 588.4,208.3 589.4,208.5 590.4,208.6 591.4,208.7 592.4,208.8 593.4,208.9 594.4,208.9 595.4,209 596.4,209.1 597.4,209.2 598.4,209.3 599.4,209.4 600.4,209.4 601.4,209.5 602.4,209.6 603.4,209.7 604.4,209.8 605.4,209.9 606.4,210 607.4,210 608.4,210.1 609.4,210.2 610.4,210.3 611.4,210.4 612.4,210.5 613.4,210.6 614.4,210.7 615.4,210.8 616.4,210.9 617.4,210.9 618.4,211 619.4,211.1 620.4,211.2 621.4,211.3 622.4,211.4 623.4,211.5 624.4,211.6 625.4,211.7 626.4,211.7 627.4,211.8 628.4,211.9 629.4,212 630.4,212.1 631.4,212.2 632.4,212.3 633.4,212.4 634.4,212.4 635.4,212.5 636.4,212.6 637.4,212.7 638.4,212.8 639.4,212.8 640.4,212.9 641.4,213 642.4,213.1 643.4,213.1 644.4,213.2 645.4,213.3 646.4,213.3 647.4,213.4 648.4,213.5 649.4,213.5 650.4,213.6 651.4,213.7 652.4,213.7 653.4,213.8 654.4,213.8 655.4,213.9 656.4,214 657.4,214 658.4,214.1 659.4,214.2 660.4,214.2 661.4,214.3 662.4,214.3 663.4,214.4 664.4,214.5 665.4,214.5 666.4,214.6 667.4,214.6 668.4,214.7 669.4,214.8 670.4,214.8 671.4,214.9 672.4,214.9 673.4,215 674.4,215.1 675.4,215.1 676.4,215.2 677.4,215.2 678.4,215.3 679.4,215.4 680.4,215.4 681.4,215.5 682.4,215.5 683.4,215.5 683.4,215.6 682.4,215.5 681.4,215.5 680.4,215.4 679.4,215.4 678.4,215.3 677.4,215.3 676.4,215.2 675.4,215.2 674.4,215.1 673.4,215 672.4,215 671.4,214.9 670.4,214.9 669.4,214.8 668.4,214.7 667.4,214.7 666.4,214.6 665.4,214.5 664.4,214.5 663.4,214.4 662.4,214.4 661.4,214.3 660.4,214.2 659.4,214.2 658.4,214.1 657.4,214.1 656.4,214 655.4,213.9 654.4,213.9 653.4,213.8 652.4,213.8 651.4,213.7 650.4,213.6 649.4,213.6 648.4,213.5 647.4,213.4 646.4,213.4 645.4,213.3 644.4,213.2 643.4,213.2 642.4,213.1 641.4,213 640.4,213 639.4,212.9 638.4,212.8 637.4,212.7 636.4,212.7 635.4,212.6 634.4,212.5 633.4,212.4 632.4,212.3 631.4,212.2 630.4,212.2 629.4,212.1 628.4,212 627.4,211.9 626.4,211.8 625.4,211.7 624.4,211.6 623.4,211.6 622.4,211.5 621.4,211.4 620.4,211.3 619.4,211.2 618.4,211.1 617.4,211 616.4,210.9 615.4,210.9 614.4,210.8 613.4,210.7 612.4,210.6 611.4,210.5 610.4,210.4 609.4,210.3 608.4,210.2 607.4,210.2 606.4,210.1 605.4,210 604.4,209.9 603.4,209.8 602.4,209.8 601.4,209.7 600.4,209.6 599.4,209.6 598.4,209.5 597.4,209.4 596.4,209.4 595.4,209.3 594.4,209.3 593.4,209.2 592.4,209.2 591.4,209.1 590.4,209.1 589.4,209 588.4,209 587.4,208.9 586.4,208.9 585.4,208.8 584.4,208.8 583.5,208.8 582.5,208.7 581.5,208.7 580.5,208.6 579.5,208.6 578.5,208.5 577.5,208.5 576.5,208.4 575.5,208.4 574.5,208.4 573.5,208.3 572.5,208.3 571.5,208.2 570.5,208.2 569.5,208.1 568.5,208.1 567.5,208 566.5,208 565.5,207.9 564.5,207.9 563.5,207.9 562.5,207.8 561.5,207.8 560.5,207.7 559.5,207.7 558.5,207.6 557.5,207.6 556.5,207.5 555.5,207.5 554.5,207.5 553.5,207.4 552.5,207.4 551.5,207.3 550.5,207.3 549.5,207.2 548.5,207.2 547.5,207.2 546.5,207.1 545.5,207.1 544.5,207 543.5,207 542.5,207 541.5,207 540.5,206.9 539.5,206.9 538.5,206.9 537.5,206.9 536.5,206.9 535.5,206.9 534.5,206.9 533.5,206.9 532.5,206.9 531.5,206.9 530.5,206.9 529.5,206.9 528.5,207 527.5,207 526.5,207 525.5,207 524.5,207 523.5,207 522.5,207 521.5,207 520.5,207.1 519.5,207.1 518.5,207.1 517.5,207.1 516.5,207.1 515.5,207.1 514.5,207.1 513.5,207.2 512.5,207.2 511.5,207.2 510.5,207.2 509.5,207.2 508.5,207.2 507.5,207.2 506.5,207.2 505.5,207.3 504.5,207.3 503.5,207.3 502.5,207.3 501.5,207.3 500.5,207.3 499.5,207.3 498.5,207.4 497.5,207.4 496.5,207.4 495.5,207.4 494.5,207.4 493.5,207.4 492.5,207.4 491.5,207.4 490.5,207.5 489.5,207.5 488.5,207.5 487.5,207.5 486.5,207.5 485.5,207.5 484.5,207.5 483.5,207.5Z" fill="#008000" fill-opacity="0.5" stroke="#209020" stroke-width="0.8"/>
<path d="M483.5,207.3 484.5,207.3 485.5,207.3 486.5,207.3 487.5,207.3 488.5,207.3 489.5,207.3 490.5,207.3 491.5,207.3 492.5,207.3 493.5,207.3 494.5,207.2 495.5,207.2 496.5,207.2 497.5,207.2 498.5,207.2 499.5,207.2 500.5,207.2 501.5,207.2 502.5,207.2 503.5,207.2 504.5,207.2 505.5,207.2 506.5,207.2 507.5,207.2 508.5,207.2 509.5,207.2 510.5,207.2 511.5,207.2 512.5,207.2 513.5,207.2 514.5,207.2 515.5,207.1 516.5,207.1 517.5,207.1 518.5,207.1 519.5,207.1 520.5,207.1 521.5,207.1 522.5,207.1 523.5,207.1 524.5,207 525.5,206.9 526.5,206.7 527.5,206.4 528.5,206.2 529.5,205.9 530.5,205.6 531.5,205.4 532.5,205.1 533.5,204.8 534.5,204.6 535.5,204.3 536.5,204 537.5,203.8 538.5,203.5 539.5,203.2 540.5,203 541.5,202.7 542.5,202.5 543.5,202.2 544.5,202 545.5,201.7 546.5,201.5 547.5,201.3 548.5,201 549.5,200.7 550.5,200.5 551.5,200.2 552.5,199.8 553.5,199.5 554.5,199.2 555.5,198.8 556.5,198.5 557.5,198.2 558.5,197.8 559.5,197.5 560.5,197.1 561.5,196.5 562.5,195.9 563.5,195.1 564.5,194.4 565.5,193.6 566.5,192.8 567.5,191.8 568.5,190.6 569.5,189 570.5,187.2 571.5,185.4 572.5,183.4 573.5,181.1 574.5,178.5 575.5,175.5 576.5,172.5 577.5,169.5 578.5,166.5 579.5,163.5 580.5,160.5 581.5,157.5 582.5,154.6 583.5,151.7 584.4,149 585.4,146.5 586.4,144.1 587.4,141.9 588.4,140.1 589.4,138.8 590.4,138 591.4,137.7 592.4,137.6 593.4,137.6 594.4,137.6 595.4,137.7 596.4,137.9 597.4,138.3 598.4,138.7 599.4,139.1 600.4,139.4 601.4,139.4 602.4,139 603.4,138.3 604.4,137.5 605.4,136.8 606.4,136.2 607.4,135.8 608.4,135.5 609.4,135.4 610.4,135.6 611.4,136.5 612.4,138 613.4,140.1 614.4,142.9 615.4,146.6 616.4,151 617.4,155.8 618.4,160.7 619.4,165.6 620.4,170.3 621.4,174.7 622.4,178.8 623.4,182.8 624.4,186.7 625.4,190.3 626.4,193.7 627.4,196.9 628.4,199.9 629.4,202.5 630.4,204.4 631.4,206 632.4,207.3 633.4,208.6 634.4,209.6 635.4,210.3 636.4,210.8 637.4,211.1 638.4,211.4 639.4,211.6 640.4,211.9 641.4,212.2 642.4,212.5 643.4,212.7 644.4,213 645.4,213.2 646.4,213.3 647.4,213.4 648.4,213.5 649.4,213.5 650.4,213.6 651.4,213.7 652.4,213.8 653.4,213.9 654.4,214 655.4,214 656.4,214.1 657.4,214.2 658.4,214.3 659.4,214.3 660.4,214.4 661.4,214.5 662.4,214.5 663.4,214.6 664.4,214.6 665.4,214.6 666.4,214.7 667.4,214.7 668.4,214.8 669.4,214.8 670.4,214.9 671.4,214.9 672.4,215 673.4,215 674.4,215.1 675.4,215.1 676.4,215.2 677.4,215.2 678.4,215.2 679.4,215.3 680.4,215.3 681.4,215.4 682.4,215.4 683.4,215.5" fill="none" stroke="#15152a" stroke-width="1.4" stroke-opacity="1.0" stroke-linejoin="round"/>
</g>
<rect x="486.0" y="130.3" width="24.5" height="11.2" fill="#8c98f8" fill-opacity="1.0" stroke="#4060f8" stroke-width="1.0"/>
<rect x="486.0" y="143.4" width="24.5" height="11.8" fill="#ff7a80" fill-opacity="1.0" stroke="#ff4a55" stroke-width="1.0"/>
<rect x="486.0" y="157.2" width="24.5" height="11.6" fill="#80c080" fill-opacity="1.0" stroke="#30a030" stroke-width="1.0"/>
<text x="514" y="139.7" font-size="10.5" fill="#1a1a1a">O 1</text>
<text x="514" y="152.4" font-size="10.5" fill="#1a1a1a">O 2</text>
<text x="514" y="166.2" font-size="7.4" fill="#1a1a1a">Adsorbed water</text>
<g clip-path="url(#c10t)">
<polyline points="32.5,368.8 33,369.2 34,367.3 34.6,367.9 35,367.1 35.7,367.7 36.6,367.8 37.1,366.8 38,368.9 38.6,366.7 39.6,369.7 39.8,367.9 40.4,368 41.5,367.8 41.8,365.4 42.6,366 43.3,367.2 43.8,366.9 44.7,365.6 45.4,367 45.9,365.7 46.8,368.5 47.2,364.9 48.2,365.4 48.8,365.2 49.1,369.5 49.9,365.9 50.6,365 51,364.6 52,363.7 52.9,364.7 53.4,367.3 54,363 54.9,366 55.3,365.1 56.1,364.9 56.7,367.6 57.2,365.1 57.9,365 58.6,364.9 59.1,365.4 60.1,365.3 60.4,365 61.5,366.2 61.7,363.3 62.9,365.4 63.5,365.5 63.9,364 64.6,367.2 65.1,362.5 65.8,364.8 66.6,365.5 67.4,364.5 67.9,364.6 68.6,361.5 69.4,363.1 70,362.9 70.4,363 71.6,364.8 72.2,361.7 72.6,363.7 73.4,364.6 73.7,365 74.5,364.5 75.2,364.2 75.8,364.1 76.4,363.9 77.5,364.3 78.1,364.6 78.6,364.8 79.2,365.8 80.3,365.7 80.6,363.4 81.1,364 81.9,363.7 82.5,366.4 83,365.4 83.8,363.4 84.7,365.4 85.6,364.1 86.2,363.5 86.6,362.8 87.1,364 88.2,362.2 88.6,364.1 89.6,366 90.2,364.5 90.8,361.4 91.2,362.5 91.7,363.5 92.4,363.4 93.4,364.6 94.3,360.7 95,364.6 95.6,362.9 95.8,364.2 96.5,364.1 97.6,365.3 98.2,361.6 98.8,363.7 99.1,362 100.2,361.1 100.8,362.6 101.5,363.6 101.9,364.5 102.6,360.1 103.3,365.4 103.8,362.7 104.4,365 105.5,365.7 105.8,365 106.8,360.1 107.2,362.7 107.7,363.1 109,362.4 109.6,362 110,365 110.5,361.5 111.2,363 112.1,364.2 112.5,362.6 113.6,363.5 113.9,361.5 114.9,363.6 115.3,364.5 116,362.4 116.7,364.5 117.2,363.3 117.7,363.3 118.7,362.3 119.5,362 120,362.6 120.7,363.2 121.4,362.4 121.9,362.6 122.7,365.2 123.4,363.1 124,360.1 124.7,361.4 125.5,362.9 126,361.5 126.9,362.6 127.5,365.1 127.9,360.7 128.7,365.2 129.1,361.9 129.8,362.3 130.5,362.9 131.1,361.5 132.3,360.4 132.5,362 133.1,360.4 134.2,363 135,361.8 135.3,358 136.2,362.1 136.5,360.3 137.3,362.2 137.8,360.6 138.4,363.2 139.4,360.9 139.9,361.1 140.8,360.3 141.6,360.4 142.2,360.9 142.5,360.1 143.1,360.2 143.8,358.7 144.6,361.4 145.2,357.8 145.8,360.3 146.8,357.4 147.1,359.8 148,358.1 148.4,358.8 149.5,355.5 149.8,356.3 150.9,354.6 151.3,353.7 152.3,354.9 152.6,354.3 153.2,353.6 153.8,352 154.5,351.2 155.2,349.2 155.9,351.2 156.7,348.5 157.1,348.5 157.9,348.3 158.7,345.2 159.2,341.3 159.8,343.8 160.9,340.2 161.6,341.2 162,337.9 163,338.1 163.3,338.8 164.1,334.6 164.6,335.2 165.1,335 165.8,333.5 166.5,331.2 167.1,332.5 168.1,327 168.6,328.5 169.3,328.1 169.8,325.1 171,324.3 171.7,321.8 172.3,321.2 172.6,321 173.3,319.8 174,317.6 174.7,317.2 175.1,316.5 176,315.6 176.4,315.4 177.2,313.3 178.1,309.7 178.8,310.5 179.5,310.9 179.9,308.5 181,309.6 181.5,309.8 181.8,309.3 182.8,305 183.5,307.4 184.1,306.5 184.7,308.4 185.6,305.4 186.1,309.2 186.8,306.9 187.2,309.2 188,309.4 188.5,310.8 189.5,310.1 190.1,312.1 190.4,312 191.6,316.4 192.1,316.5 192.8,322.6 193.2,323.1 193.8,324.2 194.5,329.6 195.5,333.5 196,334 196.7,336.8 197.5,339.2 198.1,345.2 198.6,346.9 199.5,350.3 199.8,353.5 200.5,354.6 201.5,360.8 202.2,360.6 202.7,364.2 203.4,366.7 203.9,367.9 205,369.1 205.4,369.5 206.2,372.7 206.6,371.5 207.2,373.5 208.1,373.5 208.5,371.1 209.2,374.5 210.2,373.4 210.8,376.5 211.2,378.1 211.8,376.3 212.4,376.1 213.3,378 213.8,377.5 214.9,379.5 215.1,378.6 215.8,376.4 217,378.6 217.3,376.6 218,375.8 218.8,382.8 219.3,379 219.8,380.6 220.5,380.9 221.7,379.7 221.9,380.5 222.5,382.4 223.3,383.6 224.2,380.4 224.8,383.8 225.4,379.7 226.2,383.4 226.7,382.1 227.5,380.9 227.8,380.8 229,382.8 229.3,382.9 229.9,381.7 230.6,378.5 231.5,381.6 232,383.8" fill="none" stroke="none" marker-start="url(#m0)" marker-mid="url(#m0)" marker-end="url(#m0)"/>
<path d="M32.3,368.3 33.3,368.3 34.3,368.2 35.3,368.2 36.3,368.2 37.3,368.1 38.3,368.1 39.3,368.1 40.3,368.1 41.3,368 42.3,368 43.3,368 44.3,367.9 45.3,367.9 46.3,367.9 47.3,367.9 48.3,367.8 49.3,367.8 50.3,367.8 51.3,367.7 52.3,367.7 53.3,367.7 54.3,367.7 55.3,367.6 56.3,367.6 57.3,367.6 58.3,367.5 59.3,367.5 60.3,367.5 61.3,367.5 62.3,367.5 63.3,367.4 64.3,367.4 65.3,367.4 66.3,367.4 67.3,367.3 68.3,367.3 69.3,367.3 70.3,367.3 71.3,367.3 72.3,367.2 73.3,367.2 74.3,367.2 75.3,367.2 76.3,367.2 77.3,367.1 78.3,367.1 79.3,367.1 80.3,367.1 81.3,367 82.3,367 83.3,367 84.3,367 85.3,367 86.3,366.9 87.3,366.9 88.3,366.9 89.3,366.9 90.3,366.9 91.3,366.8 92.3,366.8 93.3,366.8 94.3,366.8 95.3,366.8 96.3,366.8 97.3,366.8 98.3,366.7 99.3,366.7 100.3,366.7 101.3,366.7 102.3,366.7 103.3,366.7 104.3,366.7 105.3,366.7 106.3,366.7 107.3,366.6 108.3,366.6 109.3,366.6 110.3,366.6 111.3,366.6 112.3,366.6 113.3,366.6 114.3,366.6 115.3,366.6 116.3,366.5 117.3,366.5 118.3,366.5 119.3,366.5 120.3,366.5 121.3,366.5 122.3,366.4 123.3,366.4 124.3,366.4 125.3,366.4 126.3,366.3 127.3,366.3 128.3,366.3 129.3,366.3 130.3,366.2 131.3,366.2 132.4,366.2 133.4,366.2 134.4,366.1 135.4,366.1 136.4,366.1 137.4,366.1 138.4,366 139.4,365.9 140.4,365.7 141.4,365.5 142.4,365.1 143.4,364.7 144.4,364.3 145.4,363.9 146.4,363.6 147.4,363.2 148.4,362.8 149.4,362.4 150.4,362 151.4,361.6 152.4,361.2 153.4,360.6 154.4,359.9 155.4,359.1 156.4,358.3 157.4,357.5 158.4,356.7 159.4,355.8 160.4,354.7 161.4,353.6 162.4,352.4 163.4,351.2 164.4,350 165.4,348.8 166.4,347.5 167.4,346.2 168.4,344.8 169.4,343.4 170.4,342 171.4,340.6 172.4,339.2 173.4,337.9 174.4,336.7 175.4,335.5 176.4,334.3 177.4,333.1 178.4,332 179.4,330.9 180.4,330 181.4,329.2 182.4,328.3 183.4,327.6 184.4,327 185.4,326.5 186.4,326.1 187.4,325.9 188.4,325.9 189.4,326.1 190.4,326.8 191.4,328 192.4,329.8 193.4,332.2 194.4,335.1 195.4,338.2 196.4,341.4 197.4,344.7 198.4,348.2 199.4,351.9 200.4,355.6 201.4,359.2 202.4,362.5 203.4,365.3 204.4,367.7 205.4,370 206.4,372.1 207.4,374 208.4,375.5 209.4,376.6 210.4,377.6 211.4,378.4 212.4,379.2 213.4,379.7 214.4,380 215.4,380.1 216.4,380.2 217.4,380.3 218.4,380.4 219.4,380.5 220.4,380.6 221.4,380.7 222.4,380.8 223.4,380.9 224.4,381 225.4,381.1 226.4,381.2 227.4,381.3 228.4,381.4 229.4,381.5 230.4,381.6 231.4,381.7 232.4,381.8 232.4,381.8 231.4,381.8 230.4,381.7 229.4,381.7 228.4,381.6 227.4,381.5 226.4,381.5 225.4,381.4 224.4,381.4 223.4,381.3 222.4,381.2 221.4,381.1 220.4,381.1 219.4,381 218.4,380.9 217.4,380.9 216.4,380.8 215.4,380.7 214.4,380.6 213.4,380.5 212.4,380.4 211.4,380.3 210.4,380.2 209.4,380.1 208.4,379.9 207.4,379.8 206.4,379.7 205.4,379.5 204.4,379.4 203.4,379.2 202.4,379.1 201.4,378.9 200.4,378.8 199.4,378.6 198.4,378.5 197.4,378.3 196.4,378.2 195.4,378 194.4,377.9 193.4,377.7 192.4,377.5 191.4,377.4 190.4,377.2 189.4,377 188.4,376.9 187.4,376.7 186.4,376.5 185.4,376.4 184.4,376.2 183.4,376 182.4,375.9 181.4,375.7 180.4,375.5 179.4,375.4 178.4,375.2 177.4,375 176.4,374.9 175.4,374.7 174.4,374.6 173.4,374.4 172.4,374.2 171.4,374.1 170.4,373.9 169.4,373.8 168.4,373.6 167.4,373.5 166.4,373.3 165.4,373.2 164.4,373 163.4,372.9 162.4,372.7 161.4,372.6 160.4,372.5 159.4,372.4 158.4,372.2 157.4,372.1 156.4,372 155.4,371.9 154.4,371.8 153.4,371.7 152.4,371.6 151.4,371.5 150.4,371.4 149.4,371.3 148.4,371.3 147.4,371.2 146.4,371.1 145.4,371 144.4,370.9 143.4,370.9 142.4,370.8 141.4,370.7 140.4,370.7 139.4,370.6 138.4,370.6 137.4,370.5 136.4,370.5 135.4,370.5 134.4,370.5 133.4,370.4 132.4,370.4 131.3,370.4 130.3,370.4 129.3,370.4 128.3,370.4 127.3,370.3 126.3,370.3 125.3,370.3 124.3,370.3 123.3,370.3 122.3,370.3 121.3,370.3 120.3,370.2 119.3,370.2 118.3,370.2 117.3,370.2 116.3,370.2 115.3,370.2 114.3,370.2 113.3,370.2 112.3,370.1 111.3,370.1 110.3,370.1 109.3,370.1 108.3,370.1 107.3,370.1 106.3,370.1 105.3,370.1 104.3,370 103.3,370 102.3,370 101.3,370 100.3,370 99.3,370 98.3,370 97.3,369.9 96.3,369.9 95.3,369.9 94.3,369.9 93.3,369.9 92.3,369.9 91.3,369.9 90.3,369.8 89.3,369.8 88.3,369.8 87.3,369.8 86.3,369.8 85.3,369.8 84.3,369.7 83.3,369.7 82.3,369.7 81.3,369.7 80.3,369.7 79.3,369.6 78.3,369.6 77.3,369.6 76.3,369.6 75.3,369.6 74.3,369.6 73.3,369.5 72.3,369.5 71.3,369.5 70.3,369.5 69.3,369.5 68.3,369.5 67.3,369.4 66.3,369.4 65.3,369.4 64.3,369.4 63.3,369.4 62.3,369.3 61.3,369.3 60.3,369.3 59.3,369.3 58.3,369.3 57.3,369.3 56.3,369.2 55.3,369.2 54.3,369.2 53.3,369.2 52.3,369.2 51.3,369.1 50.3,369.1 49.3,369.1 48.3,369.1 47.3,369.1 46.3,369.1 45.3,369 44.3,369 43.3,369 42.3,369 41.3,369 40.3,369 39.3,368.9 38.3,368.9 37.3,368.9 36.3,368.9 35.3,368.9 34.3,368.9 33.3,368.8 32.3,368.8Z" fill="#b9b9e1" style="mix-blend-mode:multiply"/>
<path d="M32.3,368.5 33.3,368.4 34.3,368.4 35.3,368.4 36.3,368.4 37.3,368.3 38.3,368.3 39.3,368.2 40.3,368.2 41.3,368.2 42.3,368.1 43.3,368.1 44.3,368.1 45.3,368 46.3,368 47.3,368 48.3,367.9 49.3,367.9 50.3,367.9 51.3,367.8 52.3,367.8 53.3,367.8 54.3,367.8 55.3,367.8 56.3,367.8 57.3,367.8 58.3,367.8 59.3,367.8 60.3,367.8 61.3,367.7 62.3,367.7 63.3,367.7 64.3,367.7 65.3,367.7 66.3,367.7 67.3,367.7 68.3,367.7 69.3,367.7 70.3,367.7 71.3,367.7 72.3,367.7 73.3,367.7 74.3,367.7 75.3,367.7 76.3,367.6 77.3,367.6 78.3,367.6 79.3,367.6 80.3,367.6 81.3,367.6 82.3,367.6 83.3,367.6 84.3,367.6 85.3,367.6 86.3,367.6 87.3,367.6 88.3,367.6 89.3,367.6 90.3,367.6 91.3,367.6 92.3,367.5 93.3,367.5 94.3,367.5 95.3,367.5 96.3,367.5 97.3,367.5 98.3,367.5 99.3,367.5 100.3,367.5 101.3,367.5 102.3,367.5 103.3,367.5 104.3,367.5 105.3,367.5 106.3,367.6 107.3,367.6 108.3,367.6 109.3,367.6 110.3,367.6 111.3,367.6 112.3,367.6 113.3,367.6 114.3,367.6 115.3,367.6 116.3,367.6 117.3,367.7 118.3,367.7 119.3,367.7 120.3,367.7 121.3,367.7 122.3,367.7 123.3,367.7 124.3,367.7 125.3,367.7 126.3,367.7 127.3,367.7 128.3,367.7 129.3,367.8 130.3,367.8 131.3,367.8 132.4,367.8 133.4,367.8 134.4,367.7 135.4,367.7 136.4,367.6 137.4,367.5 138.4,367.4 139.4,367.4 140.4,367.3 141.4,367.2 142.4,367.1 143.4,367 144.4,366.9 145.4,366.9 146.4,366.8 147.4,366.7 148.4,366.6 149.4,366.5 150.4,366.4 151.4,366.3 152.4,366.2 153.4,366 154.4,365.8 155.4,365.6 156.4,365.4 157.4,365.1 158.4,364.9 159.4,364.6 160.4,364.4 161.4,364.2 162.4,363.9 163.4,363.7 164.4,363.4 165.4,363.2 166.4,362.9 167.4,362.6 168.4,362.4 169.4,362.1 170.4,361.8 171.4,361.5 172.4,361.2 173.4,361 174.4,360.7 175.4,360.5 176.4,360.3 177.4,360.1 178.4,359.9 179.4,359.8 180.4,359.7 181.4,359.6 182.4,359.7 183.4,359.8 184.4,360 185.4,360.3 186.4,360.7 187.4,361.3 188.4,362.2 189.4,363.2 190.4,364.3 191.4,365.4 192.4,366.4 193.4,367.4 194.4,368.4 195.4,369.4 196.4,370.4 197.4,371.3 198.4,372.1 199.4,372.8 200.4,373.5 201.4,374.2 202.4,374.8 203.4,375.5 204.4,376.1 205.4,376.6 206.4,377.2 207.4,377.7 208.4,378.1 209.4,378.6 210.4,379 211.4,379.4 212.4,379.7 213.4,379.9 214.4,380 215.4,380.1 216.4,380.2 217.4,380.3 218.4,380.4 219.4,380.5 220.4,380.6 221.4,380.7 222.4,380.8 223.4,380.9 224.4,381 225.4,381.1 226.4,381.2 227.4,381.3 228.4,381.4 229.4,381.5 230.4,381.6 231.4,381.7 232.4,381.8 232.4,381.8 231.4,381.8 230.4,381.7 229.4,381.7 228.4,381.6 227.4,381.5 226.4,381.5 225.4,381.4 224.4,381.4 223.4,381.3 222.4,381.2 221.4,381.1 220.4,381.1 219.4,381 218.4,380.9 217.4,380.9 216.4,380.8 215.4,380.7 214.4,380.6 213.4,380.5 212.4,380.4 211.4,380.3 210.4,380.2 209.4,380.1 208.4,379.9 207.4,379.8 206.4,379.7 205.4,379.5 204.4,379.4 203.4,379.2 202.4,379.1 201.4,378.9 200.4,378.8 199.4,378.6 198.4,378.5 197.4,378.3 196.4,378.2 195.4,378 194.4,377.9 193.4,377.7 192.4,377.5 191.4,377.4 190.4,377.2 189.4,377 188.4,376.9 187.4,376.7 186.4,376.5 185.4,376.4 184.4,376.2 183.4,376 182.4,375.9 181.4,375.7 180.4,375.5 179.4,375.4 178.4,375.2 177.4,375 176.4,374.9 175.4,374.7 174.4,374.6 173.4,374.4 172.4,374.2 171.4,374.1 170.4,373.9 169.4,373.8 168.4,373.6 167.4,373.5 166.4,373.3 165.4,373.2 164.4,373 163.4,372.9 162.4,372.7 161.4,372.6 160.4,372.5 159.4,372.4 158.4,372.2 157.4,372.1 156.4,372 155.4,371.9 154.4,371.8 153.4,371.7 152.4,371.6 151.4,371.5 150.4,371.4 149.4,371.3 148.4,371.3 147.4,371.2 146.4,371.1 145.4,371 144.4,370.9 143.4,370.9 142.4,370.8 141.4,370.7 140.4,370.7 139.4,370.6 138.4,370.6 137.4,370.5 136.4,370.5 135.4,370.5 134.4,370.5 133.4,370.4 132.4,370.4 131.3,370.4 130.3,370.4 129.3,370.4 128.3,370.4 127.3,370.3 126.3,370.3 125.3,370.3 124.3,370.3 123.3,370.3 122.3,370.3 121.3,370.3 120.3,370.2 119.3,370.2 118.3,370.2 117.3,370.2 116.3,370.2 115.3,370.2 114.3,370.2 113.3,370.2 112.3,370.1 111.3,370.1 110.3,370.1 109.3,370.1 108.3,370.1 107.3,370.1 106.3,370.1 105.3,370.1 104.3,370 103.3,370 102.3,370 101.3,370 100.3,370 99.3,370 98.3,370 97.3,369.9 96.3,369.9 95.3,369.9 94.3,369.9 93.3,369.9 92.3,369.9 91.3,369.9 90.3,369.8 89.3,369.8 88.3,369.8 87.3,369.8 86.3,369.8 85.3,369.8 84.3,369.7 83.3,369.7 82.3,369.7 81.3,369.7 80.3,369.7 79.3,369.6 78.3,369.6 77.3,369.6 76.3,369.6 75.3,369.6 74.3,369.6 73.3,369.5 72.3,369.5 71.3,369.5 70.3,369.5 69.3,369.5 68.3,369.5 67.3,369.4 66.3,369.4 65.3,369.4 64.3,369.4 63.3,369.4 62.3,369.3 61.3,369.3 60.3,369.3 59.3,369.3 58.3,369.3 57.3,369.3 56.3,369.2 55.3,369.2 54.3,369.2 53.3,369.2 52.3,369.2 51.3,369.1 50.3,369.1 49.3,369.1 48.3,369.1 47.3,369.1 46.3,369.1 45.3,369 44.3,369 43.3,369 42.3,369 41.3,369 40.3,369 39.3,368.9 38.3,368.9 37.3,368.9 36.3,368.9 35.3,368.9 34.3,368.9 33.3,368.8 32.3,368.8Z" fill="#b2d2b2" style="mix-blend-mode:multiply"/>
<path d="M32.3,368.8 33.3,368.8 34.3,368.9 35.3,368.9 36.3,368.9 37.3,368.9 38.3,368.9 39.3,368.9 40.3,369 41.3,369 42.3,369 43.3,369 44.3,369 45.3,369 46.3,369.1 47.3,369.1 48.3,369.1 49.3,369.1 50.3,369.1 51.3,369.1 52.3,369.2 53.3,369.2 54.3,369.2 55.3,369.2 56.3,369.2 57.3,369.3 58.3,369.3 59.3,369.3 60.3,369.3 61.3,369.3 62.3,369.3 63.3,369.4 64.3,369.4 65.3,369.4 66.3,369.4 67.3,369.4 68.3,369.5 69.3,369.5 70.3,369.5 71.3,369.5 72.3,369.5 73.3,369.5 74.3,369.6 75.3,369.6 76.3,369.6 77.3,369.6 78.3,369.6 79.3,369.6 80.3,369.7 81.3,369.7 82.3,369.7 83.3,369.7 84.3,369.7 85.3,369.8 86.3,369.8 87.3,369.8 88.3,369.8 89.3,369.8 90.3,369.8 91.3,369.9 92.3,369.9 93.3,369.9 94.3,369.9 95.3,369.9 96.3,369.9 97.3,369.9 98.3,370 99.3,370 100.3,370 101.3,370 102.3,370 103.3,370 104.3,370 105.3,370.1 106.3,370.1 107.3,370.1 108.3,370.1 109.3,370.1 110.3,370.1 111.3,370.1 112.3,370.1 113.3,370.2 114.3,370.2 115.3,370.2 116.3,370.2 117.3,370.2 118.3,370.2 119.3,370.2 120.3,370.2 121.3,370.3 122.3,370.3 123.3,370.3 124.3,370.3 125.3,370.3 126.3,370.3 127.3,370.3 128.3,370.4 129.3,370.4 130.3,370.4 131.3,370.4 132.4,370.4 133.4,370.4 134.4,370.5 135.4,370.5 136.4,370.5 137.4,370.5 138.4,370.6 139.4,370.6 140.4,370.7 141.4,370.7 142.4,370.8 143.4,370.9 144.4,370.9 145.4,371 146.4,371.1 147.4,371.2 148.4,371.3 149.4,371.3 150.4,371.4 151.4,371.5 152.4,371.6 153.4,371.7 154.4,371.8 155.4,371.9 156.4,372 157.4,372.1 158.4,372.2 159.4,372.4 160.4,372.5 161.4,372.6 162.4,372.7 163.4,372.9 164.4,373 165.4,373.2 166.4,373.3 167.4,373.5 168.4,373.6 169.4,373.8 170.4,373.9 171.4,374.1 172.4,374.2 173.4,374.4 174.4,374.6 175.4,374.7 176.4,374.9 177.4,375 178.4,375.2 179.4,375.4 180.4,375.5 181.4,375.7 182.4,375.9 183.4,376 184.4,376.2 185.4,376.4 186.4,376.5 187.4,376.7 188.4,376.9 189.4,377 190.4,377.2 191.4,377.4 192.4,377.5 193.4,377.7 194.4,377.9 195.4,378 196.4,378.2 197.4,378.3 198.4,378.5 199.4,378.6 200.4,378.8 201.4,378.9 202.4,379.1 203.4,379.2 204.4,379.4 205.4,379.5 206.4,379.7 207.4,379.8 208.4,379.9 209.4,380.1 210.4,380.2 211.4,380.3 212.4,380.4 213.4,380.5 214.4,380.6 215.4,380.7 216.4,380.8 217.4,380.9 218.4,380.9 219.4,381 220.4,381.1 221.4,381.1 222.4,381.2 223.4,381.3 224.4,381.4 225.4,381.4 226.4,381.5 227.4,381.5 228.4,381.6 229.4,381.7 230.4,381.7 231.4,381.8 232.4,381.8" fill="none" stroke="#5a3aa0" stroke-width="0.7" stroke-opacity="1.0" stroke-linejoin="round"/>
<path d="M32.3,368.8 33.3,368.8 34.3,368.8 35.3,368.8 36.3,368.9 37.3,368.9 38.3,368.9 39.3,368.9 40.3,368.9 41.3,368.9 42.3,369 43.3,369 44.3,369 45.3,369 46.3,369 47.3,369 48.3,369.1 49.3,369.1 50.3,369.1 51.3,369.1 52.3,369.1 53.3,369.1 54.3,369.2 55.3,369.2 56.3,369.2 57.3,369.2 58.3,369.2 59.3,369.2 60.3,369.3 61.3,369.3 62.3,369.3 63.3,369.3 64.3,369.3 65.3,369.3 66.3,369.4 67.3,369.4 68.3,369.4 69.3,369.4 70.3,369.4 71.3,369.5 72.3,369.5 73.3,369.5 74.3,369.5 75.3,369.5 76.3,369.5 77.3,369.6 78.3,369.6 79.3,369.6 80.3,369.6 81.3,369.6 82.3,369.6 83.3,369.7 84.3,369.7 85.3,369.7 86.3,369.7 87.3,369.7 88.3,369.7 89.3,369.8 90.3,369.8 91.3,369.8 92.3,369.8 93.3,369.8 94.3,369.8 95.3,369.8 96.3,369.8 97.3,369.9 98.3,369.9 99.3,369.9 100.3,369.9 101.3,369.9 102.3,369.9 103.3,369.9 104.3,369.9 105.3,370 106.3,370 107.3,370 108.3,370 109.3,370 110.3,370 111.3,370 112.3,370 113.3,370 114.3,370 115.3,370.1 116.3,370.1 117.3,370.1 118.3,370.1 119.3,370.1 120.3,370.1 121.3,370.1 122.3,370.1 123.3,370.1 124.3,370.1 125.3,370.1 126.3,370.1 127.3,370.2 128.3,370.2 129.3,370.2 130.3,370.2 131.3,370.2 132.4,370.2 133.4,370.2 134.4,370.2 135.4,370.2 136.4,370.3 137.4,370.3 138.4,370.3 139.4,370.3 140.4,370.4 141.4,370.4 142.4,370.5 143.4,370.5 144.4,370.6 145.4,370.7 146.4,370.7 147.4,370.8 148.4,370.9 149.4,370.9 150.4,371 151.4,371.1 152.4,371.1 153.4,371.2 154.4,371.2 155.4,371.3 156.4,371.4 157.4,371.4 158.4,371.5 159.4,371.5 160.4,371.5 161.4,371.5 162.4,371.5 163.4,371.4 164.4,371.2 165.4,371.1 166.4,370.8 167.4,370.4 168.4,370 169.4,369.4 170.4,368.7 171.4,367.8 172.4,366.7 173.4,365.5 174.4,364 175.4,362.4 176.4,360.6 177.4,358.6 178.4,356.5 179.4,354.2 180.4,351.8 181.4,349.4 182.4,347.1 183.4,344.8 184.4,342.6 185.4,340.6 186.4,338.9 187.4,337.6 188.4,336.7 189.4,336.2 190.4,336.2 191.4,336.7 192.4,337.7 193.4,339.1 194.4,340.9 195.4,343 196.4,345.4 197.4,347.9 198.4,350.6 199.4,353.3 200.4,356 201.4,358.7 202.4,361.2 203.4,363.6 204.4,365.8 205.4,367.9 206.4,369.7 207.4,371.4 208.4,372.9 209.4,374.1 210.4,375.2 211.4,376.2 212.4,377 213.4,377.7 214.4,378.2 215.4,378.7 216.4,379.1 217.4,379.4 218.4,379.7 219.4,379.9 220.4,380.1 221.4,380.3 222.4,380.5 223.4,380.6 224.4,380.7 225.4,380.8 226.4,380.9 227.4,381 228.4,381.1 229.4,381.2 230.4,381.3 231.4,381.3 232.4,381.4" fill="none" stroke="#6a10c0" stroke-width="0.9" stroke-opacity="1.0" stroke-linejoin="round"/>
<path d="M32.3,368.8 33.3,368.8 34.3,368.8 35.3,368.9 36.3,368.9 37.3,368.9 38.3,368.9 39.3,368.9 40.3,368.9 41.3,368.9 42.3,369 43.3,369 44.3,369 45.3,369 46.3,369 47.3,369 48.3,369.1 49.3,369.1 50.3,369.1 51.3,369.1 52.3,369.1 53.3,369.2 54.3,369.2 55.3,369.2 56.3,369.2 57.3,369.2 58.3,369.2 59.3,369.3 60.3,369.3 61.3,369.3 62.3,369.3 63.3,369.3 64.3,369.3 65.3,369.4 66.3,369.4 67.3,369.4 68.3,369.4 69.3,369.4 70.3,369.5 71.3,369.5 72.3,369.5 73.3,369.5 74.3,369.5 75.3,369.5 76.3,369.6 77.3,369.6 78.3,369.6 79.3,369.6 80.3,369.6 81.3,369.6 82.3,369.7 83.3,369.7 84.3,369.7 85.3,369.7 86.3,369.7 87.3,369.7 88.3,369.8 89.3,369.8 90.3,369.8 91.3,369.8 92.3,369.8 93.3,369.8 94.3,369.8 95.3,369.9 96.3,369.9 97.3,369.9 98.3,369.9 99.3,369.9 100.3,369.9 101.3,369.9 102.3,369.9 103.3,369.9 104.3,370 105.3,370 106.3,370 107.3,370 108.3,370 109.3,370 110.3,370 111.3,370 112.3,370 113.3,370.1 114.3,370.1 115.3,370.1 116.3,370.1 117.3,370.1 118.3,370.1 119.3,370.1 120.3,370.1 121.3,370.1 122.3,370.1 123.3,370.1 124.3,370.1 125.3,370.1 126.3,370.2 127.3,370.2 128.3,370.2 129.3,370.2 130.3,370.2 131.3,370.2 132.4,370.2 133.4,370.2 134.4,370.2 135.4,370.2 136.4,370.2 137.4,370.3 138.4,370.3 139.4,370.3 140.4,370.3 141.4,370.4 142.4,370.4 143.4,370.4 144.4,370.5 145.4,370.5 146.4,370.5 147.4,370.5 148.4,370.5 149.4,370.5 150.4,370.4 151.4,370.3 152.4,370.2 153.4,369.9 154.4,369.6 155.4,369.2 156.4,368.7 157.4,368.1 158.4,367.3 159.4,366.4 160.4,365.3 161.4,364.1 162.4,362.7 163.4,361.2 164.4,359.6 165.4,357.9 166.4,356.2 167.4,354.4 168.4,352.8 169.4,351.2 170.4,349.8 171.4,348.7 172.4,347.8 173.4,347.4 174.4,347.3 175.4,347.6 176.4,348.3 177.4,349.3 178.4,350.7 179.4,352.4 180.4,354.2 181.4,356.2 182.4,358.2 183.4,360.3 184.4,362.3 185.4,364.3 186.4,366.1 187.4,367.8 188.4,369.4 189.4,370.8 190.4,372 191.4,373.1 192.4,374 193.4,374.8 194.4,375.5 195.4,376.1 196.4,376.6 197.4,377.1 198.4,377.4 199.4,377.8 200.4,378 201.4,378.3 202.4,378.5 203.4,378.7 204.4,378.9 205.4,379.1 206.4,379.3 207.4,379.5 208.4,379.6 209.4,379.8 210.4,379.9 211.4,380 212.4,380.1 213.4,380.3 214.4,380.4 215.4,380.5 216.4,380.6 217.4,380.6 218.4,380.7 219.4,380.8 220.4,380.9 221.4,381 222.4,381 223.4,381.1 224.4,381.2 225.4,381.3 226.4,381.3 227.4,381.4 228.4,381.5 229.4,381.5 230.4,381.6 231.4,381.6 232.4,381.7" fill="none" stroke="#6a10c0" stroke-width="0.9" stroke-opacity="1.0" stroke-linejoin="round"/>
<path d="M32.3,368.8 33.3,368.8 34.3,368.8 35.3,368.9 36.3,368.9 37.3,368.9 38.3,368.9 39.3,368.9 40.3,368.9 41.3,369 42.3,369 43.3,369 44.3,369 45.3,369 46.3,369 47.3,369.1 48.3,369.1 49.3,369.1 50.3,369.1 51.3,369.1 52.3,369.1 53.3,369.2 54.3,369.2 55.3,369.2 56.3,369.2 57.3,369.2 58.3,369.2 59.3,369.3 60.3,369.3 61.3,369.3 62.3,369.3 63.3,369.3 64.3,369.4 65.3,369.4 66.3,369.4 67.3,369.4 68.3,369.4 69.3,369.4 70.3,369.5 71.3,369.5 72.3,369.5 73.3,369.5 74.3,369.5 75.3,369.5 76.3,369.6 77.3,369.6 78.3,369.6 79.3,369.6 80.3,369.6 81.3,369.6 82.3,369.7 83.3,369.7 84.3,369.7 85.3,369.7 86.3,369.7 87.3,369.7 88.3,369.8 89.3,369.8 90.3,369.8 91.3,369.8 92.3,369.8 93.3,369.8 94.3,369.8 95.3,369.9 96.3,369.9 97.3,369.9 98.3,369.9 99.3,369.9 100.3,369.9 101.3,369.9 102.3,369.9 103.3,370 104.3,370 105.3,370 106.3,370 107.3,370 108.3,370 109.3,370 110.3,370 111.3,370 112.3,370 113.3,370 114.3,370.1 115.3,370.1 116.3,370.1 117.3,370.1 118.3,370.1 119.3,370.1 120.3,370.1 121.3,370.1 122.3,370.1 123.3,370.1 124.3,370.1 125.3,370 126.3,370 127.3,370 128.3,370 129.3,369.9 130.3,369.8 131.3,369.8 132.4,369.7 133.4,369.6 134.4,369.4 135.4,369.3 136.4,369.1 137.4,368.9 138.4,368.6 139.4,368.4 140.4,368.1 141.4,367.7 142.4,367.4 143.4,367 144.4,366.5 145.4,366.1 146.4,365.6 147.4,365.2 148.4,364.7 149.4,364.2 150.4,363.7 151.4,363.3 152.4,362.9 153.4,362.6 154.4,362.3 155.4,362.1 156.4,362 157.4,362 158.4,362 159.4,362.2 160.4,362.5 161.4,362.9 162.4,363.3 163.4,363.9 164.4,364.5 165.4,365.1 166.4,365.8 167.4,366.5 168.4,367.2 169.4,367.9 170.4,368.7 171.4,369.3 172.4,370 173.4,370.7 174.4,371.3 175.4,371.8 176.4,372.4 177.4,372.9 178.4,373.4 179.4,373.8 180.4,374.2 181.4,374.6 182.4,374.9 183.4,375.2 184.4,375.5 185.4,375.8 186.4,376 187.4,376.3 188.4,376.5 189.4,376.7 190.4,376.9 191.4,377.1 192.4,377.3 193.4,377.5 194.4,377.7 195.4,377.8 196.4,378 197.4,378.2 198.4,378.3 199.4,378.5 200.4,378.7 201.4,378.8 202.4,379 203.4,379.1 204.4,379.3 205.4,379.4 206.4,379.6 207.4,379.7 208.4,379.9 209.4,380 210.4,380.1 211.4,380.2 212.4,380.3 213.4,380.4 214.4,380.5 215.4,380.6 216.4,380.7 217.4,380.8 218.4,380.9 219.4,380.9 220.4,381 221.4,381.1 222.4,381.2 223.4,381.2 224.4,381.3 225.4,381.4 226.4,381.4 227.4,381.5 228.4,381.6 229.4,381.6 230.4,381.7 231.4,381.7 232.4,381.8" fill="none" stroke="#2a2ae0" stroke-width="0.9" stroke-opacity="1.0" stroke-linejoin="round"/>
<path d="M32.3,367.7 33.3,367.6 34.3,367.6 35.3,367.6 36.3,367.5 37.3,367.5 38.3,367.5 39.3,367.5 40.3,367.4 41.3,367.4 42.3,367.4 43.3,367.3 44.3,367.3 45.3,367.3 46.3,367.2 47.3,367.2 48.3,367.2 49.3,367.1 50.3,367.1 51.3,367.1 52.3,367 53.3,367 54.3,367 55.3,366.9 56.3,366.9 57.3,366.9 58.3,366.8 59.3,366.8 60.3,366.8 61.3,366.7 62.3,366.7 63.3,366.7 64.3,366.6 65.3,366.6 66.3,366.6 67.3,366.5 68.3,366.5 69.3,366.5 70.3,366.5 71.3,366.4 72.3,366.4 73.3,366.4 74.3,366.4 75.3,366.4 76.3,366.3 77.3,366.3 78.3,366.3 79.3,366.3 80.3,366.3 81.3,366.3 82.3,366.3 83.3,366.3 84.3,366.3 85.3,366.3 86.3,366.3 87.3,366.3 88.3,366.3 89.3,366.3 90.3,366.3 91.3,366.4 92.3,366.4 93.3,366.4 94.3,366.4 95.3,366.5 96.3,366.5 97.3,366.5 98.3,366.6 99.3,366.6 100.3,366.6 101.3,366.7 102.3,366.7 103.3,366.8 104.3,366.8 105.3,366.9 106.3,366.9 107.3,367 108.3,367 109.3,367.1 110.3,367.1 111.3,367.2 112.3,367.2 113.3,367.3 114.3,367.4 115.3,367.4 116.3,367.5 117.3,367.5 118.3,367.6 119.3,367.7 120.3,367.7 121.3,367.8 122.3,367.9 123.3,367.9 124.3,368 125.3,368.1 126.3,368.1 127.3,368.2 128.3,368.3 129.3,368.3 130.3,368.4 131.3,368.5 132.4,368.5 133.4,368.6 134.4,368.7 135.4,368.7 136.4,368.8 137.4,368.9 138.4,369 139.4,369.1 140.4,369.2 141.4,369.3 142.4,369.4 143.4,369.5 144.4,369.6 145.4,369.7 146.4,369.9 147.4,370 148.4,370.1 149.4,370.2 150.4,370.4 151.4,370.5 152.4,370.6 153.4,370.7 154.4,370.9 155.4,371 156.4,371.1 157.4,371.3 158.4,371.4 159.4,371.6 160.4,371.7 161.4,371.9 162.4,372 163.4,372.2 164.4,372.4 165.4,372.5 166.4,372.7 167.4,372.9 168.4,373.1 169.4,373.2 170.4,373.4 171.4,373.6 172.4,373.8 173.4,373.9 174.4,374.1 175.4,374.3 176.4,374.5 177.4,374.6 178.4,374.8 179.4,375 180.4,375.2 181.4,375.4 182.4,375.5 183.4,375.7 184.4,375.9 185.4,376.1 186.4,376.2 187.4,376.4 188.4,376.6 189.4,376.8 190.4,377 191.4,377.1 192.4,377.3 193.4,377.5 194.4,377.6 195.4,377.8 196.4,378 197.4,378.1 198.4,378.3 199.4,378.5 200.4,378.6 201.4,378.8 202.4,378.9 203.4,379.1 204.4,379.2 205.4,379.4 206.4,379.5 207.4,379.7 208.4,379.8 209.4,379.9 210.4,380 211.4,380.2 212.4,380.3 213.4,380.4 214.4,380.5 215.4,380.6 216.4,380.6 217.4,380.7 218.4,380.8 219.4,380.9 220.4,381 221.4,381 222.4,381.1 223.4,381.2 224.4,381.2 225.4,381.3 226.4,381.4 227.4,381.4 228.4,381.5 229.4,381.6 230.4,381.6 231.4,381.7 232.4,381.7" fill="none" stroke="#3a3ad0" stroke-width="0.7" stroke-opacity="1.0" stroke-linejoin="round"/>
<path d="M32.3,368.8 33.3,368.8 34.3,368.8 35.3,368.9 36.3,368.9 37.3,368.9 38.3,368.9 39.3,368.9 40.3,368.9 41.3,369 42.3,369 43.3,369 44.3,369 45.3,369 46.3,369 47.3,369.1 48.3,369.1 49.3,369.1 50.3,369.1 51.3,369.1 52.3,369.1 53.3,369.2 54.3,369.2 55.3,369.2 56.3,369.2 57.3,369.2 58.3,369.3 59.3,369.3 60.3,369.3 61.3,369.3 62.3,369.3 63.3,369.3 64.3,369.4 65.3,369.4 66.3,369.4 67.3,369.4 68.3,369.4 69.3,369.4 70.3,369.5 71.3,369.5 72.3,369.5 73.3,369.5 74.3,369.5 75.3,369.5 76.3,369.6 77.3,369.6 78.3,369.6 79.3,369.6 80.3,369.6 81.3,369.7 82.3,369.7 83.3,369.7 84.3,369.7 85.3,369.7 86.3,369.7 87.3,369.8 88.3,369.8 89.3,369.8 90.3,369.8 91.3,369.8 92.3,369.8 93.3,369.8 94.3,369.9 95.3,369.9 96.3,369.9 97.3,369.9 98.3,369.9 99.3,369.9 100.3,369.9 101.3,370 102.3,370 103.3,370 104.3,370 105.3,370 106.3,370 107.3,370 108.3,370 109.3,370 110.3,370.1 111.3,370.1 112.3,370.1 113.3,370.1 114.3,370.1 115.3,370.1 116.3,370.1 117.3,370.1 118.3,370.1 119.3,370.2 120.3,370.2 121.3,370.2 122.3,370.2 123.3,370.2 124.3,370.2 125.3,370.2 126.3,370.2 127.3,370.2 128.3,370.2 129.3,370.3 130.3,370.3 131.3,370.3 132.4,370.3 133.4,370.3 134.4,370.3 135.4,370.3 136.4,370.4 137.4,370.4 138.4,370.4 139.4,370.5 140.4,370.5 141.4,370.5 142.4,370.6 143.4,370.6 144.4,370.7 145.4,370.8 146.4,370.8 147.4,370.9 148.4,370.9 149.4,371 150.4,371 151.4,371.1 152.4,371.1 153.4,371.1 154.4,371.1 155.4,371.1 156.4,371 157.4,370.9 158.4,370.8 159.4,370.7 160.4,370.5 161.4,370.3 162.4,370 163.4,369.7 164.4,369.3 165.4,368.8 166.4,368.3 167.4,367.8 168.4,367.2 169.4,366.5 170.4,365.9 171.4,365.2 172.4,364.5 173.4,363.8 174.4,363.1 175.4,362.4 176.4,361.9 177.4,361.4 178.4,361 179.4,360.8 180.4,360.7 181.4,360.7 182.4,360.9 183.4,361.2 184.4,361.7 185.4,362.4 186.4,363.1 187.4,363.9 188.4,364.9 189.4,365.8 190.4,366.9 191.4,367.9 192.4,368.9 193.4,369.9 194.4,370.9 195.4,371.9 196.4,372.8 197.4,373.6 198.4,374.4 199.4,375.1 200.4,375.8 201.4,376.4 202.4,376.9 203.4,377.4 204.4,377.8 205.4,378.2 206.4,378.6 207.4,378.9 208.4,379.2 209.4,379.4 210.4,379.6 211.4,379.8 212.4,380 213.4,380.1 214.4,380.3 215.4,380.4 216.4,380.5 217.4,380.6 218.4,380.7 219.4,380.8 220.4,380.9 221.4,381 222.4,381 223.4,381.1 224.4,381.2 225.4,381.3 226.4,381.3 227.4,381.4 228.4,381.5 229.4,381.5 230.4,381.6 231.4,381.6 232.4,381.7" fill="none" stroke="#40b040" stroke-width="0.8" stroke-opacity="1.0" stroke-linejoin="round"/>
<path d="M32.3,368.8 33.3,368.8 34.3,368.8 35.3,368.9 36.3,368.9 37.3,368.9 38.3,368.9 39.3,368.9 40.3,368.9 41.3,369 42.3,369 43.3,369 44.3,369 45.3,369 46.3,369 47.3,369.1 48.3,369.1 49.3,369.1 50.3,369.1 51.3,369.1 52.3,369.1 53.3,369.2 54.3,369.2 55.3,369.2 56.3,369.2 57.3,369.2 58.3,369.3 59.3,369.3 60.3,369.3 61.3,369.3 62.3,369.3 63.3,369.3 64.3,369.4 65.3,369.4 66.3,369.4 67.3,369.4 68.3,369.4 69.3,369.4 70.3,369.5 71.3,369.5 72.3,369.5 73.3,369.5 74.3,369.5 75.3,369.5 76.3,369.6 77.3,369.6 78.3,369.6 79.3,369.6 80.3,369.6 81.3,369.6 82.3,369.7 83.3,369.7 84.3,369.7 85.3,369.7 86.3,369.7 87.3,369.8 88.3,369.8 89.3,369.8 90.3,369.8 91.3,369.8 92.3,369.8 93.3,369.8 94.3,369.9 95.3,369.9 96.3,369.9 97.3,369.9 98.3,369.9 99.3,369.9 100.3,369.9 101.3,369.9 102.3,370 103.3,370 104.3,370 105.3,370 106.3,370 107.3,370 108.3,370 109.3,370 110.3,370 111.3,370 112.3,370 113.3,370.1 114.3,370.1 115.3,370.1 116.3,370.1 117.3,370.1 118.3,370.1 119.3,370.1 120.3,370.1 121.3,370.1 122.3,370.1 123.3,370.1 124.3,370.1 125.3,370 126.3,370 127.3,370 128.3,370 129.3,369.9 130.3,369.9 131.3,369.8 132.4,369.8 133.4,369.7 134.4,369.6 135.4,369.5 136.4,369.4 137.4,369.3 138.4,369.2 139.4,369.1 140.4,369 141.4,368.9 142.4,368.7 143.4,368.6 144.4,368.5 145.4,368.3 146.4,368.2 147.4,368 148.4,367.9 149.4,367.7 150.4,367.6 151.4,367.5 152.4,367.4 153.4,367.3 154.4,367.2 155.4,367.2 156.4,367.2 157.4,367.2 158.4,367.3 159.4,367.4 160.4,367.5 161.4,367.7 162.4,367.9 163.4,368.1 164.4,368.4 165.4,368.7 166.4,369 167.4,369.4 168.4,369.7 169.4,370.1 170.4,370.5 171.4,370.9 172.4,371.3 173.4,371.7 174.4,372 175.4,372.4 176.4,372.8 177.4,373.1 178.4,373.5 179.4,373.8 180.4,374.1 181.4,374.5 182.4,374.8 183.4,375.1 184.4,375.3 185.4,375.6 186.4,375.9 187.4,376.1 188.4,376.4 189.4,376.6 190.4,376.8 191.4,377 192.4,377.2 193.4,377.4 194.4,377.6 195.4,377.8 196.4,378 197.4,378.2 198.4,378.3 199.4,378.5 200.4,378.7 201.4,378.8 202.4,379 203.4,379.1 204.4,379.3 205.4,379.4 206.4,379.6 207.4,379.7 208.4,379.9 209.4,380 210.4,380.1 211.4,380.2 212.4,380.3 213.4,380.4 214.4,380.5 215.4,380.6 216.4,380.7 217.4,380.8 218.4,380.9 219.4,380.9 220.4,381 221.4,381.1 222.4,381.2 223.4,381.2 224.4,381.3 225.4,381.4 226.4,381.4 227.4,381.5 228.4,381.6 229.4,381.6 230.4,381.7 231.4,381.7 232.4,381.8" fill="none" stroke="#40b040" stroke-width="0.8" stroke-opacity="1.0" stroke-linejoin="round"/>
<path d="M32.3,367.7 33.3,367.7 34.3,367.6 35.3,367.6 36.3,367.6 37.3,367.6 38.3,367.5 39.3,367.5 40.3,367.5 41.3,367.5 42.3,367.5 43.3,367.4 44.3,367.4 45.3,367.4 46.3,367.4 47.3,367.4 48.3,367.4 49.3,367.3 50.3,367.3 51.3,367.3 52.3,367.3 53.3,367.3 54.3,367.2 55.3,367.2 56.3,367.2 57.3,367.2 58.3,367.2 59.3,367.2 60.3,367.1 61.3,367.1 62.3,367.1 63.3,367.1 64.3,367.1 65.3,367.1 66.3,367.1 67.3,367.1 68.3,367.1 69.3,367.1 70.3,367.1 71.3,367.1 72.3,367.1 73.3,367.1 74.3,367.1 75.3,367.1 76.3,367.1 77.3,367.1 78.3,367.1 79.3,367.1 80.3,367.2 81.3,367.2 82.3,367.2 83.3,367.2 84.3,367.3 85.3,367.3 86.3,367.3 87.3,367.3 88.3,367.4 89.3,367.4 90.3,367.4 91.3,367.5 92.3,367.5 93.3,367.6 94.3,367.6 95.3,367.6 96.3,367.7 97.3,367.7 98.3,367.8 99.3,367.8 100.3,367.8 101.3,367.9 102.3,367.9 103.3,368 104.3,368 105.3,368.1 106.3,368.1 107.3,368.2 108.3,368.2 109.3,368.3 110.3,368.3 111.3,368.4 112.3,368.4 113.3,368.5 114.3,368.5 115.3,368.6 116.3,368.6 117.3,368.7 118.3,368.7 119.3,368.8 120.3,368.8 121.3,368.9 122.3,368.9 123.3,369 124.3,369 125.3,369.1 126.3,369.1 127.3,369.2 128.3,369.2 129.3,369.3 130.3,369.3 131.3,369.4 132.4,369.4 133.4,369.5 134.4,369.5 135.4,369.6 136.4,369.6 137.4,369.7 138.4,369.8 139.4,369.8 140.4,369.9 141.4,370 142.4,370.1 143.4,370.2 144.4,370.3 145.4,370.4 146.4,370.5 147.4,370.6 148.4,370.7 149.4,370.8 150.4,370.9 151.4,371 152.4,371.1 153.4,371.2 154.4,371.3 155.4,371.5 156.4,371.6 157.4,371.7 158.4,371.8 159.4,372 160.4,372.1 161.4,372.2 162.4,372.4 163.4,372.5 164.4,372.7 165.4,372.9 166.4,373 167.4,373.2 168.4,373.3 169.4,373.5 170.4,373.7 171.4,373.8 172.4,374 173.4,374.2 174.4,374.3 175.4,374.5 176.4,374.7 177.4,374.8 178.4,375 179.4,375.2 180.4,375.4 181.4,375.5 182.4,375.7 183.4,375.9 184.4,376 185.4,376.2 186.4,376.4 187.4,376.6 188.4,376.7 189.4,376.9 190.4,377.1 191.4,377.2 192.4,377.4 193.4,377.6 194.4,377.7 195.4,377.9 196.4,378.1 197.4,378.2 198.4,378.4 199.4,378.5 200.4,378.7 201.4,378.8 202.4,379 203.4,379.1 204.4,379.3 205.4,379.4 206.4,379.6 207.4,379.7 208.4,379.9 209.4,380 210.4,380.1 211.4,380.2 212.4,380.3 213.4,380.4 214.4,380.5 215.4,380.6 216.4,380.7 217.4,380.8 218.4,380.9 219.4,380.9 220.4,381 221.4,381.1 222.4,381.1 223.4,381.2 224.4,381.3 225.4,381.3 226.4,381.4 227.4,381.5 228.4,381.5 229.4,381.6 230.4,381.6 231.4,381.7 232.4,381.7" fill="none" stroke="#40b040" stroke-width="0.8" stroke-opacity="1.0" stroke-linejoin="round"/>
<path d="M32.3,368.5 33.3,368.4 34.3,368.4 35.3,368.4 36.3,368.4 37.3,368.3 38.3,368.3 39.3,368.2 40.3,368.2 41.3,368.2 42.3,368.1 43.3,368.1 44.3,368.1 45.3,368 46.3,368 47.3,368 48.3,367.9 49.3,367.9 50.3,367.9 51.3,367.8 52.3,367.8 53.3,367.8 54.3,367.8 55.3,367.8 56.3,367.8 57.3,367.8 58.3,367.8 59.3,367.8 60.3,367.8 61.3,367.7 62.3,367.7 63.3,367.7 64.3,367.7 65.3,367.7 66.3,367.7 67.3,367.7 68.3,367.7 69.3,367.7 70.3,367.7 71.3,367.7 72.3,367.7 73.3,367.7 74.3,367.7 75.3,367.7 76.3,367.6 77.3,367.6 78.3,367.6 79.3,367.6 80.3,367.6 81.3,367.6 82.3,367.6 83.3,367.6 84.3,367.6 85.3,367.6 86.3,367.6 87.3,367.6 88.3,367.6 89.3,367.6 90.3,367.6 91.3,367.6 92.3,367.5 93.3,367.5 94.3,367.5 95.3,367.5 96.3,367.5 97.3,367.5 98.3,367.5 99.3,367.5 100.3,367.5 101.3,367.5 102.3,367.5 103.3,367.5 104.3,367.5 105.3,367.5 106.3,367.6 107.3,367.6 108.3,367.6 109.3,367.6 110.3,367.6 111.3,367.6 112.3,367.6 113.3,367.6 114.3,367.6 115.3,367.6 116.3,367.6 117.3,367.7 118.3,367.7 119.3,367.7 120.3,367.7 121.3,367.7 122.3,367.7 123.3,367.7 124.3,367.7 125.3,367.7 126.3,367.7 127.3,367.7 128.3,367.7 129.3,367.8 130.3,367.8 131.3,367.8 132.4,367.8 133.4,367.8 134.4,367.7 135.4,367.7 136.4,367.6 137.4,367.5 138.4,367.4 139.4,367.4 140.4,367.3 141.4,367.2 142.4,367.1 143.4,367 144.4,366.9 145.4,366.9 146.4,366.8 147.4,366.7 148.4,366.6 149.4,366.5 150.4,366.4 151.4,366.3 152.4,366.2 153.4,366 154.4,365.8 155.4,365.6 156.4,365.4 157.4,365.1 158.4,364.9 159.4,364.6 160.4,364.4 161.4,364.2 162.4,363.9 163.4,363.7 164.4,363.4 165.4,363.2 166.4,362.9 167.4,362.6 168.4,362.4 169.4,362.1 170.4,361.8 171.4,361.5 172.4,361.2 173.4,361 174.4,360.7 175.4,360.5 176.4,360.3 177.4,360.1 178.4,359.9 179.4,359.8 180.4,359.7 181.4,359.6 182.4,359.7 183.4,359.8 184.4,360 185.4,360.3 186.4,360.7 187.4,361.3 188.4,362.2 189.4,363.2 190.4,364.3 191.4,365.4 192.4,366.4 193.4,367.4 194.4,368.4 195.4,369.4 196.4,370.4 197.4,371.3 198.4,372.1 199.4,372.8 200.4,373.5 201.4,374.2 202.4,374.8 203.4,375.5 204.4,376.1 205.4,376.6 206.4,377.2 207.4,377.7 208.4,378.1 209.4,378.6 210.4,379 211.4,379.4 212.4,379.7 213.4,379.9 214.4,380 215.4,380.1 216.4,380.2 217.4,380.3 218.4,380.4 219.4,380.5 220.4,380.6 221.4,380.7 222.4,380.8 223.4,380.9 224.4,381 225.4,381.1 226.4,381.2 227.4,381.3 228.4,381.4 229.4,381.5 230.4,381.6 231.4,381.7 232.4,381.8" fill="none" stroke="#20b020" stroke-width="1.0" stroke-opacity="1.0" stroke-dasharray="2.5,1.5" stroke-linejoin="round"/>
<path d="M32.3,368.3 33.3,368.3 34.3,368.2 35.3,368.2 36.3,368.2 37.3,368.1 38.3,368.1 39.3,368.1 40.3,368.1 41.3,368 42.3,368 43.3,368 44.3,367.9 45.3,367.9 46.3,367.9 47.3,367.9 48.3,367.8 49.3,367.8 50.3,367.8 51.3,367.7 52.3,367.7 53.3,367.7 54.3,367.7 55.3,367.6 56.3,367.6 57.3,367.6 58.3,367.5 59.3,367.5 60.3,367.5 61.3,367.5 62.3,367.5 63.3,367.4 64.3,367.4 65.3,367.4 66.3,367.4 67.3,367.3 68.3,367.3 69.3,367.3 70.3,367.3 71.3,367.3 72.3,367.2 73.3,367.2 74.3,367.2 75.3,367.2 76.3,367.2 77.3,367.1 78.3,367.1 79.3,367.1 80.3,367.1 81.3,367 82.3,367 83.3,367 84.3,367 85.3,367 86.3,366.9 87.3,366.9 88.3,366.9 89.3,366.9 90.3,366.9 91.3,366.8 92.3,366.8 93.3,366.8 94.3,366.8 95.3,366.8 96.3,366.8 97.3,366.8 98.3,366.7 99.3,366.7 100.3,366.7 101.3,366.7 102.3,366.7 103.3,366.7 104.3,366.7 105.3,366.7 106.3,366.7 107.3,366.6 108.3,366.6 109.3,366.6 110.3,366.6 111.3,366.6 112.3,366.6 113.3,366.6 114.3,366.6 115.3,366.6 116.3,366.5 117.3,366.5 118.3,366.5 119.3,366.5 120.3,366.5 121.3,366.5 122.3,366.4 123.3,366.4 124.3,366.4 125.3,366.4 126.3,366.3 127.3,366.3 128.3,366.3 129.3,366.3 130.3,366.2 131.3,366.2 132.4,366.2 133.4,366.2 134.4,366.1 135.4,366.1 136.4,366.1 137.4,366.1 138.4,366 139.4,365.9 140.4,365.7 141.4,365.5 142.4,365.1 143.4,364.7 144.4,364.3 145.4,363.9 146.4,363.6 147.4,363.2 148.4,362.8 149.4,362.4 150.4,362 151.4,361.6 152.4,361.2 153.4,360.6 154.4,359.9 155.4,359.1 156.4,358.3 157.4,357.5 158.4,356.7 159.4,355.8 160.4,354.7 161.4,353.6 162.4,352.4 163.4,351.2 164.4,350 165.4,348.8 166.4,347.5 167.4,346.2 168.4,344.8 169.4,343.4 170.4,342 171.4,340.6 172.4,339.2 173.4,337.9 174.4,336.7 175.4,335.5 176.4,334.3 177.4,333.1 178.4,332 179.4,330.9 180.4,330 181.4,329.2 182.4,328.3 183.4,327.6 184.4,327 185.4,326.5 186.4,326.1 187.4,325.9 188.4,325.9 189.4,326.1 190.4,326.8 191.4,328 192.4,329.8 193.4,332.2 194.4,335.1 195.4,338.2 196.4,341.4 197.4,344.7 198.4,348.2 199.4,351.9 200.4,355.6 201.4,359.2 202.4,362.5 203.4,365.3 204.4,367.7 205.4,370 206.4,372.1 207.4,374 208.4,375.5 209.4,376.6 210.4,377.6 211.4,378.4 212.4,379.2 213.4,379.7 214.4,380 215.4,380.1 216.4,380.2 217.4,380.3 218.4,380.4 219.4,380.5 220.4,380.6 221.4,380.7 222.4,380.8 223.4,380.9 224.4,381 225.4,381.1 226.4,381.2 227.4,381.3 228.4,381.4 229.4,381.5 230.4,381.6 231.4,381.7 232.4,381.8" fill="none" stroke="#222244" stroke-width="0.9" stroke-opacity="1.0" stroke-dasharray="3,1.2,1,1.2" stroke-linejoin="round"/>
<path d="M32.3,367.7 33.3,367.7 34.3,367.6 35.3,367.5 36.3,367.5 37.3,367.4 38.3,367.3 39.3,367.2 40.3,367.1 41.3,367.1 42.3,367 43.3,366.8 44.3,366.7 45.3,366.5 46.3,366.4 47.3,366.2 48.3,366.1 49.3,366 50.3,365.8 51.3,365.7 52.3,365.6 53.3,365.5 54.3,365.4 55.3,365.3 56.3,365.3 57.3,365.2 58.3,365.1 59.3,365.1 60.3,365 61.3,364.9 62.3,364.9 63.3,364.8 64.3,364.7 65.3,364.7 66.3,364.6 67.3,364.6 68.3,364.5 69.3,364.4 70.3,364.4 71.3,364.3 72.3,364.2 73.3,364.2 74.3,364.2 75.3,364.1 76.3,364.1 77.3,364.1 78.3,364 79.3,364 80.3,364 81.3,364 82.3,363.9 83.3,363.9 84.3,363.9 85.3,363.8 86.3,363.8 87.3,363.8 88.3,363.7 89.3,363.7 90.3,363.7 91.3,363.7 92.3,363.6 93.3,363.6 94.3,363.6 95.3,363.6 96.3,363.5 97.3,363.5 98.3,363.5 99.3,363.5 100.3,363.5 101.3,363.4 102.3,363.4 103.3,363.4 104.3,363.4 105.3,363.4 106.3,363.3 107.3,363.3 108.3,363.3 109.3,363.3 110.3,363.3 111.3,363.2 112.3,363.2 113.3,363.2 114.3,363.2 115.3,363.2 116.3,363.1 117.3,363.1 118.3,363.1 119.3,363.1 120.3,363 121.3,363 122.3,363 123.3,363 124.3,362.9 125.3,362.9 126.3,362.9 127.3,362.9 128.3,362.8 129.3,362.8 130.3,362.7 131.3,362.6 132.4,362.4 133.4,362.2 134.4,362.1 135.4,361.9 136.4,361.7 137.4,361.5 138.4,361.3 139.4,361.1 140.4,360.8 141.4,360.5 142.4,360.2 143.4,359.9 144.4,359.5 145.4,359 146.4,358.5 147.4,357.8 148.4,357.1 149.4,356.4 150.4,355.5 151.4,354.5 152.4,353.4 153.4,352.3 154.4,351.1 155.4,349.8 156.4,348.4 157.4,347 158.4,345.5 159.4,344 160.4,342.5 161.4,340.9 162.4,339.2 163.4,337.6 164.4,335.9 165.4,334.2 166.4,332.5 167.4,330.7 168.4,328.8 169.4,326.9 170.4,325.1 171.4,323.2 172.4,321.4 173.4,319.6 174.4,317.8 175.4,316.1 176.4,314.4 177.4,312.9 178.4,311.4 179.4,310.1 180.4,309 181.4,308.1 182.4,307.6 183.4,307.2 184.4,307.1 185.4,307.4 186.4,307.8 187.4,308.6 188.4,309.8 189.4,311.4 190.4,313.3 191.4,315.9 192.4,319.1 193.4,322.8 194.4,326.9 195.4,331.4 196.4,336.1 197.4,340.9 198.4,345.7 199.4,350.2 200.4,354.6 201.4,358.4 202.4,361.7 203.4,364.7 204.4,367.4 205.4,369.7 206.4,371.5 207.4,372.9 208.4,374.1 209.4,375.3 210.4,376.3 211.4,377 212.4,377.5 213.4,378 214.4,378.3 215.4,378.7 216.4,379 217.4,379.4 218.4,379.7 219.4,380 220.4,380.3 221.4,380.6 222.4,380.8 223.4,381 224.4,381.1 225.4,381.3 226.4,381.4 227.4,381.6 228.4,381.7 229.4,381.8 230.4,382 231.4,382.1 232.4,382.3" fill="none" stroke="#15152a" stroke-width="1.3" stroke-opacity="1.0" stroke-linejoin="round"/>
</g>
<rect x="36.3" y="290.4" width="24.5" height="11.4" fill="#b9b9e1" fill-opacity="1.0" stroke="#333" stroke-width="0.9" stroke-dasharray="2.5,1,1,1"/>
<rect x="36.3" y="307.6" width="24.5" height="12.3" fill="#b2d2b2" fill-opacity="1.0" stroke="#3a8a3a" stroke-width="0.9" stroke-dasharray="2.5,1.5"/>
<text x="64.00" y="299.80" font-size="10.6" fill="#1a1a1a">Co</text>
<text x="77.55" y="303.20" font-size="7" fill="#1a1a1a">3</text>
<text x="77.85" y="295.30" font-size="8" fill="#ff2a2a">(</text>
<rect x="81.36" y="289.90" width="0.9" height="5.80" fill="#ff2a2a"/>
<rect x="83.21" y="289.90" width="0.9" height="5.80" fill="#ff2a2a"/>
<text x="84.51" y="295.30" font-size="8" fill="#ff2a2a">,</text>
<rect x="86.99" y="289.90" width="0.9" height="5.80" fill="#ff2a2a"/>
<rect x="88.84" y="289.90" width="0.9" height="5.80" fill="#ff2a2a"/>
<rect x="90.69" y="289.90" width="0.9" height="5.80" fill="#ff2a2a"/>
<text x="92.69" y="295.30" font-size="8" fill="#ff2a2a">)</text>
<text x="95.05" y="299.80" font-size="10.6" fill="#1a1a1a">O</text>
<text x="103.30" y="302.80" font-size="7" fill="#1a1a1a">4</text>
<text x="64.00" y="316.90" font-size="10.6" fill="#1a1a1a">Co</text>
<rect x="78.00" y="307.60" width="0.9" height="5.50" fill="#ff2a2a"/>
<rect x="79.85" y="307.60" width="0.9" height="5.50" fill="#ff2a2a"/>
<text x="82.15" y="316.90" font-size="10.6" fill="#1a1a1a">O</text>
<circle cx="118.25" cy="324.85" r="20" fill="#b9b9e1"/>
<path d="M118.25,324.85 L118.25,304.85 A20,20 0 0,0 99.23,331.03 Z" fill="#b2d2b2"/>
<text x="102" y="322.7" font-size="11" fill="#1a1a1a">30%</text>
<text x="117.8" y="336.6" font-size="11" fill="#1a1a1a">70%</text>
<g clip-path="url(#c10b)">
<polyline points="32.5,468.4 33.4,467.5 33.7,467.7 34.5,472.4 35.4,466.1 36,467.8 36.5,467.6 37.1,466.8 37.7,467.1 38.9,468.4 39.2,467.9 40.3,467.6 40.4,466.1 41.4,466 41.9,466.2 42.7,465.2 43.5,465.9 43.7,466.1 44.9,465.4 45.6,466.2 46,465.7 46.5,463.3 47.2,466.3 48.1,465.1 48.4,464.8 49.6,463.4 50.2,464.3 50.4,465.1 51.3,464.4 52.2,464.7 52.6,464.4 53.2,463.7 53.7,464 54.6,465.2 55.2,465.7 55.8,461.8 56.6,465.1 57.6,465.6 57.8,464 58.4,462.7 59.5,463.2 59.9,464.3 60.5,462.3 61.3,464.2 62,463.1 62.4,463.8 63.1,461.9 64.2,462.8 64.7,462 65.1,459.3 65.7,463.6 66.7,463.6 67.5,460.5 67.7,465.2 68.9,463 69,464.8 70.3,462.3 70.7,458.1 71.1,463.3 71.7,461.6 72.7,460.3 73.1,461.8 73.8,460.4 74.4,461 75.3,461.3 76,459.6 76.6,461 77.1,462.3 78,463.2 78.8,462.8 79.4,462.7 79.9,461.7 80.4,463.6 81.3,461 82.1,461.7 82.7,462.3 83.5,461.3 84.1,461.3 84.9,461.2 85.6,458.3 85.8,460.8 86.9,462.9 87.2,463.6 88,460.3 88.7,463.4 89.2,460.6 90.2,461.6 90.9,462.3 91.5,460.7 92.1,462.1 92.9,459.9 93.5,458.3 94.2,460.1 94.6,460.3 95.3,458.6 95.9,460.6 96.4,460.9 97.3,460 97.8,461.5 98.5,460.1 99.5,459.9 100.2,460.9 100.6,458.8 101.5,463.5 102.1,460.9 102.7,463.3 103.5,459.4 104.2,462.6 104.6,459.6 105.6,459 106.3,461 106.7,460.1 107.4,462.1 108.2,461.6 108.9,461.3 109.4,460.5 110.2,460.1 110.4,459.8 111.6,461.9 111.9,459.3 112.9,461.5 113.4,458.8 113.9,460.4 114.6,461.9 115.4,462.3 115.9,462.1 116.5,460.6 117.3,462 118.2,461.4 118.6,461.2 119.1,460.7 119.7,460 120.7,460.4 121.4,458.2 121.9,462.2 122.7,459.2 123.4,464.8 124.3,458.9 124.5,460 125.1,461.8 126.2,463.1 126.7,461.6 127.4,458 128.1,462.2 128.9,462.4 129.6,459.7 130,458.9 130.7,462.4 131.2,459.9 131.8,459.2 132.9,457 133.4,460.4 134.3,460.2 134.7,461.2 135.5,461.2 135.8,458.6 136.6,461.4 137.6,460.4 137.9,459.5 138.5,458.2 139.5,460.4 140.1,459.8 140.5,460.6 141.4,458.3 142.3,461.7 142.4,460.9 143.4,454.9 143.9,453.5 145,454.9 145.2,454.4 145.9,454.2 146.6,455.2 147.5,452.1 147.7,454.4 148.5,451.7 149.2,449 149.7,451.2 150.6,451.4 151.4,448.5 152.2,449.8 152.9,447 153.2,444.8 154.2,444.4 154.7,446.9 155.4,441.3 155.9,442.4 156.7,440.9 157.4,438.5 158,437.4 158.7,437.5 159.5,436.1 160.2,434.9 160.5,434.4 161.2,430.3 162.1,430.5 162.5,432.4 163.1,430.5 163.9,427.6 164.6,427.7 165.5,423.5 166.1,422.5 166.9,420.9 167.3,421.1 168.3,417.3 168.4,418.7 169.4,416.3 170,417.2 171,413.2 171.6,411.6 171.8,412.2 172.8,412 173.3,408.9 174.1,407.7 174.8,406.4 175.2,407.2 176,405.6 176.8,404.7 177.5,404.9 177.9,401.4 178.7,402.1 179.2,401 179.9,399.3 180.9,398.8 181.5,397.6 182,399.1 182.8,397.7 183.1,397.7 184.3,399.2 184.8,400 185.7,396.2 186.1,396.5 186.5,396.6 187.6,397.1 187.9,397.4 188.5,398 189.2,397.3 190.2,399.6 190.7,401.3 191.7,405.2 192.1,406.9 192.9,410.6 193.5,411.6 193.8,411.6 194.8,420.2 195.3,420.1 196.1,424.5 196.9,431.2 197.5,433.6 198.3,437 198.6,439 199.4,442.2 199.8,445.1 201,451.2 201.2,453.9 202.1,457.3 202.6,458.8 203.3,459.9 204,463.5 204.9,464 205.7,466.2 206,467.6 206.9,472.5 207.4,472 208.1,472.6 208.7,474.4 209.4,477.5 210.2,478.3 211,479.5 211.4,478.5 212.2,477.4 212.8,482.3 213.4,480.4 213.9,482.5 215,483.8 215.3,480.1 216.1,481.9 216.6,483.7 217.5,481.7 218.2,480.8 218.5,483.5 219.4,481.8 219.9,481.5 220.5,483.6 221.2,483.5 222.1,481.4 222.7,482.5 223.6,484.6 223.8,483.6 224.7,481.9 225.4,482.7 226,483.2 226.5,484.1 227.4,483.1 228.3,483.4 228.4,484.7 229.3,484.7 230.1,483.1 230.9,482.2 231.4,483.2 231.8,482.7" fill="none" stroke="none" marker-start="url(#m0)" marker-mid="url(#m0)" marker-end="url(#m0)"/>
<path d="M32.3,468 33.3,468 34.3,467.9 35.3,467.9 36.3,467.8 37.3,467.8 38.3,467.8 39.3,467.7 40.3,467.7 41.3,467.7 42.3,467.6 43.3,467.6 44.3,467.6 45.3,467.5 46.3,467.5 47.3,467.5 48.3,467.4 49.3,467.4 50.3,467.3 51.3,467.3 52.3,467.3 53.3,467.2 54.3,467.2 55.3,467.2 56.3,467.1 57.3,467.1 58.3,467.1 59.3,467 60.3,467 61.3,467 62.3,466.9 63.3,466.9 64.3,466.9 65.3,466.9 66.3,466.8 67.3,466.8 68.3,466.8 69.3,466.8 70.3,466.7 71.3,466.7 72.3,466.7 73.3,466.7 74.3,466.6 75.3,466.6 76.3,466.6 77.3,466.6 78.3,466.5 79.3,466.5 80.3,466.5 81.3,466.5 82.3,466.4 83.3,466.4 84.3,466.4 85.3,466.4 86.3,466.3 87.3,466.3 88.3,466.3 89.3,466.3 90.3,466.2 91.3,466.2 92.3,466.2 93.3,466.2 94.3,466.1 95.3,466.1 96.3,466.1 97.3,466.1 98.3,466 99.3,466 100.3,466 101.3,465.9 102.3,465.9 103.3,465.9 104.3,465.8 105.3,465.8 106.3,465.8 107.3,465.7 108.3,465.7 109.3,465.6 110.3,465.6 111.3,465.6 112.3,465.5 113.3,465.5 114.3,465.5 115.3,465.4 116.3,465.4 117.3,465.3 118.3,465.3 119.3,465.3 120.3,465.2 121.3,465.2 122.3,465.2 123.3,465.1 124.3,465.1 125.3,465 126.3,465 127.3,465 128.3,464.9 129.3,464.9 130.3,464.9 131.3,464.8 132.4,464.8 133.4,464.7 134.4,464.7 135.4,464.7 136.4,464.6 137.4,464.6 138.4,464.6 139.4,464.5 140.4,464.3 141.4,464.1 142.4,463.8 143.4,463.6 144.4,463.3 145.4,463 146.4,462.7 147.4,462.4 148.4,462 149.4,461.4 150.4,460.7 151.4,459.7 152.4,458.7 153.4,457.7 154.4,456.7 155.4,455.7 156.4,454.7 157.4,453.7 158.4,452.5 159.4,451.3 160.4,449.9 161.4,448.5 162.4,447.1 163.4,445.7 164.4,444.3 165.4,442.9 166.4,441.6 167.4,440.3 168.4,439.1 169.4,438 170.4,437 171.4,436 172.4,435 173.4,434 174.4,433 175.4,432.1 176.4,431.1 177.4,430.3 178.4,429.6 179.4,429 180.4,428.3 181.4,427.7 182.4,427 183.4,426.2 184.4,425.1 185.4,423.6 186.4,422 187.4,420.6 188.4,419.9 189.4,420.2 190.4,421.7 191.4,424.2 192.4,427.5 193.4,431.4 194.4,435.6 195.4,439.9 196.4,444.1 197.4,448.1 198.4,451.7 199.4,455.1 200.4,458.4 201.4,461.6 202.4,464.4 203.4,466.8 204.4,468.7 205.4,470.5 206.4,472.3 207.4,474 208.4,475.7 209.4,477.2 210.4,478.2 211.4,479 212.4,479.5 213.4,479.9 214.4,480.3 215.4,480.7 216.4,480.9 217.4,481.1 218.4,481.3 219.4,481.4 220.4,481.5 221.4,481.6 222.4,481.7 223.4,481.8 224.4,481.9 225.4,482 226.4,482.2 227.4,482.3 228.4,482.4 229.4,482.5 230.4,482.6 231.4,482.7 232.4,482.8 232.4,482.8 231.4,482.8 230.4,482.8 229.4,482.7 228.4,482.7 227.4,482.6 226.4,482.6 225.4,482.5 224.4,482.5 223.4,482.4 222.4,482.4 221.4,482.3 220.4,482.3 219.4,482.2 218.4,482.1 217.4,482.1 216.4,482 215.4,481.9 214.4,481.8 213.4,481.8 212.4,481.7 211.4,481.6 210.4,481.4 209.4,481.3 208.4,481.2 207.4,481.1 206.4,480.9 205.4,480.8 204.4,480.6 203.4,480.5 202.4,480.3 201.4,480.2 200.4,480 199.4,479.9 198.4,479.7 197.4,479.6 196.4,479.4 195.4,479.2 194.4,479.1 193.4,478.9 192.4,478.7 191.4,478.5 190.4,478.4 189.4,478.2 188.4,478 187.4,477.8 186.4,477.6 185.4,477.4 184.4,477.2 183.4,477 182.4,476.8 181.4,476.6 180.4,476.4 179.4,476.2 178.4,476 177.4,475.8 176.4,475.6 175.4,475.4 174.4,475.2 173.4,475 172.4,474.8 171.4,474.7 170.4,474.5 169.4,474.3 168.4,474.1 167.4,474 166.4,473.8 165.4,473.6 164.4,473.5 163.4,473.3 162.4,473.2 161.4,473 160.4,472.9 159.4,472.7 158.4,472.6 157.4,472.4 156.4,472.3 155.4,472.1 154.4,472 153.4,471.8 152.4,471.7 151.4,471.5 150.4,471.4 149.4,471.2 148.4,471.1 147.4,470.9 146.4,470.8 145.4,470.7 144.4,470.5 143.4,470.4 142.4,470.3 141.4,470.2 140.4,470.1 139.4,470 138.4,470 137.4,469.9 136.4,469.8 135.4,469.8 134.4,469.8 133.4,469.7 132.4,469.7 131.3,469.7 130.3,469.7 129.3,469.7 128.3,469.7 127.3,469.6 126.3,469.6 125.3,469.6 124.3,469.6 123.3,469.6 122.3,469.6 121.3,469.6 120.3,469.6 119.3,469.5 118.3,469.5 117.3,469.5 116.3,469.5 115.3,469.5 114.3,469.5 113.3,469.5 112.3,469.5 111.3,469.4 110.3,469.4 109.3,469.4 108.3,469.4 107.3,469.4 106.3,469.4 105.3,469.4 104.3,469.4 103.3,469.3 102.3,469.3 101.3,469.3 100.3,469.3 99.3,469.3 98.3,469.3 97.3,469.3 96.3,469.3 95.3,469.3 94.3,469.3 93.3,469.3 92.3,469.2 91.3,469.2 90.3,469.2 89.3,469.2 88.3,469.2 87.3,469.2 86.3,469.2 85.3,469.2 84.3,469.2 83.3,469.2 82.3,469.2 81.3,469.2 80.3,469.2 79.3,469.1 78.3,469.1 77.3,469.1 76.3,469.1 75.3,469.1 74.3,469.1 73.3,469.1 72.3,469.1 71.3,469.1 70.3,469.1 69.3,469.1 68.3,469.1 67.3,469.1 66.3,469.1 65.3,469 64.3,469 63.3,469 62.3,469 61.3,469 60.3,469 59.3,469 58.3,469 57.3,469 56.3,469 55.3,469 54.3,469 53.3,469 52.3,468.9 51.3,468.9 50.3,468.9 49.3,468.9 48.3,468.9 47.3,468.9 46.3,468.9 45.3,468.9 44.3,468.9 43.3,468.9 42.3,468.9 41.3,468.9 40.3,468.9 39.3,468.9 38.3,468.8 37.3,468.8 36.3,468.8 35.3,468.8 34.3,468.8 33.3,468.8 32.3,468.8Z" fill="#b9b9e1" style="mix-blend-mode:multiply"/>
<path d="M32.3,468.3 33.3,468.3 34.3,468.2 35.3,468.2 36.3,468.2 37.3,468.1 38.3,468.1 39.3,468.1 40.3,468.1 41.3,468 42.3,468 43.3,468 44.3,467.9 45.3,467.9 46.3,467.9 47.3,467.9 48.3,467.8 49.3,467.8 50.3,467.8 51.3,467.7 52.3,467.7 53.3,467.7 54.3,467.7 55.3,467.6 56.3,467.6 57.3,467.6 58.3,467.5 59.3,467.5 60.3,467.5 61.3,467.5 62.3,467.5 63.3,467.5 64.3,467.4 65.3,467.4 66.3,467.4 67.3,467.4 68.3,467.4 69.3,467.4 70.3,467.4 71.3,467.4 72.3,467.3 73.3,467.3 74.3,467.3 75.3,467.3 76.3,467.3 77.3,467.3 78.3,467.3 79.3,467.3 80.3,467.2 81.3,467.2 82.3,467.2 83.3,467.2 84.3,467.2 85.3,467.2 86.3,467.2 87.3,467.2 88.3,467.1 89.3,467.1 90.3,467.1 91.3,467.1 92.3,467.1 93.3,467.1 94.3,467.1 95.3,467.1 96.3,467 97.3,467 98.3,467 99.3,467 100.3,467 101.3,466.9 102.3,466.9 103.3,466.9 104.3,466.8 105.3,466.8 106.3,466.7 107.3,466.7 108.3,466.6 109.3,466.6 110.3,466.6 111.3,466.5 112.3,466.5 113.3,466.4 114.3,466.4 115.3,466.3 116.3,466.3 117.3,466.3 118.3,466.2 119.3,466.2 120.3,466.1 121.3,466.1 122.3,466.1 123.3,466 124.3,466 125.3,465.9 126.3,465.9 127.3,465.8 128.3,465.8 129.3,465.8 130.3,465.7 131.3,465.7 132.4,465.6 133.4,465.6 134.4,465.5 135.4,465.5 136.4,465.5 137.4,465.4 138.4,465.4 139.4,465.3 140.4,465.2 141.4,465.1 142.4,465 143.4,464.8 144.4,464.7 145.4,464.5 146.4,464.4 147.4,464.2 148.4,464.1 149.4,463.9 150.4,463.8 151.4,463.6 152.4,463.5 153.4,463.3 154.4,463.1 155.4,462.9 156.4,462.6 157.4,462.3 158.4,461.9 159.4,461.6 160.4,461.2 161.4,460.9 162.4,460.5 163.4,460.2 164.4,459.8 165.4,459.5 166.4,459.1 167.4,458.8 168.4,458.4 169.4,458 170.4,457.6 171.4,457.2 172.4,456.7 173.4,456.3 174.4,455.8 175.4,455.4 176.4,455 177.4,454.6 178.4,454.3 179.4,454 180.4,453.8 181.4,453.9 182.4,454.1 183.4,454.4 184.4,454.9 185.4,455.6 186.4,456.5 187.4,457.4 188.4,458.5 189.4,459.6 190.4,460.9 191.4,462.2 192.4,463.6 193.4,465 194.4,466.4 195.4,467.8 196.4,469.1 197.4,470.4 198.4,471.7 199.4,472.9 200.4,474.1 201.4,475.3 202.4,476.4 203.4,477.5 204.4,478.4 205.4,479.1 206.4,479.7 207.4,480.1 208.4,480.6 209.4,480.9 210.4,481.2 211.4,481.3 212.4,481.5 213.4,481.5 214.4,481.6 215.4,481.7 216.4,481.8 217.4,481.8 218.4,481.9 219.4,482 220.4,482 221.4,482.1 222.4,482.2 223.4,482.2 224.4,482.3 225.4,482.4 226.4,482.5 227.4,482.5 228.4,482.6 229.4,482.7 230.4,482.7 231.4,482.8 232.4,482.9 232.4,482.8 231.4,482.8 230.4,482.8 229.4,482.7 228.4,482.7 227.4,482.6 226.4,482.6 225.4,482.5 224.4,482.5 223.4,482.4 222.4,482.4 221.4,482.3 220.4,482.3 219.4,482.2 218.4,482.1 217.4,482.1 216.4,482 215.4,481.9 214.4,481.8 213.4,481.8 212.4,481.7 211.4,481.6 210.4,481.4 209.4,481.3 208.4,481.2 207.4,481.1 206.4,480.9 205.4,480.8 204.4,480.6 203.4,480.5 202.4,480.3 201.4,480.2 200.4,480 199.4,479.9 198.4,479.7 197.4,479.6 196.4,479.4 195.4,479.2 194.4,479.1 193.4,478.9 192.4,478.7 191.4,478.5 190.4,478.4 189.4,478.2 188.4,478 187.4,477.8 186.4,477.6 185.4,477.4 184.4,477.2 183.4,477 182.4,476.8 181.4,476.6 180.4,476.4 179.4,476.2 178.4,476 177.4,475.8 176.4,475.6 175.4,475.4 174.4,475.2 173.4,475 172.4,474.8 171.4,474.7 170.4,474.5 169.4,474.3 168.4,474.1 167.4,474 166.4,473.8 165.4,473.6 164.4,473.5 163.4,473.3 162.4,473.2 161.4,473 160.4,472.9 159.4,472.7 158.4,472.6 157.4,472.4 156.4,472.3 155.4,472.1 154.4,472 153.4,471.8 152.4,471.7 151.4,471.5 150.4,471.4 149.4,471.2 148.4,471.1 147.4,470.9 146.4,470.8 145.4,470.7 144.4,470.5 143.4,470.4 142.4,470.3 141.4,470.2 140.4,470.1 139.4,470 138.4,470 137.4,469.9 136.4,469.8 135.4,469.8 134.4,469.8 133.4,469.7 132.4,469.7 131.3,469.7 130.3,469.7 129.3,469.7 128.3,469.7 127.3,469.6 126.3,469.6 125.3,469.6 124.3,469.6 123.3,469.6 122.3,469.6 121.3,469.6 120.3,469.6 119.3,469.5 118.3,469.5 117.3,469.5 116.3,469.5 115.3,469.5 114.3,469.5 113.3,469.5 112.3,469.5 111.3,469.4 110.3,469.4 109.3,469.4 108.3,469.4 107.3,469.4 106.3,469.4 105.3,469.4 104.3,469.4 103.3,469.3 102.3,469.3 101.3,469.3 100.3,469.3 99.3,469.3 98.3,469.3 97.3,469.3 96.3,469.3 95.3,469.3 94.3,469.3 93.3,469.3 92.3,469.2 91.3,469.2 90.3,469.2 89.3,469.2 88.3,469.2 87.3,469.2 86.3,469.2 85.3,469.2 84.3,469.2 83.3,469.2 82.3,469.2 81.3,469.2 80.3,469.2 79.3,469.1 78.3,469.1 77.3,469.1 76.3,469.1 75.3,469.1 74.3,469.1 73.3,469.1 72.3,469.1 71.3,469.1 70.3,469.1 69.3,469.1 68.3,469.1 67.3,469.1 66.3,469.1 65.3,469 64.3,469 63.3,469 62.3,469 61.3,469 60.3,469 59.3,469 58.3,469 57.3,469 56.3,469 55.3,469 54.3,469 53.3,469 52.3,468.9 51.3,468.9 50.3,468.9 49.3,468.9 48.3,468.9 47.3,468.9 46.3,468.9 45.3,468.9 44.3,468.9 43.3,468.9 42.3,468.9 41.3,468.9 40.3,468.9 39.3,468.9 38.3,468.8 37.3,468.8 36.3,468.8 35.3,468.8 34.3,468.8 33.3,468.8 32.3,468.8Z" fill="#b2d2b2" style="mix-blend-mode:multiply"/>
<path d="M32.3,468.8 33.3,468.8 34.3,468.8 35.3,468.8 36.3,468.8 37.3,468.8 38.3,468.8 39.3,468.8 40.3,468.8 41.3,468.8 42.3,468.8 43.3,468.9 44.3,468.9 45.3,468.9 46.3,468.9 47.3,468.9 48.3,468.9 49.3,468.9 50.3,468.9 51.3,468.9 52.3,468.9 53.3,468.9 54.3,468.9 55.3,468.9 56.3,468.9 57.3,468.9 58.3,469 59.3,469 60.3,469 61.3,469 62.3,469 63.3,469 64.3,469 65.3,469 66.3,469 67.3,469 68.3,469 69.3,469 70.3,469 71.3,469 72.3,469 73.3,469.1 74.3,469.1 75.3,469.1 76.3,469.1 77.3,469.1 78.3,469.1 79.3,469.1 80.3,469.1 81.3,469.1 82.3,469.1 83.3,469.1 84.3,469.1 85.3,469.1 86.3,469.1 87.3,469.1 88.3,469.1 89.3,469.2 90.3,469.2 91.3,469.2 92.3,469.2 93.3,469.2 94.3,469.2 95.3,469.2 96.3,469.2 97.3,469.2 98.3,469.2 99.3,469.2 100.3,469.2 101.3,469.2 102.3,469.2 103.3,469.3 104.3,469.3 105.3,469.3 106.3,469.3 107.3,469.3 108.3,469.3 109.3,469.3 110.3,469.3 111.3,469.3 112.3,469.3 113.3,469.4 114.3,469.4 115.3,469.4 116.3,469.4 117.3,469.4 118.3,469.4 119.3,469.4 120.3,469.4 121.3,469.4 122.3,469.4 123.3,469.4 124.3,469.4 125.3,469.5 126.3,469.5 127.3,469.5 128.3,469.5 129.3,469.5 130.3,469.5 131.3,469.5 132.4,469.5 133.4,469.5 134.4,469.6 135.4,469.6 136.4,469.6 137.4,469.7 138.4,469.7 139.4,469.8 140.4,469.8 141.4,469.9 142.4,470 143.4,470.1 144.4,470.2 145.4,470.3 146.4,470.4 147.4,470.6 148.4,470.7 149.4,470.8 150.4,470.9 151.4,471.1 152.4,471.2 153.4,471.3 154.4,471.5 155.4,471.6 156.4,471.7 157.4,471.8 158.4,471.9 159.4,472 160.4,472.1 161.4,472.2 162.4,472.3 163.4,472.3 164.4,472.3 165.4,472.3 166.4,472.2 167.4,472.1 168.4,471.8 169.4,471.5 170.4,471 171.4,470.3 172.4,469.4 173.4,468.3 174.4,466.9 175.4,465.1 176.4,463.1 177.4,460.6 178.4,457.9 179.4,454.8 180.4,451.4 181.4,447.9 182.4,444.2 183.4,440.5 184.4,436.9 185.4,433.6 186.4,430.6 187.4,428.3 188.4,426.6 189.4,425.7 190.4,425.7 191.4,426.6 192.4,428.3 193.4,430.7 194.4,433.8 195.4,437.3 196.4,441.2 197.4,445.2 198.4,449.3 199.4,453.3 200.4,457.1 201.4,460.7 202.4,463.9 203.4,466.8 204.4,469.4 205.4,471.6 206.4,473.5 207.4,475.1 208.4,476.4 209.4,477.5 210.4,478.3 211.4,479 212.4,479.6 213.4,480.1 214.4,480.4 215.4,480.7 216.4,480.9 217.4,481.1 218.4,481.3 219.4,481.4 220.4,481.5 221.4,481.6 222.4,481.7 223.4,481.8 224.4,481.9 225.4,482 226.4,482.1 227.4,482.2 228.4,482.2 229.4,482.3 230.4,482.4 231.4,482.4 232.4,482.5" fill="none" stroke="#6a10c0" stroke-width="0.9" stroke-opacity="1.0" stroke-linejoin="round"/>
<path d="M32.3,468.8 33.3,468.8 34.3,468.8 35.3,468.8 36.3,468.8 37.3,468.8 38.3,468.8 39.3,468.8 40.3,468.8 41.3,468.8 42.3,468.8 43.3,468.8 44.3,468.9 45.3,468.9 46.3,468.9 47.3,468.9 48.3,468.9 49.3,468.9 50.3,468.9 51.3,468.9 52.3,468.9 53.3,468.9 54.3,468.9 55.3,468.9 56.3,468.9 57.3,468.9 58.3,469 59.3,469 60.3,469 61.3,469 62.3,469 63.3,469 64.3,469 65.3,469 66.3,469 67.3,469 68.3,469 69.3,469 70.3,469 71.3,469 72.3,469 73.3,469 74.3,469.1 75.3,469.1 76.3,469.1 77.3,469.1 78.3,469.1 79.3,469.1 80.3,469.1 81.3,469.1 82.3,469.1 83.3,469.1 84.3,469.1 85.3,469.1 86.3,469.1 87.3,469.1 88.3,469.1 89.3,469.1 90.3,469.1 91.3,469.2 92.3,469.2 93.3,469.2 94.3,469.2 95.3,469.2 96.3,469.2 97.3,469.2 98.3,469.2 99.3,469.2 100.3,469.2 101.3,469.2 102.3,469.2 103.3,469.2 104.3,469.2 105.3,469.2 106.3,469.3 107.3,469.3 108.3,469.3 109.3,469.3 110.3,469.3 111.3,469.3 112.3,469.3 113.3,469.3 114.3,469.3 115.3,469.3 116.3,469.3 117.3,469.3 118.3,469.4 119.3,469.4 120.3,469.4 121.3,469.4 122.3,469.4 123.3,469.4 124.3,469.4 125.3,469.4 126.3,469.4 127.3,469.4 128.3,469.4 129.3,469.4 130.3,469.4 131.3,469.4 132.4,469.4 133.4,469.4 134.4,469.4 135.4,469.4 136.4,469.5 137.4,469.5 138.4,469.5 139.4,469.6 140.4,469.6 141.4,469.7 142.4,469.7 143.4,469.8 144.4,469.8 145.4,469.9 146.4,469.9 147.4,469.9 148.4,469.8 149.4,469.8 150.4,469.6 151.4,469.4 152.4,469.1 153.4,468.7 154.4,468.2 155.4,467.6 156.4,466.9 157.4,465.9 158.4,464.9 159.4,463.6 160.4,462.2 161.4,460.7 162.4,459 163.4,457.2 164.4,455.2 165.4,453.3 166.4,451.3 167.4,449.4 168.4,447.5 169.4,445.9 170.4,444.4 171.4,443.2 172.4,442.4 173.4,442 174.4,441.9 175.4,442.3 176.4,443.1 177.4,444.3 178.4,445.8 179.4,447.6 180.4,449.7 181.4,451.9 182.4,454.2 183.4,456.5 184.4,458.8 185.4,461.1 186.4,463.3 187.4,465.3 188.4,467.3 189.4,469 190.4,470.6 191.4,472 192.4,473.3 193.4,474.3 194.4,475.3 195.4,476.1 196.4,476.8 197.4,477.4 198.4,478 199.4,478.4 200.4,478.8 201.4,479.1 202.4,479.4 203.4,479.7 204.4,479.9 205.4,480.2 206.4,480.4 207.4,480.5 208.4,480.7 209.4,480.9 210.4,481 211.4,481.2 212.4,481.3 213.4,481.4 214.4,481.5 215.4,481.6 216.4,481.7 217.4,481.8 218.4,481.9 219.4,481.9 220.4,482 221.4,482.1 222.4,482.1 223.4,482.2 224.4,482.3 225.4,482.3 226.4,482.4 227.4,482.4 228.4,482.5 229.4,482.5 230.4,482.6 231.4,482.6 232.4,482.7" fill="none" stroke="#2a2ae0" stroke-width="0.9" stroke-opacity="1.0" stroke-linejoin="round"/>
<path d="M32.3,467.2 33.3,467.1 34.3,467.1 35.3,467.1 36.3,467 37.3,467 38.3,466.9 39.3,466.9 40.3,466.8 41.3,466.8 42.3,466.8 43.3,466.7 44.3,466.7 45.3,466.6 46.3,466.6 47.3,466.5 48.3,466.5 49.3,466.4 50.3,466.4 51.3,466.3 52.3,466.3 53.3,466.2 54.3,466.2 55.3,466.2 56.3,466.1 57.3,466.1 58.3,466 59.3,466 60.3,465.9 61.3,465.9 62.3,465.8 63.3,465.8 64.3,465.8 65.3,465.7 66.3,465.7 67.3,465.6 68.3,465.6 69.3,465.6 70.3,465.5 71.3,465.5 72.3,465.5 73.3,465.4 74.3,465.4 75.3,465.4 76.3,465.4 77.3,465.3 78.3,465.3 79.3,465.3 80.3,465.3 81.3,465.3 82.3,465.2 83.3,465.2 84.3,465.2 85.3,465.2 86.3,465.2 87.3,465.2 88.3,465.2 89.3,465.2 90.3,465.2 91.3,465.2 92.3,465.3 93.3,465.3 94.3,465.3 95.3,465.3 96.3,465.3 97.3,465.4 98.3,465.4 99.3,465.4 100.3,465.4 101.3,465.5 102.3,465.5 103.3,465.6 104.3,465.6 105.3,465.6 106.3,465.7 107.3,465.7 108.3,465.8 109.3,465.8 110.3,465.9 111.3,466 112.3,466 113.3,466.1 114.3,466.1 115.3,466.2 116.3,466.3 117.3,466.3 118.3,466.4 119.3,466.4 120.3,466.5 121.3,466.6 122.3,466.6 123.3,466.7 124.3,466.8 125.3,466.8 126.3,466.9 127.3,467 128.3,467 129.3,467.1 130.3,467.2 131.3,467.2 132.4,467.3 133.4,467.4 134.4,467.5 135.4,467.6 136.4,467.7 137.4,467.8 138.4,467.9 139.4,468 140.4,468.1 141.4,468.3 142.4,468.4 143.4,468.6 144.4,468.7 145.4,468.9 146.4,469.1 147.4,469.3 148.4,469.5 149.4,469.7 150.4,469.9 151.4,470 152.4,470.2 153.4,470.4 154.4,470.6 155.4,470.8 156.4,471 157.4,471.2 158.4,471.4 159.4,471.6 160.4,471.8 161.4,471.9 162.4,472.1 163.4,472.3 164.4,472.5 165.4,472.7 166.4,472.9 167.4,473.1 168.4,473.3 169.4,473.5 170.4,473.7 171.4,473.9 172.4,474.1 173.4,474.3 174.4,474.5 175.4,474.7 176.4,475 177.4,475.2 178.4,475.4 179.4,475.6 180.4,475.8 181.4,476.1 182.4,476.3 183.4,476.5 184.4,476.7 185.4,476.9 186.4,477.1 187.4,477.3 188.4,477.5 189.4,477.7 190.4,477.9 191.4,478.1 192.4,478.3 193.4,478.5 194.4,478.7 195.4,478.9 196.4,479.1 197.4,479.2 198.4,479.4 199.4,479.6 200.4,479.7 201.4,479.9 202.4,480.1 203.4,480.2 204.4,480.4 205.4,480.5 206.4,480.7 207.4,480.8 208.4,481 209.4,481.1 210.4,481.2 211.4,481.3 212.4,481.4 213.4,481.5 214.4,481.6 215.4,481.7 216.4,481.8 217.4,481.9 218.4,481.9 219.4,482 220.4,482.1 221.4,482.1 222.4,482.2 223.4,482.3 224.4,482.3 225.4,482.4 226.4,482.4 227.4,482.5 228.4,482.5 229.4,482.6 230.4,482.6 231.4,482.7 232.4,482.7" fill="none" stroke="#3a3ad0" stroke-width="0.7" stroke-opacity="1.0" stroke-linejoin="round"/>
<path d="M32.3,468.8 33.3,468.8 34.3,468.8 35.3,468.8 36.3,468.8 37.3,468.8 38.3,468.8 39.3,468.8 40.3,468.8 41.3,468.8 42.3,468.8 43.3,468.9 44.3,468.9 45.3,468.9 46.3,468.9 47.3,468.9 48.3,468.9 49.3,468.9 50.3,468.9 51.3,468.9 52.3,468.9 53.3,468.9 54.3,468.9 55.3,468.9 56.3,468.9 57.3,468.9 58.3,469 59.3,469 60.3,469 61.3,469 62.3,469 63.3,469 64.3,469 65.3,469 66.3,469 67.3,469 68.3,469 69.3,469 70.3,469 71.3,469 72.3,469 73.3,469.1 74.3,469.1 75.3,469.1 76.3,469.1 77.3,469.1 78.3,469.1 79.3,469.1 80.3,469.1 81.3,469.1 82.3,469.1 83.3,469.1 84.3,469.1 85.3,469.1 86.3,469.1 87.3,469.1 88.3,469.1 89.3,469.2 90.3,469.2 91.3,469.2 92.3,469.2 93.3,469.2 94.3,469.2 95.3,469.2 96.3,469.2 97.3,469.2 98.3,469.2 99.3,469.2 100.3,469.2 101.3,469.2 102.3,469.2 103.3,469.3 104.3,469.3 105.3,469.3 106.3,469.3 107.3,469.3 108.3,469.3 109.3,469.3 110.3,469.3 111.3,469.3 112.3,469.3 113.3,469.3 114.3,469.4 115.3,469.4 116.3,469.4 117.3,469.4 118.3,469.4 119.3,469.4 120.3,469.4 121.3,469.4 122.3,469.4 123.3,469.4 124.3,469.4 125.3,469.4 126.3,469.5 127.3,469.5 128.3,469.5 129.3,469.5 130.3,469.5 131.3,469.5 132.4,469.5 133.4,469.5 134.4,469.5 135.4,469.6 136.4,469.6 137.4,469.6 138.4,469.7 139.4,469.7 140.4,469.8 141.4,469.8 142.4,469.9 143.4,470 144.4,470.1 145.4,470.2 146.4,470.3 147.4,470.4 148.4,470.4 149.4,470.5 150.4,470.5 151.4,470.6 152.4,470.6 153.4,470.5 154.4,470.5 155.4,470.4 156.4,470.2 157.4,470 158.4,469.7 159.4,469.4 160.4,469 161.4,468.6 162.4,468 163.4,467.4 164.4,466.7 165.4,466 166.4,465.1 167.4,464.2 168.4,463.3 169.4,462.3 170.4,461.2 171.4,460.2 172.4,459.1 173.4,458.1 174.4,457.1 175.4,456.2 176.4,455.4 177.4,454.8 178.4,454.2 179.4,453.8 180.4,453.6 181.4,453.6 182.4,453.8 183.4,454.2 184.4,454.8 185.4,455.6 186.4,456.5 187.4,457.6 188.4,458.8 189.4,460 190.4,461.4 191.4,462.8 192.4,464.2 193.4,465.6 194.4,467 195.4,468.3 196.4,469.6 197.4,470.8 198.4,472 199.4,473.1 200.4,474.1 201.4,475 202.4,475.9 203.4,476.6 204.4,477.3 205.4,477.9 206.4,478.5 207.4,479 208.4,479.4 209.4,479.8 210.4,480.2 211.4,480.4 212.4,480.7 213.4,480.9 214.4,481.1 215.4,481.3 216.4,481.4 217.4,481.6 218.4,481.7 219.4,481.8 220.4,481.9 221.4,481.9 222.4,482 223.4,482.1 224.4,482.2 225.4,482.2 226.4,482.3 227.4,482.4 228.4,482.4 229.4,482.5 230.4,482.5 231.4,482.6 232.4,482.6" fill="none" stroke="#3aa03a" stroke-width="0.8" stroke-opacity="1.0" stroke-linejoin="round"/>
<path d="M32.3,468.8 33.3,468.8 34.3,468.8 35.3,468.8 36.3,468.8 37.3,468.8 38.3,468.8 39.3,468.8 40.3,468.8 41.3,468.9 42.3,468.9 43.3,468.9 44.3,468.9 45.3,468.9 46.3,468.9 47.3,468.9 48.3,468.9 49.3,468.9 50.3,468.9 51.3,468.9 52.3,468.9 53.3,468.9 54.3,468.9 55.3,469 56.3,469 57.3,469 58.3,469 59.3,469 60.3,469 61.3,469 62.3,469 63.3,469 64.3,469 65.3,469 66.3,469 67.3,469 68.3,469 69.3,469 70.3,469.1 71.3,469.1 72.3,469.1 73.3,469.1 74.3,469.1 75.3,469.1 76.3,469.1 77.3,469.1 78.3,469.1 79.3,469.1 80.3,469.1 81.3,469.1 82.3,469.1 83.3,469.1 84.3,469.1 85.3,469.2 86.3,469.2 87.3,469.2 88.3,469.2 89.3,469.2 90.3,469.2 91.3,469.2 92.3,469.2 93.3,469.2 94.3,469.2 95.3,469.2 96.3,469.2 97.3,469.2 98.3,469.2 99.3,469.2 100.3,469.2 101.3,469.3 102.3,469.3 103.3,469.3 104.3,469.3 105.3,469.3 106.3,469.3 107.3,469.3 108.3,469.3 109.3,469.3 110.3,469.3 111.3,469.3 112.3,469.3 113.3,469.4 114.3,469.4 115.3,469.4 116.3,469.4 117.3,469.4 118.3,469.4 119.3,469.4 120.3,469.4 121.3,469.4 122.3,469.4 123.3,469.4 124.3,469.3 125.3,469.3 126.3,469.3 127.3,469.3 128.3,469.2 129.3,469.2 130.3,469.1 131.3,469 132.4,468.9 133.4,468.8 134.4,468.7 135.4,468.6 136.4,468.5 137.4,468.3 138.4,468.1 139.4,468 140.4,467.8 141.4,467.6 142.4,467.4 143.4,467.2 144.4,467 145.4,466.7 146.4,466.5 147.4,466.3 148.4,466.1 149.4,466 150.4,465.8 151.4,465.7 152.4,465.6 153.4,465.6 154.4,465.6 155.4,465.6 156.4,465.8 157.4,465.9 158.4,466.2 159.4,466.5 160.4,466.8 161.4,467.2 162.4,467.6 163.4,468.1 164.4,468.5 165.4,469 166.4,469.5 167.4,470 168.4,470.5 169.4,471 170.4,471.5 171.4,472 172.4,472.5 173.4,473 174.4,473.4 175.4,473.8 176.4,474.2 177.4,474.6 178.4,475 179.4,475.3 180.4,475.6 181.4,475.9 182.4,476.2 183.4,476.5 184.4,476.8 185.4,477 186.4,477.3 187.4,477.5 188.4,477.7 189.4,477.9 190.4,478.1 191.4,478.3 192.4,478.5 193.4,478.7 194.4,478.9 195.4,479.1 196.4,479.3 197.4,479.4 198.4,479.6 199.4,479.8 200.4,479.9 201.4,480.1 202.4,480.2 203.4,480.4 204.4,480.6 205.4,480.7 206.4,480.9 207.4,481 208.4,481.1 209.4,481.3 210.4,481.4 211.4,481.5 212.4,481.6 213.4,481.7 214.4,481.8 215.4,481.9 216.4,481.9 217.4,482 218.4,482.1 219.4,482.1 220.4,482.2 221.4,482.3 222.4,482.3 223.4,482.4 224.4,482.4 225.4,482.5 226.4,482.5 227.4,482.6 228.4,482.6 229.4,482.7 230.4,482.7 231.4,482.8 232.4,482.8" fill="none" stroke="#3aa03a" stroke-width="0.8" stroke-opacity="1.0" stroke-linejoin="round"/>
<path d="M32.3,467.2 33.3,467.2 34.3,467.2 35.3,467.1 36.3,467.1 37.3,467.1 38.3,467 39.3,467 40.3,467 41.3,466.9 42.3,466.9 43.3,466.9 44.3,466.8 45.3,466.8 46.3,466.8 47.3,466.7 48.3,466.7 49.3,466.7 50.3,466.6 51.3,466.6 52.3,466.6 53.3,466.5 54.3,466.5 55.3,466.5 56.3,466.4 57.3,466.4 58.3,466.4 59.3,466.4 60.3,466.3 61.3,466.3 62.3,466.3 63.3,466.3 64.3,466.3 65.3,466.2 66.3,466.2 67.3,466.2 68.3,466.2 69.3,466.2 70.3,466.2 71.3,466.2 72.3,466.2 73.3,466.1 74.3,466.1 75.3,466.1 76.3,466.1 77.3,466.1 78.3,466.1 79.3,466.1 80.3,466.2 81.3,466.2 82.3,466.2 83.3,466.2 84.3,466.2 85.3,466.2 86.3,466.2 87.3,466.3 88.3,466.3 89.3,466.3 90.3,466.3 91.3,466.4 92.3,466.4 93.3,466.4 94.3,466.4 95.3,466.5 96.3,466.5 97.3,466.5 98.3,466.6 99.3,466.6 100.3,466.7 101.3,466.7 102.3,466.8 103.3,466.8 104.3,466.8 105.3,466.9 106.3,466.9 107.3,467 108.3,467 109.3,467.1 110.3,467.1 111.3,467.2 112.3,467.2 113.3,467.3 114.3,467.4 115.3,467.4 116.3,467.5 117.3,467.5 118.3,467.6 119.3,467.6 120.3,467.7 121.3,467.7 122.3,467.8 123.3,467.8 124.3,467.9 125.3,467.9 126.3,468 127.3,468 128.3,468.1 129.3,468.1 130.3,468.2 131.3,468.3 132.4,468.3 133.4,468.4 134.4,468.4 135.4,468.5 136.4,468.6 137.4,468.7 138.4,468.8 139.4,468.9 140.4,469 141.4,469.1 142.4,469.2 143.4,469.4 144.4,469.5 145.4,469.7 146.4,469.8 147.4,470 148.4,470.2 149.4,470.4 150.4,470.5 151.4,470.7 152.4,470.9 153.4,471.1 154.4,471.2 155.4,471.4 156.4,471.6 157.4,471.7 158.4,471.9 159.4,472.1 160.4,472.3 161.4,472.4 162.4,472.6 163.4,472.8 164.4,473 165.4,473.1 166.4,473.3 167.4,473.5 168.4,473.7 169.4,473.9 170.4,474.1 171.4,474.2 172.4,474.4 173.4,474.6 174.4,474.8 175.4,475.1 176.4,475.3 177.4,475.5 178.4,475.7 179.4,475.9 180.4,476.1 181.4,476.3 182.4,476.5 183.4,476.7 184.4,476.9 185.4,477.1 186.4,477.3 187.4,477.5 188.4,477.7 189.4,477.9 190.4,478.1 191.4,478.3 192.4,478.5 193.4,478.7 194.4,478.9 195.4,479 196.4,479.2 197.4,479.4 198.4,479.5 199.4,479.7 200.4,479.9 201.4,480 202.4,480.2 203.4,480.3 204.4,480.5 205.4,480.6 206.4,480.8 207.4,480.9 208.4,481.1 209.4,481.2 210.4,481.3 211.4,481.4 212.4,481.5 213.4,481.6 214.4,481.7 215.4,481.8 216.4,481.9 217.4,482 218.4,482 219.4,482.1 220.4,482.1 221.4,482.2 222.4,482.3 223.4,482.3 224.4,482.4 225.4,482.4 226.4,482.5 227.4,482.5 228.4,482.6 229.4,482.6 230.4,482.7 231.4,482.7 232.4,482.8" fill="none" stroke="#3aa03a" stroke-width="0.8" stroke-opacity="1.0" stroke-linejoin="round"/>
<path d="M32.3,468.3 33.3,468.3 34.3,468.2 35.3,468.2 36.3,468.2 37.3,468.1 38.3,468.1 39.3,468.1 40.3,468.1 41.3,468 42.3,468 43.3,468 44.3,467.9 45.3,467.9 46.3,467.9 47.3,467.9 48.3,467.8 49.3,467.8 50.3,467.8 51.3,467.7 52.3,467.7 53.3,467.7 54.3,467.7 55.3,467.6 56.3,467.6 57.3,467.6 58.3,467.5 59.3,467.5 60.3,467.5 61.3,467.5 62.3,467.5 63.3,467.5 64.3,467.4 65.3,467.4 66.3,467.4 67.3,467.4 68.3,467.4 69.3,467.4 70.3,467.4 71.3,467.4 72.3,467.3 73.3,467.3 74.3,467.3 75.3,467.3 76.3,467.3 77.3,467.3 78.3,467.3 79.3,467.3 80.3,467.2 81.3,467.2 82.3,467.2 83.3,467.2 84.3,467.2 85.3,467.2 86.3,467.2 87.3,467.2 88.3,467.1 89.3,467.1 90.3,467.1 91.3,467.1 92.3,467.1 93.3,467.1 94.3,467.1 95.3,467.1 96.3,467 97.3,467 98.3,467 99.3,467 100.3,467 101.3,466.9 102.3,466.9 103.3,466.9 104.3,466.8 105.3,466.8 106.3,466.7 107.3,466.7 108.3,466.6 109.3,466.6 110.3,466.6 111.3,466.5 112.3,466.5 113.3,466.4 114.3,466.4 115.3,466.3 116.3,466.3 117.3,466.3 118.3,466.2 119.3,466.2 120.3,466.1 121.3,466.1 122.3,466.1 123.3,466 124.3,466 125.3,465.9 126.3,465.9 127.3,465.8 128.3,465.8 129.3,465.8 130.3,465.7 131.3,465.7 132.4,465.6 133.4,465.6 134.4,465.5 135.4,465.5 136.4,465.5 137.4,465.4 138.4,465.4 139.4,465.3 140.4,465.2 141.4,465.1 142.4,465 143.4,464.8 144.4,464.7 145.4,464.5 146.4,464.4 147.4,464.2 148.4,464.1 149.4,463.9 150.4,463.8 151.4,463.6 152.4,463.5 153.4,463.3 154.4,463.1 155.4,462.9 156.4,462.6 157.4,462.3 158.4,461.9 159.4,461.6 160.4,461.2 161.4,460.9 162.4,460.5 163.4,460.2 164.4,459.8 165.4,459.5 166.4,459.1 167.4,458.8 168.4,458.4 169.4,458 170.4,457.6 171.4,457.2 172.4,456.7 173.4,456.3 174.4,455.8 175.4,455.4 176.4,455 177.4,454.6 178.4,454.3 179.4,454 180.4,453.8 181.4,453.9 182.4,454.1 183.4,454.4 184.4,454.9 185.4,455.6 186.4,456.5 187.4,457.4 188.4,458.5 189.4,459.6 190.4,460.9 191.4,462.2 192.4,463.6 193.4,465 194.4,466.4 195.4,467.8 196.4,469.1 197.4,470.4 198.4,471.7 199.4,472.9 200.4,474.1 201.4,475.3 202.4,476.4 203.4,477.5 204.4,478.4 205.4,479.1 206.4,479.7 207.4,480.1 208.4,480.6 209.4,480.9 210.4,481.2 211.4,481.3 212.4,481.5 213.4,481.5 214.4,481.6 215.4,481.7 216.4,481.8 217.4,481.8 218.4,481.9 219.4,482 220.4,482 221.4,482.1 222.4,482.2 223.4,482.2 224.4,482.3 225.4,482.4 226.4,482.5 227.4,482.5 228.4,482.6 229.4,482.7 230.4,482.7 231.4,482.8 232.4,482.9" fill="none" stroke="#222" stroke-width="0.9" stroke-opacity="1.0" stroke-dasharray="2.5,1.2,1,1.2" stroke-linejoin="round"/>
<path d="M32.3,468 33.3,468 34.3,467.9 35.3,467.9 36.3,467.8 37.3,467.8 38.3,467.8 39.3,467.7 40.3,467.7 41.3,467.7 42.3,467.6 43.3,467.6 44.3,467.6 45.3,467.5 46.3,467.5 47.3,467.5 48.3,467.4 49.3,467.4 50.3,467.3 51.3,467.3 52.3,467.3 53.3,467.2 54.3,467.2 55.3,467.2 56.3,467.1 57.3,467.1 58.3,467.1 59.3,467 60.3,467 61.3,467 62.3,466.9 63.3,466.9 64.3,466.9 65.3,466.9 66.3,466.8 67.3,466.8 68.3,466.8 69.3,466.8 70.3,466.7 71.3,466.7 72.3,466.7 73.3,466.7 74.3,466.6 75.3,466.6 76.3,466.6 77.3,466.6 78.3,466.5 79.3,466.5 80.3,466.5 81.3,466.5 82.3,466.4 83.3,466.4 84.3,466.4 85.3,466.4 86.3,466.3 87.3,466.3 88.3,466.3 89.3,466.3 90.3,466.2 91.3,466.2 92.3,466.2 93.3,466.2 94.3,466.1 95.3,466.1 96.3,466.1 97.3,466.1 98.3,466 99.3,466 100.3,466 101.3,465.9 102.3,465.9 103.3,465.9 104.3,465.8 105.3,465.8 106.3,465.8 107.3,465.7 108.3,465.7 109.3,465.6 110.3,465.6 111.3,465.6 112.3,465.5 113.3,465.5 114.3,465.5 115.3,465.4 116.3,465.4 117.3,465.3 118.3,465.3 119.3,465.3 120.3,465.2 121.3,465.2 122.3,465.2 123.3,465.1 124.3,465.1 125.3,465 126.3,465 127.3,465 128.3,464.9 129.3,464.9 130.3,464.9 131.3,464.8 132.4,464.8 133.4,464.7 134.4,464.7 135.4,464.7 136.4,464.6 137.4,464.6 138.4,464.6 139.4,464.5 140.4,464.3 141.4,464.1 142.4,463.8 143.4,463.6 144.4,463.3 145.4,463 146.4,462.7 147.4,462.4 148.4,462 149.4,461.4 150.4,460.7 151.4,459.7 152.4,458.7 153.4,457.7 154.4,456.7 155.4,455.7 156.4,454.7 157.4,453.7 158.4,452.5 159.4,451.3 160.4,449.9 161.4,448.5 162.4,447.1 163.4,445.7 164.4,444.3 165.4,442.9 166.4,441.6 167.4,440.3 168.4,439.1 169.4,438 170.4,437 171.4,436 172.4,435 173.4,434 174.4,433 175.4,432.1 176.4,431.1 177.4,430.3 178.4,429.6 179.4,429 180.4,428.3 181.4,427.7 182.4,427 183.4,426.2 184.4,425.1 185.4,423.6 186.4,422 187.4,420.6 188.4,419.9 189.4,420.2 190.4,421.7 191.4,424.2 192.4,427.5 193.4,431.4 194.4,435.6 195.4,439.9 196.4,444.1 197.4,448.1 198.4,451.7 199.4,455.1 200.4,458.4 201.4,461.6 202.4,464.4 203.4,466.8 204.4,468.7 205.4,470.5 206.4,472.3 207.4,474 208.4,475.7 209.4,477.2 210.4,478.2 211.4,479 212.4,479.5 213.4,479.9 214.4,480.3 215.4,480.7 216.4,480.9 217.4,481.1 218.4,481.3 219.4,481.4 220.4,481.5 221.4,481.6 222.4,481.7 223.4,481.8 224.4,481.9 225.4,482 226.4,482.2 227.4,482.3 228.4,482.4 229.4,482.5 230.4,482.6 231.4,482.7 232.4,482.8" fill="none" stroke="#222244" stroke-width="0.9" stroke-opacity="1.0" stroke-dasharray="3,1.2,1,1.2" stroke-linejoin="round"/>
<path d="M32.3,467.7 33.3,467.7 34.3,467.6 35.3,467.5 36.3,467.4 37.3,467.3 38.3,467.2 39.3,467.1 40.3,467 41.3,466.9 42.3,466.7 43.3,466.6 44.3,466.4 45.3,466.2 46.3,466 47.3,465.7 48.3,465.5 49.3,465.3 50.3,465.1 51.3,464.9 52.3,464.7 53.3,464.6 54.3,464.4 55.3,464.3 56.3,464.1 57.3,464 58.3,463.8 59.3,463.7 60.3,463.5 61.3,463.4 62.3,463.2 63.3,463.1 64.3,463 65.3,462.8 66.3,462.7 67.3,462.5 68.3,462.4 69.3,462.2 70.3,462.1 71.3,461.9 72.3,461.8 73.3,461.7 74.3,461.7 75.3,461.6 76.3,461.6 77.3,461.6 78.3,461.5 79.3,461.5 80.3,461.5 81.3,461.5 82.3,461.4 83.3,461.4 84.3,461.4 85.3,461.3 86.3,461.3 87.3,461.3 88.3,461.2 89.3,461.2 90.3,461.2 91.3,461.2 92.3,461.1 93.3,461.1 94.3,461.1 95.3,461.1 96.3,461 97.3,461 98.3,461 99.3,461 100.3,461 101.3,460.9 102.3,460.9 103.3,460.9 104.3,460.9 105.3,460.9 106.3,460.8 107.3,460.8 108.3,460.8 109.3,460.8 110.3,460.8 111.3,460.7 112.3,460.7 113.3,460.7 114.3,460.7 115.3,460.7 116.3,460.7 117.3,460.7 118.3,460.7 119.3,460.7 120.3,460.7 121.3,460.7 122.3,460.6 123.3,460.6 124.3,460.6 125.3,460.6 126.3,460.6 127.3,460.6 128.3,460.6 129.3,460.6 130.3,460.6 131.3,460.5 132.4,460.5 133.4,460.4 134.4,460.4 135.4,460.3 136.4,460.2 137.4,460.1 138.4,460 139.4,459.7 140.4,459.3 141.4,458.7 142.4,457.9 143.4,457.1 144.4,456.3 145.4,455.4 146.4,454.5 147.4,453.5 148.4,452.5 149.4,451.5 150.4,450.4 151.4,449.2 152.4,447.8 153.4,446.3 154.4,444.8 155.4,443.3 156.4,441.6 157.4,439.8 158.4,437.9 159.4,436 160.4,434 161.4,432 162.4,430.1 163.4,428.1 164.4,426.1 165.4,424.1 166.4,422.1 167.4,420.1 168.4,418.2 169.4,416.4 170.4,414.5 171.4,412.7 172.4,410.9 173.4,409.3 174.4,407.8 175.4,406.5 176.4,405.1 177.4,403.8 178.4,402.6 179.4,401.6 180.4,400.7 181.4,399.9 182.4,399.1 183.4,398.4 184.4,397.9 185.4,397.6 186.4,397.5 187.4,397.7 188.4,398.2 189.4,399.2 190.4,401 191.4,403.7 192.4,407.2 193.4,411.5 194.4,416.3 195.4,421.5 196.4,427.1 197.4,432.9 198.4,438.6 199.4,443.8 200.4,448.6 201.4,453.1 202.4,457.3 203.4,461.1 204.4,464.6 205.4,467.9 206.4,470.7 207.4,473 208.4,474.9 209.4,476.7 210.4,478.2 211.4,479.4 212.4,480.3 213.4,481 214.4,481.6 215.4,482 216.4,482.3 217.4,482.5 218.4,482.7 219.4,482.9 220.4,483 221.4,483.2 222.4,483.3 223.4,483.4 224.4,483.4 225.4,483.5 226.4,483.6 227.4,483.6 228.4,483.7 229.4,483.7 230.4,483.8 231.4,483.8 232.4,483.9" fill="none" stroke="#15152a" stroke-width="1.3" stroke-opacity="1.0" stroke-linejoin="round"/>
</g>
<rect x="36.3" y="394.4" width="24.5" height="11.4" fill="#b9b9e1" fill-opacity="1.0" stroke="#333" stroke-width="0.9" stroke-dasharray="2.5,1,1,1"/>
<rect x="36.3" y="411.6" width="24.5" height="12.3" fill="#b2d2b2" fill-opacity="1.0" stroke="#333" stroke-width="0.9" stroke-dasharray="2.5,1,1,1"/>
<text x="64.00" y="403.80" font-size="10.6" fill="#1a1a1a">Co</text>
<text x="77.55" y="407.20" font-size="7" fill="#1a1a1a">3</text>
<text x="77.85" y="399.30" font-size="8" fill="#ff2a2a">(</text>
<rect x="81.36" y="393.90" width="0.9" height="5.80" fill="#ff2a2a"/>
<rect x="83.21" y="393.90" width="0.9" height="5.80" fill="#ff2a2a"/>
<text x="84.51" y="399.30" font-size="8" fill="#ff2a2a">,</text>
<rect x="86.99" y="393.90" width="0.9" height="5.80" fill="#ff2a2a"/>
<rect x="88.84" y="393.90" width="0.9" height="5.80" fill="#ff2a2a"/>
<rect x="90.69" y="393.90" width="0.9" height="5.80" fill="#ff2a2a"/>
<text x="92.69" y="399.30" font-size="8" fill="#ff2a2a">)</text>
<text x="95.05" y="403.80" font-size="10.6" fill="#1a1a1a">O</text>
<text x="103.30" y="406.80" font-size="7" fill="#1a1a1a">4</text>
<text x="64.00" y="420.90" font-size="10.6" fill="#1a1a1a">Co</text>
<rect x="78.00" y="411.60" width="0.9" height="5.50" fill="#ff2a2a"/>
<rect x="79.85" y="411.60" width="0.9" height="5.50" fill="#ff2a2a"/>
<text x="82.15" y="420.90" font-size="10.6" fill="#1a1a1a">O</text>
<circle cx="123.9" cy="427.9" r="20.1" fill="#b9b9e1"/>
<path d="M123.9,427.9 L123.9,407.79999999999995 A20.1,20.1 0 0,0 107.64,439.71 Z" fill="#b2d2b2"/>
<text x="104.4" y="426.4" font-size="11" fill="#1a1a1a">35%</text>
<text x="125.2" y="438.4" font-size="11" fill="#1a1a1a">65%</text>
<g clip-path="url(#c11t)">
<defs><marker id="m3" markerWidth="5.2" markerHeight="5.2" refX="2.6" refY="2.6" markerUnits="userSpaceOnUse" overflow="visible"><circle cx="2.6" cy="2.6" r="1.6" fill="#ffffff" fill-opacity="0.7" stroke="#7e7e7e" stroke-width="0.5" stroke-opacity="1.0"/></marker></defs>
<polyline points="256.9,362 257.7,362.7 257.8,360.2 258.5,362.3 259.4,362.1 259.9,362.1 260.7,360.7 261,362.7 261.6,363.2 262.6,363 263,362.4 263.7,361.2 264,361.8 265,363.6 265.4,362.8 265.9,362.5 266.5,362.3 267.5,361.5 268.1,363 268.5,362.4 268.8,360.1 269.5,363 270.4,362.9 271.1,362.8 271.3,362.3 272.1,361.8 272.4,362.7 273.6,362.2 273.9,360.4 274.3,362.4 275.2,362 276.1,362.5 276.1,360 276.8,360.8 277.5,364.7 278,361 278.9,361.7 279.5,360.7 279.8,359.9 280.7,361.9 281.4,361.5 282.1,361.1 282.5,359.6 283.4,360.8 283.7,362.2 284.2,360.6 284.9,360.5 285.4,361.3 285.9,359.8 286.9,359.7 287.1,360.3 288,358.1 288.7,359.8 289.1,361.3 289.6,360.5 290.3,359.1 291.2,358.1 291.4,360.1 292.4,358.6 293.1,358.7 293.2,361.1 294.1,357 294.4,358.5 295.2,357.8 295.9,358.1 296.3,356.9 297.1,357 297.7,356.8 298.4,357.2 299,356.4 299.7,354.1 299.9,357 300.9,355.4 301.3,352.9 301.7,355.9 302.4,354.8 303.3,355.5 303.6,354.7 304.1,354 305,354.1 305.5,353.4 306.5,353.4 306.8,352.4 307.7,351.6 308.3,350.3 308.7,350.9 309.5,352.1 309.9,351.2 310.4,350.1 310.8,348.4 311.8,348.3 312.4,349.3 312.6,348.1 313.7,347.5 314,348.6 314.8,345.9 315.6,348.1 316,346.8 316.7,345.7 317,346 317.8,345.3 318.3,345.2 319,344.2 319.8,343.8 320.1,343.7 321.1,342.9 321.5,345.7 322.2,341.9 322.4,341.8 323.4,342.2 323.7,341.5 324.3,341.6 325.4,341.4 325.8,340 326.3,338.9 327,339.3 327.4,339.2 328,340.1 328.7,338.6 329.1,338 330.1,338.1 330.8,337.1 331.2,336.4 331.7,336.3 332.3,336.1 333.2,331.6 333.9,335.2 334.5,331.7 335.1,332.5 335.3,332.1 336.1,329.6 336.9,329.7 337.2,329.4 337.9,329.2 338.5,326.6 338.9,326.7 339.6,326.1 340.3,326.1 340.7,324.8 341.3,323.2 342.2,323.1 342.8,324 343.5,323.5 343.8,320.9 344.6,320.9 345.2,320.2 345.8,319.8 346.6,317.1 347,318.3 347.5,317 348.2,314.7 349.1,313 349.2,313.2 349.8,312.1 350.9,311.1 351.2,309 352.1,307.1 352.6,306.8 353,306.2 353.6,306.3 354.1,303.2 355,302.3 355.2,303.2 356.1,301.9 357,300.1 357.5,298.6 357.8,300.9 358.7,300.2 359,298.3 359.7,300 360.5,295.8 360.7,297.1 361.4,297.6 362,295.7 362.6,297.3 363.7,298.4 363.9,297.7 364.6,299 365.5,300.3 366,298.3 366.5,300.3 367,299.8 367.7,297.9 368.3,298.3 369.2,301.5 369.4,301.3 370.4,302.7 370.6,300 371.4,304.7 372.1,303.9 372.9,305.4 373.4,306.2 373.8,306.9 374.3,308.6 374.8,307.3 375.6,308.4 376.4,306.6 376.6,309.9 377.2,310.7 377.9,311.5 378.8,309.9 379.5,311.5 380.1,312.4 380.4,311.8 381.4,311.5 381.7,312.6 382.1,312.9 382.7,310.9 383.8,311.2 384.2,311.9 385,312.1 385.2,312.5 385.7,311.8 386.8,313.3 387,314.7 387.6,314.3 388.3,315 389.1,316.5 389.9,316 390.1,318.3 391.1,318.7 391.6,319.7 391.9,320.6 392.9,322.5 393.4,322.9 394,326.2 394.2,325.4 395.4,327.6 395.4,328.3 396.5,332.4 396.8,332.9 397.4,334.2 398.2,338.5 399,341 399.2,341 400.1,344.8 400.6,345.9 401.4,347.9 402,349.7 402.3,350.1 403,354.9 403.6,355.2 404.5,357.1 405,359.1 405.5,358.8 406,360.2 406.6,363.9 407.5,362.3 408.2,364.4 408.4,364.9 408.8,366.4 409.5,367.5 410.4,367.5 411.2,369.9 411.3,370.4 412.2,369.9 412.5,371.1 413.2,369.8 414,371.9 414.7,372.3 415.3,373 416,375.5 416.4,373.2 417,374.1 417.4,373.7 418.4,376.7 418.6,374.6 419.5,376.7 419.8,375.7 420.7,375.8 421.5,377.2 421.8,377.3 422.6,379.8 423.2,378.9 423.9,377.7 424.5,377.8 424.9,376.6 425.7,378.2 426.1,377.9 427,377.3 427.5,377.4 428.2,378.9 428.5,377.2 429.5,375.9 429.7,378.4 430.6,376.8 430.8,377.2 431.8,378.8 432.2,378.9 433,378.5 433.7,378 434.2,378.2 434.9,378.2 435.2,379.6 435.6,378.5 436.2,378 437.4,380.1 437.9,379.8 438.2,378.3 439.1,379.4 439.8,378.9 440.2,377.9 440.7,378.9 441.2,378.3 442.1,379.1 442.7,382.3 443,380.6 443.6,379.5 444.4,378 445,378.4 445.7,379.8 446.1,379.1 447,378.3 447.2,381.6 447.8,379.1 448.6,380.8 449.1,378 450.2,380.8 450.6,380.1 450.9,381.5 451.5,380.5 452.1,379.6 453.1,381 453.3,381 454.4,380.4 454.5,380.1 455.6,381.9 456.1,382 456.6,379.9 457.1,381.1" fill="none" stroke="none" marker-start="url(#m3)" marker-mid="url(#m3)" marker-end="url(#m3)"/>
</g>
<g clip-path="url(#c11b)">
<polyline points="257,460.6 257.4,462.9 258.5,463 258.7,460.4 259.6,461.6 260.6,462.9 261.3,464.5 261.7,462.7 262.2,461.6 262.9,463.9 263.7,461.6 264.5,461.3 265.3,463.6 265.4,461.5 266,463.9 266.9,464.1 267.6,462.7 268.3,461.1 269,463.3 269.9,462.4 270.1,461.9 270.7,463 271.7,462.4 272.4,459.9 273.2,462.6 273.6,462.9 274.4,463.3 274.8,463 275.5,462.6 276.3,458.5 277,461.5 277.8,462.5 278.2,462.5 278.8,462.4 279.8,462.3 280.4,459.3 281,461.2 281.8,461.3 282.3,461.1 283,461.7 283.8,459.2 284.5,462.9 284.9,458.4 285.7,460.7 286.5,462.5 287,461.7 287.7,459.6 288.4,461.8 289.1,461.6 290,462 290.4,460.8 291.1,460.5 291.5,460.8 292.4,460.3 293.4,458.1 293.7,459.5 294.4,457.1 295.3,459.3 295.9,456.7 296.7,458.9 296.9,458.1 297.9,459.3 298.5,455.2 299.1,455.7 300,457.9 300.7,455.9 301.3,456.3 302.1,455.3 302.6,458.8 303,454.2 303.9,455.7 304.7,455.6 305,453.8 305.6,454.2 306.3,457.8 307.4,455.9 307.8,452.6 308.5,450.3 309.1,451.2 309.7,450.3 310.4,450 311,449.6 311.9,452.2 312.6,448 312.9,449.2 313.6,449.5 314.4,446.5 315.3,448.6 315.7,447.2 316.5,445.7 317.1,445.7 318,446.6 318.5,444.4 319.2,445.8 320,444.4 320.5,442.2 321.4,448 322,442.8 322.3,444.9 322.9,441.2 323.8,441.8 324.6,444.3 325.1,442.4 325.7,442.5 326.8,442.1 327.4,440.6 328.2,441.2 328.6,441.9 329.5,440 329.7,439.5 330.8,437.5 331.5,437.7 332.1,439 332.3,437.4 333.4,438.3 334.2,436.4 334.6,434.9 335.1,434.5 336,437.6 336.3,429.6 337.5,431.3 337.9,432 338.7,430.9 339.5,431 340.1,428.2 340.9,427.4 341.1,429.6 341.9,425.3 342.7,425.5 343.3,425.6 343.8,425.3 344.7,422.7 345.4,424.3 345.9,420.8 346.6,420.4 347.2,419.1 348.3,417.9 348.8,416.5 349.3,416.6 349.7,417.2 350.7,411.1 351.2,411.7 351.8,407.9 352.7,408.9 353.5,406.3 354.3,403.5 354.8,401.6 355.6,401.9 356,403.1 356.5,401.2 357.1,397.8 357.9,395.4 358.8,395.9 359.6,392.9 360.1,391.8 360.4,391.6 361.2,391.1 361.8,389.8 362.8,389.5 363.4,391.4 363.9,389 364.6,394 365.6,391.3 366.3,392.1 366.5,393 367.7,392.4 368.2,392.8 369.1,396.2 369.2,395.3 370.3,397.3 370.6,396.7 371.5,399.6 372.1,398.3 372.5,399.1 373.2,402.3 374.4,402.6 374.6,401.8 375.4,403 376.2,401.4 376.8,401.8 377.2,402.8 378,405 378.5,403 379.6,403 380.1,404.9 380.6,404.4 381.5,404 382.2,403.8 382.6,403.7 383.6,403.1 384.4,403 384.9,400.5 385.7,400.3 386.3,402 386.9,399.5 387.5,399.5 388,399.7 388.8,401.9 389.7,398.3 390,401 390.7,400 391.6,399.2 391.9,399 393.1,401.1 393.7,403.7 394.3,403.9 394.7,404.9 395.5,408.9 396.1,411.1 397,415.4 397.6,417.7 398,417.2 399,420.3 399.4,425.8 400.2,425.2 400.9,427 401.5,433.2 402.5,435.4 403.1,443.1 403.9,447 404.2,444.6 405.2,448.1 405.7,452.9 406.2,454.6 406.9,456.3 407.8,462.1 408.2,461.2 409.2,463.4 409.5,465.6 410.5,468.3 411,467.3 411.6,467.1 412.6,472.5 413.1,471.5 413.8,471.9 414.4,472.7 414.9,474.1 415.4,473.1 416.1,475.1 416.8,476.1 417.6,474.9 418.3,475.7 418.9,478.5 419.7,477.1 420.5,477.8 421.1,477.5 421.6,478.4 422.5,477.7 423,479.4 423.9,479.1 424.1,478 424.7,478.8 425.9,476.9 426.6,478.1 426.8,480.7 427.9,478 428.6,478.6 429.3,479.1 429.8,478.5 430.3,477 431.1,478.1 431.7,479.3 432.4,478.3 433.3,481.1 433.8,480.7 434.5,479.3 435.3,478.8 435.7,480 436.2,479.2 437.1,478.8 437.9,479.9 438.7,479.3 439,479.2 439.7,478.9 440.1,479.2 441.2,479.4 441.7,478.4 442.5,480.3 443,479.4 443.9,479.5 444.5,479.3 445.4,480.8 445.8,479.4 446.5,478.1 447.3,478.7 447.7,477.6 448.2,477.2 449,479.5 449.9,478.8 450.5,479.4 451.2,479 452.1,480.1 452.5,479.3 453.3,479 453.6,478.1 454.4,479.5 455.3,480.3 456,482.4 456.5,480.6 457.4,478.3" fill="none" stroke="none" marker-start="url(#m0)" marker-mid="url(#m0)" marker-end="url(#m0)"/>
<path d="M256.6,462.2 257.6,462.2 258.6,462.2 259.6,462.2 260.6,462.2 261.6,462.2 262.6,462.2 263.6,462.2 264.6,462.1 265.6,462.1 266.6,462.1 267.6,462.1 268.6,462.1 269.6,462.1 270.6,462.1 271.6,462.1 272.6,462.1 273.6,462.1 274.6,462.1 275.6,462.1 276.6,462.1 277.6,462.1 278.6,462 279.6,462 280.6,462 281.6,462 282.6,462 283.6,462 284.6,462 285.6,461.9 286.6,461.9 287.6,461.8 288.6,461.7 289.6,461.5 290.6,461.3 291.6,460.9 292.6,460.6 293.6,460.2 294.6,459.8 295.6,459.4 296.6,459 297.6,458.6 298.6,458.1 299.6,457.7 300.6,457.3 301.6,456.8 302.6,456.3 303.6,455.8 304.6,455.3 305.6,454.8 306.6,454.3 307.6,453.8 308.6,453.3 309.6,452.8 310.6,452.2 311.6,451.6 312.6,450.9 313.6,450.2 314.6,449.5 315.6,448.8 316.6,448.1 317.6,447.5 318.6,446.8 319.6,446.1 320.6,445.5 321.6,444.9 322.6,444.4 323.6,443.9 324.6,443.4 325.6,442.9 326.6,442.4 327.6,441.9 328.6,441.3 329.6,440.8 330.6,440.1 331.6,439.4 332.6,438.5 333.6,437.5 334.6,436.5 335.6,435.5 336.6,434.5 337.6,433.5 338.6,432.4 339.6,431.4 340.6,430.2 341.6,428.9 342.6,427.5 343.6,425.9 344.6,424.3 345.6,422.7 346.6,421.1 347.6,419.4 348.6,417.7 349.6,415.7 350.6,413.6 351.6,411.4 352.6,409 353.6,406.7 354.6,404.4 355.6,402.3 356.6,400.2 357.5,398.3 358.5,396.4 359.5,394.8 360.5,393.5 361.5,392.7 362.5,392.3 363.5,392.1 364.5,392.3 365.5,392.7 366.5,393.4 367.5,394.3 368.5,395.3 369.5,396.3 370.5,397.6 371.5,398.9 372.5,400.3 373.5,401.7 374.5,402.9 375.5,404 376.5,404.6 377.5,404.9 378.5,405.1 379.5,405.1 380.5,405 381.5,404.9 382.5,404.6 383.5,404.3 384.5,404.1 385.5,404.1 386.5,404.4 387.5,405.1 388.5,406.2 389.5,407.7 390.5,409.8 391.5,412.4 392.5,415.4 393.5,418.7 394.5,422.1 395.5,425.6 396.5,429.2 397.5,432.8 398.5,436.3 399.5,439.8 400.5,443 401.5,446 402.5,448.9 403.5,451.6 404.5,454.3 405.5,456.8 406.5,459.3 407.5,461.5 408.5,463.6 409.5,465.6 410.5,467.6 411.5,469.4 412.5,470.9 413.5,472.2 414.5,473.2 415.5,474 416.5,474.8 417.5,475.5 418.5,476.2 419.5,476.9 420.5,477.5 421.5,477.9 422.5,478.1 423.5,478.3 424.5,478.4 425.5,478.5 426.5,478.6 427.5,478.7 428.5,478.8 429.5,478.9 430.5,479 431.5,479 432.5,479 433.5,479.1 434.5,479.1 435.5,479.1 436.5,479.1 437.5,479.1 438.5,479.1 439.5,479.2 440.5,479.2 441.5,479.2 442.5,479.2 443.5,479.2 444.5,479.2 445.5,479.3 446.5,479.3 447.5,479.3 448.5,479.3 449.5,479.3 450.5,479.3 451.5,479.4 452.5,479.4 453.5,479.4 454.5,479.4 455.5,479.4 456.5,479.4 457.5,479.5 457.5,479.7 456.5,479.7 455.5,479.7 454.5,479.7 453.5,479.7 452.5,479.6 451.5,479.6 450.5,479.6 449.5,479.6 448.5,479.6 447.5,479.5 446.5,479.5 445.5,479.5 444.5,479.5 443.5,479.5 442.5,479.4 441.5,479.4 440.5,479.4 439.5,479.4 438.5,479.4 437.5,479.3 436.5,479.3 435.5,479.3 434.5,479.3 433.5,479.2 432.5,479.2 431.5,479.2 430.5,479.1 429.5,479.1 428.5,479 427.5,479 426.5,478.9 425.5,478.9 424.5,478.8 423.5,478.7 422.5,478.7 421.5,478.6 420.5,478.5 419.5,478.5 418.5,478.4 417.5,478.3 416.5,478.2 415.5,478.1 414.5,478 413.5,477.9 412.5,477.8 411.5,477.7 410.5,477.6 409.5,477.5 408.5,477.3 407.5,477.2 406.5,477.1 405.5,476.9 404.5,476.8 403.5,476.6 402.5,476.5 401.5,476.3 400.5,476.2 399.5,476 398.5,475.8 397.5,475.7 396.5,475.5 395.5,475.3 394.5,475.2 393.5,475 392.5,474.8 391.5,474.6 390.5,474.4 389.5,474.2 388.5,474 387.5,473.8 386.5,473.5 385.5,473.3 384.5,473.1 383.5,472.9 382.5,472.6 381.5,472.4 380.5,472.2 379.5,471.9 378.5,471.7 377.5,471.5 376.5,471.2 375.5,471 374.5,470.8 373.5,470.5 372.5,470.3 371.5,470.1 370.5,469.8 369.5,469.6 368.5,469.4 367.5,469.2 366.5,468.9 365.5,468.7 364.5,468.5 363.5,468.3 362.5,468.2 361.5,468 360.5,467.8 359.5,467.7 358.5,467.5 357.5,467.4 356.6,467.3 355.6,467.2 354.6,467 353.6,466.9 352.6,466.8 351.6,466.7 350.6,466.6 349.6,466.5 348.6,466.4 347.6,466.3 346.6,466.2 345.6,466.1 344.6,466 343.6,465.9 342.6,465.8 341.6,465.7 340.6,465.6 339.6,465.6 338.6,465.5 337.6,465.4 336.6,465.3 335.6,465.2 334.6,465.1 333.6,465 332.6,464.9 331.6,464.8 330.6,464.8 329.6,464.7 328.6,464.6 327.6,464.6 326.6,464.5 325.6,464.4 324.6,464.4 323.6,464.3 322.6,464.3 321.6,464.2 320.6,464.2 319.6,464.1 318.6,464.1 317.6,464 316.6,464 315.6,463.9 314.6,463.9 313.6,463.8 312.6,463.8 311.6,463.7 310.6,463.7 309.6,463.6 308.6,463.6 307.6,463.5 306.6,463.5 305.6,463.4 304.6,463.3 303.6,463.3 302.6,463.2 301.6,463.2 300.6,463.1 299.6,463.1 298.6,463 297.6,463 296.6,462.9 295.6,462.9 294.6,462.9 293.6,462.8 292.6,462.8 291.6,462.7 290.6,462.7 289.6,462.7 288.6,462.7 287.6,462.7 286.6,462.6 285.6,462.6 284.6,462.6 283.6,462.6 282.6,462.6 281.6,462.6 280.6,462.6 279.6,462.6 278.6,462.6 277.6,462.6 276.6,462.6 275.6,462.6 274.6,462.6 273.6,462.6 272.6,462.6 271.6,462.6 270.6,462.6 269.6,462.6 268.6,462.6 267.6,462.6 266.6,462.6 265.6,462.6 264.6,462.6 263.6,462.6 262.6,462.6 261.6,462.6 260.6,462.6 259.6,462.6 258.6,462.6 257.6,462.6 256.6,462.6Z" fill="#7373c3" fill-opacity="0.5" stroke="none"/>
<path d="M256.6,462.6 257.6,462.6 258.6,462.6 259.6,462.6 260.6,462.6 261.6,462.6 262.6,462.6 263.6,462.6 264.6,462.6 265.6,462.6 266.6,462.6 267.6,462.6 268.6,462.6 269.6,462.6 270.6,462.6 271.6,462.6 272.6,462.6 273.6,462.6 274.6,462.6 275.6,462.6 276.6,462.6 277.6,462.6 278.6,462.6 279.6,462.6 280.6,462.6 281.6,462.6 282.6,462.6 283.6,462.6 284.6,462.6 285.6,462.6 286.6,462.6 287.6,462.7 288.6,462.7 289.6,462.7 290.6,462.7 291.6,462.7 292.6,462.8 293.6,462.8 294.6,462.9 295.6,462.9 296.6,462.9 297.6,463 298.6,463 299.6,463.1 300.6,463.1 301.6,463.2 302.6,463.2 303.6,463.3 304.6,463.3 305.6,463.4 306.6,463.5 307.6,463.5 308.6,463.6 309.6,463.6 310.6,463.7 311.6,463.7 312.6,463.8 313.6,463.8 314.6,463.9 315.6,463.9 316.6,464 317.6,464 318.6,464.1 319.6,464.1 320.6,464.2 321.6,464.2 322.6,464.3 323.6,464.3 324.6,464.4 325.6,464.4 326.6,464.5 327.6,464.6 328.6,464.6 329.6,464.7 330.6,464.8 331.6,464.8 332.6,464.9 333.6,465 334.6,465.1 335.6,465.2 336.6,465.3 337.6,465.4 338.6,465.5 339.6,465.6 340.6,465.6 341.6,465.7 342.6,465.8 343.6,465.9 344.6,466 345.6,466.1 346.6,466.2 347.6,466.3 348.6,466.4 349.6,466.5 350.6,466.6 351.6,466.7 352.6,466.8 353.6,466.9 354.6,467 355.6,467.2 356.6,467.3 357.5,467.4 358.5,467.5 359.5,467.7 360.5,467.8 361.5,468 362.5,468.2 363.5,468.3 364.5,468.5 365.5,468.7 366.5,468.9 367.5,469.2 368.5,469.4 369.5,469.6 370.5,469.8 371.5,470.1 372.5,470.3 373.5,470.5 374.5,470.8 375.5,471 376.5,471.2 377.5,471.5 378.5,471.7 379.5,471.9 380.5,472.2 381.5,472.4 382.5,472.6 383.5,472.9 384.5,473.1 385.5,473.3 386.5,473.5 387.5,473.8 388.5,474 389.5,474.2 390.5,474.4 391.5,474.6 392.5,474.8 393.5,475 394.5,475.2 395.5,475.3 396.5,475.5 397.5,475.7 398.5,475.8 399.5,476 400.5,476.2 401.5,476.3 402.5,476.5 403.5,476.6 404.5,476.8 405.5,476.9 406.5,477.1 407.5,477.2 408.5,477.3 409.5,477.5 410.5,477.6 411.5,477.7 412.5,477.8 413.5,477.9 414.5,478 415.5,478.1 416.5,478.2 417.5,478.3 418.5,478.4 419.5,478.5 420.5,478.5 421.5,478.6 422.5,478.7 423.5,478.7 424.5,478.8 425.5,478.9 426.5,478.9 427.5,479 428.5,479 429.5,479.1 430.5,479.1 431.5,479.2 432.5,479.2 433.5,479.2 434.5,479.3 435.5,479.3 436.5,479.3 437.5,479.3 438.5,479.4 439.5,479.4 440.5,479.4 441.5,479.4 442.5,479.4 443.5,479.5 444.5,479.5 445.5,479.5 446.5,479.5 447.5,479.5 448.5,479.6 449.5,479.6 450.5,479.6 451.5,479.6 452.5,479.6 453.5,479.7 454.5,479.7 455.5,479.7 456.5,479.7 457.5,479.7" fill="none" stroke="#6a5ab0" stroke-width="0.6" stroke-opacity="1.0" stroke-linejoin="round"/>
<path d="M256.6,462.4 257.6,462.4 258.6,462.4 259.6,462.4 260.6,462.4 261.6,462.4 262.6,462.4 263.6,462.4 264.6,462.4 265.6,462.4 266.6,462.4 267.6,462.4 268.6,462.4 269.6,462.4 270.6,462.4 271.6,462.4 272.6,462.4 273.6,462.4 274.6,462.4 275.6,462.4 276.6,462.3 277.6,462.3 278.6,462.3 279.6,462.3 280.6,462.3 281.6,462.3 282.6,462.3 283.6,462.3 284.6,462.3 285.6,462.3 286.6,462.3 287.6,462.3 288.6,462.3 289.6,462.3 290.6,462.4 291.6,462.4 292.6,462.4 293.6,462.4 294.6,462.5 295.6,462.5 296.6,462.5 297.6,462.6 298.6,462.6 299.6,462.6 300.6,462.7 301.6,462.7 302.6,462.7 303.6,462.8 304.6,462.8 305.6,462.8 306.6,462.9 307.6,462.9 308.6,462.9 309.6,463 310.6,463 311.6,463 312.6,463 313.6,463.1 314.6,463.1 315.6,463.1 316.6,463.1 317.6,463.1 318.6,463.1 319.6,463.1 320.6,463.1 321.6,463.1 322.6,463 323.6,462.9 324.6,462.9 325.6,462.8 326.6,462.6 327.6,462.5 328.6,462.3 329.6,462 330.6,461.7 331.6,461.3 332.6,460.8 333.6,460.3 334.6,459.6 335.6,458.8 336.6,457.9 337.6,456.9 338.6,455.7 339.6,454.3 340.6,452.8 341.6,451.1 342.6,449.2 343.6,447.1 344.6,444.8 345.6,442.4 346.6,439.8 347.6,437 348.6,434.1 349.6,431.1 350.6,428.1 351.6,425 352.6,422 353.6,419 354.6,416.2 355.6,413.5 356.6,411 357.5,408.8 358.5,407 359.5,405.5 360.5,404.5 361.5,403.9 362.5,403.9 363.5,404.2 364.5,405.1 365.5,406.5 366.5,408.2 367.5,410.4 368.5,412.9 369.5,415.6 370.5,418.6 371.5,421.8 372.5,425.1 373.5,428.5 374.5,431.9 375.5,435.3 376.5,438.6 377.5,441.8 378.5,444.9 379.5,447.9 380.5,450.7 381.5,453.3 382.5,455.7 383.5,458 384.5,460.1 385.5,461.9 386.5,463.6 387.5,465.2 388.5,466.5 389.5,467.8 390.5,468.8 391.5,469.8 392.5,470.6 393.5,471.4 394.5,472 395.5,472.6 396.5,473.1 397.5,473.6 398.5,473.9 399.5,474.3 400.5,474.6 401.5,474.9 402.5,475.2 403.5,475.4 404.5,475.7 405.5,475.9 406.5,476.1 407.5,476.3 408.5,476.5 409.5,476.6 410.5,476.8 411.5,477 412.5,477.1 413.5,477.2 414.5,477.4 415.5,477.5 416.5,477.6 417.5,477.7 418.5,477.8 419.5,477.9 420.5,478 421.5,478.1 422.5,478.2 423.5,478.3 424.5,478.3 425.5,478.4 426.5,478.5 427.5,478.5 428.5,478.6 429.5,478.7 430.5,478.7 431.5,478.8 432.5,478.8 433.5,478.9 434.5,478.9 435.5,478.9 436.5,479 437.5,479 438.5,479 439.5,479.1 440.5,479.1 441.5,479.1 442.5,479.2 443.5,479.2 444.5,479.2 445.5,479.2 446.5,479.3 447.5,479.3 448.5,479.3 449.5,479.3 450.5,479.4 451.5,479.4 452.5,479.4 453.5,479.4 454.5,479.5 455.5,479.5 456.5,479.5 457.5,479.5" fill="none" stroke="#6020b0" stroke-width="0.9" stroke-opacity="1.0" stroke-linejoin="round"/>
<path d="M256.6,462.5 257.6,462.5 258.6,462.5 259.6,462.5 260.6,462.5 261.6,462.5 262.6,462.5 263.6,462.5 264.6,462.5 265.6,462.5 266.6,462.5 267.6,462.5 268.6,462.5 269.6,462.5 270.6,462.5 271.6,462.5 272.6,462.5 273.6,462.5 274.6,462.5 275.6,462.5 276.6,462.5 277.6,462.5 278.6,462.5 279.6,462.5 280.6,462.5 281.6,462.5 282.6,462.5 283.6,462.5 284.6,462.5 285.6,462.5 286.6,462.5 287.6,462.5 288.6,462.5 289.6,462.5 290.6,462.6 291.6,462.6 292.6,462.6 293.6,462.7 294.6,462.7 295.6,462.7 296.6,462.8 297.6,462.8 298.6,462.9 299.6,462.9 300.6,463 301.6,463 302.6,463.1 303.6,463.1 304.6,463.2 305.6,463.2 306.6,463.2 307.6,463.3 308.6,463.3 309.6,463.4 310.6,463.4 311.6,463.5 312.6,463.5 313.6,463.6 314.6,463.6 315.6,463.7 316.6,463.7 317.6,463.7 318.6,463.8 319.6,463.8 320.6,463.9 321.6,463.9 322.6,464 323.6,464 324.6,464 325.6,464.1 326.6,464.1 327.6,464.2 328.6,464.2 329.6,464.3 330.6,464.4 331.6,464.4 332.6,464.5 333.6,464.5 334.6,464.6 335.6,464.7 336.6,464.8 337.6,464.8 338.6,464.9 339.6,465 340.6,465.1 341.6,465.1 342.6,465.2 343.6,465.3 344.6,465.3 345.6,465.4 346.6,465.5 347.6,465.5 348.6,465.6 349.6,465.6 350.6,465.6 351.6,465.6 352.6,465.6 353.6,465.6 354.6,465.6 355.6,465.5 356.6,465.4 357.5,465.3 358.5,465.1 359.5,464.8 360.5,464.5 361.5,464 362.5,463.5 363.5,462.8 364.5,462 365.5,461 366.5,459.9 367.5,458.5 368.5,456.9 369.5,455.1 370.5,453.1 371.5,450.8 372.5,448.3 373.5,445.6 374.5,442.7 375.5,439.7 376.5,436.5 377.5,433.3 378.5,430 379.5,426.9 380.5,423.8 381.5,420.9 382.5,418.3 383.5,416.1 384.5,414.3 385.5,413 386.5,412.3 387.5,412.1 388.5,412.5 389.5,413.5 390.5,415.1 391.5,417.1 392.5,419.7 393.5,422.6 394.5,425.7 395.5,429.2 396.5,432.7 397.5,436.3 398.5,440 399.5,443.6 400.5,447 401.5,450.4 402.5,453.5 403.5,456.5 404.5,459.2 405.5,461.7 406.5,463.9 407.5,466 408.5,467.7 409.5,469.3 410.5,470.7 411.5,471.9 412.5,472.9 413.5,473.8 414.5,474.5 415.5,475.1 416.5,475.6 417.5,476.1 418.5,476.4 419.5,476.8 420.5,477 421.5,477.2 422.5,477.4 423.5,477.6 424.5,477.8 425.5,477.9 426.5,478 427.5,478.1 428.5,478.2 429.5,478.3 430.5,478.4 431.5,478.5 432.5,478.5 433.5,478.6 434.5,478.7 435.5,478.7 436.5,478.8 437.5,478.8 438.5,478.9 439.5,478.9 440.5,478.9 441.5,479 442.5,479 443.5,479 444.5,479.1 445.5,479.1 446.5,479.1 447.5,479.2 448.5,479.2 449.5,479.2 450.5,479.3 451.5,479.3 452.5,479.3 453.5,479.4 454.5,479.4 455.5,479.4 456.5,479.4 457.5,479.5" fill="none" stroke="#6020b0" stroke-width="0.9" stroke-opacity="1.0" stroke-linejoin="round"/>
<path d="M256.6,462.5 257.6,462.5 258.6,462.5 259.6,462.5 260.6,462.5 261.6,462.5 262.6,462.5 263.6,462.5 264.6,462.5 265.6,462.5 266.6,462.5 267.6,462.5 268.6,462.5 269.6,462.5 270.6,462.5 271.6,462.5 272.6,462.5 273.6,462.5 274.6,462.5 275.6,462.5 276.6,462.5 277.6,462.5 278.6,462.5 279.6,462.5 280.6,462.5 281.6,462.5 282.6,462.5 283.6,462.5 284.6,462.5 285.6,462.5 286.6,462.5 287.6,462.5 288.6,462.5 289.6,462.5 290.6,462.6 291.6,462.6 292.6,462.6 293.6,462.7 294.6,462.7 295.6,462.7 296.6,462.8 297.6,462.8 298.6,462.8 299.6,462.9 300.6,462.9 301.6,463 302.6,463 303.6,463 304.6,463.1 305.6,463.1 306.6,463.1 307.6,463.2 308.6,463.2 309.6,463.2 310.6,463.2 311.6,463.2 312.6,463.2 313.6,463.1 314.6,463.1 315.6,463 316.6,462.9 317.6,462.7 318.6,462.5 319.6,462.3 320.6,462 321.6,461.6 322.6,461.2 323.6,460.7 324.6,460.1 325.6,459.5 326.6,458.7 327.6,457.9 328.6,457 329.6,456 330.6,455 331.6,453.9 332.6,452.8 333.6,451.6 334.6,450.5 335.6,449.4 336.6,448.4 337.6,447.5 338.6,446.7 339.6,446.1 340.6,445.6 341.6,445.4 342.6,445.3 343.6,445.5 344.6,445.9 345.6,446.5 346.6,447.3 347.6,448.2 348.6,449.3 349.6,450.5 350.6,451.7 351.6,453 352.6,454.3 353.6,455.6 354.6,456.9 355.6,458.1 356.6,459.3 357.5,460.5 358.5,461.5 359.5,462.5 360.5,463.4 361.5,464.2 362.5,464.9 363.5,465.6 364.5,466.2 365.5,466.8 366.5,467.3 367.5,467.8 368.5,468.2 369.5,468.6 370.5,469 371.5,469.4 372.5,469.7 373.5,470 374.5,470.3 375.5,470.6 376.5,470.8 377.5,471.1 378.5,471.4 379.5,471.6 380.5,471.9 381.5,472.1 382.5,472.4 383.5,472.6 384.5,472.9 385.5,473.1 386.5,473.3 387.5,473.6 388.5,473.8 389.5,474 390.5,474.2 391.5,474.4 392.5,474.6 393.5,474.8 394.5,475 395.5,475.2 396.5,475.4 397.5,475.5 398.5,475.7 399.5,475.9 400.5,476 401.5,476.2 402.5,476.4 403.5,476.5 404.5,476.7 405.5,476.8 406.5,477 407.5,477.1 408.5,477.2 409.5,477.4 410.5,477.5 411.5,477.6 412.5,477.7 413.5,477.9 414.5,478 415.5,478.1 416.5,478.1 417.5,478.2 418.5,478.3 419.5,478.4 420.5,478.5 421.5,478.5 422.5,478.6 423.5,478.7 424.5,478.7 425.5,478.8 426.5,478.9 427.5,478.9 428.5,479 429.5,479 430.5,479.1 431.5,479.1 432.5,479.2 433.5,479.2 434.5,479.2 435.5,479.2 436.5,479.3 437.5,479.3 438.5,479.3 439.5,479.3 440.5,479.4 441.5,479.4 442.5,479.4 443.5,479.4 444.5,479.4 445.5,479.5 446.5,479.5 447.5,479.5 448.5,479.5 449.5,479.6 450.5,479.6 451.5,479.6 452.5,479.6 453.5,479.6 454.5,479.6 455.5,479.7 456.5,479.7 457.5,479.7" fill="none" stroke="#3535ee" stroke-width="0.9" stroke-opacity="1.0" stroke-linejoin="round"/>
<path d="M256.6,462.5 257.6,462.5 258.6,462.5 259.6,462.5 260.6,462.5 261.6,462.5 262.6,462.5 263.6,462.5 264.6,462.5 265.6,462.5 266.6,462.5 267.6,462.5 268.6,462.5 269.6,462.5 270.6,462.5 271.6,462.5 272.6,462.5 273.6,462.5 274.6,462.5 275.6,462.4 276.6,462.4 277.6,462.4 278.6,462.4 279.6,462.4 280.6,462.4 281.6,462.4 282.6,462.4 283.6,462.3 284.6,462.3 285.6,462.3 286.6,462.3 287.6,462.2 288.6,462.2 289.6,462.1 290.6,462.1 291.6,462 292.6,461.9 293.6,461.7 294.6,461.6 295.6,461.4 296.6,461.2 297.6,460.9 298.6,460.6 299.6,460.3 300.6,459.9 301.6,459.5 302.6,459 303.6,458.5 304.6,457.9 305.6,457.3 306.6,456.7 307.6,456 308.6,455.4 309.6,454.7 310.6,454 311.6,453.4 312.6,452.9 313.6,452.3 314.6,451.9 315.6,451.6 316.6,451.3 317.6,451.2 318.6,451.2 319.6,451.3 320.6,451.5 321.6,451.8 322.6,452.3 323.6,452.8 324.6,453.4 325.6,454.1 326.6,454.9 327.6,455.6 328.6,456.4 329.6,457.2 330.6,457.9 331.6,458.7 332.6,459.4 333.6,460.1 334.6,460.8 335.6,461.4 336.6,462 337.6,462.6 338.6,463 339.6,463.5 340.6,463.9 341.6,464.2 342.6,464.6 343.6,464.9 344.6,465.1 345.6,465.4 346.6,465.6 347.6,465.8 348.6,465.9 349.6,466.1 350.6,466.3 351.6,466.4 352.6,466.5 353.6,466.7 354.6,466.8 355.6,466.9 356.6,467.1 357.5,467.2 358.5,467.3 359.5,467.5 360.5,467.7 361.5,467.8 362.5,468 363.5,468.2 364.5,468.4 365.5,468.6 366.5,468.8 367.5,469 368.5,469.3 369.5,469.5 370.5,469.7 371.5,470 372.5,470.2 373.5,470.4 374.5,470.7 375.5,470.9 376.5,471.1 377.5,471.4 378.5,471.6 379.5,471.9 380.5,472.1 381.5,472.3 382.5,472.6 383.5,472.8 384.5,473 385.5,473.3 386.5,473.5 387.5,473.7 388.5,473.9 389.5,474.1 390.5,474.3 391.5,474.6 392.5,474.7 393.5,474.9 394.5,475.1 395.5,475.3 396.5,475.5 397.5,475.6 398.5,475.8 399.5,476 400.5,476.1 401.5,476.3 402.5,476.4 403.5,476.6 404.5,476.7 405.5,476.9 406.5,477 407.5,477.2 408.5,477.3 409.5,477.4 410.5,477.6 411.5,477.7 412.5,477.8 413.5,477.9 414.5,478 415.5,478.1 416.5,478.2 417.5,478.3 418.5,478.4 419.5,478.4 420.5,478.5 421.5,478.6 422.5,478.6 423.5,478.7 424.5,478.8 425.5,478.8 426.5,478.9 427.5,479 428.5,479 429.5,479.1 430.5,479.1 431.5,479.1 432.5,479.2 433.5,479.2 434.5,479.2 435.5,479.3 436.5,479.3 437.5,479.3 438.5,479.3 439.5,479.4 440.5,479.4 441.5,479.4 442.5,479.4 443.5,479.5 444.5,479.5 445.5,479.5 446.5,479.5 447.5,479.5 448.5,479.6 449.5,479.6 450.5,479.6 451.5,479.6 452.5,479.6 453.5,479.6 454.5,479.7 455.5,479.7 456.5,479.7 457.5,479.7" fill="none" stroke="#8a5ad0" stroke-width="0.7" stroke-opacity="1.0" stroke-linejoin="round"/>
<path d="M256.6,462.2 257.6,462.2 258.6,462.2 259.6,462.2 260.6,462.2 261.6,462.2 262.6,462.2 263.6,462.2 264.6,462.1 265.6,462.1 266.6,462.1 267.6,462.1 268.6,462.1 269.6,462.1 270.6,462.1 271.6,462.1 272.6,462.1 273.6,462.1 274.6,462.1 275.6,462.1 276.6,462.1 277.6,462.1 278.6,462 279.6,462 280.6,462 281.6,462 282.6,462 283.6,462 284.6,462 285.6,461.9 286.6,461.9 287.6,461.8 288.6,461.7 289.6,461.5 290.6,461.3 291.6,460.9 292.6,460.6 293.6,460.2 294.6,459.8 295.6,459.4 296.6,459 297.6,458.6 298.6,458.1 299.6,457.7 300.6,457.3 301.6,456.8 302.6,456.3 303.6,455.8 304.6,455.3 305.6,454.8 306.6,454.3 307.6,453.8 308.6,453.3 309.6,452.8 310.6,452.2 311.6,451.6 312.6,450.9 313.6,450.2 314.6,449.5 315.6,448.8 316.6,448.1 317.6,447.5 318.6,446.8 319.6,446.1 320.6,445.5 321.6,444.9 322.6,444.4 323.6,443.9 324.6,443.4 325.6,442.9 326.6,442.4 327.6,441.9 328.6,441.3 329.6,440.8 330.6,440.1 331.6,439.4 332.6,438.5 333.6,437.5 334.6,436.5 335.6,435.5 336.6,434.5 337.6,433.5 338.6,432.4 339.6,431.4 340.6,430.2 341.6,428.9 342.6,427.5 343.6,425.9 344.6,424.3 345.6,422.7 346.6,421.1 347.6,419.4 348.6,417.7 349.6,415.7 350.6,413.6 351.6,411.4 352.6,409 353.6,406.7 354.6,404.4 355.6,402.3 356.6,400.2 357.5,398.3 358.5,396.4 359.5,394.8 360.5,393.5 361.5,392.7 362.5,392.3 363.5,392.1 364.5,392.3 365.5,392.7 366.5,393.4 367.5,394.3 368.5,395.3 369.5,396.3 370.5,397.6 371.5,398.9 372.5,400.3 373.5,401.7 374.5,402.9 375.5,404 376.5,404.6 377.5,404.9 378.5,405.1 379.5,405.1 380.5,405 381.5,404.9 382.5,404.6 383.5,404.3 384.5,404.1 385.5,404.1 386.5,404.4 387.5,405.1 388.5,406.2 389.5,407.7 390.5,409.8 391.5,412.4 392.5,415.4 393.5,418.7 394.5,422.1 395.5,425.6 396.5,429.2 397.5,432.8 398.5,436.3 399.5,439.8 400.5,443 401.5,446 402.5,448.9 403.5,451.6 404.5,454.3 405.5,456.8 406.5,459.3 407.5,461.5 408.5,463.6 409.5,465.6 410.5,467.6 411.5,469.4 412.5,470.9 413.5,472.2 414.5,473.2 415.5,474 416.5,474.8 417.5,475.5 418.5,476.2 419.5,476.9 420.5,477.5 421.5,477.9 422.5,478.1 423.5,478.3 424.5,478.4 425.5,478.5 426.5,478.6 427.5,478.7 428.5,478.8 429.5,478.9 430.5,479 431.5,479 432.5,479 433.5,479.1 434.5,479.1 435.5,479.1 436.5,479.1 437.5,479.1 438.5,479.1 439.5,479.2 440.5,479.2 441.5,479.2 442.5,479.2 443.5,479.2 444.5,479.2 445.5,479.3 446.5,479.3 447.5,479.3 448.5,479.3 449.5,479.3 450.5,479.3 451.5,479.4 452.5,479.4 453.5,479.4 454.5,479.4 455.5,479.4 456.5,479.4 457.5,479.5" fill="none" stroke="#15152a" stroke-width="1.3" stroke-opacity="1.0" stroke-linejoin="round"/>
</g>
<rect x="260.9" y="394.1" width="24" height="11.7" fill="#7373c3" fill-opacity="0.5"/>
<text x="288.60" y="403.20" font-size="10.6" fill="#1a1a1a">Co</text>
<rect x="302.60" y="393.90" width="0.9" height="5.50" fill="#ff2a2a"/>
<rect x="304.45" y="393.90" width="0.9" height="5.50" fill="#ff2a2a"/>
<text x="306.75" y="403.20" font-size="10.6" fill="#1a1a1a">Cr</text>
<text x="317.94" y="407.00" font-size="7" fill="#1a1a1a">2</text>
<rect x="318.39" y="393.90" width="0.9" height="5.50" fill="#ff2a2a"/>
<rect x="320.24" y="393.90" width="0.9" height="5.50" fill="#ff2a2a"/>
<rect x="322.09" y="393.90" width="0.9" height="5.50" fill="#ff2a2a"/>
<text x="324.39" y="403.20" font-size="10.6" fill="#1a1a1a">O</text>
<text x="332.63" y="407.00" font-size="7" fill="#1a1a1a">4</text>
<g clip-path="url(#c12t)">
<polyline points="483.8,371.3 484.4,372.2 485.1,372.4 485.7,372.6 486.4,372.9 486.8,372.5 487.3,373.2 487.9,371.8 489.1,373.8 489.5,372.6 489.9,373.7 490.4,372.9 491.1,372.8 491.9,373 492.5,373.3 493.3,372.1 493.8,372.4 494.3,372.1 495.4,374.1 495.8,372.8 496.2,372.9 496.7,373.4 497.7,371.7 498.1,373.6 499.1,372.8 499.3,372.8 500.3,370.9 500.6,373.2 501,372 501.8,371.9 502.3,371.9 503.3,374.4 503.6,372.8 504.2,373.1 505.2,373.2 505.6,373.6 506.1,372.8 507,372.4 507.3,372.4 508,373 509.1,373 509.7,372.2 509.9,371.7 510.8,373.6 511.1,373.3 511.8,372.8 512.7,372.5 512.9,373.3 513.6,372.3 514.5,372.5 515,371.1 515.7,373.3 516.3,373.1 516.7,372.5 517.8,373 518,372.3 518.9,373.2 519.7,372.6 520.3,372.2 520.4,372.4 521,373.3 522,372.7 522.4,373.2 523,372 523.6,372.8 524.3,372.5 525.1,373.4 525.5,372 526.5,372.8 526.8,372.9 527.5,373.2 528.1,373 528.8,373.2 529.6,373.3 530.3,372.2 530.7,371.9 531.1,372.9 532.2,372.8 532.7,372.9 533.2,372.8 533.8,372.7 534.7,372.2 534.8,371.7 535.9,372.5 536.4,372.4 537.2,371.6 537.4,372.2 538.4,371.4 538.7,373.1 539.5,371.4 540.1,372 540.7,373.2 541,371.1 542.1,370.6 542.7,371.3 543.2,372.7 543.7,372 544.6,371.4 544.7,371 545.5,371 546.4,370.3 547.2,371.1 547.4,371.6 548.3,370.8 548.6,371.4 549.5,371.8 550,370.8 550.8,369.8 551.1,368.9 552.2,370.3 552.8,369 553,370.2 553.6,368.1 554.6,369.2 555.2,369.6 555.5,368.8 556.2,368.7 556.8,369.1 557.6,367.7 558.4,368 559.1,367.3 559.1,367.6 560.2,368 560.7,367 561.2,366.5 561.7,366 562.5,367 563,365.6 563.6,366 564.4,364.9 565.1,363.5 565.9,362.7 566.4,363.7 566.7,364.1 567.2,361.9 568,362.8 568.6,361.6 569.4,362.7 570.1,361.4 570.8,360.3 571.5,362 572,361.1 572.3,359.2 573.4,359.8 573.7,358 574.6,358.2 575.3,357.4 575.5,358.6 576.4,358.2 577,356.5 577.3,358.8 578.4,355.5 578.8,356.6 579.6,355.4 580.2,355.4 580.6,355.6 581.3,355.1 581.6,354 582.7,355.3 582.9,354.5 583.7,353.7 584.2,352.9 585,352.6 585.8,351 586.5,350.2 586.6,351.9 587.3,350.8 588.3,350.7 588.8,349.1 589.4,349.9 589.9,348.8 590.9,349.9 591.1,349.9 591.9,346.5 592.6,347.6 593.1,347.5 593.8,347.7 594.4,345.5 594.9,344.7 595.6,342.5 596.4,342.8 596.8,341.3 597.8,338.8 598.1,337 598.5,334.6 599.6,332 600,329.8 600.7,327.4 601.5,324.4 601.6,324.1 602.3,320.2 603,318 603.7,313.8 604.5,309.9 604.8,308.5 605.4,306.2 606.3,302.7 606.8,301.9 607.5,300.1 608.2,298.8 608.8,296.2 609.4,296.7 610.2,297.1 610.8,298.5 611.5,298.1 612.1,300.3 612.3,301.7 612.9,301.9 613.6,304.3 614.1,306 615.2,310.5 615.4,313.2 616.2,316.9 616.7,319.6 617.6,326.5 617.9,325.6 618.7,331.4 619.5,334.6 619.8,337.4 620.3,340.1 621.3,343.5 621.7,346 622.3,349.1 623.4,354 624,354.8 624.6,356.7 625,357.5 625.6,358.5 626.3,359.6 626.6,361.5 627.6,363 628.1,363 628.9,364 629.2,365 630,367.2 630.8,366.8 631.4,368 631.8,367.1 632.5,366.6 633.3,369.1 633.6,370.3 634.5,369.2 635.2,368.9 635.8,371.2 636.4,370.7 636.8,369.5 637.6,371.6 638.1,371.4 638.4,370.7 639.4,372.4 639.8,372.8 640.5,371.7 641.3,371.6 641.8,372.1 642.8,372.2 643.3,372.2 644,374.2 644.5,373.6 644.8,373.3 645.4,373.8 646.2,374.2 647.1,374.2 647.5,372.2 648.1,374 649,373.3 649.1,373.2 650,374.3 650.9,374.2 651,374 651.9,374.6 652.5,376.2 653.1,375.3 653.7,374.2 654.2,374.4 655.1,374.4 655.7,374.8 656.1,375.6 656.6,375.1 657.3,375.2 658.3,374.6 658.9,377.3 659.6,376.1 659.7,376.1 660.6,375.1 661.5,375.6 662.1,376.5 662.6,373.7 663.3,376 663.8,376.4 664.3,376.4 664.8,376.6 665.4,376 666.2,375.4 666.7,375.2 667.5,374.8 668.1,376.5 669,377 669.2,375.6 669.7,376.9 670.7,375.3 671.1,375.9 671.9,377.1 672.5,375.3 672.9,375.3 673.6,377.7 674.6,376 674.7,376.8 675.5,376.5 676.3,377 676.6,376.9 677.2,376 678.2,375.6 678.6,376 679.2,376.5 680.1,376.7 680.4,376.3 681.4,375.7 681.7,375.7 682.4,376.6 683,377.9" fill="none" stroke="none" marker-start="url(#m2)" marker-mid="url(#m2)" marker-end="url(#m2)"/>
<path d="M483.5,373 484.5,373 485.5,373 486.5,373 487.5,373 488.5,373 489.5,373 490.5,373 491.5,373 492.5,373 493.5,373 494.5,373 495.5,373 496.5,373 497.5,373 498.5,373 499.5,373 500.5,373 501.5,373 502.5,373 503.5,373 504.5,373 505.5,373 506.5,373 507.5,373 508.5,373 509.5,373 510.5,373 511.5,373 512.5,373 513.5,373 514.5,373 515.5,373 516.5,373 517.5,373 518.5,373 519.5,373 520.5,373.1 521.5,373.1 522.5,373.1 523.5,373.1 524.5,373.1 525.5,373.1 526.5,373.1 527.5,373.1 528.5,373.1 529.5,373.1 530.5,373.1 531.5,373.1 532.5,373.1 533.5,373.1 534.5,373.1 535.5,373.1 536.5,373.1 537.5,373.1 538.5,373.1 539.5,373.1 540.5,373.1 541.5,373.1 542.5,373.1 543.5,373.1 544.5,373.1 545.5,373.1 546.5,373.1 547.5,373.1 548.5,373.1 549.5,373.1 550.5,373.1 551.5,373.1 552.5,373.1 553.5,373.1 554.5,373.1 555.5,373.1 556.5,373.1 557.5,373.1 558.5,373.1 559.5,373.1 560.5,373.1 561.5,373.1 562.5,373.1 563.5,373.1 564.5,373.1 565.5,373.1 566.5,373.1 567.5,373.1 568.5,373.1 569.5,373.1 570.5,373.1 571.5,373.1 572.5,373.2 573.5,373.2 574.5,373.2 575.5,373.2 576.5,373.2 577.5,373.2 578.5,373.2 579.5,373.1 580.5,373.1 581.5,373.1 582.5,373.1 583.5,373.1 584.4,373.1 585.4,373 586.4,373 587.4,373 588.4,372.9 589.4,372.8 590.4,372.7 591.4,372.5 592.4,372.2 593.4,371.7 594.4,371.1 595.4,370.2 596.4,369 597.4,367.3 598.4,365.1 599.4,362.2 600.4,358.7 601.4,354.4 602.4,349.5 603.4,344 604.4,338.3 605.4,332.5 606.4,327 607.4,322.3 608.4,318.7 609.4,316.7 610.4,316.4 611.4,317.9 612.4,321.1 613.4,325.5 614.4,330.8 615.4,336.6 616.4,342.4 617.4,348 618.4,353.2 619.4,357.7 620.4,361.6 621.4,364.7 622.4,367.2 623.4,369.1 624.4,370.5 625.4,371.6 626.4,372.3 627.4,372.9 628.4,373.2 629.4,373.5 630.4,373.7 631.4,373.9 632.4,374 633.4,374.1 634.4,374.2 635.4,374.3 636.4,374.4 637.4,374.5 638.4,374.6 639.4,374.6 640.4,374.7 641.4,374.8 642.4,374.8 643.4,374.9 644.4,375 645.4,375 646.4,375.1 647.4,375.1 648.4,375.2 649.4,375.2 650.4,375.3 651.4,375.4 652.4,375.4 653.4,375.5 654.4,375.5 655.4,375.6 656.4,375.6 657.4,375.7 658.4,375.7 659.4,375.7 660.4,375.8 661.4,375.8 662.4,375.9 663.4,375.9 664.4,376 665.4,376 666.4,376.1 667.4,376.1 668.4,376.2 669.4,376.2 670.4,376.3 671.4,376.3 672.4,376.3 673.4,376.4 674.4,376.4 675.4,376.5 676.4,376.5 677.4,376.6 678.4,376.6 679.4,376.6 680.4,376.7 681.4,376.7 682.4,376.7 683.4,376.8 683.4,376.8 682.4,376.8 681.4,376.8 680.4,376.7 679.4,376.7 678.4,376.7 677.4,376.6 676.4,376.6 675.4,376.6 674.4,376.5 673.4,376.5 672.4,376.4 671.4,376.4 670.4,376.4 669.4,376.3 668.4,376.3 667.4,376.2 666.4,376.2 665.4,376.2 664.4,376.1 663.4,376.1 662.4,376 661.4,376 660.4,376 659.4,375.9 658.4,375.9 657.4,375.8 656.4,375.8 655.4,375.7 654.4,375.7 653.4,375.7 652.4,375.6 651.4,375.6 650.4,375.5 649.4,375.5 648.4,375.5 647.4,375.4 646.4,375.4 645.4,375.3 644.4,375.3 643.4,375.3 642.4,375.2 641.4,375.2 640.4,375.1 639.4,375.1 638.4,375.1 637.4,375 636.4,375 635.4,374.9 634.4,374.9 633.4,374.8 632.4,374.8 631.4,374.8 630.4,374.7 629.4,374.7 628.4,374.6 627.4,374.6 626.4,374.6 625.4,374.5 624.4,374.5 623.4,374.5 622.4,374.4 621.4,374.4 620.4,374.4 619.4,374.3 618.4,374.3 617.4,374.3 616.4,374.3 615.4,374.2 614.4,374.2 613.4,374.2 612.4,374.2 611.4,374.1 610.4,374.1 609.4,374.1 608.4,374.1 607.4,374.1 606.4,374.1 605.4,374 604.4,374 603.4,374 602.4,374 601.4,374 600.4,373.9 599.4,373.9 598.4,373.9 597.4,373.9 596.4,373.9 595.4,373.8 594.4,373.8 593.4,373.8 592.4,373.8 591.4,373.8 590.4,373.8 589.4,373.7 588.4,373.7 587.4,373.7 586.4,373.7 585.4,373.7 584.4,373.6 583.5,373.6 582.5,373.6 581.5,373.6 580.5,373.6 579.5,373.6 578.5,373.5 577.5,373.5 576.5,373.5 575.5,373.5 574.5,373.5 573.5,373.4 572.5,373.4 571.5,373.4 570.5,373.4 569.5,373.4 568.5,373.4 567.5,373.3 566.5,373.3 565.5,373.3 564.5,373.3 563.5,373.3 562.5,373.3 561.5,373.3 560.5,373.2 559.5,373.2 558.5,373.2 557.5,373.2 556.5,373.2 555.5,373.2 554.5,373.2 553.5,373.2 552.5,373.2 551.5,373.2 550.5,373.2 549.5,373.2 548.5,373.2 547.5,373.2 546.5,373.2 545.5,373.2 544.5,373.2 543.5,373.2 542.5,373.2 541.5,373.2 540.5,373.2 539.5,373.1 538.5,373.1 537.5,373.1 536.5,373.1 535.5,373.1 534.5,373.1 533.5,373.1 532.5,373.1 531.5,373.1 530.5,373.1 529.5,373.1 528.5,373.1 527.5,373.1 526.5,373.1 525.5,373.1 524.5,373.1 523.5,373.1 522.5,373.1 521.5,373.1 520.5,373.1 519.5,373.1 518.5,373.1 517.5,373.1 516.5,373.1 515.5,373.1 514.5,373.1 513.5,373.1 512.5,373.1 511.5,373.1 510.5,373.1 509.5,373.1 508.5,373.1 507.5,373.1 506.5,373.1 505.5,373.1 504.5,373.1 503.5,373.1 502.5,373.1 501.5,373.1 500.5,373.1 499.5,373 498.5,373 497.5,373 496.5,373 495.5,373 494.5,373 493.5,373 492.5,373 491.5,373 490.5,373 489.5,373 488.5,373 487.5,373 486.5,373 485.5,373 484.5,373 483.5,373Z" fill="#1e32f5" fill-opacity="0.5" stroke="#2040ff" stroke-width="0.8"/>
<path d="M483.5,372.9 484.5,372.9 485.5,372.9 486.5,372.9 487.5,372.9 488.5,372.9 489.5,372.9 490.5,372.9 491.5,372.9 492.5,372.9 493.5,372.9 494.5,372.9 495.5,372.9 496.5,372.9 497.5,372.9 498.5,372.9 499.5,372.9 500.5,372.9 501.5,372.9 502.5,372.9 503.5,372.9 504.5,372.9 505.5,372.9 506.5,372.9 507.5,372.9 508.5,372.9 509.5,372.9 510.5,372.9 511.5,372.9 512.5,372.9 513.5,372.9 514.5,372.9 515.5,372.9 516.5,372.9 517.5,372.9 518.5,372.9 519.5,372.9 520.5,372.9 521.5,372.9 522.5,372.9 523.5,372.9 524.5,372.9 525.5,372.9 526.5,372.9 527.5,372.9 528.5,372.9 529.5,372.9 530.5,372.9 531.5,372.9 532.5,372.9 533.5,372.9 534.5,372.8 535.5,372.8 536.5,372.8 537.5,372.8 538.5,372.8 539.5,372.7 540.5,372.7 541.5,372.7 542.5,372.6 543.5,372.6 544.5,372.5 545.5,372.5 546.5,372.4 547.5,372.3 548.5,372.3 549.5,372.2 550.5,372.1 551.5,372 552.5,371.8 553.5,371.7 554.5,371.5 555.5,371.4 556.5,371.2 557.5,371 558.5,370.7 559.5,370.5 560.5,370.2 561.5,369.9 562.5,369.6 563.5,369.3 564.5,368.9 565.5,368.5 566.5,368.1 567.5,367.7 568.5,367.2 569.5,366.7 570.5,366.2 571.5,365.7 572.5,365.1 573.5,364.5 574.5,363.9 575.5,363.2 576.5,362.6 577.5,361.9 578.5,361.2 579.5,360.5 580.5,359.8 581.5,359.1 582.5,358.4 583.5,357.7 584.4,357 585.4,356.4 586.4,355.7 587.4,355.1 588.4,354.5 589.4,353.9 590.4,353.4 591.4,352.9 592.4,352.4 593.4,352 594.4,351.7 595.4,351.4 596.4,351.2 597.4,351 598.4,350.9 599.4,350.9 600.4,351 601.4,351.1 602.4,351.2 603.4,351.5 604.4,351.8 605.4,352.1 606.4,352.6 607.4,353 608.4,353.5 609.4,354.1 610.4,354.7 611.4,355.3 612.4,356 613.4,356.7 614.4,357.4 615.4,358.1 616.4,358.8 617.4,359.6 618.4,360.3 619.4,361.1 620.4,361.8 621.4,362.6 622.4,363.3 623.4,364 624.4,364.7 625.4,365.4 626.4,366 627.4,366.7 628.4,367.3 629.4,367.9 630.4,368.4 631.4,369 632.4,369.5 633.4,370 634.4,370.4 635.4,370.8 636.4,371.2 637.4,371.6 638.4,372 639.4,372.3 640.4,372.6 641.4,372.9 642.4,373.1 643.4,373.4 644.4,373.6 645.4,373.8 646.4,374 647.4,374.2 648.4,374.3 649.4,374.5 650.4,374.6 651.4,374.7 652.4,374.9 653.4,375 654.4,375.1 655.4,375.2 656.4,375.3 657.4,375.3 658.4,375.4 659.4,375.5 660.4,375.6 661.4,375.6 662.4,375.7 663.4,375.8 664.4,375.8 665.4,375.9 666.4,375.9 667.4,376 668.4,376 669.4,376.1 670.4,376.1 671.4,376.2 672.4,376.2 673.4,376.3 674.4,376.3 675.4,376.4 676.4,376.4 677.4,376.5 678.4,376.5 679.4,376.5 680.4,376.6 681.4,376.6 682.4,376.7 683.4,376.7 683.4,376.8 682.4,376.8 681.4,376.8 680.4,376.7 679.4,376.7 678.4,376.7 677.4,376.6 676.4,376.6 675.4,376.6 674.4,376.5 673.4,376.5 672.4,376.4 671.4,376.4 670.4,376.4 669.4,376.3 668.4,376.3 667.4,376.2 666.4,376.2 665.4,376.2 664.4,376.1 663.4,376.1 662.4,376 661.4,376 660.4,376 659.4,375.9 658.4,375.9 657.4,375.8 656.4,375.8 655.4,375.7 654.4,375.7 653.4,375.7 652.4,375.6 651.4,375.6 650.4,375.5 649.4,375.5 648.4,375.5 647.4,375.4 646.4,375.4 645.4,375.3 644.4,375.3 643.4,375.3 642.4,375.2 641.4,375.2 640.4,375.1 639.4,375.1 638.4,375.1 637.4,375 636.4,375 635.4,374.9 634.4,374.9 633.4,374.8 632.4,374.8 631.4,374.8 630.4,374.7 629.4,374.7 628.4,374.6 627.4,374.6 626.4,374.6 625.4,374.5 624.4,374.5 623.4,374.5 622.4,374.4 621.4,374.4 620.4,374.4 619.4,374.3 618.4,374.3 617.4,374.3 616.4,374.3 615.4,374.2 614.4,374.2 613.4,374.2 612.4,374.2 611.4,374.1 610.4,374.1 609.4,374.1 608.4,374.1 607.4,374.1 606.4,374.1 605.4,374 604.4,374 603.4,374 602.4,374 601.4,374 600.4,373.9 599.4,373.9 598.4,373.9 597.4,373.9 596.4,373.9 595.4,373.8 594.4,373.8 593.4,373.8 592.4,373.8 591.4,373.8 590.4,373.8 589.4,373.7 588.4,373.7 587.4,373.7 586.4,373.7 585.4,373.7 584.4,373.6 583.5,373.6 582.5,373.6 581.5,373.6 580.5,373.6 579.5,373.6 578.5,373.5 577.5,373.5 576.5,373.5 575.5,373.5 574.5,373.5 573.5,373.4 572.5,373.4 571.5,373.4 570.5,373.4 569.5,373.4 568.5,373.4 567.5,373.3 566.5,373.3 565.5,373.3 564.5,373.3 563.5,373.3 562.5,373.3 561.5,373.3 560.5,373.2 559.5,373.2 558.5,373.2 557.5,373.2 556.5,373.2 555.5,373.2 554.5,373.2 553.5,373.2 552.5,373.2 551.5,373.2 550.5,373.2 549.5,373.2 548.5,373.2 547.5,373.2 546.5,373.2 545.5,373.2 544.5,373.2 543.5,373.2 542.5,373.2 541.5,373.2 540.5,373.2 539.5,373.1 538.5,373.1 537.5,373.1 536.5,373.1 535.5,373.1 534.5,373.1 533.5,373.1 532.5,373.1 531.5,373.1 530.5,373.1 529.5,373.1 528.5,373.1 527.5,373.1 526.5,373.1 525.5,373.1 524.5,373.1 523.5,373.1 522.5,373.1 521.5,373.1 520.5,373.1 519.5,373.1 518.5,373.1 517.5,373.1 516.5,373.1 515.5,373.1 514.5,373.1 513.5,373.1 512.5,373.1 511.5,373.1 510.5,373.1 509.5,373.1 508.5,373.1 507.5,373.1 506.5,373.1 505.5,373.1 504.5,373.1 503.5,373.1 502.5,373.1 501.5,373.1 500.5,373.1 499.5,373 498.5,373 497.5,373 496.5,373 495.5,373 494.5,373 493.5,373 492.5,373 491.5,373 490.5,373 489.5,373 488.5,373 487.5,373 486.5,373 485.5,373 484.5,373 483.5,373Z" fill="#ff0000" fill-opacity="0.5" stroke="#ff2030" stroke-width="0.8"/>
<path d="M483.5,372.8 484.5,372.8 485.5,372.8 486.5,372.8 487.5,372.8 488.5,372.8 489.5,372.8 490.5,372.8 491.5,372.8 492.5,372.8 493.5,372.8 494.5,372.8 495.5,372.8 496.5,372.8 497.5,372.8 498.5,372.8 499.5,372.8 500.5,372.8 501.5,372.8 502.5,372.8 503.5,372.8 504.5,372.8 505.5,372.8 506.5,372.8 507.5,372.8 508.5,372.8 509.5,372.8 510.5,372.8 511.5,372.8 512.5,372.8 513.5,372.8 514.5,372.8 515.5,372.8 516.5,372.8 517.5,372.8 518.5,372.8 519.5,372.8 520.5,372.8 521.5,372.8 522.5,372.8 523.5,372.8 524.5,372.8 525.5,372.8 526.5,372.8 527.5,372.8 528.5,372.8 529.5,372.8 530.5,372.8 531.5,372.8 532.5,372.8 533.5,372.8 534.5,372.8 535.5,372.8 536.5,372.8 537.5,372.8 538.5,372.8 539.5,372.7 540.5,372.6 541.5,372.4 542.5,372.2 543.5,371.9 544.5,371.7 545.5,371.5 546.5,371.2 547.5,371 548.5,370.7 549.5,370.5 550.5,370.2 551.5,370 552.5,369.7 553.5,369.5 554.5,369.2 555.5,369 556.5,368.7 557.5,368.4 558.5,367.9 559.5,367.4 560.5,366.8 561.5,366.3 562.5,365.7 563.5,365.1 564.5,364.6 565.5,364 566.5,363.4 567.5,362.9 568.5,362.3 569.5,361.8 570.5,361.2 571.5,360.6 572.5,360.1 573.5,359.5 574.5,358.9 575.5,358.3 576.5,357.8 577.5,357.2 578.5,356.6 579.5,356.1 580.5,355.5 581.5,354.9 582.5,354.3 583.5,353.7 584.4,353.1 585.4,352.5 586.4,351.9 587.4,351.3 588.4,350.7 589.4,350.1 590.4,349.3 591.4,348.4 592.4,347.4 593.4,346.3 594.4,345.1 595.4,343.7 596.4,341.8 597.4,339.4 598.4,336.1 599.4,332.2 600.4,328.1 601.4,323.9 602.4,319.6 603.4,315 604.4,310.5 605.4,306.3 606.4,302.7 607.4,300 608.4,298 609.4,297 610.4,297 611.4,298.2 612.4,300.5 613.4,303.8 614.4,307.9 615.4,312.8 616.4,318.3 617.4,323.9 618.4,329.6 619.4,335.1 620.4,340.4 621.4,345.1 622.4,349.2 623.4,352.8 624.4,355.9 625.4,358.7 626.4,360.8 627.4,362.5 628.4,363.8 629.4,365 630.4,366.3 631.4,367.4 632.4,368.4 633.4,369.2 634.4,369.8 635.4,370.2 636.4,370.6 637.4,370.9 638.4,371.3 639.4,371.7 640.4,372 641.4,372.4 642.4,372.7 643.4,373.1 644.4,373.4 645.4,373.6 646.4,373.8 647.4,374 648.4,374.1 649.4,374.2 650.4,374.3 651.4,374.5 652.4,374.6 653.4,374.7 654.4,374.8 655.4,374.9 656.4,375.1 657.4,375.2 658.4,375.3 659.4,375.4 660.4,375.5 661.4,375.6 662.4,375.6 663.4,375.7 664.4,375.7 665.4,375.8 666.4,375.8 667.4,375.9 668.4,375.9 669.4,376 670.4,376 671.4,376.1 672.4,376.1 673.4,376.2 674.4,376.2 675.4,376.3 676.4,376.3 677.4,376.4 678.4,376.4 679.4,376.5 680.4,376.5 681.4,376.6 682.4,376.6 683.4,376.7" fill="none" stroke="#2c2c2c" stroke-width="1.9" stroke-opacity="1.0" stroke-linejoin="round"/>
<path d="M483.5,372.8 484.5,372.8 485.5,372.8 486.5,372.8 487.5,372.8 488.5,372.8 489.5,372.8 490.5,372.8 491.5,372.8 492.5,372.8 493.5,372.8 494.5,372.8 495.5,372.8 496.5,372.8 497.5,372.8 498.5,372.8 499.5,372.8 500.5,372.8 501.5,372.8 502.5,372.8 503.5,372.8 504.5,372.8 505.5,372.8 506.5,372.8 507.5,372.8 508.5,372.8 509.5,372.8 510.5,372.8 511.5,372.8 512.5,372.8 513.5,372.8 514.5,372.8 515.5,372.8 516.5,372.8 517.5,372.8 518.5,372.8 519.5,372.8 520.5,372.8 521.5,372.8 522.5,372.8 523.5,372.8 524.5,372.8 525.5,372.8 526.5,372.8 527.5,372.8 528.5,372.8 529.5,372.8 530.5,372.8 531.5,372.8 532.5,372.8 533.5,372.8 534.5,372.8 535.5,372.8 536.5,372.8 537.5,372.8 538.5,372.8 539.5,372.7 540.5,372.6 541.5,372.4 542.5,372.2 543.5,371.9 544.5,371.7 545.5,371.5 546.5,371.2 547.5,371 548.5,370.7 549.5,370.5 550.5,370.2 551.5,370 552.5,369.7 553.5,369.5 554.5,369.2 555.5,369 556.5,368.7 557.5,368.4 558.5,367.9 559.5,367.4 560.5,366.8 561.5,366.3 562.5,365.7 563.5,365.1 564.5,364.6 565.5,364 566.5,363.4 567.5,362.9 568.5,362.3 569.5,361.8 570.5,361.2 571.5,360.6 572.5,360.1 573.5,359.5 574.5,358.9 575.5,358.3 576.5,357.8 577.5,357.2 578.5,356.6 579.5,356.1 580.5,355.5 581.5,354.9 582.5,354.3 583.5,353.7 584.4,353.1 585.4,352.5 586.4,351.9 587.4,351.3 588.4,350.7 589.4,350.1 590.4,349.3 591.4,348.4 592.4,347.4 593.4,346.3 594.4,345.1 595.4,343.7 596.4,341.8 597.4,339.4 598.4,336.1 599.4,332.2 600.4,328.1 601.4,323.9 602.4,319.6 603.4,315 604.4,310.5 605.4,306.3 606.4,302.7 607.4,300 608.4,298 609.4,297 610.4,297 611.4,298.2 612.4,300.5 613.4,303.8 614.4,307.9 615.4,312.8 616.4,318.3 617.4,323.9 618.4,329.6 619.4,335.1 620.4,340.4 621.4,345.1 622.4,349.2 623.4,352.8 624.4,355.9 625.4,358.7 626.4,360.8 627.4,362.5 628.4,363.8 629.4,365 630.4,366.3 631.4,367.4 632.4,368.4 633.4,369.2 634.4,369.8 635.4,370.2 636.4,370.6 637.4,370.9 638.4,371.3 639.4,371.7 640.4,372 641.4,372.4 642.4,372.7 643.4,373.1 644.4,373.4 645.4,373.6 646.4,373.8 647.4,374 648.4,374.1 649.4,374.2 650.4,374.3 651.4,374.5 652.4,374.6 653.4,374.7 654.4,374.8 655.4,374.9 656.4,375.1 657.4,375.2 658.4,375.3 659.4,375.4 660.4,375.5 661.4,375.6 662.4,375.6 663.4,375.7 664.4,375.7 665.4,375.8 666.4,375.8 667.4,375.9 668.4,375.9 669.4,376 670.4,376 671.4,376.1 672.4,376.1 673.4,376.2 674.4,376.2 675.4,376.3 676.4,376.3 677.4,376.4 678.4,376.4 679.4,376.5 680.4,376.5 681.4,376.6 682.4,376.6 683.4,376.7" fill="none" stroke="#8c8c8c" stroke-width="0.45" stroke-opacity="1.0" stroke-linejoin="round"/>
</g>
<rect x="486.2" y="288.9" width="24.5" height="11.7" fill="#8c98f8" fill-opacity="1.0" stroke="#4060f8" stroke-width="1.0"/>
<rect x="486.2" y="302.1" width="24.5" height="11.6" fill="#ff7a80" fill-opacity="1.0" stroke="#ff4a55" stroke-width="1.0"/>
<text x="513.8" y="298.1" font-size="10.5" fill="#1a1a1a">O 1</text>
<text x="513.8" y="311.3" font-size="10.5" fill="#1a1a1a">O 2</text>
<g clip-path="url(#c12b)">
<polyline points="483.8,475.9 484.2,475.6 484.8,476.1 485.9,476.9 486.4,475.8 487,476 487.3,476.1 488.4,476.7 488.5,476.6 489.5,476.2 490,475.4 490.4,477.3 491,477.2 491.7,476.1 492.9,476.8 493.1,476.4 493.6,476.1 494.2,477.4 495.2,476.9 495.9,476.6 496.2,475.7 496.9,477 497.5,477.6 498.5,476.7 499.1,476.2 499.3,475.9 500.2,476.3 500.5,476.2 501.2,475.2 501.9,476.4 502.3,476.8 503.2,475.8 503.6,475.9 504.6,476.8 504.8,476.1 505.8,476.4 506,476.4 507,477.1 507.3,476 508,476.6 508.8,477.3 509.7,476.3 509.8,477.1 510.5,476.2 511.4,476.6 511.8,476.5 512.7,476.2 512.9,476.9 513.5,475 514.7,475.1 515,477.1 515.8,476.6 516.5,476.2 516.9,476.1 517.5,476.1 518.4,476.1 519,476.8 519.6,477 519.9,477.3 520.8,476.2 521.4,476.6 521.8,477.1 522.7,476.4 523.4,476.2 523.7,476.5 524.7,477.2 525.1,475.4 525.9,475.4 526.4,475.7 527.2,477 527.7,475.9 528.1,476.2 528.9,476.4 529.5,476.4 530.3,476.9 530.9,475.1 531.3,476.7 531.7,475.8 532.4,475.9 533.3,478 533.8,476.2 534.4,476.2 535.2,476.1 535.6,476.8 536.2,476.3 536.7,476.1 537.4,476.1 538.3,475.4 539,476.4 539.4,476.6 540,476.9 540.6,477.3 541.1,475.5 541.6,477.7 542.4,476 543.1,476.5 543.6,476.7 544.5,475.4 544.8,474.9 545.9,475.8 546.1,474.3 547.1,475.8 547.4,474.3 548.1,475 548.9,474.2 549.4,473.5 550.1,474.3 550.5,475.9 551.3,474.4 551.7,475.2 552.4,474.2 552.9,474.4 554,474.1 554.5,476 555,475.3 555.5,473.1 556.1,473.3 557,472.9 557.7,473 558,474.2 558.7,473 559.3,473.8 560.2,473.2 560.5,473.2 561.6,472.2 562.1,472.1 562.7,472.2 563.3,471.1 563.7,472.4 564.6,472.2 564.8,471.1 565.5,470.6 566,470.7 567,470.4 567.4,470.1 568,470 569,468.9 569.5,468.6 570,467.7 570.7,468.3 571.4,466.6 571.9,467.2 572.6,466.2 573.2,466.8 573.9,465.5 574.4,467 575.2,464.2 575.8,462.9 576.2,463.4 577,464.2 577.7,463.3 577.9,463.2 578.5,462.7 579.2,462.2 579.8,461.5 580.9,460.3 581.5,460.8 581.6,459.1 582.3,461 583,459.6 583.9,458.6 584.3,459.6 584.9,459.7 585.9,458.8 586.6,458.1 586.8,456.2 587.4,458.4 588.2,456.8 588.5,457.3 589.5,457.7 590.2,456.7 590.6,456 591.5,457.2 591.7,456.3 592.6,455.4 593,455.8 593.7,455.5 594.4,455.2 595.3,454.9 595.6,454.2 596,454.3 596.7,452.9 597.5,452.4 598.1,452 598.6,450.2 599.3,452.3 600,448.1 600.6,446.9 601.1,444.7 601.8,442.7 602.8,437 603.2,435 603.7,430.3 604.1,428.1 605.1,421.4 605.8,416.2 606.5,410.7 606.8,408.7 607.4,406.2 607.9,402.5 608.8,398.8 609.4,397.3 610.3,395 610.6,396.8 611.2,395.8 612,398.4 612.3,397.2 613.1,400.7 613.8,403.6 614.3,406.3 614.9,412.5 615.8,418.4 616.2,422.8 616.7,425 617.7,433.2 618,436.3 618.7,441.8 619.1,445 619.9,450.4 620.8,456.5 621.2,457.2 622.1,462.7 622.3,463.4 623.4,468.4 624,468.3 624.2,469.3 625.2,471.9 625.8,471.8 626.1,471.6 626.6,473.5 627.6,475.3 628.3,476.8 628.8,475.9 629.4,476.7 629.9,476.9 630.9,478 631.3,476.8 632.1,477.9 632.5,477.2 633,478.2 634,480 634.4,479 635.1,479.5 635.6,479 636.4,479.2 637,478.4 637.6,480.1 638,478.7 638.6,479.9 639.1,479.8 640.3,480.4 640.4,480.6 641.5,479.6 642.1,479.9 642.7,480.6 643,480 643.8,479.9 644.5,481 645.1,480.7 645.5,479.1 646.4,479.8 646.6,480.3 647.6,480 648.1,480.4 648.7,479.8 649.4,481 650,481.7 650.5,480.1 651.5,479.6 651.6,481.7 652.4,481.2 653.2,479.8 653.6,481.5 654.1,481.5 654.8,479.1 655.7,480.8 656.5,480.4 657.1,479.5 657.4,482 658.3,480.8 658.8,479.8 659.2,480.4 659.7,481 660.8,480.8 661.5,479.3 661.8,480.2 662.6,479.8 663.3,478.4 663.8,480 664.3,480.1 664.9,480.6 665.5,480.8 666,479.9 667.1,479.9 667.6,479.6 668,480.3 668.5,481.9 669.4,480.1 670.1,481 670.4,481.1 671.1,480.1 671.7,480.2 672.6,479 672.9,480.6 673.5,481.3 674.5,480.1 675,481.6 675.6,482 676.5,480.8 676.9,480.9 677.3,480.8 677.8,480.1 678.5,480.3 679.6,482.2 680.1,480.4 680.8,480.6 681,480.8 682.1,481.3 682.3,482 682.8,481.1" fill="none" stroke="none" marker-start="url(#m2)" marker-mid="url(#m2)" marker-end="url(#m2)"/>
<path d="M483.5,476.8 484.5,476.8 485.5,476.8 486.5,476.8 487.5,476.8 488.5,476.8 489.5,476.8 490.5,476.8 491.5,476.8 492.5,476.8 493.5,476.8 494.5,476.8 495.5,476.8 496.5,476.8 497.5,476.8 498.5,476.8 499.5,476.8 500.5,476.8 501.5,476.8 502.5,476.8 503.5,476.8 504.5,476.8 505.5,476.8 506.5,476.8 507.5,476.8 508.5,476.8 509.5,476.8 510.5,476.8 511.5,476.8 512.5,476.8 513.5,476.8 514.5,476.8 515.5,476.8 516.5,476.8 517.5,476.8 518.5,476.8 519.5,476.8 520.5,476.8 521.5,476.8 522.5,476.8 523.5,476.8 524.5,476.8 525.5,476.8 526.5,476.8 527.5,476.8 528.5,476.8 529.5,476.8 530.5,476.8 531.5,476.7 532.5,476.7 533.5,476.7 534.5,476.7 535.5,476.7 536.5,476.7 537.5,476.6 538.5,476.6 539.5,476.6 540.5,476.5 541.5,476.5 542.5,476.4 543.5,476.3 544.5,476.3 545.5,476.2 546.5,476.1 547.5,476 548.5,475.8 549.5,475.7 550.5,475.6 551.5,475.4 552.5,475.2 553.5,475 554.5,474.8 555.5,474.5 556.5,474.2 557.5,473.9 558.5,473.6 559.5,473.3 560.5,472.9 561.5,472.5 562.5,472.1 563.5,471.6 564.5,471.1 565.5,470.6 566.5,470.1 567.5,469.5 568.5,469 569.5,468.4 570.5,467.8 571.5,467.2 572.5,466.5 573.5,465.9 574.5,465.2 575.5,464.6 576.5,463.9 577.5,463.3 578.5,462.7 579.5,462.1 580.5,461.5 581.5,461 582.5,460.5 583.5,460 584.4,459.5 585.4,459.1 586.4,458.8 587.4,458.5 588.4,458.3 589.4,458.1 590.4,457.9 591.4,457.9 592.4,457.9 593.4,457.9 594.4,458.1 595.4,458.3 596.4,458.5 597.4,458.8 598.4,459.2 599.4,459.6 600.4,460.1 601.4,460.6 602.4,461.1 603.4,461.7 604.4,462.4 605.4,463 606.4,463.7 607.4,464.4 608.4,465.1 609.4,465.8 610.4,466.6 611.4,467.3 612.4,468 613.4,468.7 614.4,469.4 615.4,470.1 616.4,470.8 617.4,471.4 618.4,472.1 619.4,472.7 620.4,473.2 621.4,473.8 622.4,474.3 623.4,474.8 624.4,475.3 625.4,475.7 626.4,476.1 627.4,476.5 628.4,476.8 629.4,477.1 630.4,477.4 631.4,477.7 632.4,478 633.4,478.2 634.4,478.4 635.4,478.6 636.4,478.7 637.4,478.9 638.4,479 639.4,479.2 640.4,479.3 641.4,479.4 642.4,479.5 643.4,479.5 644.4,479.6 645.4,479.7 646.4,479.7 647.4,479.8 648.4,479.9 649.4,479.9 650.4,480 651.4,480 652.4,480 653.4,480.1 654.4,480.1 655.4,480.1 656.4,480.2 657.4,480.2 658.4,480.2 659.4,480.3 660.4,480.3 661.4,480.3 662.4,480.4 663.4,480.4 664.4,480.4 665.4,480.4 666.4,480.5 667.4,480.5 668.4,480.5 669.4,480.6 670.4,480.6 671.4,480.6 672.4,480.6 673.4,480.7 674.4,480.7 675.4,480.7 676.4,480.7 677.4,480.8 678.4,480.8 679.4,480.8 680.4,480.8 681.4,480.9 682.4,480.9 683.4,480.9 683.4,480.9 682.4,480.9 681.4,480.9 680.4,480.8 679.4,480.8 678.4,480.8 677.4,480.8 676.4,480.7 675.4,480.7 674.4,480.7 673.4,480.7 672.4,480.6 671.4,480.6 670.4,480.6 669.4,480.6 668.4,480.5 667.4,480.5 666.4,480.5 665.4,480.4 664.4,480.4 663.4,480.4 662.4,480.4 661.4,480.3 660.4,480.3 659.4,480.3 658.4,480.3 657.4,480.2 656.4,480.2 655.4,480.2 654.4,480.2 653.4,480.1 652.4,480.1 651.4,480.1 650.4,480 649.4,480 648.4,480 647.4,480 646.4,479.9 645.4,479.9 644.4,479.9 643.4,479.9 642.4,479.8 641.4,479.8 640.4,479.8 639.4,479.7 638.4,479.7 637.4,479.7 636.4,479.7 635.4,479.6 634.4,479.6 633.4,479.6 632.4,479.5 631.4,479.5 630.4,479.4 629.4,479.4 628.4,479.3 627.4,479.3 626.4,479.2 625.4,479.2 624.4,479.1 623.4,479 622.4,479 621.4,478.9 620.4,478.9 619.4,478.8 618.4,478.7 617.4,478.7 616.4,478.6 615.4,478.5 614.4,478.5 613.4,478.4 612.4,478.3 611.4,478.3 610.4,478.2 609.4,478.1 608.4,478.1 607.4,478 606.4,477.9 605.4,477.9 604.4,477.8 603.4,477.8 602.4,477.7 601.4,477.7 600.4,477.6 599.4,477.6 598.4,477.6 597.4,477.5 596.4,477.5 595.4,477.5 594.4,477.4 593.4,477.4 592.4,477.4 591.4,477.4 590.4,477.3 589.4,477.3 588.4,477.3 587.4,477.3 586.4,477.3 585.4,477.2 584.4,477.2 583.5,477.2 582.5,477.2 581.5,477.2 580.5,477.2 579.5,477.1 578.5,477.1 577.5,477.1 576.5,477.1 575.5,477.1 574.5,477.1 573.5,477 572.5,477 571.5,477 570.5,477 569.5,477 568.5,477 567.5,476.9 566.5,476.9 565.5,476.9 564.5,476.9 563.5,476.9 562.5,476.9 561.5,476.9 560.5,476.8 559.5,476.8 558.5,476.8 557.5,476.8 556.5,476.8 555.5,476.8 554.5,476.8 553.5,476.8 552.5,476.8 551.5,476.8 550.5,476.8 549.5,476.8 548.5,476.8 547.5,476.8 546.5,476.8 545.5,476.8 544.5,476.8 543.5,476.8 542.5,476.8 541.5,476.8 540.5,476.8 539.5,476.8 538.5,476.8 537.5,476.8 536.5,476.8 535.5,476.8 534.5,476.8 533.5,476.8 532.5,476.8 531.5,476.8 530.5,476.8 529.5,476.8 528.5,476.8 527.5,476.8 526.5,476.8 525.5,476.8 524.5,476.8 523.5,476.8 522.5,476.8 521.5,476.8 520.5,476.8 519.5,476.8 518.5,476.8 517.5,476.8 516.5,476.8 515.5,476.8 514.5,476.8 513.5,476.8 512.5,476.8 511.5,476.8 510.5,476.8 509.5,476.8 508.5,476.8 507.5,476.8 506.5,476.8 505.5,476.8 504.5,476.8 503.5,476.8 502.5,476.8 501.5,476.8 500.5,476.8 499.5,476.8 498.5,476.8 497.5,476.8 496.5,476.8 495.5,476.8 494.5,476.8 493.5,476.8 492.5,476.8 491.5,476.8 490.5,476.8 489.5,476.8 488.5,476.8 487.5,476.8 486.5,476.8 485.5,476.8 484.5,476.8 483.5,476.8Z" fill="#ff8080" fill-opacity="1.0" stroke="none"/>
<path d="M483.5,476.8 484.5,476.8 485.5,476.8 486.5,476.8 487.5,476.8 488.5,476.8 489.5,476.8 490.5,476.8 491.5,476.8 492.5,476.8 493.5,476.8 494.5,476.8 495.5,476.8 496.5,476.8 497.5,476.8 498.5,476.8 499.5,476.8 500.5,476.8 501.5,476.8 502.5,476.8 503.5,476.8 504.5,476.8 505.5,476.8 506.5,476.8 507.5,476.8 508.5,476.8 509.5,476.8 510.5,476.8 511.5,476.8 512.5,476.8 513.5,476.8 514.5,476.8 515.5,476.8 516.5,476.8 517.5,476.8 518.5,476.8 519.5,476.8 520.5,476.7 521.5,476.7 522.5,476.7 523.5,476.7 524.5,476.7 525.5,476.7 526.5,476.7 527.5,476.7 528.5,476.7 529.5,476.7 530.5,476.7 531.5,476.7 532.5,476.7 533.5,476.7 534.5,476.7 535.5,476.7 536.5,476.7 537.5,476.6 538.5,476.6 539.5,476.6 540.5,476.5 541.5,476.5 542.5,476.4 543.5,476.3 544.5,476.3 545.5,476.2 546.5,476.1 547.5,476 548.5,475.8 549.5,475.7 550.5,475.6 551.5,475.4 552.5,475.2 553.5,475 554.5,474.8 555.5,474.5 556.5,474.2 557.5,473.9 558.5,473.6 559.5,473.3 560.5,472.9 561.5,472.5 562.5,472.1 563.5,471.6 564.5,471.1 565.5,470.6 566.5,470.1 567.5,469.5 568.5,469 569.5,468.4 570.5,467.8 571.5,467.2 572.5,466.5 573.5,465.9 574.5,465.2 575.5,464.6 576.5,463.9 577.5,463.3 578.5,462.7 579.5,462.1 580.5,461.5 581.5,461 582.5,460.5 583.5,460 584.4,459.5 585.4,459.1 586.4,458.8 587.4,458.5 588.4,458.3 589.4,458.1 590.4,457.9 591.4,457.9 592.4,457.9 593.4,457.9 594.4,458.1 595.4,458.3 596.4,458.5 597.4,458.8 598.4,459.2 599.4,459.6 600.4,460.1 601.4,460.6 602.4,457.4 603.4,451.4 604.4,444.4 605.4,436.8 606.4,428.9 607.4,421.4 608.4,414.8 609.4,409.8 610.4,407.1 611.4,407 612.4,409.6 613.4,414.4 614.4,420.9 615.4,428.5 616.4,436.5 617.4,444.3 618.4,451.5 619.4,457.8 620.4,463 621.4,467.3 622.4,470.5 623.4,473 624.4,474.7 625.4,475.7 626.4,476.1 627.4,476.5 628.4,476.8 629.4,477.1 630.4,477.4 631.4,477.7 632.4,478 633.4,478.2 634.4,478.4 635.4,478.6 636.4,478.7 637.4,478.9 638.4,479 639.4,479.2 640.4,479.3 641.4,479.4 642.4,479.4 643.4,479.5 644.4,479.5 645.4,479.6 646.4,479.6 647.4,479.7 648.4,479.7 649.4,479.7 650.4,479.8 651.4,479.8 652.4,479.9 653.4,479.9 654.4,479.9 655.4,480 656.4,480 657.4,480 658.4,480.1 659.4,480.1 660.4,480.1 661.4,480.2 662.4,480.2 663.4,480.2 664.4,480.3 665.4,480.3 666.4,480.3 667.4,480.4 668.4,480.4 669.4,480.4 670.4,480.5 671.4,480.5 672.4,480.5 673.4,480.6 674.4,480.6 675.4,480.6 676.4,480.6 677.4,480.7 678.4,480.7 679.4,480.7 680.4,480.7 681.4,480.8 682.4,480.8 683.4,480.8 683.4,480.9 682.4,480.9 681.4,480.9 680.4,480.8 679.4,480.8 678.4,480.8 677.4,480.8 676.4,480.7 675.4,480.7 674.4,480.7 673.4,480.7 672.4,480.6 671.4,480.6 670.4,480.6 669.4,480.6 668.4,480.5 667.4,480.5 666.4,480.5 665.4,480.4 664.4,480.4 663.4,480.4 662.4,480.4 661.4,480.3 660.4,480.3 659.4,480.3 658.4,480.2 657.4,480.2 656.4,480.2 655.4,480.1 654.4,480.1 653.4,480.1 652.4,480 651.4,480 650.4,480 649.4,479.9 648.4,479.9 647.4,479.8 646.4,479.7 645.4,479.7 644.4,479.6 643.4,479.5 642.4,479.5 641.4,479.4 640.4,479.3 639.4,479.2 638.4,479 637.4,478.9 636.4,478.7 635.4,478.6 634.4,478.4 633.4,478.2 632.4,478 631.4,477.7 630.4,477.4 629.4,477.1 628.4,476.8 627.4,476.5 626.4,476.1 625.4,475.7 624.4,475.3 623.4,474.8 622.4,474.3 621.4,473.8 620.4,473.2 619.4,472.7 618.4,472.1 617.4,471.4 616.4,470.8 615.4,470.1 614.4,469.4 613.4,468.7 612.4,468 611.4,467.3 610.4,466.6 609.4,465.8 608.4,465.1 607.4,464.4 606.4,463.7 605.4,463 604.4,462.4 603.4,461.7 602.4,461.1 601.4,460.6 600.4,460.1 599.4,459.6 598.4,459.2 597.4,458.8 596.4,458.5 595.4,458.3 594.4,458.1 593.4,457.9 592.4,457.9 591.4,457.9 590.4,457.9 589.4,458.1 588.4,458.3 587.4,458.5 586.4,458.8 585.4,459.1 584.4,459.5 583.5,460 582.5,460.5 581.5,461 580.5,461.5 579.5,462.1 578.5,462.7 577.5,463.3 576.5,463.9 575.5,464.6 574.5,465.2 573.5,465.9 572.5,466.5 571.5,467.2 570.5,467.8 569.5,468.4 568.5,469 567.5,469.5 566.5,470.1 565.5,470.6 564.5,471.1 563.5,471.6 562.5,472.1 561.5,472.5 560.5,472.9 559.5,473.3 558.5,473.6 557.5,473.9 556.5,474.2 555.5,474.5 554.5,474.8 553.5,475 552.5,475.2 551.5,475.4 550.5,475.6 549.5,475.7 548.5,475.8 547.5,476 546.5,476.1 545.5,476.2 544.5,476.3 543.5,476.3 542.5,476.4 541.5,476.5 540.5,476.5 539.5,476.6 538.5,476.6 537.5,476.6 536.5,476.7 535.5,476.7 534.5,476.7 533.5,476.7 532.5,476.7 531.5,476.7 530.5,476.8 529.5,476.8 528.5,476.8 527.5,476.8 526.5,476.8 525.5,476.8 524.5,476.8 523.5,476.8 522.5,476.8 521.5,476.8 520.5,476.8 519.5,476.8 518.5,476.8 517.5,476.8 516.5,476.8 515.5,476.8 514.5,476.8 513.5,476.8 512.5,476.8 511.5,476.8 510.5,476.8 509.5,476.8 508.5,476.8 507.5,476.8 506.5,476.8 505.5,476.8 504.5,476.8 503.5,476.8 502.5,476.8 501.5,476.8 500.5,476.8 499.5,476.8 498.5,476.8 497.5,476.8 496.5,476.8 495.5,476.8 494.5,476.8 493.5,476.8 492.5,476.8 491.5,476.8 490.5,476.8 489.5,476.8 488.5,476.8 487.5,476.8 486.5,476.8 485.5,476.8 484.5,476.8 483.5,476.8Z" fill="#8e98fa"/>
<path d="M483.5,476.8 484.5,476.8 485.5,476.8 486.5,476.8 487.5,476.8 488.5,476.8 489.5,476.8 490.5,476.8 491.5,476.8 492.5,476.8 493.5,476.8 494.5,476.8 495.5,476.8 496.5,476.8 497.5,476.8 498.5,476.8 499.5,476.8 500.5,476.8 501.5,476.8 502.5,476.8 503.5,476.8 504.5,476.8 505.5,476.8 506.5,476.8 507.5,476.8 508.5,476.8 509.5,476.8 510.5,476.8 511.5,476.8 512.5,476.8 513.5,476.8 514.5,476.8 515.5,476.8 516.5,476.8 517.5,476.8 518.5,476.8 519.5,476.8 520.5,476.8 521.5,476.8 522.5,476.8 523.5,476.8 524.5,476.8 525.5,476.8 526.5,476.8 527.5,476.8 528.5,476.8 529.5,476.8 530.5,476.8 531.5,476.7 532.5,476.7 533.5,476.7 534.5,476.7 535.5,476.7 536.5,476.7 537.5,476.6 538.5,476.6 539.5,476.6 540.5,476.5 541.5,476.5 542.5,476.4 543.5,476.3 544.5,476.3 545.5,476.2 546.5,476.1 547.5,476 548.5,475.8 549.5,475.7 550.5,475.6 551.5,475.4 552.5,475.2 553.5,475 554.5,474.8 555.5,474.5 556.5,474.2 557.5,473.9 558.5,473.6 559.5,473.3 560.5,472.9 561.5,472.5 562.5,472.1 563.5,471.6 564.5,471.1 565.5,470.6 566.5,470.1 567.5,469.5 568.5,469 569.5,468.4 570.5,467.8 571.5,467.2 572.5,466.5 573.5,465.9 574.5,465.2 575.5,464.6 576.5,463.9 577.5,463.3 578.5,462.7 579.5,462.1 580.5,461.5 581.5,461 582.5,460.5 583.5,460 584.4,459.5 585.4,459.1 586.4,458.8 587.4,458.5 588.4,458.3 589.4,458.1 590.4,457.9 591.4,457.9 592.4,457.9 593.4,457.9 594.4,458.1 595.4,458.3 596.4,458.5 597.4,458.8 598.4,459.2 599.4,459.6 600.4,460.1 601.4,460.6 602.4,461.1 603.4,461.7 604.4,462.4 605.4,463 606.4,463.7 607.4,464.4 608.4,465.1 609.4,465.8 610.4,466.6 611.4,467.3 612.4,468 613.4,468.7 614.4,469.4 615.4,470.1 616.4,470.8 617.4,471.4 618.4,472.1 619.4,472.7 620.4,473.2 621.4,473.8 622.4,474.3 623.4,474.8 624.4,475.3 625.4,475.7 626.4,476.1 627.4,476.5 628.4,476.8 629.4,477.1 630.4,477.4 631.4,477.7 632.4,478 633.4,478.2 634.4,478.4 635.4,478.6 636.4,478.7 637.4,478.9 638.4,479 639.4,479.2 640.4,479.3 641.4,479.4 642.4,479.5 643.4,479.5 644.4,479.6 645.4,479.7 646.4,479.7 647.4,479.8 648.4,479.9 649.4,479.9 650.4,480 651.4,480 652.4,480 653.4,480.1 654.4,480.1 655.4,480.1 656.4,480.2 657.4,480.2 658.4,480.2 659.4,480.3 660.4,480.3 661.4,480.3 662.4,480.4 663.4,480.4 664.4,480.4 665.4,480.4 666.4,480.5 667.4,480.5 668.4,480.5 669.4,480.6 670.4,480.6 671.4,480.6 672.4,480.6 673.4,480.7 674.4,480.7 675.4,480.7 676.4,480.7 677.4,480.8 678.4,480.8 679.4,480.8 680.4,480.8 681.4,480.9 682.4,480.9 683.4,480.9 683.4,480.9 682.4,480.9 681.4,480.9 680.4,480.8 679.4,480.8 678.4,480.8 677.4,480.8 676.4,480.7 675.4,480.7 674.4,480.7 673.4,480.7 672.4,480.6 671.4,480.6 670.4,480.6 669.4,480.6 668.4,480.5 667.4,480.5 666.4,480.5 665.4,480.4 664.4,480.4 663.4,480.4 662.4,480.4 661.4,480.3 660.4,480.3 659.4,480.3 658.4,480.2 657.4,480.2 656.4,480.2 655.4,480.1 654.4,480.1 653.4,480.1 652.4,480 651.4,480 650.4,480 649.4,479.9 648.4,479.9 647.4,479.8 646.4,479.7 645.4,479.7 644.4,479.6 643.4,479.5 642.4,479.5 641.4,479.4 640.4,479.3 639.4,479.2 638.4,479 637.4,478.9 636.4,478.7 635.4,478.6 634.4,478.4 633.4,478.2 632.4,478 631.4,477.7 630.4,477.4 629.4,477.1 628.4,476.8 627.4,476.5 626.4,476.1 625.4,475.7 624.4,475.3 623.4,474.8 622.4,474.3 621.4,473.8 620.4,473.2 619.4,472.7 618.4,472.1 617.4,471.4 616.4,470.8 615.4,470.1 614.4,469.4 613.4,468.7 612.4,468 611.4,467.3 610.4,466.6 609.4,465.8 608.4,465.1 607.4,464.4 606.4,463.7 605.4,463 604.4,462.4 603.4,461.7 602.4,461.1 601.4,462.5 600.4,466.4 599.4,469.5 598.4,471.7 597.4,473.3 596.4,474.4 595.4,475.1 594.4,475.6 593.4,475.9 592.4,476.2 591.4,476.3 590.4,476.4 589.4,476.5 588.4,476.5 587.4,476.6 586.4,476.6 585.4,476.6 584.4,476.7 583.5,476.7 582.5,476.7 581.5,476.7 580.5,476.7 579.5,476.7 578.5,476.7 577.5,476.7 576.5,476.7 575.5,476.7 574.5,476.7 573.5,476.7 572.5,476.7 571.5,476.7 570.5,476.7 569.5,476.7 568.5,476.7 567.5,476.7 566.5,476.7 565.5,476.7 564.5,476.7 563.5,476.7 562.5,476.7 561.5,476.7 560.5,476.7 559.5,476.7 558.5,476.7 557.5,476.7 556.5,476.7 555.5,476.7 554.5,476.7 553.5,476.7 552.5,476.7 551.5,476.7 550.5,476.7 549.5,476.7 548.5,476.7 547.5,476.7 546.5,476.7 545.5,476.7 544.5,476.7 543.5,476.7 542.5,476.7 541.5,476.7 540.5,476.7 539.5,476.7 538.5,476.7 537.5,476.7 536.5,476.7 535.5,476.7 534.5,476.7 533.5,476.7 532.5,476.7 531.5,476.7 530.5,476.8 529.5,476.8 528.5,476.8 527.5,476.8 526.5,476.8 525.5,476.8 524.5,476.8 523.5,476.8 522.5,476.8 521.5,476.8 520.5,476.8 519.5,476.8 518.5,476.8 517.5,476.8 516.5,476.8 515.5,476.8 514.5,476.8 513.5,476.8 512.5,476.8 511.5,476.8 510.5,476.8 509.5,476.8 508.5,476.8 507.5,476.8 506.5,476.8 505.5,476.8 504.5,476.8 503.5,476.8 502.5,476.8 501.5,476.8 500.5,476.8 499.5,476.8 498.5,476.8 497.5,476.8 496.5,476.8 495.5,476.8 494.5,476.8 493.5,476.8 492.5,476.8 491.5,476.8 490.5,476.8 489.5,476.8 488.5,476.8 487.5,476.8 486.5,476.8 485.5,476.8 484.5,476.8 483.5,476.8Z" fill="#c44c7d"/>
<path d="M483.5,476.8 484.5,476.8 485.5,476.8 486.5,476.8 487.5,476.8 488.5,476.8 489.5,476.8 490.5,476.8 491.5,476.8 492.5,476.8 493.5,476.8 494.5,476.8 495.5,476.8 496.5,476.8 497.5,476.8 498.5,476.8 499.5,476.8 500.5,476.8 501.5,476.8 502.5,476.8 503.5,476.8 504.5,476.8 505.5,476.8 506.5,476.8 507.5,476.8 508.5,476.8 509.5,476.8 510.5,476.8 511.5,476.8 512.5,476.8 513.5,476.8 514.5,476.8 515.5,476.8 516.5,476.8 517.5,476.8 518.5,476.8 519.5,476.8 520.5,476.7 521.5,476.7 522.5,476.7 523.5,476.7 524.5,476.7 525.5,476.7 526.5,476.7 527.5,476.7 528.5,476.7 529.5,476.7 530.5,476.7 531.5,476.7 532.5,476.7 533.5,476.7 534.5,476.7 535.5,476.7 536.5,476.7 537.5,476.7 538.5,476.7 539.5,476.7 540.5,476.7 541.5,476.7 542.5,476.7 543.5,476.7 544.5,476.7 545.5,476.7 546.5,476.7 547.5,476.7 548.5,476.7 549.5,476.7 550.5,476.7 551.5,476.7 552.5,476.7 553.5,476.7 554.5,476.7 555.5,476.7 556.5,476.7 557.5,476.7 558.5,476.7 559.5,476.7 560.5,476.7 561.5,476.7 562.5,476.7 563.5,476.7 564.5,476.7 565.5,476.7 566.5,476.7 567.5,476.7 568.5,476.7 569.5,476.7 570.5,476.7 571.5,476.7 572.5,476.7 573.5,476.7 574.5,476.7 575.5,476.7 576.5,476.7 577.5,476.7 578.5,476.7 579.5,476.7 580.5,476.7 581.5,476.7 582.5,476.7 583.5,476.7 584.4,476.7 585.4,476.6 586.4,476.6 587.4,476.6 588.4,476.5 589.4,476.5 590.4,476.4 591.4,476.3 592.4,476.2 593.4,475.9 594.4,475.6 595.4,475.1 596.4,474.4 597.4,473.3 598.4,471.7 599.4,469.5 600.4,466.4 601.4,462.5 602.4,457.4 603.4,451.4 604.4,444.4 605.4,436.8 606.4,428.9 607.4,421.4 608.4,414.8 609.4,409.8 610.4,407.1 611.4,407 612.4,409.6 613.4,414.4 614.4,420.9 615.4,428.5 616.4,436.5 617.4,444.3 618.4,451.5 619.4,457.8 620.4,463 621.4,467.3 622.4,470.5 623.4,473 624.4,474.7 625.4,476 626.4,476.8 627.4,477.4 628.4,477.8 629.4,478.1 630.4,478.3 631.4,478.5 632.4,478.7 633.4,478.8 634.4,478.9 635.4,479 636.4,479 637.4,479.1 638.4,479.2 639.4,479.3 640.4,479.3 641.4,479.4 642.4,479.4 643.4,479.5 644.4,479.5 645.4,479.6 646.4,479.6 647.4,479.7 648.4,479.7 649.4,479.7 650.4,479.8 651.4,479.8 652.4,479.9 653.4,479.9 654.4,479.9 655.4,480 656.4,480 657.4,480 658.4,480.1 659.4,480.1 660.4,480.1 661.4,480.2 662.4,480.2 663.4,480.2 664.4,480.3 665.4,480.3 666.4,480.3 667.4,480.4 668.4,480.4 669.4,480.4 670.4,480.5 671.4,480.5 672.4,480.5 673.4,480.6 674.4,480.6 675.4,480.6 676.4,480.6 677.4,480.7 678.4,480.7 679.4,480.7 680.4,480.7 681.4,480.8 682.4,480.8 683.4,480.8" fill="none" stroke="#2040ff" stroke-width="0.8"/>
<path d="M483.5,476.8 484.5,476.8 485.5,476.8 486.5,476.8 487.5,476.8 488.5,476.8 489.5,476.8 490.5,476.8 491.5,476.8 492.5,476.8 493.5,476.8 494.5,476.8 495.5,476.8 496.5,476.8 497.5,476.8 498.5,476.8 499.5,476.8 500.5,476.8 501.5,476.8 502.5,476.8 503.5,476.8 504.5,476.8 505.5,476.8 506.5,476.8 507.5,476.8 508.5,476.8 509.5,476.8 510.5,476.8 511.5,476.8 512.5,476.8 513.5,476.8 514.5,476.8 515.5,476.8 516.5,476.8 517.5,476.8 518.5,476.8 519.5,476.8 520.5,476.8 521.5,476.8 522.5,476.8 523.5,476.8 524.5,476.8 525.5,476.8 526.5,476.8 527.5,476.8 528.5,476.8 529.5,476.8 530.5,476.8 531.5,476.7 532.5,476.7 533.5,476.7 534.5,476.7 535.5,476.7 536.5,476.7 537.5,476.6 538.5,476.6 539.5,476.6 540.5,476.5 541.5,476.5 542.5,476.4 543.5,476.3 544.5,476.3 545.5,476.2 546.5,476.1 547.5,476 548.5,475.8 549.5,475.7 550.5,475.6 551.5,475.4 552.5,475.2 553.5,475 554.5,474.8 555.5,474.5 556.5,474.2 557.5,473.9 558.5,473.6 559.5,473.3 560.5,472.9 561.5,472.5 562.5,472.1 563.5,471.6 564.5,471.1 565.5,470.6 566.5,470.1 567.5,469.5 568.5,469 569.5,468.4 570.5,467.8 571.5,467.2 572.5,466.5 573.5,465.9 574.5,465.2 575.5,464.6 576.5,463.9 577.5,463.3 578.5,462.7 579.5,462.1 580.5,461.5 581.5,461 582.5,460.5 583.5,460 584.4,459.5 585.4,459.1 586.4,458.8 587.4,458.5 588.4,458.3 589.4,458.1 590.4,457.9 591.4,457.9 592.4,457.9 593.4,457.9 594.4,458.1 595.4,458.3 596.4,458.5 597.4,458.8 598.4,459.2 599.4,459.6 600.4,460.1 601.4,460.6 602.4,461.1 603.4,461.7 604.4,462.4 605.4,463 606.4,463.7 607.4,464.4 608.4,465.1 609.4,465.8 610.4,466.6 611.4,467.3 612.4,468 613.4,468.7 614.4,469.4 615.4,470.1 616.4,470.8 617.4,471.4 618.4,472.1 619.4,472.7 620.4,473.2 621.4,473.8 622.4,474.3 623.4,474.8 624.4,475.3 625.4,475.7 626.4,476.1 627.4,476.5 628.4,476.8 629.4,477.1 630.4,477.4 631.4,477.7 632.4,478 633.4,478.2 634.4,478.4 635.4,478.6 636.4,478.7 637.4,478.9 638.4,479 639.4,479.2 640.4,479.3 641.4,479.4 642.4,479.5 643.4,479.5 644.4,479.6 645.4,479.7 646.4,479.7 647.4,479.8 648.4,479.9 649.4,479.9 650.4,480 651.4,480 652.4,480 653.4,480.1 654.4,480.1 655.4,480.1 656.4,480.2 657.4,480.2 658.4,480.2 659.4,480.3 660.4,480.3 661.4,480.3 662.4,480.4 663.4,480.4 664.4,480.4 665.4,480.4 666.4,480.5 667.4,480.5 668.4,480.5 669.4,480.6 670.4,480.6 671.4,480.6 672.4,480.6 673.4,480.7 674.4,480.7 675.4,480.7 676.4,480.7 677.4,480.8 678.4,480.8 679.4,480.8 680.4,480.8 681.4,480.9 682.4,480.9 683.4,480.9" fill="none" stroke="#ff2030" stroke-width="0.8"/>
<path d="M483.5,476.5 484.5,476.5 485.5,476.5 486.5,476.5 487.5,476.5 488.5,476.5 489.5,476.5 490.5,476.5 491.5,476.5 492.5,476.5 493.5,476.5 494.5,476.5 495.5,476.5 496.5,476.5 497.5,476.5 498.5,476.5 499.5,476.5 500.5,476.5 501.5,476.5 502.5,476.5 503.5,476.5 504.5,476.5 505.5,476.5 506.5,476.5 507.5,476.5 508.5,476.5 509.5,476.5 510.5,476.5 511.5,476.5 512.5,476.5 513.5,476.5 514.5,476.5 515.5,476.5 516.5,476.5 517.5,476.5 518.5,476.5 519.5,476.5 520.5,476.5 521.5,476.5 522.5,476.5 523.5,476.5 524.5,476.5 525.5,476.5 526.5,476.5 527.5,476.5 528.5,476.5 529.5,476.5 530.5,476.5 531.5,476.5 532.5,476.5 533.5,476.5 534.5,476.5 535.5,476.5 536.5,476.5 537.5,476.5 538.5,476.5 539.5,476.5 540.5,476.4 541.5,476.3 542.5,476.1 543.5,476 544.5,475.8 545.5,475.7 546.5,475.5 547.5,475.4 548.5,475.2 549.5,475.1 550.5,474.9 551.5,474.8 552.5,474.7 553.5,474.5 554.5,474.4 555.5,474.2 556.5,474 557.5,473.9 558.5,473.6 559.5,473.2 560.5,472.8 561.5,472.4 562.5,472 563.5,471.6 564.5,471.2 565.5,470.7 566.5,470.3 567.5,469.9 568.5,469.4 569.5,468.9 570.5,468.2 571.5,467.5 572.5,466.8 573.5,466.1 574.5,465.4 575.5,464.7 576.5,464 577.5,463.3 578.5,462.7 579.5,462.1 580.5,461.5 581.5,460.9 582.5,460.3 583.5,459.7 584.4,459.1 585.4,458.5 586.4,458 587.4,457.5 588.4,457.2 589.4,456.9 590.4,456.6 591.4,456.4 592.4,456.1 593.4,455.8 594.4,455.4 595.4,454.8 596.4,454.1 597.4,453.2 598.4,452 599.4,450 600.4,447.2 601.4,443.6 602.4,439 603.4,433 604.4,425.9 605.4,418.5 606.4,411.6 607.4,405.5 608.4,400.8 609.4,397.8 610.4,396.4 611.4,396.6 612.4,398.5 613.4,402.3 614.4,408 615.4,415.3 616.4,423.4 617.4,431.6 618.4,439.6 619.4,447.1 620.4,453.9 621.4,459.5 622.4,463.8 623.4,467.3 624.4,470.1 625.4,472.1 626.4,473.6 627.4,474.7 628.4,475.7 629.4,476.7 630.4,477.5 631.4,478.1 632.4,478.5 633.4,478.7 634.4,478.9 635.4,479 636.4,479.2 637.4,479.4 638.4,479.5 639.4,479.7 640.4,479.8 641.4,480 642.4,480.1 643.4,480.1 644.4,480.1 645.4,480.1 646.4,480.2 647.4,480.2 648.4,480.2 649.4,480.2 650.4,480.2 651.4,480.2 652.4,480.2 653.4,480.2 654.4,480.2 655.4,480.3 656.4,480.3 657.4,480.3 658.4,480.3 659.4,480.3 660.4,480.3 661.4,480.3 662.4,480.3 663.4,480.3 664.4,480.4 665.4,480.4 666.4,480.4 667.4,480.4 668.4,480.4 669.4,480.4 670.4,480.4 671.4,480.4 672.4,480.4 673.4,480.5 674.4,480.5 675.4,480.5 676.4,480.5 677.4,480.5 678.4,480.5 679.4,480.5 680.4,480.5 681.4,480.5 682.4,480.6 683.4,480.6" fill="none" stroke="#15152a" stroke-width="1.4" stroke-opacity="1.0" stroke-linejoin="round"/>
</g>
<rect x="486.2" y="392.5" width="24.5" height="11.2" fill="#8c98f8" fill-opacity="1.0" stroke="#4060f8" stroke-width="1.0"/>
<rect x="486.2" y="406" width="24.5" height="11.3" fill="#ff7a80" fill-opacity="1.0" stroke="#ff4a55" stroke-width="1.0"/>
<text x="513.8" y="401.5" font-size="10.5" fill="#1a1a1a">O 1</text>
<text x="513.8" y="414.8" font-size="10.5" fill="#1a1a1a">O 2</text>
<rect x="32.3" y="20.4" width="200.10" height="207.40" fill="none" stroke="#808080" stroke-width="1"/>
<line x1="32.3" y1="124.2" x2="232.4" y2="124.2" stroke="#808080" stroke-width="1"/>
<line x1="44.07" y1="227.8" x2="44.07" y2="229.60000000000002" stroke="#808080" stroke-width="0.8"/>
<line x1="91.15" y1="227.8" x2="91.15" y2="229.60000000000002" stroke="#808080" stroke-width="0.8"/>
<line x1="138.24" y1="227.8" x2="138.24" y2="229.60000000000002" stroke="#808080" stroke-width="0.8"/>
<line x1="185.32" y1="227.8" x2="185.32" y2="229.60000000000002" stroke="#808080" stroke-width="0.8"/>
<line x1="232.40" y1="227.8" x2="232.40" y2="229.60000000000002" stroke="#808080" stroke-width="0.8"/>
<line x1="67.61" y1="227.8" x2="67.61" y2="229.60000000000002" stroke="#808080" stroke-width="0.8"/>
<line x1="114.69" y1="227.8" x2="114.69" y2="229.60000000000002" stroke="#808080" stroke-width="0.8"/>
<line x1="161.78" y1="227.8" x2="161.78" y2="229.60000000000002" stroke="#808080" stroke-width="0.8"/>
<line x1="208.86" y1="227.8" x2="208.86" y2="229.60000000000002" stroke="#808080" stroke-width="0.8"/>
<text x="44.07" y="240.40" font-size="10.7" font-weight="normal" text-anchor="middle" fill="#222" >792</text>
<text x="91.15" y="240.40" font-size="10.7" font-weight="normal" text-anchor="middle" fill="#222" >788</text>
<text x="138.24" y="240.40" font-size="10.7" font-weight="normal" text-anchor="middle" fill="#222" >784</text>
<text x="185.32" y="240.40" font-size="10.7" font-weight="normal" text-anchor="middle" fill="#222" >780</text>
<text x="232.40" y="240.40" font-size="10.7" font-weight="normal" text-anchor="middle" fill="#222" >776</text>
<text x="132.35" y="255.60" font-size="10.8" font-weight="bold" text-anchor="middle" fill="#111" >Binding Energy / eV</text>
<rect x="256.6" y="20.4" width="200.90" height="207.40" fill="none" stroke="#808080" stroke-width="1"/>
<line x1="256.6" y1="124.2" x2="457.5" y2="124.2" stroke="#808080" stroke-width="1"/>
<line x1="278.92" y1="227.8" x2="278.92" y2="229.60000000000002" stroke="#808080" stroke-width="0.8"/>
<line x1="323.57" y1="227.8" x2="323.57" y2="229.60000000000002" stroke="#808080" stroke-width="0.8"/>
<line x1="368.21" y1="227.8" x2="368.21" y2="229.60000000000002" stroke="#808080" stroke-width="0.8"/>
<line x1="412.86" y1="227.8" x2="412.86" y2="229.60000000000002" stroke="#808080" stroke-width="0.8"/>
<line x1="457.50" y1="227.8" x2="457.50" y2="229.60000000000002" stroke="#808080" stroke-width="0.8"/>
<line x1="256.60" y1="227.8" x2="256.60" y2="229.60000000000002" stroke="#808080" stroke-width="0.8"/>
<line x1="301.24" y1="227.8" x2="301.24" y2="229.60000000000002" stroke="#808080" stroke-width="0.8"/>
<line x1="345.89" y1="227.8" x2="345.89" y2="229.60000000000002" stroke="#808080" stroke-width="0.8"/>
<line x1="390.53" y1="227.8" x2="390.53" y2="229.60000000000002" stroke="#808080" stroke-width="0.8"/>
<line x1="435.18" y1="227.8" x2="435.18" y2="229.60000000000002" stroke="#808080" stroke-width="0.8"/>
<text x="278.92" y="240.40" font-size="10.7" font-weight="normal" text-anchor="middle" fill="#222" >580</text>
<text x="323.57" y="240.40" font-size="10.7" font-weight="normal" text-anchor="middle" fill="#222" >578</text>
<text x="368.21" y="240.40" font-size="10.7" font-weight="normal" text-anchor="middle" fill="#222" >576</text>
<text x="412.86" y="240.40" font-size="10.7" font-weight="normal" text-anchor="middle" fill="#222" >574</text>
<text x="457.50" y="240.40" font-size="10.7" font-weight="normal" text-anchor="middle" fill="#222" >572</text>
<text x="357.05" y="255.60" font-size="10.8" font-weight="bold" text-anchor="middle" fill="#111" >Binding Energy / eV</text>
<rect x="483.5" y="20.4" width="199.90" height="207.40" fill="none" stroke="#808080" stroke-width="1"/>
<line x1="483.5" y1="124.2" x2="683.4" y2="124.2" stroke="#808080" stroke-width="1"/>
<line x1="483.50" y1="227.8" x2="483.50" y2="229.60000000000002" stroke="#808080" stroke-width="0.8"/>
<line x1="514.25" y1="227.8" x2="514.25" y2="229.60000000000002" stroke="#808080" stroke-width="0.8"/>
<line x1="545.01" y1="227.8" x2="545.01" y2="229.60000000000002" stroke="#808080" stroke-width="0.8"/>
<line x1="575.76" y1="227.8" x2="575.76" y2="229.60000000000002" stroke="#808080" stroke-width="0.8"/>
<line x1="606.52" y1="227.8" x2="606.52" y2="229.60000000000002" stroke="#808080" stroke-width="0.8"/>
<line x1="637.27" y1="227.8" x2="637.27" y2="229.60000000000002" stroke="#808080" stroke-width="0.8"/>
<line x1="668.02" y1="227.8" x2="668.02" y2="229.60000000000002" stroke="#808080" stroke-width="0.8"/>
<line x1="493.75" y1="227.8" x2="493.75" y2="229.60000000000002" stroke="#808080" stroke-width="0.8"/>
<line x1="504.00" y1="227.8" x2="504.00" y2="229.60000000000002" stroke="#808080" stroke-width="0.8"/>
<line x1="524.51" y1="227.8" x2="524.51" y2="229.60000000000002" stroke="#808080" stroke-width="0.8"/>
<line x1="534.76" y1="227.8" x2="534.76" y2="229.60000000000002" stroke="#808080" stroke-width="0.8"/>
<line x1="555.26" y1="227.8" x2="555.26" y2="229.60000000000002" stroke="#808080" stroke-width="0.8"/>
<line x1="565.51" y1="227.8" x2="565.51" y2="229.60000000000002" stroke="#808080" stroke-width="0.8"/>
<line x1="586.01" y1="227.8" x2="586.01" y2="229.60000000000002" stroke="#808080" stroke-width="0.8"/>
<line x1="596.26" y1="227.8" x2="596.26" y2="229.60000000000002" stroke="#808080" stroke-width="0.8"/>
<line x1="616.77" y1="227.8" x2="616.77" y2="229.60000000000002" stroke="#808080" stroke-width="0.8"/>
<line x1="627.02" y1="227.8" x2="627.02" y2="229.60000000000002" stroke="#808080" stroke-width="0.8"/>
<line x1="647.52" y1="227.8" x2="647.52" y2="229.60000000000002" stroke="#808080" stroke-width="0.8"/>
<line x1="657.77" y1="227.8" x2="657.77" y2="229.60000000000002" stroke="#808080" stroke-width="0.8"/>
<line x1="678.27" y1="227.8" x2="678.27" y2="229.60000000000002" stroke="#808080" stroke-width="0.8"/>
<text x="483.50" y="240.40" font-size="10.7" font-weight="normal" text-anchor="middle" fill="#222" >538</text>
<text x="514.25" y="240.40" font-size="10.7" font-weight="normal" text-anchor="middle" fill="#222" >536</text>
<text x="545.01" y="240.40" font-size="10.7" font-weight="normal" text-anchor="middle" fill="#222" >534</text>
<text x="575.76" y="240.40" font-size="10.7" font-weight="normal" text-anchor="middle" fill="#222" >532</text>
<text x="606.52" y="240.40" font-size="10.7" font-weight="normal" text-anchor="middle" fill="#222" >530</text>
<text x="637.27" y="240.40" font-size="10.7" font-weight="normal" text-anchor="middle" fill="#222" >528</text>
<text x="668.02" y="240.40" font-size="10.7" font-weight="normal" text-anchor="middle" fill="#222" >526</text>
<text x="583.45" y="255.60" font-size="10.8" font-weight="bold" text-anchor="middle" fill="#111" >Binding Energy / eV</text>
<rect x="32.3" y="283.6" width="200.10" height="207.40" fill="none" stroke="#808080" stroke-width="1"/>
<line x1="32.3" y1="387.4" x2="232.4" y2="387.4" stroke="#808080" stroke-width="1"/>
<line x1="44.07" y1="491.0" x2="44.07" y2="492.8" stroke="#808080" stroke-width="0.8"/>
<line x1="91.15" y1="491.0" x2="91.15" y2="492.8" stroke="#808080" stroke-width="0.8"/>
<line x1="138.24" y1="491.0" x2="138.24" y2="492.8" stroke="#808080" stroke-width="0.8"/>
<line x1="185.32" y1="491.0" x2="185.32" y2="492.8" stroke="#808080" stroke-width="0.8"/>
<line x1="232.40" y1="491.0" x2="232.40" y2="492.8" stroke="#808080" stroke-width="0.8"/>
<line x1="67.61" y1="491.0" x2="67.61" y2="492.8" stroke="#808080" stroke-width="0.8"/>
<line x1="114.69" y1="491.0" x2="114.69" y2="492.8" stroke="#808080" stroke-width="0.8"/>
<line x1="161.78" y1="491.0" x2="161.78" y2="492.8" stroke="#808080" stroke-width="0.8"/>
<line x1="208.86" y1="491.0" x2="208.86" y2="492.8" stroke="#808080" stroke-width="0.8"/>
<text x="44.07" y="503.60" font-size="10.7" font-weight="normal" text-anchor="middle" fill="#222" >792</text>
<text x="91.15" y="503.60" font-size="10.7" font-weight="normal" text-anchor="middle" fill="#222" >788</text>
<text x="138.24" y="503.60" font-size="10.7" font-weight="normal" text-anchor="middle" fill="#222" >784</text>
<text x="185.32" y="503.60" font-size="10.7" font-weight="normal" text-anchor="middle" fill="#222" >780</text>
<text x="232.40" y="503.60" font-size="10.7" font-weight="normal" text-anchor="middle" fill="#222" >776</text>
<text x="132.35" y="519.60" font-size="10.8" font-weight="bold" text-anchor="middle" fill="#111" >Binding Energy / eV</text>
<rect x="256.6" y="283.6" width="200.90" height="207.40" fill="none" stroke="#808080" stroke-width="1"/>
<line x1="256.6" y1="387.4" x2="457.5" y2="387.4" stroke="#808080" stroke-width="1"/>
<line x1="278.92" y1="491.0" x2="278.92" y2="492.8" stroke="#808080" stroke-width="0.8"/>
<line x1="323.57" y1="491.0" x2="323.57" y2="492.8" stroke="#808080" stroke-width="0.8"/>
<line x1="368.21" y1="491.0" x2="368.21" y2="492.8" stroke="#808080" stroke-width="0.8"/>
<line x1="412.86" y1="491.0" x2="412.86" y2="492.8" stroke="#808080" stroke-width="0.8"/>
<line x1="457.50" y1="491.0" x2="457.50" y2="492.8" stroke="#808080" stroke-width="0.8"/>
<line x1="256.60" y1="491.0" x2="256.60" y2="492.8" stroke="#808080" stroke-width="0.8"/>
<line x1="301.24" y1="491.0" x2="301.24" y2="492.8" stroke="#808080" stroke-width="0.8"/>
<line x1="345.89" y1="491.0" x2="345.89" y2="492.8" stroke="#808080" stroke-width="0.8"/>
<line x1="390.53" y1="491.0" x2="390.53" y2="492.8" stroke="#808080" stroke-width="0.8"/>
<line x1="435.18" y1="491.0" x2="435.18" y2="492.8" stroke="#808080" stroke-width="0.8"/>
<text x="278.92" y="503.60" font-size="10.7" font-weight="normal" text-anchor="middle" fill="#222" >580</text>
<text x="323.57" y="503.60" font-size="10.7" font-weight="normal" text-anchor="middle" fill="#222" >578</text>
<text x="368.21" y="503.60" font-size="10.7" font-weight="normal" text-anchor="middle" fill="#222" >576</text>
<text x="412.86" y="503.60" font-size="10.7" font-weight="normal" text-anchor="middle" fill="#222" >574</text>
<text x="457.50" y="503.60" font-size="10.7" font-weight="normal" text-anchor="middle" fill="#222" >572</text>
<text x="357.05" y="519.60" font-size="10.8" font-weight="bold" text-anchor="middle" fill="#111" >Binding Energy / eV</text>
<rect x="483.5" y="283.6" width="199.90" height="207.40" fill="none" stroke="#808080" stroke-width="1"/>
<line x1="483.5" y1="387.4" x2="683.4" y2="387.4" stroke="#808080" stroke-width="1"/>
<line x1="483.50" y1="491.0" x2="483.50" y2="492.8" stroke="#808080" stroke-width="0.8"/>
<line x1="514.25" y1="491.0" x2="514.25" y2="492.8" stroke="#808080" stroke-width="0.8"/>
<line x1="545.01" y1="491.0" x2="545.01" y2="492.8" stroke="#808080" stroke-width="0.8"/>
<line x1="575.76" y1="491.0" x2="575.76" y2="492.8" stroke="#808080" stroke-width="0.8"/>
<line x1="606.52" y1="491.0" x2="606.52" y2="492.8" stroke="#808080" stroke-width="0.8"/>
<line x1="637.27" y1="491.0" x2="637.27" y2="492.8" stroke="#808080" stroke-width="0.8"/>
<line x1="668.02" y1="491.0" x2="668.02" y2="492.8" stroke="#808080" stroke-width="0.8"/>
<line x1="493.75" y1="491.0" x2="493.75" y2="492.8" stroke="#808080" stroke-width="0.8"/>
<line x1="504.00" y1="491.0" x2="504.00" y2="492.8" stroke="#808080" stroke-width="0.8"/>
<line x1="524.51" y1="491.0" x2="524.51" y2="492.8" stroke="#808080" stroke-width="0.8"/>
<line x1="534.76" y1="491.0" x2="534.76" y2="492.8" stroke="#808080" stroke-width="0.8"/>
<line x1="555.26" y1="491.0" x2="555.26" y2="492.8" stroke="#808080" stroke-width="0.8"/>
<line x1="565.51" y1="491.0" x2="565.51" y2="492.8" stroke="#808080" stroke-width="0.8"/>
<line x1="586.01" y1="491.0" x2="586.01" y2="492.8" stroke="#808080" stroke-width="0.8"/>
<line x1="596.26" y1="491.0" x2="596.26" y2="492.8" stroke="#808080" stroke-width="0.8"/>
<line x1="616.77" y1="491.0" x2="616.77" y2="492.8" stroke="#808080" stroke-width="0.8"/>
<line x1="627.02" y1="491.0" x2="627.02" y2="492.8" stroke="#808080" stroke-width="0.8"/>
<line x1="647.52" y1="491.0" x2="647.52" y2="492.8" stroke="#808080" stroke-width="0.8"/>
<line x1="657.77" y1="491.0" x2="657.77" y2="492.8" stroke="#808080" stroke-width="0.8"/>
<line x1="678.27" y1="491.0" x2="678.27" y2="492.8" stroke="#808080" stroke-width="0.8"/>
<text x="483.50" y="503.60" font-size="10.7" font-weight="normal" text-anchor="middle" fill="#222" >538</text>
<text x="514.25" y="503.60" font-size="10.7" font-weight="normal" text-anchor="middle" fill="#222" >536</text>
<text x="545.01" y="503.60" font-size="10.7" font-weight="normal" text-anchor="middle" fill="#222" >534</text>
<text x="575.76" y="503.60" font-size="10.7" font-weight="normal" text-anchor="middle" fill="#222" >532</text>
<text x="606.52" y="503.60" font-size="10.7" font-weight="normal" text-anchor="middle" fill="#222" >530</text>
<text x="637.27" y="503.60" font-size="10.7" font-weight="normal" text-anchor="middle" fill="#222" >528</text>
<text x="668.02" y="503.60" font-size="10.7" font-weight="normal" text-anchor="middle" fill="#222" >526</text>
<text x="583.45" y="519.60" font-size="10.8" font-weight="bold" text-anchor="middle" fill="#111" >Binding Energy / eV</text>
<text x="317.2" y="13.6" font-size="18.4" fill="#111">CoCr<tspan font-size="12.2" dy="4.6">2</tspan><tspan dy="-4.6">O</tspan><tspan font-size="12.2" dy="4.6">4</tspan></text>
<text x="317.2" y="276.8" font-size="18.4" fill="#111">Co<tspan font-size="12.2" dy="4.6">2</tspan><tspan dy="-4.6">CrO</tspan><tspan font-size="12.2" dy="4.6">4</tspan></text>
<text x="20.70" y="35.00" font-size="16.5" font-weight="bold" text-anchor="start" fill="#000" >a</text>
<text x="245.00" y="35.10" font-size="16.5" font-weight="bold" text-anchor="start" fill="#000" >b</text>
<text x="468.00" y="35.00" font-size="16.5" font-weight="bold" text-anchor="start" fill="#000" >c</text>
<text x="20.90" y="292.60" font-size="16.5" font-weight="bold" text-anchor="start" fill="#000" >d</text>
<text x="244.00" y="293.00" font-size="16.5" font-weight="bold" text-anchor="start" fill="#000" >e</text>
<text x="467.90" y="292.80" font-size="16.5" font-weight="bold" text-anchor="start" fill="#000" >f</text>
<text transform="translate(10.5,68.8) rotate(-90)" font-size="13.8" font-weight="bold" text-anchor="middle" fill="#000">Pristine</text>
<text transform="translate(10.5,180.5) rotate(-90)" font-size="13.8" font-weight="bold" text-anchor="middle" fill="#000">After 1000 cycles</text>
<text transform="translate(10.5,323.2) rotate(-90)" font-size="13.8" font-weight="bold" text-anchor="middle" fill="#000">Pristine</text>
<text transform="translate(10.5,435.6) rotate(-90)" font-size="13.8" font-weight="bold" text-anchor="middle" fill="#000">After 1000 cycles</text>
<text transform="translate(27.7,128.8) rotate(-90)" font-size="11.6" stroke="#111" stroke-width="0.35" text-anchor="middle" fill="#111">Intensity / arb. units</text>
<text transform="translate(251.5,127.65) rotate(-90)" font-size="10.64" font-weight="bold" text-anchor="middle" fill="#111">Intensity / arb. units</text>
<text transform="translate(477.7,128.7) rotate(-90)" font-size="10.7" font-weight="bold" text-anchor="middle" fill="#111">Intensity / arb. units</text>
<text transform="translate(27.7,392.0) rotate(-90)" font-size="11.6" stroke="#111" stroke-width="0.35" text-anchor="middle" fill="#111">Intensity / arb. units</text>
<text transform="translate(251.5,390.85) rotate(-90)" font-size="10.64" font-weight="bold" text-anchor="middle" fill="#111">Intensity / arb. units</text>
<text transform="translate(477.7,391.9) rotate(-90)" font-size="10.7" font-weight="bold" text-anchor="middle" fill="#111">Intensity / arb. units</text>
<text x="227.5" y="33.8" font-size="11.3" font-weight="bold" text-anchor="end" fill="#000">Co 2<tspan font-style="italic">p</tspan><tspan font-size="7.5" dy="3.1">3/2</tspan></text>
<text x="450.5" y="33.8" font-size="11.3" font-weight="bold" text-anchor="end" fill="#000">Cr 2<tspan font-style="italic">p</tspan><tspan font-size="7.5" dy="3.1">3/2</tspan></text>
<text x="678.3" y="33.8" font-size="11" font-weight="bold" text-anchor="end" fill="#000">O 1<tspan font-style="italic">s</tspan></text>
<text x="227.5" y="297.5" font-size="11.3" font-weight="bold" text-anchor="end" fill="#000">Co 2<tspan font-style="italic">p</tspan><tspan font-size="7.5" dy="3.1">3/2</tspan></text>
<text x="450.5" y="297.5" font-size="11.3" font-weight="bold" text-anchor="end" fill="#000">Cr 2<tspan font-style="italic">p</tspan><tspan font-size="7.5" dy="3.1">3/2</tspan></text>
<text x="678.3" y="297.5" font-size="11" font-weight="bold" text-anchor="end" fill="#000">O 1<tspan font-style="italic">s</tspan></text>
</svg></body></html>
